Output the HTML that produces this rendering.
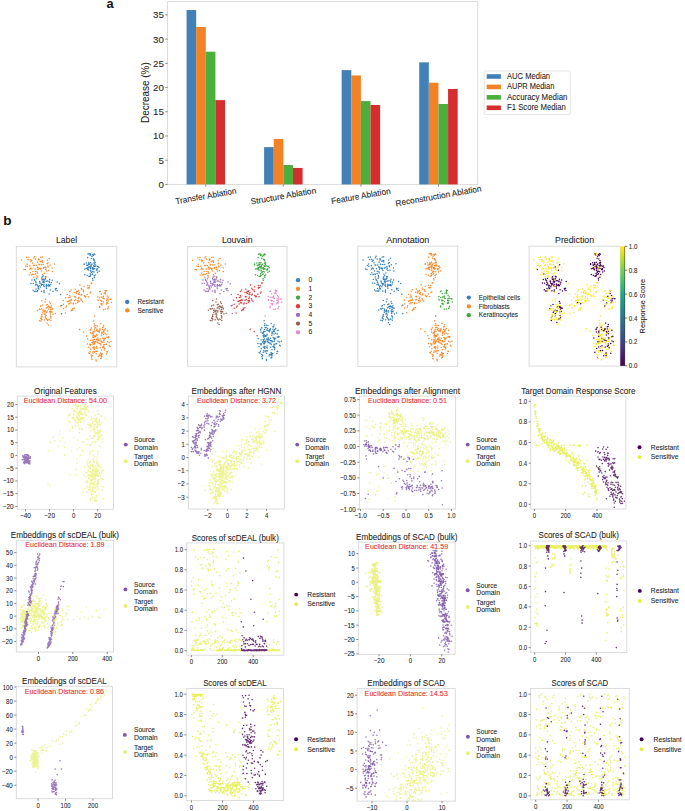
<!DOCTYPE html><html><head><meta charset="utf-8"><style>html,body{margin:0;padding:0;background:#fff;overflow:hidden;width:685px;height:811px;}svg{display:block;font-family:"Liberation Sans",sans-serif;}</style></head><body>
<svg width="685" height="811" viewBox="0 0 685 811">
<rect width="685" height="811" fill="#fff"/>
<text x="110" y="3.6" font-size="12.8" text-anchor="middle" dominant-baseline="central" fill="#111" font-weight="bold">a</text>
<rect x="167.6" y="1.5" width="310.1" height="182.9" fill="none" stroke="#d8d8d8" stroke-width="0.9"/>
<line x1="165.3" y1="184.4" x2="167.6" y2="184.4" stroke="#555" stroke-width="0.7"/>
<text x="163.9" y="184.4" font-size="9.86" text-anchor="end" dominant-baseline="central" fill="#222" textLength="5.41" lengthAdjust="spacingAndGlyphs" stroke="#222" stroke-width="0.07">0</text>
<line x1="165.3" y1="160.19" x2="167.6" y2="160.19" stroke="#555" stroke-width="0.7"/>
<text x="163.9" y="160.19" font-size="9.86" text-anchor="end" dominant-baseline="central" fill="#222" textLength="5.41" lengthAdjust="spacingAndGlyphs" stroke="#222" stroke-width="0.07">5</text>
<line x1="165.3" y1="135.97" x2="167.6" y2="135.97" stroke="#555" stroke-width="0.7"/>
<text x="163.9" y="135.97" font-size="9.86" text-anchor="end" dominant-baseline="central" fill="#222" textLength="10.82" lengthAdjust="spacingAndGlyphs" stroke="#222" stroke-width="0.07">10</text>
<line x1="165.3" y1="111.76" x2="167.6" y2="111.76" stroke="#555" stroke-width="0.7"/>
<text x="163.9" y="111.76" font-size="9.86" text-anchor="end" dominant-baseline="central" fill="#222" textLength="10.82" lengthAdjust="spacingAndGlyphs" stroke="#222" stroke-width="0.07">15</text>
<line x1="165.3" y1="87.54" x2="167.6" y2="87.54" stroke="#555" stroke-width="0.7"/>
<text x="163.9" y="87.54" font-size="9.86" text-anchor="end" dominant-baseline="central" fill="#222" textLength="10.82" lengthAdjust="spacingAndGlyphs" stroke="#222" stroke-width="0.07">20</text>
<line x1="165.3" y1="63.33" x2="167.6" y2="63.33" stroke="#555" stroke-width="0.7"/>
<text x="163.9" y="63.33" font-size="9.86" text-anchor="end" dominant-baseline="central" fill="#222" textLength="10.82" lengthAdjust="spacingAndGlyphs" stroke="#222" stroke-width="0.07">25</text>
<line x1="165.3" y1="39.11" x2="167.6" y2="39.11" stroke="#555" stroke-width="0.7"/>
<text x="163.9" y="39.11" font-size="9.86" text-anchor="end" dominant-baseline="central" fill="#222" textLength="10.82" lengthAdjust="spacingAndGlyphs" stroke="#222" stroke-width="0.07">30</text>
<line x1="165.3" y1="14.9" x2="167.6" y2="14.9" stroke="#555" stroke-width="0.7"/>
<text x="163.9" y="14.9" font-size="9.86" text-anchor="end" dominant-baseline="central" fill="#222" textLength="10.82" lengthAdjust="spacingAndGlyphs" stroke="#222" stroke-width="0.07">35</text>
<text x="145.6" y="92.6" font-size="10.44" text-anchor="middle" dominant-baseline="central" fill="#222" transform="rotate(-90 145.6 92.6)" textLength="60.63" lengthAdjust="spacingAndGlyphs" stroke="#222" stroke-width="0.07">Decrease (%)</text>
<rect x="186.56" y="10.05" width="9.62" height="174.35" fill="#4281b8"/>
<rect x="196.18" y="27" width="9.62" height="157.4" fill="#f18226"/>
<rect x="205.8" y="51.7" width="9.62" height="132.7" fill="#4bae3d"/>
<rect x="215.42" y="100.13" width="9.62" height="84.27" fill="#d62e2e"/>
<line x1="205.8" y1="184.4" x2="205.8" y2="186.6" stroke="#555" stroke-width="0.7"/>
<text x="205.8" y="195.9" font-size="8.47" text-anchor="middle" dominant-baseline="central" fill="#222" transform="rotate(-10 205.8 195.9)" textLength="61.78" lengthAdjust="spacingAndGlyphs" stroke="#222" stroke-width="0.07">Transfer Ablation</text>
<rect x="264.11" y="147.11" width="9.62" height="37.29" fill="#4281b8"/>
<rect x="273.73" y="138.88" width="9.62" height="45.52" fill="#f18226"/>
<rect x="283.35" y="165.03" width="9.62" height="19.37" fill="#4bae3d"/>
<rect x="292.97" y="167.93" width="9.62" height="16.47" fill="#d62e2e"/>
<line x1="283.35" y1="184.4" x2="283.35" y2="186.6" stroke="#555" stroke-width="0.7"/>
<text x="283.35" y="195.9" font-size="8.47" text-anchor="middle" dominant-baseline="central" fill="#222" transform="rotate(-10 283.35 195.9)" textLength="66.39" lengthAdjust="spacingAndGlyphs" stroke="#222" stroke-width="0.07">Structure Ablation</text>
<rect x="341.66" y="70.11" width="9.62" height="114.29" fill="#4281b8"/>
<rect x="351.28" y="75.43" width="9.62" height="108.97" fill="#f18226"/>
<rect x="360.9" y="101.1" width="9.62" height="83.3" fill="#4bae3d"/>
<rect x="370.52" y="104.97" width="9.62" height="79.43" fill="#d62e2e"/>
<line x1="360.9" y1="184.4" x2="360.9" y2="186.6" stroke="#555" stroke-width="0.7"/>
<text x="360.9" y="195.9" font-size="8.47" text-anchor="middle" dominant-baseline="central" fill="#222" transform="rotate(-10 360.9 195.9)" textLength="60.02" lengthAdjust="spacingAndGlyphs" stroke="#222" stroke-width="0.07">Feature Ablation</text>
<rect x="419.21" y="62.36" width="9.62" height="122.04" fill="#4281b8"/>
<rect x="428.83" y="82.7" width="9.62" height="101.7" fill="#f18226"/>
<rect x="438.45" y="104.01" width="9.62" height="80.39" fill="#4bae3d"/>
<rect x="448.07" y="88.99" width="9.62" height="95.41" fill="#d62e2e"/>
<line x1="438.45" y1="184.4" x2="438.45" y2="186.6" stroke="#555" stroke-width="0.7"/>
<text x="438.45" y="195.9" font-size="8.47" text-anchor="middle" dominant-baseline="central" fill="#222" transform="rotate(-10 438.45 195.9)" textLength="87.07" lengthAdjust="spacingAndGlyphs" stroke="#222" stroke-width="0.07">Reconstruction Ablation</text>
<rect x="484.2" y="71" width="86" height="43.5" fill="#fff" stroke="#dedede" stroke-width="0.8" rx="1.5"/>
<rect x="486.7" y="74.2" width="14.2" height="4.6" fill="#4281b8"/>
<text x="507" y="76.5" font-size="8.24" text-anchor="start" dominant-baseline="central" fill="#222" textLength="43.09" lengthAdjust="spacingAndGlyphs" stroke="#222" stroke-width="0.07">AUC Median</text>
<rect x="486.7" y="84.63" width="14.2" height="4.6" fill="#f18226"/>
<text x="507" y="86.93" font-size="8.24" text-anchor="start" dominant-baseline="central" fill="#222" textLength="47.35" lengthAdjust="spacingAndGlyphs" stroke="#222" stroke-width="0.07">AUPR Median</text>
<rect x="486.7" y="95.06" width="14.2" height="4.6" fill="#4bae3d"/>
<text x="507" y="97.36" font-size="8.24" text-anchor="start" dominant-baseline="central" fill="#222" textLength="60.50" lengthAdjust="spacingAndGlyphs" stroke="#222" stroke-width="0.07">Accuracy Median</text>
<rect x="486.7" y="105.49" width="14.2" height="4.6" fill="#d62e2e"/>
<text x="507" y="107.79" font-size="8.24" text-anchor="start" dominant-baseline="central" fill="#222" textLength="58.83" lengthAdjust="spacingAndGlyphs" stroke="#222" stroke-width="0.07">F1 Score Median</text>
<text x="7.3" y="220.9" font-size="13.5" text-anchor="middle" dominant-baseline="central" fill="#111" font-weight="bold">b</text>
<rect x="16.3" y="246.3" width="100.5" height="120.6" fill="none" stroke="#d8d8d8" stroke-width="0.9"/>
<text x="66.6" y="240" font-size="9.11" text-anchor="middle" dominant-baseline="central" fill="#222" textLength="21.18" lengthAdjust="spacingAndGlyphs" stroke="#222" stroke-width="0.07">Label</text>
<path d="M38.2 269.5h0M30.8 261.5h0M37.1 277.0h0M31.9 268.9h0M41.1 261.2h0M47.3 260.1h0M21.5 260.1h0M40.9 269.3h0M38.0 268.0h0M35.6 259.1h0M50.0 265.0h0M47.9 266.0h0M39.6 268.2h0M37.2 277.1h0M46.6 270.9h0M27.1 264.3h0M35.7 271.6h0M42.7 279.5h0M41.3 264.8h0M28.2 259.7h0M45.4 278.2h0M30.0 269.5h0M34.4 265.3h0M45.7 267.2h0M33.9 277.3h0M35.2 268.9h0M38.5 259.0h0M32.6 274.2h0M37.3 272.0h0M48.6 270.6h0M25.8 265.9h0M29.8 265.8h0M31.7 260.5h0M43.6 267.7h0M44.5 273.2h0M37.8 267.4h0M42.4 262.2h0M40.3 268.6h0M27.3 266.5h0M47.1 263.8h0M42.3 257.1h0M52.4 271.4h0M38.6 260.1h0M33.5 265.4h0M34.6 256.6h0M35.6 273.7h0M32.5 263.0h0M39.3 264.8h0M26.8 257.5h0M33.9 258.0h0M29.2 274.9h0M37.6 262.3h0M45.6 269.5h0M30.7 268.3h0M39.0 259.2h0M52.1 267.9h0M39.0 264.2h0M45.1 267.2h0M37.0 275.7h0M43.1 264.6h0M46.1 277.1h0M42.5 274.5h0M48.1 267.0h0M25.4 269.6h0M54.5 263.9h0M48.0 262.8h0M49.2 258.5h0M41.0 268.5h0M40.3 261.5h0M38.5 260.1h0M43.5 268.5h0M30.2 259.8h0M29.9 266.1h0M41.5 270.9h0M24.0 269.4h0M40.7 257.2h0M45.8 269.1h0M34.0 274.6h0M31.5 275.1h0M28.9 257.2h0M40.0 268.2h0M37.7 273.2h0M42.3 260.8h0M30.4 273.0h0M37.3 266.9h0M33.0 271.4h0M37.9 267.8h0M36.3 265.3h0" stroke="#f8892a" stroke-width="1.50" stroke-linecap="round"/>
<path d="M47.1 285.5h0M40.0 283.3h0M57.1 290.8h0M49.8 286.1h0M42.4 284.4h0M56.6 288.6h0M39.8 282.0h0M48.5 285.9h0M35.5 285.1h0M41.3 284.2h0M45.3 276.7h0M37.6 290.4h0M49.1 294.0h0M49.3 282.2h0M44.4 280.0h0M42.8 279.7h0M34.4 279.4h0M37.2 291.5h0M46.5 288.6h0M42.9 282.2h0M39.2 285.7h0M52.2 280.3h0M40.4 287.1h0M46.2 287.1h0M44.1 286.6h0M49.2 285.8h0M33.1 290.2h0M43.2 276.0h0M39.0 289.0h0M46.2 281.2h0M44.0 284.5h0M45.4 279.1h0M53.0 291.5h0M48.6 284.8h0M41.7 278.3h0M50.8 284.4h0M38.1 286.5h0M41.4 291.2h0M34.7 280.3h0M55.3 288.8h0M41.4 283.9h0M57.2 281.9h0M31.0 283.4h0M34.4 291.4h0M36.0 282.7h0M44.0 282.5h0M42.0 279.8h0M44.1 290.4h0M44.5 281.9h0M51.3 282.6h0M38.2 287.6h0M38.4 288.8h0M49.3 285.2h0M43.6 285.8h0M37.2 285.3h0M49.7 279.5h0M44.0 291.6h0M35.7 281.4h0M47.5 281.0h0M49.1 281.3h0M36.6 278.8h0M59.4 283.7h0M44.2 286.4h0M31.9 279.9h0M50.4 290.0h0M33.3 283.5h0M35.8 291.3h0M42.1 277.1h0M55.6 290.0h0M41.3 285.3h0M43.7 279.3h0M44.1 292.7h0M43.3 281.2h0M39.6 281.4h0M36.1 288.9h0M46.5 284.5h0M36.8 284.2h0M46.3 285.5h0M92.0 256.4h0M92.1 268.0h0M89.8 263.9h0M90.5 262.5h0M86.4 268.6h0M93.6 265.7h0M94.1 254.0h0M92.7 269.0h0M88.8 264.8h0M93.6 268.4h0M94.1 275.8h0M92.7 254.8h0M93.3 255.3h0M88.9 276.6h0M92.9 280.3h0M91.2 264.9h0M88.6 270.1h0M92.2 274.5h0M91.4 272.4h0M96.4 269.9h0M93.3 259.1h0M94.2 266.4h0M84.2 264.0h0M90.2 273.7h0M89.0 266.7h0M94.1 272.1h0M96.7 269.2h0M95.2 262.6h0M91.0 266.4h0M97.6 266.6h0M87.4 265.4h0M95.2 274.9h0M87.6 269.4h0M84.9 274.8h0M93.9 263.1h0M90.6 275.3h0M87.9 268.4h0M94.7 268.8h0M92.0 264.1h0M92.6 273.9h0M89.7 276.2h0M92.6 278.6h0M87.4 267.7h0M88.0 254.1h0M94.6 260.9h0M92.6 271.6h0M93.9 259.9h0M87.1 275.5h0M88.4 264.1h0M94.8 254.5h0M95.9 265.9h0M90.1 276.2h0M94.6 262.9h0M99.2 271.2h0M90.8 270.2h0M90.2 253.8h0M88.4 264.3h0M97.1 268.8h0M86.3 262.9h0M85.0 269.1h0M90.3 266.2h0M89.0 253.8h0M97.5 272.2h0M98.1 266.4h0M90.4 267.5h0M91.3 258.4h0M90.6 270.9h0M86.7 265.2h0M92.9 267.7h0M88.7 267.4h0M88.7 262.7h0M94.4 277.6h0M95.0 264.5h0M94.1 259.7h0M90.0 255.2h0M93.3 269.2h0M90.8 255.0h0M87.6 257.4h0M94.8 265.9h0M92.1 271.7h0M97.1 270.1h0M93.5 255.6h0M90.5 268.4h0M98.9 267.6h0M84.1 264.6h0" stroke="#3580bb" stroke-width="1.50" stroke-linecap="round"/>
<path d="M42.8 312.7h0M49.2 306.8h0M41.4 308.7h0M50.4 303.7h0M46.3 304.9h0M39.2 309.0h0M45.5 299.2h0M50.5 316.0h0M42.0 316.6h0M40.6 306.2h0M47.6 320.4h0M51.2 307.7h0M43.9 311.4h0M52.5 308.5h0M45.0 312.1h0M53.1 314.3h0M40.9 318.3h0M50.3 313.9h0M45.9 315.4h0M44.3 314.3h0M47.1 311.1h0M46.3 318.4h0M45.2 316.8h0M47.4 304.4h0M45.3 317.4h0M47.0 323.2h0M51.8 311.7h0M47.4 307.2h0M50.1 312.3h0M51.0 317.1h0M46.8 319.5h0M42.9 310.7h0M39.5 320.7h0M40.9 321.1h0M39.9 309.4h0M52.4 308.9h0M50.0 307.4h0M46.3 308.1h0M46.8 312.2h0M44.3 320.1h0M50.9 320.7h0M50.5 309.7h0M41.6 316.8h0M50.2 311.5h0M49.7 311.5h0M41.3 319.0h0M42.0 314.7h0M41.9 300.7h0M48.9 319.4h0M51.7 312.2h0M49.3 319.7h0M45.2 310.9h0M41.9 319.5h0M48.8 306.1h0M48.4 309.0h0M48.3 324.9h0M43.1 309.3h0M46.8 312.4h0M37.4 310.4h0M48.3 306.8h0M45.3 314.0h0M49.7 302.1h0M44.8 311.6h0M55.3 313.4h0M41.6 316.2h0M50.6 311.7h0M50.9 309.5h0M45.1 302.0h0M40.9 305.7h0M51.5 306.1h0M50.9 318.3h0M50.2 307.5h0M40.7 318.3h0M42.7 305.1h0M45.1 310.4h0M78.3 294.0h0M71.0 303.1h0M67.4 301.5h0M77.7 291.5h0M83.7 291.7h0M71.5 300.3h0M81.8 289.6h0M66.5 306.1h0M77.8 302.5h0M81.7 294.4h0M74.7 296.7h0M71.1 310.8h0M69.1 300.8h0M76.1 292.8h0M79.0 301.5h0M63.5 304.3h0M79.3 294.5h0M78.7 297.3h0M68.8 297.5h0M68.6 304.1h0M75.2 297.2h0M84.0 286.8h0M60.5 306.0h0M74.3 292.5h0M78.2 298.7h0M69.8 291.6h0M74.4 300.5h0M69.7 303.0h0M71.0 290.1h0M68.1 301.4h0M84.3 295.5h0M87.3 294.4h0M87.8 285.5h0M79.9 285.1h0M71.2 299.6h0M67.3 294.5h0M78.7 300.7h0M75.4 296.8h0M79.3 292.8h0M91.1 283.2h0M65.7 297.8h0M88.0 287.7h0M85.3 296.9h0M70.1 300.9h0M85.0 296.7h0M90.0 293.1h0M63.5 308.4h0M75.8 303.6h0M72.7 309.9h0M80.8 298.9h0M69.8 300.4h0M81.4 300.2h0M69.6 295.6h0M78.3 290.8h0M70.1 297.1h0M81.4 288.4h0M74.3 308.0h0M77.4 300.8h0M88.0 288.4h0M73.5 303.2h0M89.3 287.7h0M89.6 285.8h0M63.1 300.4h0M72.8 308.5h0M75.2 297.0h0M76.7 293.5h0M76.4 291.3h0M83.4 290.2h0M73.2 304.1h0M82.5 301.4h0M75.1 289.3h0M91.7 283.0h0M65.4 313.1h0M85.8 296.4h0M71.9 310.0h0M75.6 299.7h0M81.1 295.3h0M66.0 307.2h0M99.5 291.7h0M98.2 300.5h0M102.0 304.9h0M103.4 309.7h0M100.1 291.4h0M106.0 291.1h0M106.9 302.8h0M107.2 302.8h0M103.5 301.9h0M107.8 308.9h0M108.6 306.8h0M105.3 292.4h0M111.0 299.2h0M97.9 299.9h0M104.1 298.7h0M110.0 299.1h0M101.6 297.3h0M99.7 297.7h0M105.2 309.2h0M105.6 294.0h0M101.9 303.6h0M108.0 301.1h0M107.2 295.9h0M97.8 296.7h0M104.2 293.6h0M106.6 290.8h0M100.9 303.9h0M108.2 297.3h0M100.6 300.4h0M105.2 290.4h0M106.6 300.7h0M101.9 300.9h0M99.7 307.4h0M106.9 299.0h0M103.3 296.3h0M107.8 303.3h0M101.1 301.1h0M108.1 299.2h0M101.3 293.9h0M103.2 296.8h0M103.1 298.2h0M111.4 302.4h0M107.9 308.3h0M99.8 306.5h0M106.4 304.0h0M94.6 347.3h0M94.5 335.9h0M100.2 347.8h0M104.3 338.8h0M103.0 347.4h0M101.8 341.5h0M90.9 344.6h0M97.8 338.1h0M96.1 360.0h0M105.3 328.8h0M99.2 330.9h0M91.8 358.9h0M110.0 346.4h0M98.7 356.5h0M99.2 343.3h0M99.3 330.2h0M104.3 349.9h0M94.5 343.0h0M90.1 351.7h0M101.8 356.4h0M103.9 338.8h0M102.1 333.2h0M98.0 339.6h0M87.7 338.8h0M99.9 330.1h0M90.7 340.3h0M94.3 337.1h0M96.5 339.5h0M93.4 331.5h0M93.2 333.4h0M93.0 344.1h0M94.1 344.2h0M101.5 335.7h0M93.0 332.6h0M105.2 333.7h0M107.0 337.3h0M92.1 333.7h0M95.6 336.7h0M103.7 344.8h0M100.7 358.5h0M103.4 327.1h0M98.7 340.1h0M105.2 338.6h0M97.5 340.3h0M90.5 332.7h0M100.2 338.7h0M93.5 342.1h0M92.0 359.3h0M96.1 351.3h0M96.4 339.2h0M102.6 327.4h0M96.4 330.2h0M92.3 342.7h0M103.1 332.0h0M92.9 347.7h0M107.7 337.5h0M101.5 354.0h0M106.4 344.2h0M107.7 341.7h0M100.3 343.7h0M97.2 351.2h0M103.7 346.6h0M103.6 334.5h0M94.7 352.2h0M103.9 340.2h0M92.9 336.1h0M93.5 335.1h0M92.2 355.7h0M94.4 324.0h0M106.8 351.7h0M93.3 341.0h0M89.5 353.4h0M94.8 351.4h0M102.5 329.6h0M108.6 337.4h0M106.2 344.3h0M96.6 334.6h0M100.0 355.3h0M88.5 347.2h0M102.3 354.0h0M92.7 352.9h0M94.3 339.5h0M90.2 330.2h0M104.4 330.0h0M103.8 342.0h0M100.9 344.9h0M96.1 353.7h0M106.9 334.5h0M101.7 333.9h0M91.1 355.0h0M95.3 336.0h0M99.3 332.2h0M96.5 339.8h0M90.8 349.2h0M94.8 327.9h0M101.7 332.3h0M106.5 354.0h0M97.2 331.0h0M101.3 355.0h0M107.4 352.0h0M102.7 347.1h0M100.8 353.5h0M111.1 341.6h0M98.6 340.1h0M97.1 328.9h0M100.6 352.9h0M101.6 350.1h0M94.5 349.3h0M92.2 342.6h0M102.9 338.0h0M109.3 345.7h0M108.9 337.1h0M97.6 342.1h0M99.2 354.9h0M98.2 339.8h0M93.1 337.3h0M95.3 341.5h0M102.3 342.2h0M101.4 341.8h0M101.3 358.1h0M104.0 331.9h0M97.0 342.1h0M107.8 330.7h0M89.7 344.3h0M96.8 335.4h0M94.1 348.5h0M96.4 348.1h0M98.2 331.5h0M99.9 341.0h0M97.5 325.9h0M101.2 341.1h0M107.5 330.9h0M94.2 330.0h0M95.8 325.6h0M90.5 329.6h0M94.5 342.0h0M104.8 339.1h0M103.7 330.8h0M104.1 348.0h0M108.6 336.9h0M90.5 345.5h0M100.0 329.1h0M96.7 346.5h0M93.1 351.3h0M95.8 327.8h0M103.7 325.2h0M104.1 338.7h0M91.6 357.0h0M100.8 323.7h0M101.2 356.3h0M97.9 342.8h0M88.8 353.0h0M91.4 328.1h0M104.7 344.5h0M94.1 343.9h0M94.0 347.0h0M96.1 360.9h0M104.7 348.5h0M109.2 342.6h0M92.7 340.0h0M96.9 348.4h0M94.7 342.8h0M94.2 329.9h0M87.4 344.0h0M94.7 331.8h0M79.6 329.5h0M83.6 331.9h0M86.6 336.1h0M93.7 321.1h0M94.2 325.9h0M94.7 316.2h0" stroke="#f8892a" stroke-width="1.50" stroke-linecap="round"/>
<path d="M61.5 305.4h0M61.5 313.8h0M60.5 294.5h0" stroke="#3580bb" stroke-width="1.50" stroke-linecap="round"/>
<path d="M90.7 292.1h0M88.7 297.0h0" stroke="#f8892a" stroke-width="1.50" stroke-linecap="round"/>
<rect x="187.5" y="246.5" width="99.5" height="119.8" fill="none" stroke="#d8d8d8" stroke-width="0.9"/>
<text x="237.2" y="240" font-size="9.11" text-anchor="middle" dominant-baseline="central" fill="#222" textLength="30.63" lengthAdjust="spacingAndGlyphs" stroke="#222" stroke-width="0.07">Louvain</text>
<path d="M209.1 269.5h0M201.9 261.6h0M208.1 277.0h0M203.0 269.0h0M212.0 261.3h0M218.2 260.2h0M192.6 260.2h0M211.9 269.4h0M209.0 268.1h0M206.6 259.2h0M220.8 265.1h0M218.8 266.1h0M210.5 268.2h0M208.2 277.1h0M217.5 270.9h0M198.2 264.3h0M206.8 271.6h0M213.7 279.5h0M212.2 264.9h0M199.3 259.8h0M216.3 278.1h0M201.1 269.5h0M205.4 265.4h0M216.6 267.3h0M204.9 277.3h0M206.2 269.0h0M209.5 259.1h0M203.6 274.2h0M208.3 272.0h0M219.5 270.6h0M196.9 265.9h0M200.9 265.9h0M202.7 260.6h0M214.5 267.7h0M215.4 273.2h0M208.8 267.5h0M213.4 262.3h0M211.3 268.7h0M198.4 266.5h0M218.0 263.9h0M213.2 257.2h0M223.3 271.4h0M209.6 260.2h0M204.6 265.5h0M205.7 256.7h0M206.6 273.7h0M203.6 263.1h0M210.2 264.9h0M197.9 257.7h0M204.9 258.1h0M200.2 274.9h0M208.6 262.4h0M216.5 269.5h0M201.8 268.3h0M210.0 259.3h0M223.0 268.0h0M210.0 264.3h0M216.0 267.3h0M208.0 275.7h0M214.1 264.7h0M217.0 277.1h0M213.5 274.5h0M219.0 267.1h0M196.5 269.7h0M225.3 264.0h0M218.9 262.9h0M220.0 258.6h0M212.0 268.6h0M211.3 261.6h0M209.5 260.2h0M214.4 268.6h0M201.3 259.9h0M200.9 266.1h0M212.4 270.9h0M195.1 269.4h0M211.7 257.4h0M216.7 269.2h0M205.1 274.6h0M202.5 275.1h0M200.0 257.4h0M211.0 268.3h0M208.7 273.2h0M213.2 260.9h0M201.5 273.0h0M208.3 267.0h0M204.0 271.4h0M208.9 267.9h0M207.3 265.4h0" stroke="#f8892a" stroke-width="1.50" stroke-linecap="round"/>
<path d="M218.0 285.4h0M210.9 283.3h0M227.9 290.7h0M220.7 286.0h0M213.4 284.3h0M227.4 288.5h0M210.7 281.9h0M219.4 285.8h0M206.5 285.1h0M212.2 284.2h0M216.2 276.7h0M208.6 290.3h0M220.0 293.8h0M220.2 282.1h0M215.3 280.0h0M213.7 279.7h0M205.4 279.3h0M208.2 291.4h0M217.4 288.5h0M213.8 282.2h0M210.2 285.7h0M223.0 280.2h0M211.3 287.0h0M217.1 287.1h0M215.0 286.6h0M220.1 285.7h0M204.1 290.1h0M214.2 276.0h0M210.0 288.9h0M217.1 281.1h0M214.9 284.5h0M216.3 279.1h0M223.8 291.4h0M219.5 284.7h0M212.7 278.3h0M221.7 284.4h0M209.1 286.4h0M212.4 291.1h0M205.7 280.3h0M226.1 288.7h0M212.3 283.8h0M228.0 281.9h0M202.1 283.3h0M205.4 291.3h0M207.1 282.7h0M215.0 282.5h0M212.9 279.8h0M215.0 290.3h0M215.4 281.9h0M222.2 282.6h0M209.2 287.6h0M209.4 288.7h0M220.2 285.2h0M214.5 285.7h0M208.1 285.2h0M220.5 279.5h0M214.9 291.5h0M206.7 281.3h0M218.4 281.0h0M220.0 281.3h0M207.6 278.8h0M230.2 283.7h0M215.1 286.3h0M203.0 279.9h0M221.3 290.0h0M204.3 283.5h0M206.8 291.2h0M213.1 277.1h0M226.4 290.0h0M212.2 285.3h0M214.6 279.3h0M215.1 292.5h0M214.3 281.2h0M210.5 281.3h0M207.1 288.8h0M217.4 284.4h0M207.8 284.1h0M217.2 285.4h0" stroke="#9a70c0" stroke-width="1.50" stroke-linecap="round"/>
<path d="M262.4 256.6h0M262.5 268.0h0M260.3 264.0h0M260.9 262.6h0M256.9 268.7h0M264.0 265.8h0M264.5 254.1h0M263.2 269.0h0M259.3 264.9h0M264.0 268.5h0M264.5 275.8h0M263.1 254.9h0M263.8 255.4h0M259.3 276.6h0M263.3 280.3h0M261.7 265.0h0M259.1 270.1h0M262.6 274.5h0M261.9 272.5h0M266.8 269.9h0M263.7 259.2h0M264.7 266.4h0M254.7 264.1h0M260.7 273.7h0M259.5 266.8h0M264.5 272.1h0M267.1 269.3h0M265.6 262.7h0M261.4 266.5h0M268.0 266.6h0M257.9 265.4h0M265.6 274.9h0M258.1 269.4h0M255.5 274.8h0M264.3 263.2h0M261.1 275.3h0M258.4 268.4h0M265.1 268.9h0M262.4 264.2h0M263.1 273.9h0M260.2 276.2h0M263.1 278.6h0M257.9 267.8h0M258.5 254.2h0M265.0 261.1h0M263.1 271.6h0M264.3 260.0h0M257.6 275.5h0M258.9 264.2h0M265.2 254.6h0M266.3 266.0h0M260.5 276.2h0M265.1 263.0h0M269.6 271.2h0M261.3 270.2h0M260.6 253.9h0M258.9 264.3h0M267.5 268.8h0M256.8 263.0h0M255.5 269.1h0M260.8 266.3h0M259.4 254.0h0M267.9 272.3h0M268.4 266.4h0M260.9 267.6h0M261.8 258.6h0M261.1 270.9h0M257.2 265.3h0M263.3 267.8h0M259.2 267.5h0M259.2 262.8h0M264.8 277.6h0M265.4 264.6h0M264.5 259.8h0M260.5 255.4h0M263.8 269.3h0M261.3 255.1h0M258.1 257.5h0M265.2 266.0h0M262.6 271.7h0M267.5 270.1h0M263.9 255.7h0M261.0 268.5h0M269.3 267.7h0M254.6 264.7h0" stroke="#39a739" stroke-width="1.50" stroke-linecap="round"/>
<path d="M213.8 312.5h0M220.1 306.6h0M212.3 308.5h0M221.3 303.5h0M217.2 304.8h0M210.2 308.8h0M216.4 299.0h0M221.3 315.8h0M212.9 316.3h0M211.5 306.0h0M218.4 320.1h0M222.0 307.5h0M214.9 311.2h0M223.4 308.3h0M216.0 311.9h0M223.9 314.1h0M211.9 318.0h0M221.2 313.6h0M216.8 315.1h0M215.2 314.0h0M217.9 310.8h0M217.2 318.1h0M216.2 316.6h0M218.3 304.2h0M216.3 317.1h0M217.9 322.9h0M222.6 311.4h0M218.3 307.0h0M221.0 312.0h0M221.8 316.8h0M217.7 319.2h0M213.8 310.4h0M210.4 320.4h0M211.9 320.8h0M210.9 309.2h0M223.3 308.7h0M220.9 307.2h0M217.2 307.9h0M217.7 312.0h0M215.2 319.8h0M221.8 320.4h0M221.4 309.5h0M212.5 316.6h0M221.0 311.3h0M220.6 311.2h0M212.2 318.7h0M212.9 314.5h0M212.8 300.5h0M219.8 319.1h0M222.6 311.9h0M220.2 319.4h0M216.1 310.6h0M212.9 319.2h0M219.7 305.9h0M219.3 308.8h0M219.2 324.6h0M214.1 309.0h0M217.7 312.1h0M208.4 310.2h0M219.2 306.6h0M216.3 313.8h0M220.6 301.9h0M215.8 311.4h0M226.1 313.2h0M212.5 316.0h0M221.5 311.5h0M221.7 309.3h0M216.0 301.9h0M211.8 305.5h0M222.3 305.9h0M221.8 318.0h0M221.1 307.3h0M211.6 318.0h0M213.6 304.9h0M216.0 310.2h0" stroke="#93604f" stroke-width="1.50" stroke-linecap="round"/>
<path d="M248.9 293.9h0M241.7 302.9h0M238.0 301.3h0M248.3 291.4h0M254.2 291.6h0M242.2 300.2h0M252.3 289.5h0M237.2 305.9h0M248.4 302.3h0M252.3 294.3h0M245.4 296.6h0M241.7 310.5h0M239.8 300.7h0M246.7 292.7h0M249.6 301.3h0M234.2 304.2h0M249.8 294.4h0M249.3 297.1h0M239.4 297.4h0M239.2 303.9h0M245.8 297.1h0M254.6 286.8h0M231.3 305.8h0M245.0 292.4h0M248.8 298.6h0M240.5 291.5h0M245.0 300.3h0M240.4 302.8h0M241.7 290.0h0M238.8 301.3h0M254.8 295.4h0M257.8 294.3h0M258.3 285.5h0M250.5 285.0h0M241.9 299.5h0M238.0 294.4h0M249.3 300.5h0M246.1 296.7h0M249.9 292.7h0M261.5 283.1h0M236.4 297.7h0M258.5 287.6h0M255.8 296.8h0M240.8 300.7h0M255.5 296.5h0M260.5 293.0h0M234.3 308.2h0M246.4 303.4h0M243.3 309.7h0M251.4 298.8h0M240.5 300.2h0M251.9 300.0h0M240.3 295.4h0M248.9 290.7h0M240.8 296.9h0M251.9 288.3h0M244.9 307.8h0M248.0 300.7h0M258.5 288.3h0M244.1 303.0h0M259.8 287.6h0M260.1 285.7h0M233.8 300.2h0M243.4 308.3h0M245.8 296.8h0M247.3 293.4h0M247.0 291.2h0M254.0 290.1h0M243.8 304.0h0M253.0 301.3h0M245.7 289.2h0M262.2 282.9h0M236.1 312.9h0M256.4 296.3h0M242.5 309.7h0M246.2 299.6h0M251.6 295.1h0M236.7 307.0h0" stroke="#d83a3a" stroke-width="1.50" stroke-linecap="round"/>
<path d="M269.9 291.6h0M268.6 300.3h0M272.4 304.7h0M273.8 309.4h0M270.5 291.3h0M276.3 291.0h0M277.2 302.7h0M277.5 302.6h0M273.8 301.7h0M278.1 308.7h0M278.9 306.6h0M275.7 292.3h0M281.2 299.1h0M268.3 299.8h0M274.4 298.6h0M280.2 298.9h0M272.0 297.2h0M270.1 297.5h0M275.5 309.0h0M276.0 293.8h0M272.2 303.4h0M278.2 301.0h0M277.5 295.7h0M268.2 296.6h0M274.5 293.5h0M276.9 290.7h0M271.3 303.7h0M278.4 297.1h0M271.0 300.2h0M275.5 290.3h0M276.9 300.5h0M272.2 300.8h0M270.1 307.2h0M277.2 298.8h0M273.7 296.1h0M278.1 303.1h0M271.4 300.9h0M278.4 299.0h0M271.7 293.8h0M273.5 296.7h0M273.5 298.0h0M281.6 302.2h0M278.2 308.1h0M270.2 306.3h0M276.7 303.8h0" stroke="#e583c8" stroke-width="1.50" stroke-linecap="round"/>
<path d="M265.1 346.8h0M264.9 335.5h0M270.6 347.3h0M274.6 338.4h0M273.4 346.9h0M272.1 341.1h0M261.4 344.1h0M268.2 337.7h0M266.5 359.5h0M275.7 328.5h0M269.5 330.5h0M262.2 358.3h0M280.3 345.9h0M269.1 356.0h0M269.6 342.9h0M269.6 329.8h0M274.6 349.5h0M264.9 342.6h0M260.5 351.2h0M272.2 355.8h0M274.2 338.4h0M272.4 332.9h0M268.4 339.2h0M258.1 338.4h0M270.3 329.8h0M261.1 339.9h0M264.8 336.7h0M266.9 339.0h0M263.8 331.2h0M263.6 333.1h0M263.4 343.7h0M264.5 343.8h0M271.8 335.3h0M263.4 332.2h0M275.6 333.3h0M277.3 336.9h0M262.5 333.3h0M266.0 336.3h0M274.0 344.4h0M271.0 357.9h0M273.7 326.8h0M269.1 339.7h0M275.5 338.2h0M267.9 339.9h0M261.0 332.3h0M270.6 338.3h0M263.9 341.7h0M262.4 358.8h0M266.5 350.8h0M266.8 338.8h0M272.9 327.0h0M266.8 329.9h0M262.8 342.2h0M273.4 331.6h0M263.4 347.2h0M278.0 337.1h0M271.9 353.5h0M276.7 343.8h0M278.0 341.3h0M270.7 343.3h0M267.6 350.7h0M274.0 346.1h0M274.0 334.1h0M265.1 351.7h0M274.3 339.8h0M263.3 335.7h0M264.0 334.7h0M262.7 355.2h0M264.8 323.7h0M277.1 351.2h0M263.7 340.5h0M260.0 352.9h0M265.3 350.9h0M272.9 329.2h0M278.9 337.0h0M276.5 343.8h0M267.0 334.2h0M270.3 354.7h0M259.0 346.7h0M272.7 353.4h0M263.2 352.4h0M264.7 339.0h0M260.6 329.9h0M274.7 329.6h0M274.2 341.5h0M271.3 344.5h0M266.5 353.2h0M277.2 334.1h0M272.0 333.5h0M261.6 354.5h0M265.7 335.6h0M269.7 331.8h0M266.9 339.4h0M261.3 348.7h0M265.2 327.6h0M272.0 331.9h0M276.8 353.5h0M267.6 330.6h0M271.7 354.5h0M277.7 351.5h0M273.0 346.6h0M271.1 353.0h0M281.3 341.2h0M269.0 339.7h0M267.5 328.6h0M271.0 352.4h0M272.0 349.6h0M264.9 348.8h0M262.7 342.1h0M273.2 337.6h0M279.6 345.2h0M279.1 336.7h0M268.0 341.7h0M269.6 354.4h0M268.5 339.4h0M263.5 336.9h0M265.8 341.1h0M272.6 341.8h0M271.8 341.4h0M271.7 357.5h0M274.3 331.5h0M267.4 341.7h0M278.1 330.4h0M260.1 343.8h0M267.2 335.0h0M264.5 348.0h0M266.8 347.6h0M268.6 331.1h0M270.3 340.6h0M267.9 325.6h0M271.5 340.7h0M277.8 330.6h0M264.6 329.6h0M266.2 325.3h0M260.9 329.3h0M265.0 341.6h0M275.1 338.7h0M274.0 330.4h0M274.4 347.5h0M278.9 336.5h0M260.9 345.0h0M270.3 328.8h0M267.1 346.0h0M263.6 350.8h0M266.2 327.5h0M274.0 324.9h0M274.4 338.3h0M262.0 356.5h0M271.2 323.4h0M271.6 355.8h0M268.3 342.4h0M259.2 352.5h0M261.8 327.7h0M275.1 344.0h0M264.5 343.4h0M264.4 346.5h0M266.5 360.3h0M275.0 348.0h0M279.4 342.1h0M263.2 339.6h0M267.3 347.9h0M265.1 342.4h0M264.6 329.5h0M257.9 343.5h0M265.1 331.4h0" stroke="#3580bb" stroke-width="1.50" stroke-linecap="round"/>
<path d="M250.2 329.2h0M254.2 331.6h0M257.1 335.8h0" stroke="#d83a3a" stroke-width="1.50" stroke-linecap="round"/>
<path d="M264.1 320.8h0M264.6 325.6h0" stroke="#3580bb" stroke-width="1.50" stroke-linecap="round"/>
<path d="M265.1 316.0h0" stroke="#e583c8" stroke-width="1.50" stroke-linecap="round"/>
<path d="M232.3 305.2h0M232.3 313.6h0M231.3 294.4h0" stroke="#9a70c0" stroke-width="1.50" stroke-linecap="round"/>
<path d="M261.1 292.0h0M259.1 296.8h0" stroke="#d83a3a" stroke-width="1.50" stroke-linecap="round"/>
<rect x="357.9" y="246.1" width="99.8" height="120.3" fill="none" stroke="#d8d8d8" stroke-width="0.9"/>
<text x="407.8" y="240" font-size="9.11" text-anchor="middle" dominant-baseline="central" fill="#222" textLength="43.05" lengthAdjust="spacingAndGlyphs" stroke="#222" stroke-width="0.07">Annotation</text>
<path d="M379.6 269.2h0M372.3 261.3h0M378.5 276.7h0M373.4 268.7h0M382.5 261.0h0M388.7 259.9h0M363.0 259.9h0M382.4 269.1h0M379.4 267.8h0M377.1 258.9h0M391.3 264.8h0M389.3 265.8h0M381.0 267.9h0M378.7 276.9h0M388.0 270.6h0M368.6 264.0h0M377.2 271.3h0M384.1 279.2h0M382.7 264.5h0M369.7 259.5h0M386.8 277.9h0M371.5 269.2h0M375.8 265.1h0M387.1 267.0h0M375.3 277.0h0M376.6 268.7h0M379.9 258.8h0M374.1 273.9h0M378.8 271.7h0M390.0 270.3h0M367.3 265.6h0M371.3 265.6h0M373.2 260.3h0M385.0 267.4h0M385.9 272.9h0M379.3 267.2h0M383.8 262.0h0M381.7 268.4h0M368.8 266.2h0M388.5 263.6h0M383.7 256.8h0M393.8 271.1h0M380.1 259.9h0M375.0 265.1h0M376.1 256.3h0M377.1 273.4h0M374.0 262.8h0M380.7 264.6h0M368.3 257.3h0M375.3 257.8h0M370.7 274.6h0M379.1 262.1h0M387.0 269.2h0M372.2 268.0h0M380.4 259.0h0M393.5 267.7h0M380.4 264.0h0M386.5 267.0h0M378.4 275.4h0M384.5 264.4h0M387.5 276.8h0M384.0 274.3h0M389.5 266.8h0M366.9 269.4h0M395.9 263.7h0M389.3 262.6h0M390.5 258.3h0M382.4 268.3h0M381.8 261.3h0M380.0 259.9h0M384.9 268.3h0M371.7 259.5h0M371.4 265.8h0M382.9 270.6h0M365.5 269.1h0M382.2 257.0h0M387.2 268.8h0M375.5 274.3h0M373.0 274.8h0M370.4 257.0h0M381.5 268.0h0M379.2 272.9h0M383.7 260.5h0M371.9 272.7h0M378.8 266.7h0M374.5 271.1h0M379.3 267.5h0M377.8 265.1h0M388.5 285.2h0M381.4 283.0h0M398.4 290.5h0M391.2 285.8h0M383.8 284.1h0M397.9 288.3h0M381.2 281.7h0M389.9 285.6h0M377.0 284.8h0M382.7 283.9h0M386.7 276.4h0M379.0 290.1h0M390.5 293.6h0M390.7 281.9h0M385.8 279.7h0M384.2 279.4h0M375.9 279.1h0M378.6 291.2h0M387.9 288.3h0M384.3 281.9h0M380.6 285.4h0M393.5 280.0h0M381.8 286.8h0M387.6 286.8h0M385.5 286.3h0M390.6 285.5h0M374.6 289.9h0M384.6 275.7h0M380.4 288.7h0M387.6 280.9h0M385.4 284.2h0M386.8 278.8h0M394.3 291.2h0M390.0 284.5h0M383.1 278.0h0M392.2 284.1h0M379.6 286.2h0M382.8 290.9h0M376.2 280.0h0M396.6 288.5h0M382.8 283.6h0M398.5 281.6h0M372.5 283.1h0M375.9 291.1h0M377.5 282.4h0M385.4 282.2h0M383.4 279.5h0M385.5 290.1h0M385.9 281.6h0M392.7 282.3h0M379.6 287.3h0M379.8 288.4h0M390.7 284.9h0M385.0 285.5h0M378.6 285.0h0M391.0 279.2h0M385.4 291.3h0M377.2 281.1h0M388.9 280.7h0M390.5 281.0h0M378.1 278.5h0M400.7 283.4h0M385.6 286.1h0M373.4 279.6h0M391.8 289.7h0M374.7 283.2h0M377.3 291.0h0M383.6 276.9h0M396.9 289.7h0M382.7 285.0h0M385.1 279.0h0M385.5 292.3h0M384.8 281.0h0M381.0 281.1h0M377.5 288.6h0M387.8 284.2h0M378.3 283.9h0M387.7 285.2h0" stroke="#3580bb" stroke-width="1.50" stroke-linecap="round"/>
<path d="M433.0 256.2h0M433.2 267.7h0M430.9 263.7h0M431.6 262.3h0M427.5 268.4h0M434.6 265.5h0M435.2 253.7h0M433.8 268.7h0M429.9 264.6h0M434.6 268.1h0M435.1 275.6h0M433.8 254.6h0M434.4 255.1h0M430.0 276.3h0M433.9 280.0h0M432.3 264.7h0M429.7 269.8h0M433.2 274.2h0M432.5 272.2h0M437.5 269.6h0M434.3 258.8h0M435.3 266.1h0M425.3 263.7h0M431.3 273.5h0M430.1 266.4h0M435.1 271.8h0M437.7 269.0h0M436.2 262.4h0M432.1 266.2h0M438.6 266.3h0M428.5 265.1h0M436.2 274.6h0M428.7 269.1h0M426.1 274.5h0M434.9 262.9h0M431.7 275.0h0M429.0 268.1h0M435.7 268.6h0M433.1 263.8h0M433.7 273.6h0M430.8 275.9h0M433.7 278.4h0M428.5 267.5h0M429.1 253.9h0M435.7 260.7h0M433.7 271.3h0M434.9 259.7h0M428.3 275.3h0M429.5 263.8h0M435.8 254.3h0M436.9 265.7h0M431.1 275.9h0M435.7 262.6h0M440.3 270.9h0M431.9 269.9h0M431.3 253.5h0M429.5 264.0h0M438.1 268.5h0M427.5 262.7h0M426.1 268.8h0M431.4 266.0h0M430.1 253.6h0M438.6 272.0h0M439.1 266.1h0M431.5 267.3h0M432.4 258.2h0M431.7 270.6h0M427.9 265.0h0M433.9 267.5h0M429.8 267.2h0M429.8 262.5h0M435.4 277.3h0M436.0 264.3h0M435.1 259.5h0M431.1 255.0h0M434.4 269.0h0M431.9 254.7h0M428.7 257.2h0M435.8 265.7h0M433.2 271.4h0M438.2 269.8h0M434.5 255.3h0M431.6 268.1h0M439.9 267.4h0M425.2 264.4h0" stroke="#f8892a" stroke-width="1.50" stroke-linecap="round"/>
<path d="M384.3 312.3h0M390.6 306.4h0M382.8 308.3h0M391.8 303.4h0M387.7 304.6h0M380.6 308.7h0M386.9 298.9h0M391.8 315.7h0M383.4 316.2h0M382.0 305.9h0M388.9 320.0h0M392.5 307.3h0M385.3 311.1h0M393.9 308.1h0M386.4 311.8h0M394.4 313.9h0M382.3 317.9h0M391.7 313.5h0M387.3 315.0h0M385.7 313.9h0M388.4 310.7h0M387.7 318.0h0M386.6 316.5h0M388.8 304.0h0M386.7 317.0h0M388.3 322.8h0M393.1 311.3h0M388.8 306.8h0M391.5 311.9h0M392.3 316.7h0M388.2 319.1h0M384.3 310.3h0M380.9 320.3h0M382.3 320.8h0M381.4 309.1h0M393.8 308.6h0M391.4 307.0h0M387.7 307.8h0M388.2 311.9h0M385.7 319.7h0M392.3 320.3h0M391.9 309.4h0M383.0 316.5h0M391.5 311.2h0M391.1 311.1h0M382.7 318.6h0M383.4 314.4h0M383.3 300.4h0M390.3 319.0h0M393.1 311.8h0M390.7 319.3h0M386.6 310.5h0M383.3 319.1h0M390.1 305.7h0M389.8 308.6h0M389.7 324.5h0M384.5 308.9h0M388.1 312.0h0M378.8 310.0h0M389.7 306.4h0M386.7 313.6h0M391.1 301.8h0M386.2 311.2h0M396.6 313.1h0M383.0 315.9h0M392.0 311.3h0M392.2 309.1h0M386.5 301.7h0M382.3 305.4h0M392.9 305.7h0M392.3 317.9h0M391.6 307.1h0M382.1 317.9h0M384.1 304.8h0M386.5 310.0h0" stroke="#3580bb" stroke-width="1.50" stroke-linecap="round"/>
<path d="M419.5 293.7h0M412.2 302.7h0M408.6 301.2h0M418.9 291.2h0M424.8 291.4h0M412.8 300.0h0M422.9 289.2h0M407.7 305.8h0M419.0 302.2h0M422.9 294.1h0M415.9 296.4h0M412.3 310.4h0M410.3 300.5h0M417.3 292.5h0M420.2 301.2h0M404.8 304.0h0M420.4 294.2h0M419.8 297.0h0M410.0 297.2h0M409.8 303.7h0M416.4 296.9h0M425.2 286.5h0M401.8 305.7h0M415.5 292.2h0M419.3 298.4h0M411.0 291.3h0M415.6 300.1h0M410.9 302.7h0M412.3 289.8h0M409.3 301.1h0M425.4 295.2h0M428.4 294.1h0M428.9 285.2h0M421.1 284.8h0M412.4 299.3h0M408.5 294.2h0M419.9 300.3h0M416.6 296.5h0M420.5 292.5h0M432.2 282.9h0M406.9 297.5h0M429.1 287.4h0M426.4 296.6h0M411.3 300.5h0M426.1 296.4h0M431.1 292.8h0M404.8 308.0h0M417.0 303.2h0M413.9 309.6h0M422.0 298.6h0M411.0 300.1h0M422.5 299.8h0M410.9 295.2h0M419.5 290.5h0M411.4 296.7h0M422.5 288.1h0M415.5 307.6h0M418.6 300.5h0M429.1 288.1h0M414.7 302.8h0M430.4 287.4h0M430.7 285.5h0M404.3 300.1h0M414.0 308.1h0M416.4 296.6h0M417.9 293.1h0M417.6 291.0h0M424.6 289.9h0M414.4 303.8h0M423.6 301.1h0M416.3 289.0h0M432.8 282.7h0M406.7 312.7h0M427.0 296.1h0M413.1 309.6h0M416.8 299.4h0M422.2 294.9h0M407.3 306.9h0" stroke="#f8892a" stroke-width="1.50" stroke-linecap="round"/>
<path d="M440.5 291.4h0M439.2 300.1h0M443.0 304.5h0M444.4 309.3h0M441.1 291.1h0M446.9 290.8h0M447.9 302.5h0M448.2 302.5h0M444.5 301.5h0M448.7 308.5h0M449.5 306.5h0M446.3 292.0h0M451.9 298.9h0M438.9 299.6h0M445.1 298.4h0M450.9 298.8h0M442.6 297.0h0M440.8 297.4h0M446.2 308.9h0M446.6 293.6h0M442.9 303.3h0M448.9 300.8h0M448.1 295.5h0M438.9 296.4h0M445.1 293.3h0M447.5 290.5h0M442.0 303.5h0M449.1 296.9h0M441.6 300.0h0M446.1 290.1h0M447.6 300.4h0M442.9 300.6h0M440.7 307.0h0M447.8 298.7h0M444.3 295.9h0M448.7 303.0h0M442.1 300.7h0M449.1 298.8h0M442.3 293.6h0M444.1 296.5h0M444.1 297.8h0M452.3 302.1h0M448.9 308.0h0M440.8 306.1h0M447.4 303.6h0" stroke="#39a739" stroke-width="1.50" stroke-linecap="round"/>
<path d="M435.7 346.9h0M435.5 335.5h0M441.3 347.4h0M445.3 338.4h0M444.0 346.9h0M442.8 341.1h0M432.0 344.1h0M438.9 337.7h0M437.1 359.5h0M446.3 328.4h0M440.2 330.5h0M432.8 358.4h0M451.0 345.9h0M439.8 356.0h0M440.2 342.9h0M440.3 329.7h0M445.3 349.5h0M435.6 342.6h0M431.2 351.2h0M442.9 355.9h0M444.9 338.4h0M443.1 332.8h0M439.0 339.2h0M428.8 338.4h0M440.9 329.7h0M431.8 339.8h0M435.4 336.7h0M437.6 339.0h0M434.5 331.1h0M434.3 333.0h0M434.0 343.7h0M435.2 343.8h0M442.5 335.3h0M434.0 332.2h0M446.2 333.3h0M448.0 336.8h0M433.1 333.3h0M436.6 336.2h0M444.7 344.4h0M441.7 358.0h0M444.3 326.7h0M439.8 339.7h0M446.2 338.1h0M438.5 339.9h0M431.6 332.3h0M441.2 338.3h0M434.6 341.7h0M433.1 358.8h0M437.2 350.8h0M437.5 338.8h0M443.6 327.0h0M437.4 329.8h0M433.4 342.2h0M444.1 331.6h0M434.0 347.2h0M448.6 337.1h0M442.5 353.5h0M447.4 343.8h0M448.7 341.3h0M441.4 343.3h0M438.3 350.8h0M444.6 346.1h0M444.6 334.1h0M435.7 351.8h0M444.9 339.8h0M434.0 335.6h0M434.6 334.7h0M433.3 355.2h0M435.5 323.7h0M447.8 351.2h0M434.3 340.5h0M430.6 353.0h0M435.9 351.0h0M443.5 329.2h0M449.6 337.0h0M447.1 343.9h0M437.7 334.2h0M441.0 354.8h0M429.6 346.7h0M443.3 353.5h0M433.8 352.4h0M435.3 339.0h0M431.2 329.8h0M445.3 329.5h0M444.8 341.5h0M441.9 344.5h0M437.1 353.3h0M447.9 334.1h0M442.7 333.5h0M432.2 354.6h0M436.3 335.5h0M440.3 331.8h0M437.5 339.4h0M431.9 348.7h0M435.8 327.5h0M442.7 331.9h0M447.4 353.5h0M438.2 330.6h0M442.3 354.5h0M448.3 351.5h0M443.7 346.6h0M441.8 353.1h0M452.0 341.2h0M439.6 339.7h0M438.1 328.5h0M441.6 352.5h0M442.6 349.6h0M435.5 348.9h0M433.3 342.1h0M443.9 337.6h0M450.3 345.2h0M449.8 336.7h0M438.6 341.7h0M440.2 354.4h0M439.2 339.3h0M434.2 336.9h0M436.4 341.1h0M443.3 341.8h0M442.4 341.4h0M442.3 357.6h0M444.9 331.5h0M438.0 341.7h0M448.8 330.3h0M430.8 343.8h0M437.9 334.9h0M435.2 348.1h0M437.4 347.7h0M439.2 331.1h0M440.9 340.6h0M438.6 325.5h0M442.2 340.7h0M448.5 330.5h0M435.2 329.6h0M436.9 325.2h0M431.5 329.2h0M435.6 341.6h0M445.8 338.7h0M444.6 330.4h0M445.1 347.5h0M449.5 336.5h0M431.5 345.0h0M441.0 328.7h0M437.8 346.0h0M434.2 350.9h0M436.8 327.4h0M444.7 324.8h0M445.1 338.3h0M432.7 356.5h0M441.8 323.3h0M442.2 355.8h0M438.9 342.4h0M429.9 352.5h0M432.4 327.7h0M445.7 344.0h0M435.1 343.4h0M435.1 346.5h0M437.2 360.4h0M445.7 348.1h0M450.1 342.1h0M433.8 339.6h0M437.9 348.0h0M435.7 342.4h0M435.2 329.5h0M428.5 343.5h0M435.8 331.4h0M420.8 329.1h0M424.8 331.5h0M427.8 335.7h0M434.7 320.7h0M435.2 325.5h0" stroke="#f8892a" stroke-width="1.50" stroke-linecap="round"/>
<path d="M435.7 315.9h0" stroke="#39a739" stroke-width="1.50" stroke-linecap="round"/>
<path d="M402.8 305.0h0M402.8 313.5h0M401.8 294.2h0" stroke="#3580bb" stroke-width="1.50" stroke-linecap="round"/>
<path d="M431.8 291.8h0M429.8 296.6h0" stroke="#f8892a" stroke-width="1.50" stroke-linecap="round"/>
<rect x="529.1" y="246.2" width="91.1" height="119.8" fill="none" stroke="#d8d8d8" stroke-width="0.9"/>
<text x="574.6" y="240" font-size="9.11" text-anchor="middle" dominant-baseline="central" fill="#222" textLength="39.00" lengthAdjust="spacingAndGlyphs" stroke="#222" stroke-width="0.07">Prediction</text>
<path d="M548.9 269.2h0M542.3 261.3h0M547.9 276.7h0M543.3 268.7h0M551.5 261.0h0M557.2 259.9h0M533.8 259.9h0M551.4 269.1h0M548.7 267.8h0M546.6 258.9h0" stroke="#fde725" stroke-width="1.50" stroke-linecap="round"/>
<path d="M559.6 264.8h0" stroke="#440154" stroke-width="1.50" stroke-linecap="round"/>
<path d="M557.8 265.8h0M550.2 267.9h0M548.1 276.8h0M556.6 270.6h0M538.9 264.0h0M546.7 271.3h0M553.0 279.2h0M551.7 264.6h0M539.9 259.5h0M555.5 277.8h0M541.6 269.2h0M545.5 265.1h0M555.7 267.0h0M545.0 277.0h0M546.2 268.7h0M549.2 258.8h0" stroke="#fde725" stroke-width="1.50" stroke-linecap="round"/>
<path d="M543.8 273.9h0" stroke="#440154" stroke-width="1.50" stroke-linecap="round"/>
<path d="M548.2 271.7h0" stroke="#fde725" stroke-width="1.50" stroke-linecap="round"/>
<path d="M558.4 270.3h0" stroke="#440154" stroke-width="1.50" stroke-linecap="round"/>
<path d="M537.7 265.6h0M541.3 265.6h0M543.0 260.3h0M553.8 267.4h0M554.6 272.9h0M548.6 267.2h0M552.8 262.0h0M550.9 268.4h0M539.1 266.2h0M557.0 263.6h0M552.6 256.9h0M561.8 271.1h0M549.3 259.9h0M544.7 265.2h0M545.7 256.4h0M546.6 273.4h0M543.8 262.8h0M549.9 264.6h0M538.6 257.4h0M545.0 257.8h0M540.8 274.6h0M548.4 262.1h0M555.7 269.2h0M542.2 268.0h0M549.7 259.0h0M561.6 267.7h0M549.7 264.0h0" stroke="#fde725" stroke-width="1.50" stroke-linecap="round"/>
<path d="M555.2 267.0h0" stroke="#440154" stroke-width="1.50" stroke-linecap="round"/>
<path d="M547.9 275.4h0M553.4 264.4h0" stroke="#fde725" stroke-width="1.50" stroke-linecap="round"/>
<path d="M556.1 276.8h0" stroke="#440154" stroke-width="1.50" stroke-linecap="round"/>
<path d="M552.9 274.2h0M557.9 266.8h0" stroke="#fde725" stroke-width="1.50" stroke-linecap="round"/>
<path d="M537.4 269.4h0" stroke="#440154" stroke-width="1.50" stroke-linecap="round"/>
<path d="M563.7 263.7h0M557.8 262.6h0M558.9 258.3h0M551.5 268.3h0M550.9 261.3h0M549.3 259.9h0M553.8 268.3h0M541.7 259.6h0M541.4 265.8h0M551.9 270.6h0M536.1 269.1h0M551.3 257.1h0M555.8 268.9h0M545.2 274.3h0M542.9 274.8h0M540.5 257.1h0M550.6 268.0h0M548.5 272.9h0M552.7 260.6h0M541.9 272.7h0M548.1 266.7h0M544.2 271.1h0M548.7 267.6h0M547.3 265.1h0" stroke="#fde725" stroke-width="1.50" stroke-linecap="round"/>
<path d="M557.0 285.1h0M550.6 283.0h0M566.0 290.4h0M559.5 285.7h0M552.8 284.0h0M565.6 288.2h0M550.4 281.6h0M558.3 285.5h0M546.5 284.8h0M551.7 283.9h0M555.4 276.4h0" stroke="#440154" stroke-width="1.50" stroke-linecap="round"/>
<path d="M548.4 290.0h0" stroke="#fde725" stroke-width="1.50" stroke-linecap="round"/>
<path d="M558.8 293.5h0M559.0 281.8h0" stroke="#440154" stroke-width="1.50" stroke-linecap="round"/>
<path d="M554.6 279.7h0" stroke="#fde725" stroke-width="1.50" stroke-linecap="round"/>
<path d="M553.1 279.4h0M545.5 279.0h0" stroke="#440154" stroke-width="1.50" stroke-linecap="round"/>
<path d="M548.0 291.1h0" stroke="#fde725" stroke-width="1.50" stroke-linecap="round"/>
<path d="M556.5 288.2h0M553.2 281.9h0M549.8 285.4h0M561.6 279.9h0M550.9 286.7h0M556.2 286.8h0M554.3 286.3h0M558.9 285.4h0M544.3 289.8h0" stroke="#440154" stroke-width="1.50" stroke-linecap="round"/>
<path d="M553.5 275.7h0" stroke="#fde725" stroke-width="1.50" stroke-linecap="round"/>
<path d="M549.7 288.6h0M556.2 280.8h0M554.2 284.2h0M555.5 278.8h0M562.4 291.1h0M558.4 284.4h0M552.1 278.0h0M560.4 284.1h0M548.9 286.1h0M551.9 290.8h0M545.8 280.0h0M564.4 288.4h0M551.8 283.5h0M566.2 281.6h0M542.4 283.0h0M545.5 291.0h0M547.0 282.4h0M554.2 282.2h0M552.4 279.5h0M554.3 290.0h0M554.6 281.6h0M560.8 282.3h0M548.9 287.3h0M549.1 288.4h0M559.0 284.9h0M553.9 285.4h0M548.0 284.9h0M559.4 279.2h0M554.2 291.2h0M546.7 281.0h0M557.4 280.7h0M558.9 281.0h0M547.5 278.5h0" stroke="#440154" stroke-width="1.50" stroke-linecap="round"/>
<path d="M568.2 283.4h0M554.4 286.0h0" stroke="#fde725" stroke-width="1.50" stroke-linecap="round"/>
<path d="M543.3 279.6h0M560.1 289.7h0M544.5 283.2h0M546.8 290.9h0M552.5 276.8h0M564.7 289.7h0M551.7 285.0h0M553.9 279.0h0" stroke="#440154" stroke-width="1.50" stroke-linecap="round"/>
<path d="M554.3 292.2h0" stroke="#fde725" stroke-width="1.50" stroke-linecap="round"/>
<path d="M553.6 280.9h0M550.2 281.0h0M547.0 288.5h0M556.4 284.1h0M547.7 283.8h0M556.3 285.1h0M597.7 256.3h0M597.8 267.7h0" stroke="#440154" stroke-width="1.50" stroke-linecap="round"/>
<path d="M595.7 263.7h0" stroke="#fde725" stroke-width="1.50" stroke-linecap="round"/>
<path d="M596.3 262.3h0M592.6 268.4h0M599.1 265.5h0M599.6 253.8h0M598.4 268.7h0M594.8 264.6h0M599.2 268.2h0" stroke="#440154" stroke-width="1.50" stroke-linecap="round"/>
<path d="M599.6 275.5h0" stroke="#fde725" stroke-width="1.50" stroke-linecap="round"/>
<path d="M598.4 254.6h0M598.9 255.1h0M594.9 276.3h0M598.5 280.0h0M597.0 264.7h0M594.6 269.8h0M597.9 274.2h0M597.2 272.2h0M601.7 269.6h0M598.9 258.9h0M599.8 266.1h0M590.6 263.8h0M596.1 273.4h0M595.0 266.5h0M599.6 271.8h0M602.0 269.0h0M600.6 262.4h0M596.8 266.2h0M602.8 266.3h0M593.6 265.1h0M600.6 274.6h0M593.8 269.1h0M591.3 274.5h0M599.4 262.9h0M596.5 275.0h0M594.0 268.1h0M600.1 268.6h0M597.7 263.9h0M598.3 273.6h0M595.7 275.9h0M598.3 278.3h0M593.5 267.5h0" stroke="#440154" stroke-width="1.50" stroke-linecap="round"/>
<path d="M594.1 253.9h0" stroke="#fde725" stroke-width="1.50" stroke-linecap="round"/>
<path d="M600.1 260.8h0M598.3 271.3h0M599.4 259.7h0M593.3 275.2h0M594.5 263.9h0M600.2 254.3h0M601.3 265.7h0M596.0 275.9h0M600.1 262.7h0M604.3 270.9h0M596.6 269.9h0" stroke="#440154" stroke-width="1.50" stroke-linecap="round"/>
<path d="M596.1 253.6h0" stroke="#fde725" stroke-width="1.50" stroke-linecap="round"/>
<path d="M594.5 264.0h0M602.3 268.5h0M592.6 262.7h0M591.4 268.8h0M596.2 266.0h0M595.0 253.7h0M602.7 272.0h0M603.2 266.1h0M596.3 267.3h0M597.1 258.3h0M596.5 270.6h0M593.0 265.0h0" stroke="#440154" stroke-width="1.50" stroke-linecap="round"/>
<path d="M598.5 267.5h0M594.7 267.2h0" stroke="#fde725" stroke-width="1.50" stroke-linecap="round"/>
<path d="M594.7 262.5h0M599.9 277.3h0M600.4 264.3h0" stroke="#440154" stroke-width="1.50" stroke-linecap="round"/>
<path d="M599.6 259.5h0" stroke="#fde725" stroke-width="1.50" stroke-linecap="round"/>
<path d="M595.9 255.1h0" stroke="#440154" stroke-width="1.50" stroke-linecap="round"/>
<path d="M598.9 269.0h0M596.6 254.8h0M593.7 257.2h0" stroke="#fde725" stroke-width="1.50" stroke-linecap="round"/>
<path d="M600.2 265.7h0M597.8 271.4h0M602.4 269.8h0M599.1 255.4h0M596.4 268.2h0M604.0 267.4h0M590.6 264.4h0M553.2 312.2h0M558.9 306.3h0" stroke="#440154" stroke-width="1.50" stroke-linecap="round"/>
<path d="M551.8 308.2h0" stroke="#fde725" stroke-width="1.50" stroke-linecap="round"/>
<path d="M560.0 303.2h0" stroke="#440154" stroke-width="1.50" stroke-linecap="round"/>
<path d="M556.3 304.5h0" stroke="#fde725" stroke-width="1.50" stroke-linecap="round"/>
<path d="M549.8 308.5h0" stroke="#440154" stroke-width="1.50" stroke-linecap="round"/>
<path d="M555.6 298.7h0" stroke="#fde725" stroke-width="1.50" stroke-linecap="round"/>
<path d="M560.1 315.5h0M552.4 316.0h0M551.1 305.7h0" stroke="#440154" stroke-width="1.50" stroke-linecap="round"/>
<path d="M557.4 319.8h0" stroke="#fde725" stroke-width="1.50" stroke-linecap="round"/>
<path d="M560.7 307.2h0M554.1 310.9h0M561.9 308.0h0" stroke="#440154" stroke-width="1.50" stroke-linecap="round"/>
<path d="M555.2 311.6h0M562.4 313.8h0" stroke="#fde725" stroke-width="1.50" stroke-linecap="round"/>
<path d="M551.4 317.7h0" stroke="#440154" stroke-width="1.50" stroke-linecap="round"/>
<path d="M560.0 313.3h0M555.9 314.8h0M554.4 313.7h0" stroke="#fde725" stroke-width="1.50" stroke-linecap="round"/>
<path d="M557.0 310.5h0" stroke="#440154" stroke-width="1.50" stroke-linecap="round"/>
<path d="M556.3 317.8h0" stroke="#fde725" stroke-width="1.50" stroke-linecap="round"/>
<path d="M555.3 316.3h0" stroke="#440154" stroke-width="1.50" stroke-linecap="round"/>
<path d="M557.3 303.9h0M555.4 316.8h0" stroke="#fde725" stroke-width="1.50" stroke-linecap="round"/>
<path d="M556.9 322.6h0" stroke="#440154" stroke-width="1.50" stroke-linecap="round"/>
<path d="M561.2 311.1h0" stroke="#fde725" stroke-width="1.50" stroke-linecap="round"/>
<path d="M557.3 306.7h0M559.8 311.7h0" stroke="#440154" stroke-width="1.50" stroke-linecap="round"/>
<path d="M560.5 316.5h0M556.7 318.9h0M553.2 310.1h0M550.1 320.1h0" stroke="#fde725" stroke-width="1.50" stroke-linecap="round"/>
<path d="M551.4 320.5h0" stroke="#440154" stroke-width="1.50" stroke-linecap="round"/>
<path d="M550.5 308.9h0" stroke="#fde725" stroke-width="1.50" stroke-linecap="round"/>
<path d="M561.9 308.4h0M559.7 306.9h0" stroke="#440154" stroke-width="1.50" stroke-linecap="round"/>
<path d="M556.3 307.6h0" stroke="#fde725" stroke-width="1.50" stroke-linecap="round"/>
<path d="M556.7 311.7h0" stroke="#440154" stroke-width="1.50" stroke-linecap="round"/>
<path d="M554.5 319.5h0M560.5 320.1h0M560.1 309.2h0M552.0 316.3h0M559.8 311.0h0M559.4 310.9h0M551.7 318.4h0M552.4 314.2h0M552.3 300.2h0M558.7 318.8h0" stroke="#fde725" stroke-width="1.50" stroke-linecap="round"/>
<path d="M561.2 311.6h0M559.0 319.1h0M555.3 310.3h0" stroke="#440154" stroke-width="1.50" stroke-linecap="round"/>
<path d="M552.3 318.9h0M558.5 305.6h0M558.2 308.5h0M558.1 324.3h0M553.4 308.7h0M556.7 311.8h0M548.2 309.9h0M558.1 306.3h0" stroke="#fde725" stroke-width="1.50" stroke-linecap="round"/>
<path d="M555.4 313.5h0M559.4 301.6h0" stroke="#440154" stroke-width="1.50" stroke-linecap="round"/>
<path d="M555.0 311.1h0M564.4 312.9h0M552.0 315.7h0M560.2 311.2h0" stroke="#fde725" stroke-width="1.50" stroke-linecap="round"/>
<path d="M560.4 309.0h0" stroke="#440154" stroke-width="1.50" stroke-linecap="round"/>
<path d="M555.2 301.6h0M551.4 305.2h0M561.0 305.6h0" stroke="#fde725" stroke-width="1.50" stroke-linecap="round"/>
<path d="M560.5 317.7h0M559.8 307.0h0" stroke="#440154" stroke-width="1.50" stroke-linecap="round"/>
<path d="M551.2 317.7h0" stroke="#fde725" stroke-width="1.50" stroke-linecap="round"/>
<path d="M553.0 304.6h0" stroke="#440154" stroke-width="1.50" stroke-linecap="round"/>
<path d="M555.2 309.9h0M585.3 293.6h0M578.7 302.6h0M575.4 301.0h0M584.8 291.1h0M590.2 291.3h0M579.2 299.9h0M588.4 289.2h0M574.6 305.6h0M584.9 302.0h0M588.4 294.0h0M582.1 296.3h0M578.7 310.2h0M577.0 300.4h0M583.3 292.4h0M586.0 301.0h0M571.9 303.9h0M586.2 294.1h0M585.6 296.8h0M576.6 297.1h0M576.5 303.6h0M582.5 296.8h0M590.5 286.5h0M569.2 305.5h0M581.7 292.1h0M585.2 298.3h0M577.6 291.2h0M581.7 300.0h0" stroke="#fde725" stroke-width="1.50" stroke-linecap="round"/>
<path d="M577.5 302.5h0" stroke="#440154" stroke-width="1.50" stroke-linecap="round"/>
<path d="M578.7 289.7h0M576.0 301.0h0M590.7 295.1h0M593.5 294.0h0M593.9 285.2h0M586.8 284.7h0M578.9 299.2h0M575.3 294.1h0M585.7 300.2h0M582.7 296.4h0M586.2 292.4h0M596.9 282.8h0M573.8 297.4h0M594.1 287.3h0M591.7 296.5h0M577.9 300.4h0M591.4 296.2h0M595.9 292.7h0M571.9 307.9h0M583.0 303.1h0M580.2 309.4h0M587.6 298.5h0M577.6 299.9h0M588.1 299.7h0M577.5 295.1h0M585.3 290.4h0M577.9 296.6h0M588.1 288.0h0M581.7 307.5h0M584.5 300.4h0M594.1 288.0h0M580.9 302.7h0M595.3 287.3h0M595.6 285.4h0M571.5 299.9h0M580.3 308.0h0M582.5 296.5h0M583.8 293.1h0M583.6 290.9h0M590.0 289.8h0" stroke="#fde725" stroke-width="1.50" stroke-linecap="round"/>
<path d="M580.7 303.7h0" stroke="#440154" stroke-width="1.50" stroke-linecap="round"/>
<path d="M589.1 301.0h0M582.4 288.9h0M597.4 282.6h0M573.6 312.6h0M592.1 296.0h0M579.5 309.4h0M582.8 299.3h0M587.8 294.8h0M574.2 306.7h0M604.5 291.3h0" stroke="#fde725" stroke-width="1.50" stroke-linecap="round"/>
<path d="M603.3 300.0h0" stroke="#440154" stroke-width="1.50" stroke-linecap="round"/>
<path d="M606.8 304.4h0M608.1 309.1h0M605.1 291.0h0" stroke="#fde725" stroke-width="1.50" stroke-linecap="round"/>
<path d="M610.4 290.7h0M611.2 302.4h0M611.5 302.3h0" stroke="#440154" stroke-width="1.50" stroke-linecap="round"/>
<path d="M608.1 301.4h0M612.0 308.4h0M612.8 306.3h0M609.8 292.0h0" stroke="#fde725" stroke-width="1.50" stroke-linecap="round"/>
<path d="M614.9 298.8h0" stroke="#440154" stroke-width="1.50" stroke-linecap="round"/>
<path d="M603.1 299.5h0M608.7 298.3h0" stroke="#fde725" stroke-width="1.50" stroke-linecap="round"/>
<path d="M614.0 298.6h0" stroke="#440154" stroke-width="1.50" stroke-linecap="round"/>
<path d="M606.4 296.9h0M604.7 297.2h0M609.7 308.7h0" stroke="#fde725" stroke-width="1.50" stroke-linecap="round"/>
<path d="M610.1 293.5h0M606.7 303.1h0M612.2 300.7h0M611.5 295.4h0" stroke="#440154" stroke-width="1.50" stroke-linecap="round"/>
<path d="M603.0 296.3h0M608.7 293.2h0M610.9 290.4h0M605.8 303.4h0M612.4 296.8h0M605.5 299.9h0M609.6 290.0h0" stroke="#fde725" stroke-width="1.50" stroke-linecap="round"/>
<path d="M611.0 300.2h0" stroke="#440154" stroke-width="1.50" stroke-linecap="round"/>
<path d="M606.7 300.5h0M604.7 306.9h0M611.2 298.5h0M608.0 295.8h0M612.0 302.8h0M606.0 300.6h0" stroke="#fde725" stroke-width="1.50" stroke-linecap="round"/>
<path d="M612.3 298.7h0" stroke="#440154" stroke-width="1.50" stroke-linecap="round"/>
<path d="M606.1 293.5h0" stroke="#fde725" stroke-width="1.50" stroke-linecap="round"/>
<path d="M607.8 296.4h0" stroke="#440154" stroke-width="1.50" stroke-linecap="round"/>
<path d="M607.8 297.7h0M615.3 301.9h0M612.2 307.8h0" stroke="#fde725" stroke-width="1.50" stroke-linecap="round"/>
<path d="M604.8 306.0h0" stroke="#440154" stroke-width="1.50" stroke-linecap="round"/>
<path d="M610.8 303.5h0" stroke="#fde725" stroke-width="1.50" stroke-linecap="round"/>
<path d="M600.1 346.5h0" stroke="#440154" stroke-width="1.50" stroke-linecap="round"/>
<path d="M600.0 335.2h0" stroke="#fde725" stroke-width="1.50" stroke-linecap="round"/>
<path d="M605.2 347.0h0" stroke="#440154" stroke-width="1.50" stroke-linecap="round"/>
<path d="M608.9 338.1h0M607.7 346.6h0M606.6 340.8h0M596.7 343.8h0M603.0 337.4h0M601.4 359.2h0M609.8 328.2h0" stroke="#fde725" stroke-width="1.50" stroke-linecap="round"/>
<path d="M604.2 330.2h0M597.5 358.0h0" stroke="#440154" stroke-width="1.50" stroke-linecap="round"/>
<path d="M614.1 345.6h0" stroke="#fde725" stroke-width="1.50" stroke-linecap="round"/>
<path d="M603.8 355.7h0" stroke="#440154" stroke-width="1.50" stroke-linecap="round"/>
<path d="M604.3 342.6h0M604.3 329.5h0M608.9 349.2h0M600.0 342.3h0M596.0 350.9h0M606.6 355.5h0M608.5 338.1h0" stroke="#fde725" stroke-width="1.50" stroke-linecap="round"/>
<path d="M606.9 332.6h0" stroke="#440154" stroke-width="1.50" stroke-linecap="round"/>
<path d="M603.2 338.9h0" stroke="#fde725" stroke-width="1.50" stroke-linecap="round"/>
<path d="M593.8 338.1h0M604.9 329.5h0" stroke="#440154" stroke-width="1.50" stroke-linecap="round"/>
<path d="M596.5 339.6h0M599.8 336.4h0M601.8 338.7h0" stroke="#fde725" stroke-width="1.50" stroke-linecap="round"/>
<path d="M599.0 330.9h0M598.8 332.8h0" stroke="#440154" stroke-width="1.50" stroke-linecap="round"/>
<path d="M598.6 343.4h0M599.6 343.5h0" stroke="#fde725" stroke-width="1.50" stroke-linecap="round"/>
<path d="M606.3 335.0h0M598.6 331.9h0" stroke="#440154" stroke-width="1.50" stroke-linecap="round"/>
<path d="M609.7 333.0h0M611.3 336.6h0M597.8 333.0h0M601.0 336.0h0" stroke="#fde725" stroke-width="1.50" stroke-linecap="round"/>
<path d="M608.3 344.1h0" stroke="#440154" stroke-width="1.50" stroke-linecap="round"/>
<path d="M605.6 357.6h0" stroke="#fde725" stroke-width="1.50" stroke-linecap="round"/>
<path d="M608.0 326.5h0" stroke="#440154" stroke-width="1.50" stroke-linecap="round"/>
<path d="M603.8 339.4h0M609.7 337.9h0M602.7 339.6h0" stroke="#fde725" stroke-width="1.50" stroke-linecap="round"/>
<path d="M596.4 332.0h0" stroke="#440154" stroke-width="1.50" stroke-linecap="round"/>
<path d="M605.2 338.0h0" stroke="#fde725" stroke-width="1.50" stroke-linecap="round"/>
<path d="M599.1 341.4h0" stroke="#440154" stroke-width="1.50" stroke-linecap="round"/>
<path d="M597.7 358.5h0M601.5 350.5h0" stroke="#fde725" stroke-width="1.50" stroke-linecap="round"/>
<path d="M601.7 338.5h0M607.3 326.7h0M601.7 329.6h0" stroke="#440154" stroke-width="1.50" stroke-linecap="round"/>
<path d="M598.0 341.9h0M607.8 331.3h0" stroke="#fde725" stroke-width="1.50" stroke-linecap="round"/>
<path d="M598.6 346.9h0M611.9 336.8h0M606.4 353.2h0" stroke="#440154" stroke-width="1.50" stroke-linecap="round"/>
<path d="M610.8 343.5h0" stroke="#fde725" stroke-width="1.50" stroke-linecap="round"/>
<path d="M612.0 341.0h0" stroke="#440154" stroke-width="1.50" stroke-linecap="round"/>
<path d="M605.3 343.0h0" stroke="#fde725" stroke-width="1.50" stroke-linecap="round"/>
<path d="M602.5 350.4h0M608.3 345.8h0M608.3 333.8h0" stroke="#440154" stroke-width="1.50" stroke-linecap="round"/>
<path d="M600.2 351.4h0M608.5 339.5h0M598.5 335.4h0M599.1 334.4h0M597.9 354.9h0M599.9 323.4h0M611.1 350.9h0M598.9 340.2h0M595.5 352.6h0" stroke="#fde725" stroke-width="1.50" stroke-linecap="round"/>
<path d="M600.3 350.6h0M607.3 328.9h0" stroke="#440154" stroke-width="1.50" stroke-linecap="round"/>
<path d="M612.8 336.7h0" stroke="#fde725" stroke-width="1.50" stroke-linecap="round"/>
<path d="M610.6 343.5h0" stroke="#440154" stroke-width="1.50" stroke-linecap="round"/>
<path d="M601.9 333.9h0M604.9 354.4h0M594.6 346.4h0M607.1 353.1h0M598.4 352.1h0M599.8 338.7h0" stroke="#fde725" stroke-width="1.50" stroke-linecap="round"/>
<path d="M596.0 329.6h0" stroke="#440154" stroke-width="1.50" stroke-linecap="round"/>
<path d="M608.9 329.3h0M608.5 341.2h0M605.8 344.2h0M601.4 352.9h0M611.2 333.8h0M606.5 333.2h0M596.9 354.2h0M600.7 335.3h0M604.3 331.5h0M601.8 339.1h0" stroke="#fde725" stroke-width="1.50" stroke-linecap="round"/>
<path d="M596.7 348.4h0" stroke="#440154" stroke-width="1.50" stroke-linecap="round"/>
<path d="M600.2 327.3h0" stroke="#fde725" stroke-width="1.50" stroke-linecap="round"/>
<path d="M606.5 331.6h0M610.8 353.2h0" stroke="#440154" stroke-width="1.50" stroke-linecap="round"/>
<path d="M602.4 330.3h0M606.2 354.2h0M611.7 351.2h0" stroke="#fde725" stroke-width="1.50" stroke-linecap="round"/>
<path d="M607.4 346.3h0M605.7 352.7h0" stroke="#440154" stroke-width="1.50" stroke-linecap="round"/>
<path d="M615.0 340.9h0" stroke="#fde725" stroke-width="1.50" stroke-linecap="round"/>
<path d="M603.7 339.4h0" stroke="#440154" stroke-width="1.50" stroke-linecap="round"/>
<path d="M602.3 328.3h0M605.5 352.1h0M606.4 349.3h0M599.9 348.5h0" stroke="#fde725" stroke-width="1.50" stroke-linecap="round"/>
<path d="M597.9 341.8h0" stroke="#440154" stroke-width="1.50" stroke-linecap="round"/>
<path d="M607.6 337.3h0M613.4 344.9h0M613.0 336.4h0M602.8 341.4h0M604.2 354.1h0M603.3 339.1h0" stroke="#fde725" stroke-width="1.50" stroke-linecap="round"/>
<path d="M598.7 336.6h0" stroke="#440154" stroke-width="1.50" stroke-linecap="round"/>
<path d="M600.8 340.8h0M607.0 341.5h0M606.3 341.1h0M606.2 357.2h0" stroke="#fde725" stroke-width="1.50" stroke-linecap="round"/>
<path d="M608.6 331.2h0M602.2 341.4h0" stroke="#440154" stroke-width="1.50" stroke-linecap="round"/>
<path d="M612.0 330.1h0M595.6 343.5h0M602.1 334.7h0M599.6 347.7h0M601.7 347.3h0" stroke="#fde725" stroke-width="1.50" stroke-linecap="round"/>
<path d="M603.4 330.8h0M604.9 340.3h0" stroke="#440154" stroke-width="1.50" stroke-linecap="round"/>
<path d="M602.7 325.3h0" stroke="#fde725" stroke-width="1.50" stroke-linecap="round"/>
<path d="M606.0 340.4h0M611.8 330.3h0" stroke="#440154" stroke-width="1.50" stroke-linecap="round"/>
<path d="M599.7 329.3h0M601.2 325.0h0" stroke="#fde725" stroke-width="1.50" stroke-linecap="round"/>
<path d="M596.3 329.0h0" stroke="#440154" stroke-width="1.50" stroke-linecap="round"/>
<path d="M600.0 341.3h0M609.3 338.4h0M608.3 330.1h0M608.7 347.2h0" stroke="#fde725" stroke-width="1.50" stroke-linecap="round"/>
<path d="M612.8 336.2h0" stroke="#440154" stroke-width="1.50" stroke-linecap="round"/>
<path d="M596.3 344.7h0" stroke="#fde725" stroke-width="1.50" stroke-linecap="round"/>
<path d="M605.0 328.5h0M602.0 345.7h0" stroke="#440154" stroke-width="1.50" stroke-linecap="round"/>
<path d="M598.7 350.5h0" stroke="#fde725" stroke-width="1.50" stroke-linecap="round"/>
<path d="M601.2 327.2h0M608.3 324.6h0M608.7 338.0h0" stroke="#440154" stroke-width="1.50" stroke-linecap="round"/>
<path d="M597.3 356.2h0" stroke="#fde725" stroke-width="1.50" stroke-linecap="round"/>
<path d="M605.7 323.1h0M606.1 355.5h0" stroke="#440154" stroke-width="1.50" stroke-linecap="round"/>
<path d="M603.1 342.1h0" stroke="#fde725" stroke-width="1.50" stroke-linecap="round"/>
<path d="M594.8 352.2h0M597.1 327.4h0" stroke="#440154" stroke-width="1.50" stroke-linecap="round"/>
<path d="M609.3 343.7h0M599.6 343.1h0M599.5 346.2h0M601.5 360.0h0" stroke="#fde725" stroke-width="1.50" stroke-linecap="round"/>
<path d="M609.2 347.7h0M613.3 341.8h0" stroke="#440154" stroke-width="1.50" stroke-linecap="round"/>
<path d="M598.4 339.3h0M602.1 347.6h0M600.1 342.1h0M599.7 329.2h0M593.5 343.2h0M600.2 331.1h0M586.5 328.9h0M590.1 331.3h0M592.9 335.5h0M599.2 320.5h0M599.7 325.3h0M600.2 315.7h0M570.1 304.9h0M570.1 313.3h0M569.2 294.1h0M596.5 291.7h0M594.7 296.5h0" stroke="#fde725" stroke-width="1.50" stroke-linecap="round"/>
<circle cx="127.2" cy="302" r="2.15" fill="#3580bb"/>
<text x="137.4" y="301.7" font-size="6.61" text-anchor="start" dominant-baseline="central" fill="#222" textLength="26.31" lengthAdjust="spacingAndGlyphs" stroke="#222" stroke-width="0.07">Resistant</text>
<circle cx="127.2" cy="310.4" r="2.15" fill="#f8892a"/>
<text x="137.4" y="310.1" font-size="6.61" text-anchor="start" dominant-baseline="central" fill="#222" textLength="25.99" lengthAdjust="spacingAndGlyphs" stroke="#222" stroke-width="0.07">Sensitive</text>
<circle cx="298" cy="280.2" r="2.15" fill="#3580bb"/>
<text x="308.5" y="279.9" font-size="6.84" text-anchor="start" dominant-baseline="central" fill="#222" textLength="3.75" lengthAdjust="spacingAndGlyphs" stroke="#222" stroke-width="0.07">0</text>
<circle cx="298" cy="288.88" r="2.15" fill="#f8892a"/>
<text x="308.5" y="288.58" font-size="6.84" text-anchor="start" dominant-baseline="central" fill="#222" textLength="3.75" lengthAdjust="spacingAndGlyphs" stroke="#222" stroke-width="0.07">1</text>
<circle cx="298" cy="297.56" r="2.15" fill="#39a739"/>
<text x="308.5" y="297.26" font-size="6.84" text-anchor="start" dominant-baseline="central" fill="#222" textLength="3.75" lengthAdjust="spacingAndGlyphs" stroke="#222" stroke-width="0.07">2</text>
<circle cx="298" cy="306.24" r="2.15" fill="#d83a3a"/>
<text x="308.5" y="305.94" font-size="6.84" text-anchor="start" dominant-baseline="central" fill="#222" textLength="3.75" lengthAdjust="spacingAndGlyphs" stroke="#222" stroke-width="0.07">3</text>
<circle cx="298" cy="314.92" r="2.15" fill="#9a70c0"/>
<text x="308.5" y="314.62" font-size="6.84" text-anchor="start" dominant-baseline="central" fill="#222" textLength="3.75" lengthAdjust="spacingAndGlyphs" stroke="#222" stroke-width="0.07">4</text>
<circle cx="298" cy="323.6" r="2.15" fill="#93604f"/>
<text x="308.5" y="323.3" font-size="6.84" text-anchor="start" dominant-baseline="central" fill="#222" textLength="3.75" lengthAdjust="spacingAndGlyphs" stroke="#222" stroke-width="0.07">5</text>
<circle cx="298" cy="332.28" r="2.15" fill="#e583c8"/>
<text x="308.5" y="331.98" font-size="6.84" text-anchor="start" dominant-baseline="central" fill="#222" textLength="3.75" lengthAdjust="spacingAndGlyphs" stroke="#222" stroke-width="0.07">6</text>
<circle cx="468.8" cy="297.6" r="2.15" fill="#3580bb"/>
<text x="478.7" y="297.3" font-size="6.69" text-anchor="start" dominant-baseline="central" fill="#222" textLength="41.49" lengthAdjust="spacingAndGlyphs" stroke="#222" stroke-width="0.07">Epithelial cells</text>
<circle cx="468.8" cy="306.4" r="2.15" fill="#f8892a"/>
<text x="478.7" y="306.1" font-size="6.69" text-anchor="start" dominant-baseline="central" fill="#222" textLength="31.02" lengthAdjust="spacingAndGlyphs" stroke="#222" stroke-width="0.07">Fibroblasts</text>
<circle cx="468.8" cy="315.2" r="2.15" fill="#39a739"/>
<text x="478.7" y="314.9" font-size="6.69" text-anchor="start" dominant-baseline="central" fill="#222" textLength="39.41" lengthAdjust="spacingAndGlyphs" stroke="#222" stroke-width="0.07">Keratinocytes</text>
<defs><linearGradient id="vir" x1="0" y1="1" x2="0" y2="0"><stop offset="0.0" stop-color="#440154"/><stop offset="0.1" stop-color="#482374"/><stop offset="0.2" stop-color="#404387"/><stop offset="0.3" stop-color="#345e8d"/><stop offset="0.4" stop-color="#29788e"/><stop offset="0.5" stop-color="#20908c"/><stop offset="0.6" stop-color="#22a784"/><stop offset="0.7" stop-color="#44be70"/><stop offset="0.8" stop-color="#79d151"/><stop offset="0.9" stop-color="#bdde26"/><stop offset="1.0" stop-color="#fde724"/></linearGradient></defs>
<rect x="620.3" y="246.3" width="4.7" height="119.5" fill="url(#vir)"/>
<line x1="624.7" y1="246.3" x2="624.7" y2="365.8" stroke="#3a3a3a" stroke-width="0.6"/>
<line x1="620.3" y1="365.8" x2="625" y2="365.8" stroke="#3a3a3a" stroke-width="0.5"/>
<line x1="625" y1="365.8" x2="627.3" y2="365.8" stroke="#444" stroke-width="0.7"/>
<text x="628.8" y="365.8" font-size="6.6" text-anchor="start" dominant-baseline="central" fill="#222" textLength="8.59" lengthAdjust="spacingAndGlyphs" stroke="#222" stroke-width="0.07">0.0</text>
<line x1="625" y1="341.9" x2="627.3" y2="341.9" stroke="#444" stroke-width="0.7"/>
<text x="628.8" y="341.9" font-size="6.6" text-anchor="start" dominant-baseline="central" fill="#222" textLength="8.59" lengthAdjust="spacingAndGlyphs" stroke="#222" stroke-width="0.07">0.2</text>
<line x1="625" y1="318" x2="627.3" y2="318" stroke="#444" stroke-width="0.7"/>
<text x="628.8" y="318" font-size="6.6" text-anchor="start" dominant-baseline="central" fill="#222" textLength="8.59" lengthAdjust="spacingAndGlyphs" stroke="#222" stroke-width="0.07">0.4</text>
<line x1="625" y1="294.1" x2="627.3" y2="294.1" stroke="#444" stroke-width="0.7"/>
<text x="628.8" y="294.1" font-size="6.6" text-anchor="start" dominant-baseline="central" fill="#222" textLength="8.59" lengthAdjust="spacingAndGlyphs" stroke="#222" stroke-width="0.07">0.6</text>
<line x1="625" y1="270.2" x2="627.3" y2="270.2" stroke="#444" stroke-width="0.7"/>
<text x="628.8" y="270.2" font-size="6.6" text-anchor="start" dominant-baseline="central" fill="#222" textLength="8.59" lengthAdjust="spacingAndGlyphs" stroke="#222" stroke-width="0.07">0.8</text>
<line x1="625" y1="246.3" x2="627.3" y2="246.3" stroke="#444" stroke-width="0.7"/>
<text x="628.8" y="246.3" font-size="6.6" text-anchor="start" dominant-baseline="central" fill="#222" textLength="8.59" lengthAdjust="spacingAndGlyphs" stroke="#222" stroke-width="0.07">1.0</text>
<text x="642.8" y="306.2" font-size="7.97" text-anchor="middle" dominant-baseline="central" fill="#222" transform="rotate(-90 642.8 306.2)" textLength="54.42" lengthAdjust="spacingAndGlyphs" stroke="#222" stroke-width="0.07">Response Score</text>
<clipPath id="cp295"><rect x="17.3" y="396.1" width="96.2" height="113.2"/></clipPath>
<g clip-path="url(#cp295)">
<path d="M29.7 462.5h0M29.1 457.8h0M25.7 462.1h0M28.2 455.1h0M24.6 460.0h0M28.2 458.5h0M29.9 460.7h0M27.3 462.3h0M30.1 461.0h0M22.3 459.6h0M26.1 454.6h0M25.7 459.3h0M27.4 455.4h0M26.2 456.8h0M27.3 460.0h0M26.5 459.2h0M24.7 456.3h0M23.8 456.4h0M28.0 459.5h0M24.9 459.8h0M27.2 457.5h0M26.8 456.9h0M25.3 458.7h0M23.5 457.4h0M26.6 460.3h0M28.4 457.6h0M23.7 456.7h0M26.5 459.9h0M27.0 457.7h0M28.6 461.7h0M29.2 461.5h0M26.8 456.5h0M27.6 461.5h0M25.1 460.4h0M26.2 456.5h0M24.0 458.1h0M27.4 457.9h0M27.2 455.6h0M27.2 457.2h0M27.3 454.9h0M22.9 456.2h0M25.9 460.0h0M24.6 463.8h0M25.6 460.9h0M27.2 462.8h0M28.9 458.6h0M25.9 461.0h0M24.9 462.0h0M25.3 459.3h0M26.0 462.7h0M25.8 461.4h0M26.6 454.8h0M27.4 460.0h0M23.4 462.7h0M23.3 457.5h0M24.9 459.1h0M25.2 459.1h0M28.9 460.9h0M25.7 461.2h0M27.9 461.8h0M24.3 462.6h0M23.8 458.1h0M28.0 458.7h0M24.3 459.9h0M25.9 460.9h0M29.8 463.9h0M27.0 458.5h0M25.3 458.9h0M27.9 458.9h0M27.1 457.6h0M22.7 455.7h0M30.4 456.9h0M28.2 462.7h0M26.1 461.2h0M25.3 456.9h0M24.9 459.6h0M22.9 459.7h0M26.5 461.0h0M25.0 454.7h0M24.1 461.8h0M24.9 456.4h0M30.1 458.5h0M25.0 460.3h0M28.2 461.5h0M28.9 455.8h0M26.4 457.7h0M27.7 455.5h0M24.4 456.4h0M25.6 461.1h0M26.5 459.8h0M24.5 463.1h0M24.6 455.8h0M29.9 457.7h0M28.5 460.5h0M26.2 458.6h0M24.4 461.7h0M26.5 460.0h0M24.4 458.3h0M25.8 456.8h0M26.3 460.0h0M26.6 459.7h0M25.1 460.2h0M27.7 457.7h0M28.6 463.4h0M25.6 460.3h0M26.6 460.4h0M25.4 457.4h0M26.6 462.1h0M28.7 456.9h0M25.3 457.3h0" stroke="#7f57a8" stroke-width="1.60" stroke-linecap="round" stroke-opacity="0.8"/>
<path d="M81.2 422.1h0M72.5 426.8h0M69.0 421.4h0M92.5 464.3h0M79.6 429.6h0M77.3 399.8h0M88.3 478.6h0M95.6 488.1h0M98.9 432.4h0M69.4 415.4h0M99.4 421.9h0M84.1 475.6h0M93.8 471.4h0M93.2 465.3h0M99.9 430.0h0M94.2 469.1h0M73.7 417.6h0M92.6 474.5h0M87.8 487.8h0M89.6 486.0h0M95.4 474.4h0M100.6 466.5h0M96.2 497.3h0M79.1 427.8h0M92.0 438.3h0M92.4 490.2h0M83.0 404.2h0M80.8 418.3h0M82.1 428.7h0M92.9 422.0h0M89.3 467.6h0M92.6 466.0h0M75.7 402.4h0M93.6 418.5h0M89.1 425.8h0M98.4 438.4h0M90.1 451.2h0M53.4 437.4h0M97.4 462.3h0M91.0 426.5h0M95.0 478.2h0M90.1 483.4h0M90.2 466.0h0M94.1 491.7h0M95.4 465.7h0M92.3 472.9h0M75.7 411.5h0M77.6 409.0h0M93.8 435.8h0M98.0 465.7h0M82.3 419.2h0M87.3 464.0h0M93.4 435.6h0M79.5 411.2h0M84.2 404.4h0M97.7 475.2h0M93.4 459.6h0M88.1 476.5h0M94.4 469.2h0M97.0 471.3h0M99.6 414.5h0M98.1 464.6h0M98.3 439.8h0M59.4 434.0h0M99.4 472.0h0M78.3 422.3h0M86.8 486.2h0M81.4 418.1h0M78.1 405.3h0M96.6 500.9h0M98.0 470.8h0M94.5 482.0h0M101.3 416.1h0M75.1 398.8h0M92.1 476.8h0M64.8 455.2h0M92.8 483.0h0M98.3 469.5h0M77.9 419.4h0M101.8 422.4h0M101.2 446.8h0M94.3 462.1h0M77.1 413.5h0M95.7 420.3h0M98.2 434.1h0M97.1 422.0h0M97.5 481.9h0M96.2 474.4h0M101.5 470.6h0M78.2 418.3h0M94.3 424.4h0M91.3 405.3h0M97.2 459.9h0M93.2 467.1h0M102.3 442.0h0M95.5 479.1h0M95.0 436.3h0M90.2 471.6h0M72.8 417.8h0M96.6 474.9h0M97.5 480.2h0M95.0 491.3h0M95.7 424.5h0M104.6 418.3h0M94.9 441.5h0M92.6 470.1h0M101.8 473.3h0M48.3 450.9h0M75.9 406.8h0M90.5 490.5h0M90.3 468.8h0M80.2 405.7h0M90.7 424.7h0M88.5 476.0h0M72.4 400.9h0M91.8 474.2h0M75.0 405.0h0M78.5 414.6h0M81.6 419.5h0M90.7 500.8h0M96.7 474.8h0M74.3 411.2h0M85.5 404.8h0M97.8 436.5h0M86.0 439.2h0M93.0 478.4h0M72.6 402.8h0M95.3 481.0h0M86.8 480.8h0M92.3 470.2h0M89.0 411.9h0M99.2 466.7h0M96.4 463.8h0M91.7 425.7h0M79.8 411.7h0M90.0 468.4h0M94.9 475.6h0M90.2 465.8h0M93.6 476.0h0M90.5 485.0h0M83.5 399.9h0M95.2 501.6h0M92.2 419.3h0M88.3 465.7h0M78.7 411.7h0M98.1 480.7h0M91.3 476.8h0M84.1 420.8h0M87.0 407.1h0M97.0 490.0h0M96.2 470.4h0M75.5 425.6h0M99.9 423.6h0M78.5 422.5h0M80.3 407.9h0M94.7 421.2h0M102.2 478.4h0M91.5 475.3h0M97.8 484.4h0M94.3 429.7h0M77.7 422.2h0M90.7 476.9h0M93.0 484.5h0M92.8 469.6h0M88.0 407.1h0M98.1 476.7h0M94.6 474.1h0M75.9 469.4h0M102.5 478.8h0M90.6 465.0h0M94.6 426.3h0M84.5 467.0h0M89.1 474.8h0M96.3 421.0h0M77.6 417.4h0M97.7 454.2h0M92.6 491.4h0M80.6 414.5h0M68.3 415.4h0M88.0 439.0h0M80.8 421.5h0M92.1 487.1h0M73.6 414.5h0M86.2 409.8h0M94.7 469.6h0M79.7 399.4h0M99.0 421.3h0M98.0 413.6h0M103.3 479.6h0M91.9 470.2h0M101.5 472.2h0M50.3 486.0h0M80.1 401.1h0M91.9 486.5h0M72.6 427.9h0M98.7 436.4h0M86.6 408.7h0M72.3 418.6h0M86.7 472.7h0M92.7 450.9h0M74.1 437.5h0M92.1 484.3h0M93.5 460.8h0M95.8 476.0h0M90.4 427.8h0M98.9 475.2h0M96.7 469.5h0M93.2 482.4h0M71.7 451.2h0M89.9 487.4h0M97.7 483.1h0M86.4 415.1h0M89.8 489.5h0M72.1 408.6h0M91.2 480.5h0M94.7 429.8h0M80.5 413.5h0M79.8 420.5h0M88.2 466.2h0M77.0 463.1h0M93.8 466.7h0M85.6 416.1h0M78.9 420.4h0M82.6 414.2h0M92.8 477.3h0M98.3 470.6h0M92.5 442.5h0M99.0 433.9h0M97.3 441.7h0M102.7 439.0h0M93.1 475.7h0M91.8 494.6h0M84.5 411.0h0M94.7 476.3h0M81.3 412.9h0M90.3 488.3h0M90.5 472.5h0M77.2 406.8h0M58.3 446.2h0M84.7 408.2h0M93.9 426.9h0M82.3 451.1h0M85.3 413.7h0M96.8 461.6h0M95.4 492.3h0M85.4 404.9h0M96.1 419.6h0M98.0 487.2h0M82.0 409.2h0M98.0 483.9h0M91.3 483.2h0M92.5 471.9h0M70.0 414.0h0M83.7 418.2h0M92.5 478.3h0M90.7 444.9h0M84.4 418.0h0M79.3 412.8h0M94.8 457.0h0M94.9 484.3h0M76.5 459.3h0M85.8 476.7h0M96.7 427.2h0M102.7 486.6h0M76.7 408.3h0M79.0 419.5h0M80.1 402.4h0M94.6 475.9h0M97.8 425.7h0M88.9 471.0h0M95.0 476.8h0M90.4 475.1h0M91.4 492.6h0M82.0 441.8h0M94.1 479.3h0M98.6 431.3h0M99.3 425.2h0M94.5 492.2h0M100.1 424.6h0M94.1 487.5h0M100.4 431.8h0M90.3 490.6h0M85.7 482.1h0M90.1 468.2h0M97.8 424.5h0M96.3 472.3h0M99.0 495.2h0M101.7 416.0h0M93.3 429.0h0M93.8 471.0h0M97.5 452.4h0M79.7 447.5h0M76.0 420.8h0M84.3 489.0h0M97.8 471.1h0M95.3 499.5h0M64.5 447.5h0M87.9 481.6h0M91.5 475.5h0M83.2 413.7h0M93.9 428.4h0M101.3 473.2h0M94.9 415.1h0M93.9 436.4h0M94.8 442.9h0M97.8 410.7h0M94.4 468.1h0M87.1 462.1h0M81.2 409.3h0M72.3 408.6h0M85.7 473.0h0M81.7 412.8h0M103.0 470.4h0M87.0 486.0h0M62.8 437.9h0M93.5 424.3h0M88.2 469.9h0M95.3 470.9h0M77.7 440.4h0M97.6 427.3h0M100.0 436.6h0M90.3 453.8h0M89.1 462.9h0M97.8 476.1h0M83.4 417.9h0M91.0 481.0h0M96.7 468.1h0M101.1 435.4h0M88.9 411.0h0M97.8 422.8h0M97.2 486.0h0M81.1 419.2h0M79.5 432.9h0M83.7 408.9h0M92.9 478.5h0M97.5 425.3h0M90.6 424.0h0M94.2 428.6h0M97.5 430.5h0M98.5 489.1h0M97.4 465.8h0M76.0 404.7h0M76.8 415.7h0M74.1 414.6h0M78.4 406.5h0M96.2 471.1h0M90.4 465.9h0M98.8 451.0h0M90.3 461.9h0M76.2 474.9h0M98.0 463.9h0M84.9 408.9h0M79.7 410.2h0M48.0 483.7h0M94.9 478.2h0M93.1 484.5h0M76.6 404.7h0M80.6 422.3h0M96.3 433.2h0M64.6 454.7h0M85.6 407.6h0M70.1 422.3h0M59.8 441.2h0M92.7 474.0h0M95.2 435.9h0M97.3 473.5h0M83.1 408.9h0M75.2 425.7h0M93.3 460.9h0M92.7 423.2h0M101.1 468.3h0M98.9 479.8h0M90.7 426.5h0M93.5 438.5h0M95.6 472.5h0M84.9 412.4h0M97.9 432.0h0M74.8 420.1h0M82.4 419.2h0M50.4 442.4h0M93.0 430.1h0M92.4 472.2h0M92.8 466.8h0M86.5 444.9h0M65.3 442.8h0M96.8 457.2h0M92.3 490.0h0M98.0 482.0h0M88.1 459.8h0M76.0 412.2h0M99.3 420.1h0M97.6 411.2h0M75.6 402.5h0M99.9 424.4h0M99.3 473.3h0M92.8 489.9h0M98.3 436.8h0M94.2 497.9h0M102.2 489.9h0M87.8 481.4h0M83.8 442.1h0M88.0 474.9h0M93.5 458.9h0M98.6 434.3h0M89.3 424.5h0M90.6 479.7h0M96.9 418.1h0M93.6 479.3h0M90.5 498.9h0M76.6 417.4h0M87.5 483.2h0M102.8 470.5h0M78.4 415.3h0M102.7 498.6h0M96.6 469.8h0M90.4 482.6h0M92.9 488.3h0M97.2 439.3h0M82.9 450.3h0M101.7 435.1h0M99.4 446.0h0M95.2 433.7h0M96.6 484.3h0M88.6 489.8h0M79.0 413.8h0M92.6 494.3h0M83.0 492.2h0M90.7 500.6h0M80.5 455.4h0M92.5 475.3h0M92.9 421.7h0M82.4 417.4h0M90.6 431.2h0M79.8 419.7h0M96.7 474.3h0M96.7 422.8h0M70.3 474.9h0M59.6 430.8h0M87.0 472.3h0M76.8 416.4h0M80.0 417.3h0M81.5 408.8h0M74.2 419.7h0M75.4 422.1h0M90.1 425.6h0M81.9 414.7h0M81.7 408.3h0M79.3 415.8h0M94.4 488.0h0M81.7 429.5h0M98.5 483.5h0M95.9 486.7h0M95.1 419.0h0M91.2 417.4h0M93.3 489.7h0M90.5 483.5h0M96.3 500.4h0M78.4 425.5h0M81.2 411.4h0M100.2 431.0h0M94.5 432.1h0M93.3 466.3h0M96.4 474.1h0M87.0 491.9h0M89.7 445.0h0M92.1 498.8h0M87.6 424.2h0M70.0 430.4h0M89.0 477.8h0M93.5 454.7h0M89.1 478.5h0M91.6 479.6h0M89.8 435.9h0M84.6 406.2h0M95.1 476.0h0M91.4 419.8h0M55.0 440.7h0M76.7 423.5h0M83.5 409.4h0M92.2 480.5h0M77.5 449.3h0M91.9 438.1h0M92.3 497.1h0M94.2 485.6h0M90.8 475.4h0M93.2 473.9h0M93.2 483.7h0M96.5 432.7h0M100.7 475.3h0M73.9 411.5h0M96.4 495.5h0M94.0 473.2h0M74.3 410.4h0M94.7 500.4h0M95.4 433.6h0" stroke="#e8f078" stroke-width="1.60" stroke-linecap="round" stroke-opacity="0.8"/>
</g>
<rect x="25.4" y="397" width="80" height="7.2" fill="#fff" fill-opacity="0.8"/>
<text x="65.4" y="400.6" font-size="7.38" text-anchor="middle" dominant-baseline="central" fill="#e62a2a" textLength="83.16" lengthAdjust="spacingAndGlyphs" stroke="#e62a2a" stroke-width="0.07">Euclidean Distance: 54.00</text>
<rect x="17.3" y="396.1" width="96.2" height="113.2" fill="none" stroke="#d8d8d8" stroke-width="0.9"/>
<text x="65.4" y="390.5" font-size="8.53" text-anchor="middle" dominant-baseline="central" fill="#222" textLength="62.70" lengthAdjust="spacingAndGlyphs" stroke="#222" stroke-width="0.07">Original Features</text>
<line x1="25.48" y1="509.3" x2="25.48" y2="511.3" stroke="#555" stroke-width="0.7"/>
<text x="25.48" y="515.7" font-size="7.0" text-anchor="middle" dominant-baseline="central" fill="#222" textLength="10.97" lengthAdjust="spacingAndGlyphs" stroke="#222" stroke-width="0.07">−40</text>
<line x1="49.54" y1="509.3" x2="49.54" y2="511.3" stroke="#555" stroke-width="0.7"/>
<text x="49.54" y="515.7" font-size="7.0" text-anchor="middle" dominant-baseline="central" fill="#222" textLength="10.97" lengthAdjust="spacingAndGlyphs" stroke="#222" stroke-width="0.07">−20</text>
<line x1="73.6" y1="509.3" x2="73.6" y2="511.3" stroke="#555" stroke-width="0.7"/>
<text x="73.6" y="515.7" font-size="7.0" text-anchor="middle" dominant-baseline="central" fill="#222" textLength="3.31" lengthAdjust="spacingAndGlyphs" stroke="#222" stroke-width="0.07">0</text>
<line x1="97.66" y1="509.3" x2="97.66" y2="511.3" stroke="#555" stroke-width="0.7"/>
<text x="97.66" y="515.7" font-size="7.0" text-anchor="middle" dominant-baseline="central" fill="#222" textLength="6.62" lengthAdjust="spacingAndGlyphs" stroke="#222" stroke-width="0.07">20</text>
<line x1="15.3" y1="404.49" x2="17.3" y2="404.49" stroke="#555" stroke-width="0.7"/>
<text x="13.7" y="404.49" font-size="7.0" text-anchor="end" dominant-baseline="central" fill="#222" textLength="6.62" lengthAdjust="spacingAndGlyphs" stroke="#222" stroke-width="0.07">20</text>
<line x1="15.3" y1="417.23" x2="17.3" y2="417.23" stroke="#555" stroke-width="0.7"/>
<text x="13.7" y="417.23" font-size="7.0" text-anchor="end" dominant-baseline="central" fill="#222" textLength="6.62" lengthAdjust="spacingAndGlyphs" stroke="#222" stroke-width="0.07">15</text>
<line x1="15.3" y1="429.97" x2="17.3" y2="429.97" stroke="#555" stroke-width="0.7"/>
<text x="13.7" y="429.97" font-size="7.0" text-anchor="end" dominant-baseline="central" fill="#222" textLength="6.62" lengthAdjust="spacingAndGlyphs" stroke="#222" stroke-width="0.07">10</text>
<line x1="15.3" y1="442.71" x2="17.3" y2="442.71" stroke="#555" stroke-width="0.7"/>
<text x="13.7" y="442.71" font-size="7.0" text-anchor="end" dominant-baseline="central" fill="#222" textLength="3.31" lengthAdjust="spacingAndGlyphs" stroke="#222" stroke-width="0.07">5</text>
<line x1="15.3" y1="455.45" x2="17.3" y2="455.45" stroke="#555" stroke-width="0.7"/>
<text x="13.7" y="455.45" font-size="7.0" text-anchor="end" dominant-baseline="central" fill="#222" textLength="3.31" lengthAdjust="spacingAndGlyphs" stroke="#222" stroke-width="0.07">0</text>
<line x1="15.3" y1="468.19" x2="17.3" y2="468.19" stroke="#555" stroke-width="0.7"/>
<text x="13.7" y="468.19" font-size="7.0" text-anchor="end" dominant-baseline="central" fill="#222" textLength="7.67" lengthAdjust="spacingAndGlyphs" stroke="#222" stroke-width="0.07">−5</text>
<line x1="15.3" y1="480.93" x2="17.3" y2="480.93" stroke="#555" stroke-width="0.7"/>
<text x="13.7" y="480.93" font-size="7.0" text-anchor="end" dominant-baseline="central" fill="#222" textLength="10.97" lengthAdjust="spacingAndGlyphs" stroke="#222" stroke-width="0.07">−10</text>
<line x1="15.3" y1="493.67" x2="17.3" y2="493.67" stroke="#555" stroke-width="0.7"/>
<text x="13.7" y="493.67" font-size="7.0" text-anchor="end" dominant-baseline="central" fill="#222" textLength="10.97" lengthAdjust="spacingAndGlyphs" stroke="#222" stroke-width="0.07">−15</text>
<line x1="15.3" y1="506.41" x2="17.3" y2="506.41" stroke="#555" stroke-width="0.7"/>
<text x="13.7" y="506.41" font-size="7.0" text-anchor="end" dominant-baseline="central" fill="#222" textLength="10.97" lengthAdjust="spacingAndGlyphs" stroke="#222" stroke-width="0.07">−20</text>
<circle cx="125.8" cy="444.6" r="1.95" fill="#7f57a8"/>
<circle cx="125.8" cy="461.3" r="1.95" fill="#e8f078"/>
<text x="134.1" y="440.1" font-size="7.08" text-anchor="start" dominant-baseline="central" fill="#222" textLength="20.95" lengthAdjust="spacingAndGlyphs" stroke="#222" stroke-width="0.07">Source</text>
<text x="134.1" y="447.5" font-size="7.08" text-anchor="start" dominant-baseline="central" fill="#222" textLength="23.67" lengthAdjust="spacingAndGlyphs" stroke="#222" stroke-width="0.07">Domain</text>
<text x="134.1" y="456.8" font-size="7.08" text-anchor="start" dominant-baseline="central" fill="#222" textLength="18.87" lengthAdjust="spacingAndGlyphs" stroke="#222" stroke-width="0.07">Target</text>
<text x="134.1" y="464.2" font-size="7.08" text-anchor="start" dominant-baseline="central" fill="#222" textLength="23.67" lengthAdjust="spacingAndGlyphs" stroke="#222" stroke-width="0.07">Domain</text>
<clipPath id="cp336"><rect x="188.4" y="396.1" width="96.1" height="112.9"/></clipPath>
<g clip-path="url(#cp336)">
<path d="M191.7 451.7h0M198.0 430.3h0M204.6 422.8h0M196.6 452.9h0M201.3 448.2h0M194.4 447.3h0M196.1 434.2h0M195.2 437.6h0M210.4 417.0h0M192.4 449.5h0M197.2 440.5h0M196.0 433.5h0M208.1 416.4h0M206.1 421.1h0M206.7 416.1h0M196.9 451.9h0M195.9 447.9h0M201.4 425.1h0M198.7 424.7h0M199.4 455.2h0M196.0 450.9h0M193.6 437.4h0M191.4 451.8h0M195.1 439.7h0M196.5 436.5h0M204.8 424.2h0M196.1 443.2h0M196.3 445.1h0M196.1 442.9h0M198.9 437.6h0M207.2 419.0h0M197.9 451.8h0M195.2 447.6h0M196.4 435.5h0M195.4 451.2h0M197.0 439.2h0M196.6 436.3h0M192.6 436.6h0M193.3 442.4h0M197.6 447.5h0M193.6 442.4h0M205.8 418.5h0M195.2 442.4h0M208.7 423.9h0M202.2 427.7h0M194.9 440.3h0M197.3 427.6h0M193.6 440.9h0M210.7 416.3h0M198.8 452.7h0M209.3 415.3h0M199.9 427.5h0M196.6 430.9h0M204.4 430.1h0M200.8 427.3h0M198.7 452.9h0M195.3 446.5h0M195.6 450.8h0M197.1 438.7h0M198.3 435.9h0M204.1 427.2h0M200.1 431.5h0M195.9 436.6h0M198.2 428.5h0M198.3 433.1h0M204.5 416.2h0M199.0 425.5h0M197.4 445.8h0M194.0 443.6h0M194.3 447.6h0M200.4 425.8h0M193.3 451.6h0M205.4 421.5h0M195.3 435.7h0M207.1 423.4h0M196.8 433.6h0M199.2 435.4h0M200.5 432.8h0M207.0 416.2h0M199.2 452.0h0M209.1 415.1h0M200.9 453.2h0M198.7 430.8h0M199.2 432.3h0M201.3 449.9h0M192.6 448.5h0M192.8 441.4h0M195.3 439.8h0M196.1 438.6h0M195.7 442.9h0M195.6 444.3h0M211.9 416.8h0M207.9 420.8h0M197.6 453.1h0M206.5 415.7h0M197.4 452.5h0M201.6 424.3h0M196.6 434.3h0M195.0 445.0h0M199.5 427.5h0M198.3 453.3h0M192.5 441.3h0M197.7 428.8h0M194.7 446.5h0M208.3 417.9h0M207.4 413.8h0M201.8 428.8h0M191.4 447.4h0M206.9 415.2h0M198.2 452.5h0M195.0 450.1h0M197.8 430.3h0M204.0 425.7h0M196.3 442.3h0M207.8 415.5h0M207.9 448.4h0M208.3 445.5h0M205.4 439.8h0M211.8 433.1h0M219.5 413.2h0M211.9 429.6h0M207.0 449.8h0M209.3 448.4h0M211.0 442.3h0M208.2 446.2h0M214.2 430.7h0M220.3 414.2h0M210.6 442.1h0M209.7 432.6h0M208.2 450.4h0M216.5 423.6h0M220.7 419.1h0M211.0 446.6h0M212.6 440.8h0M208.6 447.0h0M210.1 445.1h0M221.6 420.5h0M214.1 420.4h0M209.3 443.1h0M214.0 432.6h0M206.1 450.5h0M207.1 450.7h0M212.6 431.0h0M216.3 416.3h0M210.9 436.5h0M210.2 434.1h0M214.8 431.4h0M215.7 430.7h0M215.9 429.9h0M207.5 450.3h0M218.2 419.5h0M209.9 445.5h0M211.3 433.3h0M207.0 446.6h0M210.1 451.0h0M208.3 443.3h0M214.5 424.8h0M214.9 426.5h0M212.1 431.2h0M219.5 414.3h0M220.4 411.3h0M207.5 442.8h0M213.1 434.4h0M209.9 435.3h0M214.1 423.6h0M217.0 416.4h0M209.0 443.2h0M209.0 442.9h0M204.8 454.4h0M215.0 422.3h0M211.6 438.2h0M208.3 457.9h0M218.1 417.2h0M214.1 426.9h0M210.1 437.3h0M208.8 445.7h0M207.2 455.3h0M205.9 456.0h0M218.7 426.3h0M211.4 432.7h0M206.6 449.2h0M206.7 451.2h0M218.5 424.5h0M219.6 413.3h0M212.1 432.3h0M212.0 433.9h0M206.1 455.2h0M217.2 421.3h0M214.2 433.1h0M209.3 437.7h0M211.3 425.6h0M219.5 416.5h0M219.5 410.8h0M208.6 444.5h0M206.6 454.0h0M206.0 451.1h0M215.0 425.1h0M208.3 438.6h0M209.7 445.3h0M204.6 456.0h0M212.4 429.9h0M216.4 417.7h0M207.6 439.0h0M210.5 444.4h0M210.8 444.4h0M214.2 431.1h0M216.1 418.0h0M216.1 424.1h0M220.2 421.3h0M213.6 431.1h0M210.9 449.2h0M204.2 450.6h0M207.9 446.6h0M210.9 446.0h0M209.5 436.9h0M212.2 422.6h0M212.4 430.8h0M213.3 436.2h0M209.9 443.1h0M209.5 435.5h0M221.3 419.7h0M222.9 416.3h0M223.2 415.5h0M223.9 418.6h0M223.6 413.9h0M221.4 419.6h0M224.5 415.2h0M223.5 419.1h0M225.1 412.3h0M222.9 417.8h0M223.5 417.1h0M222.2 415.7h0M221.5 419.9h0M222.1 419.9h0M222.8 418.0h0M225.5 410.2h0" stroke="#7f57a8" stroke-width="1.60" stroke-linecap="round" stroke-opacity="0.8"/>
<path d="M218.3 503.8h0M222.5 487.0h0M251.4 449.2h0M255.7 450.4h0M226.8 476.1h0M262.1 434.5h0M267.1 424.9h0M252.9 436.6h0M227.8 463.4h0M228.1 476.2h0M222.2 474.2h0M226.5 468.4h0M224.4 463.3h0M218.0 495.5h0M216.3 482.3h0M221.1 457.4h0M249.8 451.0h0M219.4 460.5h0M253.9 441.1h0M260.2 437.1h0M215.0 497.3h0M223.4 473.6h0M235.9 454.1h0M231.1 461.6h0M221.9 475.5h0M220.5 496.1h0M249.0 441.8h0M220.2 476.6h0M222.3 482.0h0M229.2 480.6h0M224.8 465.2h0M220.1 467.9h0M211.2 489.2h0M216.8 470.7h0M227.8 460.3h0M236.3 459.7h0M204.6 486.3h0M258.2 431.7h0M224.3 485.6h0M259.2 446.4h0M216.6 489.5h0M246.9 458.7h0M249.1 452.3h0M227.9 476.2h0M219.8 494.4h0M276.9 407.5h0M232.3 468.8h0M213.5 471.9h0M242.3 439.8h0M215.1 480.4h0M234.8 468.7h0M241.6 452.4h0M227.6 465.6h0M227.1 478.3h0M218.2 489.1h0M228.3 464.9h0M217.2 480.1h0M215.8 498.1h0M223.5 485.3h0M238.2 456.9h0M253.7 451.1h0M218.4 492.9h0M230.4 466.4h0M264.7 432.7h0M224.9 457.6h0M267.0 429.6h0M255.3 437.5h0M218.6 490.2h0M220.9 473.5h0M266.0 430.6h0M210.5 483.0h0M233.8 455.7h0M244.6 448.1h0M223.3 480.0h0M259.3 441.6h0M221.7 474.7h0M226.5 456.4h0M225.4 481.7h0M243.0 451.8h0M210.4 479.8h0M222.3 472.0h0M269.0 424.6h0M220.3 481.6h0M217.8 495.9h0M246.8 436.9h0M216.9 491.3h0M257.2 437.7h0M227.7 467.6h0M220.9 469.9h0M221.0 479.3h0M231.5 465.0h0M220.9 476.9h0M255.2 440.7h0M250.9 446.3h0M221.3 474.6h0M234.7 466.4h0M238.3 445.6h0M223.4 476.9h0M218.9 464.2h0M254.5 436.0h0M215.2 463.1h0M209.8 489.8h0M257.6 441.4h0M234.4 461.5h0M260.2 443.6h0M229.6 473.9h0M213.1 485.4h0M212.1 454.1h0M223.4 472.6h0M280.3 403.3h0M251.3 449.1h0M220.7 468.3h0M256.3 443.8h0M223.1 477.4h0M244.6 444.6h0M259.4 436.6h0M261.2 447.2h0M220.3 471.9h0M278.0 405.5h0M223.3 457.8h0M240.3 454.6h0M249.5 449.5h0M246.9 454.5h0M251.8 440.0h0M220.8 470.0h0M277.3 409.4h0M213.3 475.6h0M254.4 448.8h0M221.6 474.5h0M219.9 488.9h0M216.2 462.8h0M272.7 407.6h0M226.5 474.3h0M259.7 439.9h0M225.9 461.9h0M257.2 445.3h0M240.6 459.8h0M231.3 454.8h0M250.0 445.3h0M215.9 489.7h0M223.3 486.8h0M216.4 482.0h0M265.2 427.4h0M220.2 491.7h0M233.8 451.9h0M211.8 475.7h0M221.9 483.8h0M225.7 486.9h0M265.6 433.1h0M266.7 417.0h0M221.0 494.0h0M216.8 465.9h0M217.0 498.7h0M231.3 460.6h0M239.3 449.0h0M217.9 476.5h0M219.5 492.1h0M218.3 470.2h0M274.7 431.6h0M234.4 458.5h0M268.3 416.6h0M277.3 413.8h0M221.4 471.0h0M220.0 468.3h0M218.7 471.3h0M208.9 485.6h0M214.0 502.5h0M227.5 472.8h0M230.4 473.8h0M228.9 464.0h0M234.0 463.6h0M227.3 467.3h0M214.1 497.8h0M215.6 451.9h0M238.5 458.5h0M231.9 469.6h0M257.4 448.6h0M216.2 477.2h0M249.7 432.8h0M255.1 428.8h0M229.2 459.6h0M226.5 482.4h0M228.5 469.9h0M219.9 492.4h0M256.0 448.9h0M226.3 477.4h0M230.9 472.1h0M237.0 462.7h0M221.1 466.6h0M222.3 478.5h0M265.2 425.5h0M216.5 469.4h0M227.5 491.4h0M249.9 455.2h0M217.6 470.6h0M215.3 484.6h0M226.3 476.7h0M246.2 443.9h0M220.0 472.3h0M215.3 478.4h0M223.2 476.0h0M278.7 399.6h0M218.2 456.2h0M221.0 474.6h0M231.0 455.3h0M214.1 497.0h0M239.0 453.7h0M222.0 470.7h0M226.9 459.1h0M257.2 442.4h0M272.5 412.9h0M216.7 474.6h0M246.0 440.5h0M214.5 475.8h0M220.9 479.1h0M222.4 477.2h0M223.7 473.1h0M214.3 487.1h0M233.5 455.8h0M229.0 478.1h0M256.4 449.8h0M211.8 492.6h0M233.9 469.1h0M217.4 500.4h0M215.1 474.3h0M239.5 459.6h0M214.5 479.4h0M225.3 474.3h0M213.7 478.7h0M220.3 478.2h0M216.4 474.3h0M222.0 469.2h0M218.7 489.3h0M241.4 445.2h0M258.9 434.8h0M222.9 496.3h0M227.8 493.2h0M250.3 436.5h0M261.5 464.1h0M218.7 484.8h0M256.7 441.1h0M239.4 466.8h0M218.9 473.9h0M249.7 455.9h0M219.0 490.3h0M227.8 482.3h0M219.9 470.9h0M230.5 473.0h0M215.2 463.5h0M219.6 482.2h0M210.7 493.5h0M227.3 472.0h0M246.0 450.5h0M215.5 497.3h0M220.3 460.9h0M242.2 440.3h0M236.4 458.9h0M260.5 442.2h0M225.4 486.8h0M217.9 490.6h0M222.1 478.7h0M218.7 469.7h0M233.4 465.0h0M223.9 488.8h0M223.9 482.6h0M229.4 456.8h0M262.1 437.4h0M241.6 451.1h0M215.9 489.9h0M219.3 462.4h0M232.6 477.7h0M223.8 482.0h0M215.4 494.5h0M259.6 437.0h0M205.2 490.5h0M230.8 467.0h0M230.7 478.3h0M219.0 475.9h0M227.6 489.3h0M216.6 498.5h0M215.7 495.1h0M242.3 463.5h0M225.3 472.1h0M220.4 493.5h0M222.9 468.0h0M225.2 477.3h0M217.4 469.3h0M231.7 489.2h0M244.8 450.5h0M263.6 443.6h0M233.0 457.3h0M231.4 455.3h0M217.1 467.1h0M236.8 456.6h0M215.2 486.8h0M209.3 483.0h0M249.6 452.8h0M258.6 457.2h0M214.7 464.8h0M230.0 468.0h0M224.7 490.9h0M257.2 441.5h0M228.2 475.5h0M215.2 500.7h0M219.3 463.2h0M212.1 466.4h0M249.5 458.7h0M226.5 478.3h0M278.6 408.0h0M225.2 470.7h0M226.9 470.8h0M240.0 453.3h0M239.2 464.5h0M221.3 480.6h0M274.7 413.8h0M251.1 463.2h0M248.8 444.8h0M232.9 452.4h0M219.5 470.0h0M221.5 469.5h0M216.1 476.3h0M255.2 446.2h0M218.7 480.0h0M247.4 455.3h0M226.5 466.6h0M258.2 443.3h0M231.7 472.6h0M215.4 492.3h0M229.6 466.1h0M221.4 471.6h0M219.2 494.5h0M265.7 425.5h0M216.5 487.7h0M225.3 477.5h0M223.4 466.1h0M218.5 492.1h0M248.6 468.4h0M230.1 457.1h0M209.6 485.3h0M216.5 491.7h0M273.9 412.4h0M228.0 468.0h0M213.3 478.1h0M241.2 462.8h0M263.3 431.6h0M216.8 481.4h0M230.6 465.7h0M222.9 451.8h0M280.6 402.3h0M258.7 442.1h0M215.7 491.7h0M255.7 450.8h0M259.1 449.2h0M222.9 465.6h0M230.6 460.3h0M236.2 457.9h0M220.4 486.7h0M231.9 464.2h0M221.0 493.4h0M222.3 489.3h0M212.7 461.3h0M225.4 485.7h0M221.4 473.3h0M226.0 457.3h0M240.1 463.0h0M220.9 468.9h0M218.6 480.2h0M256.7 432.4h0M230.3 481.2h0M216.9 480.1h0M218.2 494.5h0M218.3 484.9h0M220.4 464.5h0M221.3 480.7h0M219.8 465.1h0M219.9 462.1h0M217.0 462.2h0M219.2 479.5h0M233.2 461.1h0M221.0 467.2h0M259.2 447.3h0M222.0 480.8h0M261.9 443.5h0M219.1 490.9h0M229.8 455.0h0M226.8 450.8h0M219.1 477.2h0M212.0 490.1h0M265.5 426.8h0M270.2 422.2h0M255.4 441.7h0M210.3 480.3h0M226.2 455.7h0M251.7 456.2h0M216.8 503.5h0M219.3 498.2h0M216.0 496.8h0M237.4 469.2h0M224.0 487.5h0M219.8 474.3h0M230.1 469.4h0M223.8 466.4h0M232.8 465.0h0M241.7 453.9h0M222.6 472.9h0M260.4 435.4h0M226.2 487.1h0M268.0 426.0h0M214.1 496.9h0M261.1 445.1h0M236.5 458.9h0M222.7 458.6h0M219.2 484.4h0M217.3 461.2h0M233.3 464.0h0M215.3 481.3h0M252.8 457.3h0M223.7 480.2h0M220.0 474.9h0M266.8 450.2h0M236.6 468.3h0M222.2 488.9h0M216.0 502.4h0M226.6 451.4h0M219.0 475.1h0M256.5 439.5h0M224.3 487.4h0M260.0 438.5h0M258.0 451.6h0M258.1 437.1h0M224.8 474.6h0M217.7 493.8h0M220.4 469.0h0M255.0 441.7h0M247.8 456.4h0M218.5 495.3h0M216.8 500.7h0M256.9 441.1h0M221.3 476.3h0M227.2 479.8h0M281.3 403.2h0M225.5 467.3h0M221.4 464.8h0M223.5 475.9h0M265.0 421.4h0M236.6 465.3h0M226.6 482.7h0M217.9 495.2h0M218.1 473.9h0M255.6 438.8h0M220.7 493.8h0M221.7 486.4h0M256.0 437.8h0M268.6 420.5h0M284.5 406.7h0M224.8 479.0h0M250.4 452.9h0M225.7 476.3h0M220.8 474.6h0M225.1 463.0h0M223.6 469.8h0M212.9 498.3h0M219.9 485.3h0M244.5 466.5h0M220.7 492.3h0M261.8 447.6h0M213.4 491.1h0M253.6 453.0h0M221.7 474.6h0M243.1 450.1h0M222.8 489.2h0M239.1 461.6h0M230.7 456.9h0M228.3 468.0h0M221.2 482.3h0M259.6 439.0h0M264.3 429.3h0M222.2 490.1h0M261.1 436.7h0M210.2 488.9h0M254.0 448.3h0M221.2 470.7h0M253.1 448.5h0M253.4 438.9h0M232.5 457.9h0M253.9 451.9h0M219.0 469.7h0M224.8 487.1h0M253.1 441.2h0M220.8 484.9h0M227.3 472.1h0M256.4 447.7h0M215.6 483.3h0M253.7 443.0h0M224.9 481.5h0M215.4 494.1h0M243.9 458.0h0M212.4 482.9h0M227.1 472.6h0M245.1 453.6h0M214.5 496.5h0M211.7 476.9h0M271.3 420.2h0M248.8 454.2h0M215.2 486.2h0M229.1 464.9h0M249.5 442.4h0M266.1 416.0h0M259.0 433.5h0M219.8 462.4h0M221.8 473.8h0M214.6 498.7h0M215.0 467.0h0M226.2 488.5h0M227.1 461.8h0M241.5 461.6h0M239.5 452.8h0M259.0 446.9h0M216.8 488.9h0M250.6 459.2h0M216.8 496.7h0M221.1 467.3h0M231.9 458.1h0M241.2 455.8h0M250.4 451.9h0M224.3 473.8h0M263.7 443.1h0M213.1 483.2h0M230.0 482.1h0M226.3 459.1h0M225.7 482.1h0M215.3 480.7h0M275.8 401.3h0M210.9 474.1h0M234.3 469.7h0M223.3 465.1h0M221.0 483.5h0M214.1 488.2h0M220.2 466.0h0M263.0 440.7h0M245.2 454.1h0M214.5 477.7h0M219.3 476.3h0M237.8 461.4h0M219.5 496.0h0M236.4 452.4h0M217.6 484.4h0M252.0 439.0h0M217.5 503.1h0M223.3 471.0h0M214.6 475.3h0M234.0 468.6h0M282.1 403.4h0M222.4 487.1h0M243.6 459.9h0M276.2 406.3h0M226.7 469.7h0M247.3 453.6h0M270.9 407.5h0M223.2 482.9h0M222.3 467.5h0M264.5 426.1h0M244.4 456.9h0M257.4 446.1h0M223.3 467.5h0M227.9 460.5h0M256.8 435.9h0M231.5 462.7h0M264.0 442.3h0M225.7 467.1h0M216.4 481.4h0M213.2 492.7h0M218.7 461.6h0M232.4 475.9h0M222.0 467.8h0M268.6 417.2h0M220.8 481.1h0M239.5 453.9h0M248.2 449.1h0M235.3 454.1h0M246.4 442.2h0M246.9 439.5h0M274.7 401.2h0M217.6 494.7h0M223.6 482.7h0M257.1 436.7h0M221.9 483.9h0M223.8 474.7h0M217.3 468.8h0M228.9 465.3h0M224.8 464.0h0M220.6 461.6h0M215.2 475.2h0M224.6 482.4h0M236.7 457.7h0M217.6 491.4h0M248.3 455.3h0M231.7 477.0h0M223.5 467.1h0M212.5 460.0h0M231.1 462.9h0M223.8 468.5h0M244.7 447.4h0M226.9 490.7h0M209.9 486.8h0M226.6 482.2h0M231.2 462.5h0M217.7 487.7h0M226.0 467.6h0M259.8 444.7h0M253.4 442.9h0M215.2 486.6h0M260.2 443.7h0M234.8 464.5h0M219.1 487.4h0M222.6 478.2h0M219.2 477.2h0M212.7 473.5h0M234.5 451.5h0M234.8 465.0h0M235.0 475.5h0M232.3 481.8h0M216.1 499.2h0M243.0 449.7h0M215.7 490.8h0M228.8 460.5h0M219.3 496.4h0M245.7 454.2h0M216.9 474.4h0M241.5 447.8h0M225.7 483.3h0M212.9 448.9h0M219.2 492.4h0M247.5 447.0h0M215.6 475.0h0" stroke="#e8f078" stroke-width="1.60" stroke-linecap="round" stroke-opacity="0.8"/>
</g>
<rect x="196.45" y="397" width="80" height="7.2" fill="#fff" fill-opacity="0.8"/>
<text x="236.45" y="400.6" font-size="7.38" text-anchor="middle" dominant-baseline="central" fill="#e62a2a" textLength="79.11" lengthAdjust="spacingAndGlyphs" stroke="#e62a2a" stroke-width="0.07">Euclidean Distance: 3.72</text>
<rect x="188.4" y="396.1" width="96.1" height="112.9" fill="none" stroke="#d8d8d8" stroke-width="0.9"/>
<text x="236.45" y="390.5" font-size="8.53" text-anchor="middle" dominant-baseline="central" fill="#222" textLength="89.80" lengthAdjust="spacingAndGlyphs" stroke="#222" stroke-width="0.07">Embeddings after HGNN</text>
<line x1="207.8" y1="509" x2="207.8" y2="511" stroke="#555" stroke-width="0.7"/>
<text x="207.8" y="515.4" font-size="7.0" text-anchor="middle" dominant-baseline="central" fill="#222" textLength="7.67" lengthAdjust="spacingAndGlyphs" stroke="#222" stroke-width="0.07">−2</text>
<line x1="227.4" y1="509" x2="227.4" y2="511" stroke="#555" stroke-width="0.7"/>
<text x="227.4" y="515.4" font-size="7.0" text-anchor="middle" dominant-baseline="central" fill="#222" textLength="3.31" lengthAdjust="spacingAndGlyphs" stroke="#222" stroke-width="0.07">0</text>
<line x1="247" y1="509" x2="247" y2="511" stroke="#555" stroke-width="0.7"/>
<text x="247" y="515.4" font-size="7.0" text-anchor="middle" dominant-baseline="central" fill="#222" textLength="3.31" lengthAdjust="spacingAndGlyphs" stroke="#222" stroke-width="0.07">2</text>
<line x1="266.6" y1="509" x2="266.6" y2="511" stroke="#555" stroke-width="0.7"/>
<text x="266.6" y="515.4" font-size="7.0" text-anchor="middle" dominant-baseline="central" fill="#222" textLength="3.31" lengthAdjust="spacingAndGlyphs" stroke="#222" stroke-width="0.07">4</text>
<line x1="186.4" y1="404.66" x2="188.4" y2="404.66" stroke="#555" stroke-width="0.7"/>
<text x="184.8" y="404.66" font-size="7.0" text-anchor="end" dominant-baseline="central" fill="#222" textLength="3.31" lengthAdjust="spacingAndGlyphs" stroke="#222" stroke-width="0.07">4</text>
<line x1="186.4" y1="417.87" x2="188.4" y2="417.87" stroke="#555" stroke-width="0.7"/>
<text x="184.8" y="417.87" font-size="7.0" text-anchor="end" dominant-baseline="central" fill="#222" textLength="3.31" lengthAdjust="spacingAndGlyphs" stroke="#222" stroke-width="0.07">3</text>
<line x1="186.4" y1="431.08" x2="188.4" y2="431.08" stroke="#555" stroke-width="0.7"/>
<text x="184.8" y="431.08" font-size="7.0" text-anchor="end" dominant-baseline="central" fill="#222" textLength="3.31" lengthAdjust="spacingAndGlyphs" stroke="#222" stroke-width="0.07">2</text>
<line x1="186.4" y1="444.29" x2="188.4" y2="444.29" stroke="#555" stroke-width="0.7"/>
<text x="184.8" y="444.29" font-size="7.0" text-anchor="end" dominant-baseline="central" fill="#222" textLength="3.31" lengthAdjust="spacingAndGlyphs" stroke="#222" stroke-width="0.07">1</text>
<line x1="186.4" y1="457.5" x2="188.4" y2="457.5" stroke="#555" stroke-width="0.7"/>
<text x="184.8" y="457.5" font-size="7.0" text-anchor="end" dominant-baseline="central" fill="#222" textLength="3.31" lengthAdjust="spacingAndGlyphs" stroke="#222" stroke-width="0.07">0</text>
<line x1="186.4" y1="470.71" x2="188.4" y2="470.71" stroke="#555" stroke-width="0.7"/>
<text x="184.8" y="470.71" font-size="7.0" text-anchor="end" dominant-baseline="central" fill="#222" textLength="7.67" lengthAdjust="spacingAndGlyphs" stroke="#222" stroke-width="0.07">−1</text>
<line x1="186.4" y1="483.92" x2="188.4" y2="483.92" stroke="#555" stroke-width="0.7"/>
<text x="184.8" y="483.92" font-size="7.0" text-anchor="end" dominant-baseline="central" fill="#222" textLength="7.67" lengthAdjust="spacingAndGlyphs" stroke="#222" stroke-width="0.07">−2</text>
<line x1="186.4" y1="497.13" x2="188.4" y2="497.13" stroke="#555" stroke-width="0.7"/>
<text x="184.8" y="497.13" font-size="7.0" text-anchor="end" dominant-baseline="central" fill="#222" textLength="7.67" lengthAdjust="spacingAndGlyphs" stroke="#222" stroke-width="0.07">−3</text>
<circle cx="297.2" cy="444.6" r="1.95" fill="#7f57a8"/>
<circle cx="297.2" cy="461.3" r="1.95" fill="#e8f078"/>
<text x="305.3" y="440.1" font-size="7.08" text-anchor="start" dominant-baseline="central" fill="#222" textLength="20.95" lengthAdjust="spacingAndGlyphs" stroke="#222" stroke-width="0.07">Source</text>
<text x="305.3" y="447.5" font-size="7.08" text-anchor="start" dominant-baseline="central" fill="#222" textLength="23.67" lengthAdjust="spacingAndGlyphs" stroke="#222" stroke-width="0.07">Domain</text>
<text x="305.3" y="456.8" font-size="7.08" text-anchor="start" dominant-baseline="central" fill="#222" textLength="18.87" lengthAdjust="spacingAndGlyphs" stroke="#222" stroke-width="0.07">Target</text>
<text x="305.3" y="464.2" font-size="7.08" text-anchor="start" dominant-baseline="central" fill="#222" textLength="23.67" lengthAdjust="spacingAndGlyphs" stroke="#222" stroke-width="0.07">Domain</text>
<clipPath id="cp375"><rect x="359.4" y="396.1" width="96.2" height="112.9"/></clipPath>
<g clip-path="url(#cp375)">
<path d="M418.8 440.4h0M414.5 454.0h0M439.8 431.7h0M395.0 421.1h0M379.7 439.9h0" stroke="#e8f078" stroke-width="1.60" stroke-linecap="round" stroke-opacity="0.8"/>
<path d="M436.8 487.1h0" stroke="#7f57a8" stroke-width="1.60" stroke-linecap="round" stroke-opacity="0.8"/>
<path d="M395.2 442.9h0M439.0 448.9h0M429.8 433.3h0" stroke="#e8f078" stroke-width="1.60" stroke-linecap="round" stroke-opacity="0.8"/>
<path d="M409.2 459.0h0M435.0 491.2h0" stroke="#7f57a8" stroke-width="1.60" stroke-linecap="round" stroke-opacity="0.8"/>
<path d="M394.2 423.3h0M425.5 439.5h0M377.1 491.6h0M414.9 432.8h0M403.9 435.0h0M424.4 434.6h0" stroke="#e8f078" stroke-width="1.60" stroke-linecap="round" stroke-opacity="0.8"/>
<path d="M394.1 468.4h0M404.9 471.4h0" stroke="#7f57a8" stroke-width="1.60" stroke-linecap="round" stroke-opacity="0.8"/>
<path d="M405.1 419.8h0M414.3 432.2h0" stroke="#e8f078" stroke-width="1.60" stroke-linecap="round" stroke-opacity="0.8"/>
<path d="M423.5 483.2h0" stroke="#7f57a8" stroke-width="1.60" stroke-linecap="round" stroke-opacity="0.8"/>
<path d="M407.8 445.8h0M386.6 431.0h0M441.8 428.5h0M423.4 420.3h0M396.5 414.9h0" stroke="#e8f078" stroke-width="1.60" stroke-linecap="round" stroke-opacity="0.8"/>
<path d="M372.8 451.3h0" stroke="#7f57a8" stroke-width="1.60" stroke-linecap="round" stroke-opacity="0.8"/>
<path d="M397.5 433.8h0" stroke="#e8f078" stroke-width="1.60" stroke-linecap="round" stroke-opacity="0.8"/>
<path d="M437.2 485.7h0M372.6 451.3h0M411.7 490.1h0" stroke="#7f57a8" stroke-width="1.60" stroke-linecap="round" stroke-opacity="0.8"/>
<path d="M414.6 436.0h0" stroke="#e8f078" stroke-width="1.60" stroke-linecap="round" stroke-opacity="0.8"/>
<path d="M408.2 486.7h0" stroke="#7f57a8" stroke-width="1.60" stroke-linecap="round" stroke-opacity="0.8"/>
<path d="M369.9 429.0h0" stroke="#e8f078" stroke-width="1.60" stroke-linecap="round" stroke-opacity="0.8"/>
<path d="M386.9 453.2h0" stroke="#7f57a8" stroke-width="1.60" stroke-linecap="round" stroke-opacity="0.8"/>
<path d="M401.1 439.0h0M428.0 438.2h0M397.9 420.4h0M421.6 454.9h0M407.9 455.4h0M365.6 427.0h0M429.0 455.9h0" stroke="#e8f078" stroke-width="1.60" stroke-linecap="round" stroke-opacity="0.8"/>
<path d="M406.8 480.6h0" stroke="#7f57a8" stroke-width="1.60" stroke-linecap="round" stroke-opacity="0.8"/>
<path d="M430.6 422.8h0M389.5 417.1h0M442.5 434.7h0" stroke="#e8f078" stroke-width="1.60" stroke-linecap="round" stroke-opacity="0.8"/>
<path d="M426.4 487.6h0" stroke="#7f57a8" stroke-width="1.60" stroke-linecap="round" stroke-opacity="0.8"/>
<path d="M381.1 423.8h0" stroke="#e8f078" stroke-width="1.60" stroke-linecap="round" stroke-opacity="0.8"/>
<path d="M423.7 490.3h0" stroke="#7f57a8" stroke-width="1.60" stroke-linecap="round" stroke-opacity="0.8"/>
<path d="M431.7 458.5h0" stroke="#e8f078" stroke-width="1.60" stroke-linecap="round" stroke-opacity="0.8"/>
<path d="M425.9 486.1h0M380.5 449.0h0" stroke="#7f57a8" stroke-width="1.60" stroke-linecap="round" stroke-opacity="0.8"/>
<path d="M436.4 435.0h0M367.9 502.3h0" stroke="#e8f078" stroke-width="1.60" stroke-linecap="round" stroke-opacity="0.8"/>
<path d="M413.6 478.5h0" stroke="#7f57a8" stroke-width="1.60" stroke-linecap="round" stroke-opacity="0.8"/>
<path d="M393.3 420.4h0M394.5 421.4h0M443.1 433.5h0M443.5 437.1h0" stroke="#e8f078" stroke-width="1.60" stroke-linecap="round" stroke-opacity="0.8"/>
<path d="M432.9 488.1h0M371.5 445.7h0" stroke="#7f57a8" stroke-width="1.60" stroke-linecap="round" stroke-opacity="0.8"/>
<path d="M402.1 431.8h0M405.2 424.6h0M419.1 433.0h0" stroke="#e8f078" stroke-width="1.60" stroke-linecap="round" stroke-opacity="0.8"/>
<path d="M399.0 455.6h0M375.4 449.6h0" stroke="#7f57a8" stroke-width="1.60" stroke-linecap="round" stroke-opacity="0.8"/>
<path d="M388.9 431.0h0M420.1 428.7h0M367.0 436.2h0" stroke="#e8f078" stroke-width="1.60" stroke-linecap="round" stroke-opacity="0.8"/>
<path d="M364.7 446.3h0" stroke="#7f57a8" stroke-width="1.60" stroke-linecap="round" stroke-opacity="0.8"/>
<path d="M426.1 452.9h0" stroke="#e8f078" stroke-width="1.60" stroke-linecap="round" stroke-opacity="0.8"/>
<path d="M399.0 459.1h0" stroke="#7f57a8" stroke-width="1.60" stroke-linecap="round" stroke-opacity="0.8"/>
<path d="M443.1 441.4h0M434.9 456.7h0M369.7 417.2h0M420.2 455.4h0M397.4 428.0h0M425.4 439.4h0M402.1 418.0h0M425.6 463.4h0M429.9 423.9h0" stroke="#e8f078" stroke-width="1.60" stroke-linecap="round" stroke-opacity="0.8"/>
<path d="M430.9 487.3h0" stroke="#7f57a8" stroke-width="1.60" stroke-linecap="round" stroke-opacity="0.8"/>
<path d="M401.9 426.4h0" stroke="#e8f078" stroke-width="1.60" stroke-linecap="round" stroke-opacity="0.8"/>
<path d="M413.8 477.1h0" stroke="#7f57a8" stroke-width="1.60" stroke-linecap="round" stroke-opacity="0.8"/>
<path d="M397.5 412.1h0" stroke="#e8f078" stroke-width="1.60" stroke-linecap="round" stroke-opacity="0.8"/>
<path d="M380.0 448.6h0" stroke="#7f57a8" stroke-width="1.60" stroke-linecap="round" stroke-opacity="0.8"/>
<path d="M394.2 426.9h0" stroke="#e8f078" stroke-width="1.60" stroke-linecap="round" stroke-opacity="0.8"/>
<path d="M401.4 487.2h0" stroke="#7f57a8" stroke-width="1.60" stroke-linecap="round" stroke-opacity="0.8"/>
<path d="M432.6 422.9h0M436.1 428.6h0M426.5 447.8h0" stroke="#e8f078" stroke-width="1.60" stroke-linecap="round" stroke-opacity="0.8"/>
<path d="M379.5 449.7h0" stroke="#7f57a8" stroke-width="1.60" stroke-linecap="round" stroke-opacity="0.8"/>
<path d="M424.5 438.4h0M438.1 437.4h0M447.1 441.0h0" stroke="#e8f078" stroke-width="1.60" stroke-linecap="round" stroke-opacity="0.8"/>
<path d="M370.2 446.0h0M406.5 489.8h0" stroke="#7f57a8" stroke-width="1.60" stroke-linecap="round" stroke-opacity="0.8"/>
<path d="M417.6 432.0h0M378.9 486.8h0M395.4 431.5h0M417.2 449.2h0M417.6 453.4h0M404.0 432.0h0M411.9 432.6h0M417.8 437.6h0M420.3 429.9h0" stroke="#e8f078" stroke-width="1.60" stroke-linecap="round" stroke-opacity="0.8"/>
<path d="M419.0 489.9h0" stroke="#7f57a8" stroke-width="1.60" stroke-linecap="round" stroke-opacity="0.8"/>
<path d="M434.3 434.5h0M405.8 433.8h0M414.3 439.5h0M432.3 448.6h0M403.9 423.9h0" stroke="#e8f078" stroke-width="1.60" stroke-linecap="round" stroke-opacity="0.8"/>
<path d="M406.3 488.0h0" stroke="#7f57a8" stroke-width="1.60" stroke-linecap="round" stroke-opacity="0.8"/>
<path d="M423.7 452.9h0M423.7 427.5h0M442.2 430.0h0M419.3 453.9h0M419.1 439.6h0M431.8 431.5h0" stroke="#e8f078" stroke-width="1.60" stroke-linecap="round" stroke-opacity="0.8"/>
<path d="M393.0 446.8h0" stroke="#7f57a8" stroke-width="1.60" stroke-linecap="round" stroke-opacity="0.8"/>
<path d="M425.1 462.3h0M394.4 423.8h0M436.7 429.4h0M406.3 431.2h0M446.0 444.0h0M401.6 424.8h0M397.0 419.3h0M391.3 411.0h0" stroke="#e8f078" stroke-width="1.60" stroke-linecap="round" stroke-opacity="0.8"/>
<path d="M432.2 491.1h0M414.6 490.3h0M383.2 477.9h0" stroke="#7f57a8" stroke-width="1.60" stroke-linecap="round" stroke-opacity="0.8"/>
<path d="M429.9 422.7h0" stroke="#e8f078" stroke-width="1.60" stroke-linecap="round" stroke-opacity="0.8"/>
<path d="M411.5 478.6h0" stroke="#7f57a8" stroke-width="1.60" stroke-linecap="round" stroke-opacity="0.8"/>
<path d="M424.0 448.8h0M416.8 437.0h0" stroke="#e8f078" stroke-width="1.60" stroke-linecap="round" stroke-opacity="0.8"/>
<path d="M424.7 472.3h0M375.5 451.2h0" stroke="#7f57a8" stroke-width="1.60" stroke-linecap="round" stroke-opacity="0.8"/>
<path d="M431.7 427.7h0M417.9 439.9h0" stroke="#e8f078" stroke-width="1.60" stroke-linecap="round" stroke-opacity="0.8"/>
<path d="M370.4 450.7h0M432.3 486.3h0M428.7 486.5h0" stroke="#7f57a8" stroke-width="1.60" stroke-linecap="round" stroke-opacity="0.8"/>
<path d="M410.9 461.4h0M396.9 429.4h0" stroke="#e8f078" stroke-width="1.60" stroke-linecap="round" stroke-opacity="0.8"/>
<path d="M369.8 449.8h0" stroke="#7f57a8" stroke-width="1.60" stroke-linecap="round" stroke-opacity="0.8"/>
<path d="M431.4 426.9h0M439.9 430.9h0M430.3 437.5h0" stroke="#e8f078" stroke-width="1.60" stroke-linecap="round" stroke-opacity="0.8"/>
<path d="M416.5 490.5h0" stroke="#7f57a8" stroke-width="1.60" stroke-linecap="round" stroke-opacity="0.8"/>
<path d="M424.2 465.8h0M431.9 457.9h0M421.3 465.1h0M425.8 446.2h0M423.8 458.2h0" stroke="#e8f078" stroke-width="1.60" stroke-linecap="round" stroke-opacity="0.8"/>
<path d="M368.7 444.4h0" stroke="#7f57a8" stroke-width="1.60" stroke-linecap="round" stroke-opacity="0.8"/>
<path d="M379.5 433.9h0M394.9 422.6h0" stroke="#e8f078" stroke-width="1.60" stroke-linecap="round" stroke-opacity="0.8"/>
<path d="M423.2 485.1h0M366.7 442.5h0" stroke="#7f57a8" stroke-width="1.60" stroke-linecap="round" stroke-opacity="0.8"/>
<path d="M418.1 471.4h0M392.2 411.7h0" stroke="#e8f078" stroke-width="1.60" stroke-linecap="round" stroke-opacity="0.8"/>
<path d="M402.9 480.3h0" stroke="#7f57a8" stroke-width="1.60" stroke-linecap="round" stroke-opacity="0.8"/>
<path d="M424.4 438.4h0" stroke="#e8f078" stroke-width="1.60" stroke-linecap="round" stroke-opacity="0.8"/>
<path d="M429.0 493.8h0" stroke="#7f57a8" stroke-width="1.60" stroke-linecap="round" stroke-opacity="0.8"/>
<path d="M411.1 442.7h0M402.6 423.1h0M429.7 428.6h0M418.4 458.5h0M427.0 435.8h0" stroke="#e8f078" stroke-width="1.60" stroke-linecap="round" stroke-opacity="0.8"/>
<path d="M396.0 481.5h0" stroke="#7f57a8" stroke-width="1.60" stroke-linecap="round" stroke-opacity="0.8"/>
<path d="M404.1 433.1h0" stroke="#e8f078" stroke-width="1.60" stroke-linecap="round" stroke-opacity="0.8"/>
<path d="M417.3 485.5h0M402.6 486.9h0" stroke="#7f57a8" stroke-width="1.60" stroke-linecap="round" stroke-opacity="0.8"/>
<path d="M406.1 439.2h0M432.9 434.2h0" stroke="#e8f078" stroke-width="1.60" stroke-linecap="round" stroke-opacity="0.8"/>
<path d="M429.0 488.0h0" stroke="#7f57a8" stroke-width="1.60" stroke-linecap="round" stroke-opacity="0.8"/>
<path d="M405.2 458.4h0M425.9 460.3h0M411.2 461.8h0M421.6 456.2h0" stroke="#e8f078" stroke-width="1.60" stroke-linecap="round" stroke-opacity="0.8"/>
<path d="M370.7 451.4h0M412.4 491.5h0M396.4 494.1h0M387.4 447.7h0" stroke="#7f57a8" stroke-width="1.60" stroke-linecap="round" stroke-opacity="0.8"/>
<path d="M392.1 440.8h0" stroke="#e8f078" stroke-width="1.60" stroke-linecap="round" stroke-opacity="0.8"/>
<path d="M381.1 449.9h0" stroke="#7f57a8" stroke-width="1.60" stroke-linecap="round" stroke-opacity="0.8"/>
<path d="M445.0 442.1h0" stroke="#e8f078" stroke-width="1.60" stroke-linecap="round" stroke-opacity="0.8"/>
<path d="M397.8 472.1h0" stroke="#7f57a8" stroke-width="1.60" stroke-linecap="round" stroke-opacity="0.8"/>
<path d="M411.1 423.9h0M424.2 445.5h0M422.2 453.7h0M411.5 462.8h0" stroke="#e8f078" stroke-width="1.60" stroke-linecap="round" stroke-opacity="0.8"/>
<path d="M408.0 457.3h0" stroke="#7f57a8" stroke-width="1.60" stroke-linecap="round" stroke-opacity="0.8"/>
<path d="M366.4 440.9h0M371.6 435.2h0M416.9 451.2h0M420.9 433.1h0M398.1 419.7h0" stroke="#e8f078" stroke-width="1.60" stroke-linecap="round" stroke-opacity="0.8"/>
<path d="M417.6 478.8h0M375.4 452.0h0M427.0 493.3h0" stroke="#7f57a8" stroke-width="1.60" stroke-linecap="round" stroke-opacity="0.8"/>
<path d="M400.7 430.3h0" stroke="#e8f078" stroke-width="1.60" stroke-linecap="round" stroke-opacity="0.8"/>
<path d="M419.6 481.7h0" stroke="#7f57a8" stroke-width="1.60" stroke-linecap="round" stroke-opacity="0.8"/>
<path d="M427.2 426.8h0M422.1 454.1h0M397.9 414.5h0" stroke="#e8f078" stroke-width="1.60" stroke-linecap="round" stroke-opacity="0.8"/>
<path d="M380.8 450.4h0M369.0 447.1h0M399.3 444.9h0" stroke="#7f57a8" stroke-width="1.60" stroke-linecap="round" stroke-opacity="0.8"/>
<path d="M438.7 432.5h0M383.9 473.4h0M443.6 435.5h0" stroke="#e8f078" stroke-width="1.60" stroke-linecap="round" stroke-opacity="0.8"/>
<path d="M369.0 446.0h0" stroke="#7f57a8" stroke-width="1.60" stroke-linecap="round" stroke-opacity="0.8"/>
<path d="M422.4 444.3h0M394.9 432.2h0" stroke="#e8f078" stroke-width="1.60" stroke-linecap="round" stroke-opacity="0.8"/>
<path d="M375.0 448.0h0" stroke="#7f57a8" stroke-width="1.60" stroke-linecap="round" stroke-opacity="0.8"/>
<path d="M437.3 435.3h0M419.5 463.8h0M395.1 501.1h0" stroke="#e8f078" stroke-width="1.60" stroke-linecap="round" stroke-opacity="0.8"/>
<path d="M425.2 472.0h0" stroke="#7f57a8" stroke-width="1.60" stroke-linecap="round" stroke-opacity="0.8"/>
<path d="M423.8 447.7h0M433.3 457.6h0M414.3 453.6h0" stroke="#e8f078" stroke-width="1.60" stroke-linecap="round" stroke-opacity="0.8"/>
<path d="M365.3 445.0h0" stroke="#7f57a8" stroke-width="1.60" stroke-linecap="round" stroke-opacity="0.8"/>
<path d="M418.9 435.2h0" stroke="#e8f078" stroke-width="1.60" stroke-linecap="round" stroke-opacity="0.8"/>
<path d="M420.5 489.4h0" stroke="#7f57a8" stroke-width="1.60" stroke-linecap="round" stroke-opacity="0.8"/>
<path d="M380.2 422.8h0M377.7 438.0h0M391.9 414.5h0M440.4 433.6h0M425.7 426.1h0M422.7 468.8h0M404.1 443.0h0M421.7 443.5h0" stroke="#e8f078" stroke-width="1.60" stroke-linecap="round" stroke-opacity="0.8"/>
<path d="M432.3 495.8h0" stroke="#7f57a8" stroke-width="1.60" stroke-linecap="round" stroke-opacity="0.8"/>
<path d="M386.5 424.4h0M397.8 409.0h0M410.8 430.9h0M417.5 425.8h0M444.7 428.1h0M375.6 495.3h0M407.2 468.6h0M389.5 413.4h0M390.0 430.2h0" stroke="#e8f078" stroke-width="1.60" stroke-linecap="round" stroke-opacity="0.8"/>
<path d="M408.6 488.2h0" stroke="#7f57a8" stroke-width="1.60" stroke-linecap="round" stroke-opacity="0.8"/>
<path d="M413.3 428.9h0M391.7 412.0h0M422.6 451.5h0M422.0 417.7h0" stroke="#e8f078" stroke-width="1.60" stroke-linecap="round" stroke-opacity="0.8"/>
<path d="M386.5 452.9h0" stroke="#7f57a8" stroke-width="1.60" stroke-linecap="round" stroke-opacity="0.8"/>
<path d="M395.4 425.8h0M436.0 432.0h0M392.8 417.3h0M417.7 446.2h0" stroke="#e8f078" stroke-width="1.60" stroke-linecap="round" stroke-opacity="0.8"/>
<path d="M384.3 449.9h0M436.0 485.6h0" stroke="#7f57a8" stroke-width="1.60" stroke-linecap="round" stroke-opacity="0.8"/>
<path d="M430.9 432.5h0M435.6 426.2h0" stroke="#e8f078" stroke-width="1.60" stroke-linecap="round" stroke-opacity="0.8"/>
<path d="M417.2 487.1h0" stroke="#7f57a8" stroke-width="1.60" stroke-linecap="round" stroke-opacity="0.8"/>
<path d="M431.7 433.4h0M398.5 439.4h0" stroke="#e8f078" stroke-width="1.60" stroke-linecap="round" stroke-opacity="0.8"/>
<path d="M395.2 449.1h0" stroke="#7f57a8" stroke-width="1.60" stroke-linecap="round" stroke-opacity="0.8"/>
<path d="M396.7 410.9h0M369.3 473.1h0M401.1 414.1h0M372.0 425.7h0M414.7 465.6h0M387.4 474.8h0M439.6 434.7h0M401.2 419.8h0M402.6 437.8h0M430.8 430.7h0M422.5 451.7h0M423.1 464.3h0" stroke="#e8f078" stroke-width="1.60" stroke-linecap="round" stroke-opacity="0.8"/>
<path d="M430.1 491.6h0M421.0 487.7h0M437.2 487.4h0M376.1 447.5h0" stroke="#7f57a8" stroke-width="1.60" stroke-linecap="round" stroke-opacity="0.8"/>
<path d="M395.3 423.0h0" stroke="#e8f078" stroke-width="1.60" stroke-linecap="round" stroke-opacity="0.8"/>
<path d="M431.4 486.9h0" stroke="#7f57a8" stroke-width="1.60" stroke-linecap="round" stroke-opacity="0.8"/>
<path d="M429.1 445.3h0" stroke="#e8f078" stroke-width="1.60" stroke-linecap="round" stroke-opacity="0.8"/>
<path d="M364.0 444.7h0" stroke="#7f57a8" stroke-width="1.60" stroke-linecap="round" stroke-opacity="0.8"/>
<path d="M411.9 453.1h0M432.5 438.8h0" stroke="#e8f078" stroke-width="1.60" stroke-linecap="round" stroke-opacity="0.8"/>
<path d="M419.3 487.6h0" stroke="#7f57a8" stroke-width="1.60" stroke-linecap="round" stroke-opacity="0.8"/>
<path d="M395.4 428.2h0M393.8 427.5h0" stroke="#e8f078" stroke-width="1.60" stroke-linecap="round" stroke-opacity="0.8"/>
<path d="M386.2 452.2h0" stroke="#7f57a8" stroke-width="1.60" stroke-linecap="round" stroke-opacity="0.8"/>
<path d="M439.6 436.3h0M413.7 443.4h0M380.2 427.7h0" stroke="#e8f078" stroke-width="1.60" stroke-linecap="round" stroke-opacity="0.8"/>
<path d="M399.2 446.8h0" stroke="#7f57a8" stroke-width="1.60" stroke-linecap="round" stroke-opacity="0.8"/>
<path d="M411.8 437.1h0" stroke="#e8f078" stroke-width="1.60" stroke-linecap="round" stroke-opacity="0.8"/>
<path d="M407.0 461.6h0" stroke="#7f57a8" stroke-width="1.60" stroke-linecap="round" stroke-opacity="0.8"/>
<path d="M391.6 432.6h0M415.1 438.8h0" stroke="#e8f078" stroke-width="1.60" stroke-linecap="round" stroke-opacity="0.8"/>
<path d="M371.0 447.8h0M366.1 444.2h0" stroke="#7f57a8" stroke-width="1.60" stroke-linecap="round" stroke-opacity="0.8"/>
<path d="M423.5 437.8h0M435.1 435.2h0M397.4 433.0h0M428.2 457.8h0" stroke="#e8f078" stroke-width="1.60" stroke-linecap="round" stroke-opacity="0.8"/>
<path d="M410.3 486.4h0" stroke="#7f57a8" stroke-width="1.60" stroke-linecap="round" stroke-opacity="0.8"/>
<path d="M435.9 428.2h0M435.0 441.7h0M426.4 467.0h0M385.0 466.2h0" stroke="#e8f078" stroke-width="1.60" stroke-linecap="round" stroke-opacity="0.8"/>
<path d="M385.3 447.6h0M432.4 488.4h0" stroke="#7f57a8" stroke-width="1.60" stroke-linecap="round" stroke-opacity="0.8"/>
<path d="M405.5 426.6h0M414.7 439.5h0M368.3 499.3h0" stroke="#e8f078" stroke-width="1.60" stroke-linecap="round" stroke-opacity="0.8"/>
<path d="M420.5 485.4h0" stroke="#7f57a8" stroke-width="1.60" stroke-linecap="round" stroke-opacity="0.8"/>
<path d="M412.2 452.0h0M445.3 438.1h0M393.4 419.6h0M417.9 446.0h0M393.3 423.3h0M397.4 416.7h0M391.5 483.5h0" stroke="#e8f078" stroke-width="1.60" stroke-linecap="round" stroke-opacity="0.8"/>
<path d="M377.8 450.9h0" stroke="#7f57a8" stroke-width="1.60" stroke-linecap="round" stroke-opacity="0.8"/>
<path d="M416.6 452.4h0" stroke="#e8f078" stroke-width="1.60" stroke-linecap="round" stroke-opacity="0.8"/>
<path d="M369.3 446.7h0" stroke="#7f57a8" stroke-width="1.60" stroke-linecap="round" stroke-opacity="0.8"/>
<path d="M372.2 427.3h0" stroke="#e8f078" stroke-width="1.60" stroke-linecap="round" stroke-opacity="0.8"/>
<path d="M424.0 484.9h0" stroke="#7f57a8" stroke-width="1.60" stroke-linecap="round" stroke-opacity="0.8"/>
<path d="M435.9 461.6h0M416.0 432.7h0M405.6 432.2h0M397.8 470.2h0M379.8 479.3h0M425.6 465.0h0" stroke="#e8f078" stroke-width="1.60" stroke-linecap="round" stroke-opacity="0.8"/>
<path d="M377.4 451.2h0" stroke="#7f57a8" stroke-width="1.60" stroke-linecap="round" stroke-opacity="0.8"/>
<path d="M433.5 434.9h0M394.8 418.8h0M419.3 451.9h0M403.6 428.7h0" stroke="#e8f078" stroke-width="1.60" stroke-linecap="round" stroke-opacity="0.8"/>
<path d="M373.5 453.9h0" stroke="#7f57a8" stroke-width="1.60" stroke-linecap="round" stroke-opacity="0.8"/>
<path d="M408.7 437.3h0" stroke="#e8f078" stroke-width="1.60" stroke-linecap="round" stroke-opacity="0.8"/>
<path d="M425.7 488.3h0" stroke="#7f57a8" stroke-width="1.60" stroke-linecap="round" stroke-opacity="0.8"/>
<path d="M425.8 464.5h0M410.6 434.4h0M429.5 432.0h0M394.5 415.7h0M414.2 453.5h0M426.9 461.2h0M450.2 442.4h0M418.4 448.3h0M409.3 440.0h0M432.7 427.1h0" stroke="#e8f078" stroke-width="1.60" stroke-linecap="round" stroke-opacity="0.8"/>
<path d="M380.7 448.3h0" stroke="#7f57a8" stroke-width="1.60" stroke-linecap="round" stroke-opacity="0.8"/>
<path d="M393.9 435.9h0M409.4 437.5h0M400.3 436.9h0M405.0 431.8h0" stroke="#e8f078" stroke-width="1.60" stroke-linecap="round" stroke-opacity="0.8"/>
<path d="M383.0 451.8h0" stroke="#7f57a8" stroke-width="1.60" stroke-linecap="round" stroke-opacity="0.8"/>
<path d="M406.1 431.7h0M420.0 450.8h0" stroke="#e8f078" stroke-width="1.60" stroke-linecap="round" stroke-opacity="0.8"/>
<path d="M432.6 482.2h0M432.7 494.5h0" stroke="#7f57a8" stroke-width="1.60" stroke-linecap="round" stroke-opacity="0.8"/>
<path d="M402.2 430.5h0M437.8 430.6h0M447.9 434.7h0M423.3 453.5h0M426.8 453.7h0M436.6 433.4h0M437.6 430.4h0M415.8 440.6h0M401.6 420.5h0" stroke="#e8f078" stroke-width="1.60" stroke-linecap="round" stroke-opacity="0.8"/>
<path d="M366.2 444.5h0" stroke="#7f57a8" stroke-width="1.60" stroke-linecap="round" stroke-opacity="0.8"/>
<path d="M420.5 438.0h0" stroke="#e8f078" stroke-width="1.60" stroke-linecap="round" stroke-opacity="0.8"/>
<path d="M373.1 450.1h0" stroke="#7f57a8" stroke-width="1.60" stroke-linecap="round" stroke-opacity="0.8"/>
<path d="M420.0 427.9h0M426.2 432.7h0M413.5 471.4h0M432.1 431.2h0M397.7 421.0h0" stroke="#e8f078" stroke-width="1.60" stroke-linecap="round" stroke-opacity="0.8"/>
<path d="M416.4 487.6h0" stroke="#7f57a8" stroke-width="1.60" stroke-linecap="round" stroke-opacity="0.8"/>
<path d="M423.8 441.1h0" stroke="#e8f078" stroke-width="1.60" stroke-linecap="round" stroke-opacity="0.8"/>
<path d="M420.8 491.2h0M411.9 480.9h0" stroke="#7f57a8" stroke-width="1.60" stroke-linecap="round" stroke-opacity="0.8"/>
<path d="M442.6 436.5h0M438.6 435.5h0M443.5 436.6h0M401.9 438.1h0" stroke="#e8f078" stroke-width="1.60" stroke-linecap="round" stroke-opacity="0.8"/>
<path d="M435.1 493.5h0" stroke="#7f57a8" stroke-width="1.60" stroke-linecap="round" stroke-opacity="0.8"/>
<path d="M391.3 483.0h0M436.6 435.5h0" stroke="#e8f078" stroke-width="1.60" stroke-linecap="round" stroke-opacity="0.8"/>
<path d="M428.4 488.0h0" stroke="#7f57a8" stroke-width="1.60" stroke-linecap="round" stroke-opacity="0.8"/>
<path d="M408.5 431.5h0M426.4 449.8h0M410.6 434.9h0M435.3 453.1h0M416.7 441.3h0M449.7 433.5h0" stroke="#e8f078" stroke-width="1.60" stroke-linecap="round" stroke-opacity="0.8"/>
<path d="M369.2 447.3h0" stroke="#7f57a8" stroke-width="1.60" stroke-linecap="round" stroke-opacity="0.8"/>
<path d="M403.4 432.7h0M375.6 424.5h0M403.4 426.2h0M372.3 421.5h0M384.9 424.1h0M422.4 459.4h0M391.3 413.5h0M378.2 473.6h0M418.3 448.7h0M435.4 428.8h0" stroke="#e8f078" stroke-width="1.60" stroke-linecap="round" stroke-opacity="0.8"/>
<path d="M432.9 481.3h0" stroke="#7f57a8" stroke-width="1.60" stroke-linecap="round" stroke-opacity="0.8"/>
<path d="M366.2 436.1h0M399.9 418.8h0M431.2 447.9h0M430.0 433.3h0M405.1 427.0h0" stroke="#e8f078" stroke-width="1.60" stroke-linecap="round" stroke-opacity="0.8"/>
<path d="M408.8 468.6h0" stroke="#7f57a8" stroke-width="1.60" stroke-linecap="round" stroke-opacity="0.8"/>
<path d="M410.2 431.8h0M427.8 438.7h0M390.8 420.4h0" stroke="#e8f078" stroke-width="1.60" stroke-linecap="round" stroke-opacity="0.8"/>
<path d="M409.4 484.6h0" stroke="#7f57a8" stroke-width="1.60" stroke-linecap="round" stroke-opacity="0.8"/>
<path d="M415.5 444.9h0M431.9 464.4h0" stroke="#e8f078" stroke-width="1.60" stroke-linecap="round" stroke-opacity="0.8"/>
<path d="M405.8 484.3h0" stroke="#7f57a8" stroke-width="1.60" stroke-linecap="round" stroke-opacity="0.8"/>
<path d="M391.7 435.4h0M368.2 491.4h0M421.6 431.7h0M418.6 431.9h0M399.5 417.8h0M423.9 418.6h0" stroke="#e8f078" stroke-width="1.60" stroke-linecap="round" stroke-opacity="0.8"/>
<path d="M376.8 453.2h0" stroke="#7f57a8" stroke-width="1.60" stroke-linecap="round" stroke-opacity="0.8"/>
<path d="M445.2 440.5h0" stroke="#e8f078" stroke-width="1.60" stroke-linecap="round" stroke-opacity="0.8"/>
<path d="M393.6 451.9h0" stroke="#7f57a8" stroke-width="1.60" stroke-linecap="round" stroke-opacity="0.8"/>
<path d="M398.2 421.2h0M396.2 414.9h0M427.8 438.8h0M389.0 477.6h0M423.1 461.3h0M433.7 433.2h0" stroke="#e8f078" stroke-width="1.60" stroke-linecap="round" stroke-opacity="0.8"/>
<path d="M368.2 494.2h0" stroke="#7f57a8" stroke-width="1.60" stroke-linecap="round" stroke-opacity="0.8"/>
<path d="M410.9 428.8h0" stroke="#e8f078" stroke-width="1.60" stroke-linecap="round" stroke-opacity="0.8"/>
<path d="M434.7 490.0h0" stroke="#7f57a8" stroke-width="1.60" stroke-linecap="round" stroke-opacity="0.8"/>
<path d="M378.8 490.3h0" stroke="#e8f078" stroke-width="1.60" stroke-linecap="round" stroke-opacity="0.8"/>
<path d="M364.6 441.0h0" stroke="#7f57a8" stroke-width="1.60" stroke-linecap="round" stroke-opacity="0.8"/>
<path d="M401.0 416.8h0M425.0 433.0h0M426.7 428.2h0M395.5 437.4h0M393.3 430.0h0M429.0 460.3h0" stroke="#e8f078" stroke-width="1.60" stroke-linecap="round" stroke-opacity="0.8"/>
<path d="M380.9 449.1h0M409.3 458.1h0" stroke="#7f57a8" stroke-width="1.60" stroke-linecap="round" stroke-opacity="0.8"/>
<path d="M424.1 427.0h0M399.5 427.6h0M390.4 416.5h0M394.0 435.7h0M407.3 431.8h0M436.8 435.9h0M397.6 414.7h0M417.8 431.3h0M384.6 437.5h0M425.5 456.0h0M394.7 433.4h0" stroke="#e8f078" stroke-width="1.60" stroke-linecap="round" stroke-opacity="0.8"/>
<path d="M429.8 492.6h0" stroke="#7f57a8" stroke-width="1.60" stroke-linecap="round" stroke-opacity="0.8"/>
<path d="M439.6 436.0h0M404.1 431.1h0" stroke="#e8f078" stroke-width="1.60" stroke-linecap="round" stroke-opacity="0.8"/>
<path d="M406.8 469.6h0" stroke="#7f57a8" stroke-width="1.60" stroke-linecap="round" stroke-opacity="0.8"/>
<path d="M396.5 420.3h0M444.4 464.2h0M402.4 417.6h0M400.3 416.4h0" stroke="#e8f078" stroke-width="1.60" stroke-linecap="round" stroke-opacity="0.8"/>
<path d="M381.1 450.0h0" stroke="#7f57a8" stroke-width="1.60" stroke-linecap="round" stroke-opacity="0.8"/>
<path d="M398.4 418.9h0M416.9 429.8h0" stroke="#e8f078" stroke-width="1.60" stroke-linecap="round" stroke-opacity="0.8"/>
<path d="M409.2 488.1h0" stroke="#7f57a8" stroke-width="1.60" stroke-linecap="round" stroke-opacity="0.8"/>
<path d="M417.7 457.3h0M432.0 442.9h0M420.1 457.7h0" stroke="#e8f078" stroke-width="1.60" stroke-linecap="round" stroke-opacity="0.8"/>
<path d="M404.5 483.4h0" stroke="#7f57a8" stroke-width="1.60" stroke-linecap="round" stroke-opacity="0.8"/>
<path d="M396.1 419.1h0M367.6 420.2h0M413.3 453.4h0M410.5 452.0h0M400.6 415.4h0M412.4 425.9h0M388.3 417.0h0M425.7 426.4h0M417.1 449.1h0M375.7 494.4h0M397.6 423.0h0M434.2 439.3h0M437.1 424.5h0M437.4 429.3h0" stroke="#e8f078" stroke-width="1.60" stroke-linecap="round" stroke-opacity="0.8"/>
<path d="M441.5 480.7h0" stroke="#7f57a8" stroke-width="1.60" stroke-linecap="round" stroke-opacity="0.8"/>
<path d="M421.0 426.1h0M428.3 432.8h0" stroke="#e8f078" stroke-width="1.60" stroke-linecap="round" stroke-opacity="0.8"/>
<path d="M411.7 486.1h0" stroke="#7f57a8" stroke-width="1.60" stroke-linecap="round" stroke-opacity="0.8"/>
<path d="M412.2 435.5h0M438.8 436.1h0M431.8 426.7h0M376.8 474.8h0M436.4 433.1h0M437.4 454.7h0M436.5 442.3h0M411.9 429.1h0" stroke="#e8f078" stroke-width="1.60" stroke-linecap="round" stroke-opacity="0.8"/>
<path d="M366.2 440.8h0M438.7 489.5h0" stroke="#7f57a8" stroke-width="1.60" stroke-linecap="round" stroke-opacity="0.8"/>
<path d="M430.2 436.1h0M436.8 439.5h0M416.9 428.7h0M396.3 421.7h0M445.7 433.0h0M418.6 431.5h0M433.9 426.7h0M415.9 435.2h0" stroke="#e8f078" stroke-width="1.60" stroke-linecap="round" stroke-opacity="0.8"/>
<path d="M386.3 447.2h0M422.9 494.6h0" stroke="#7f57a8" stroke-width="1.60" stroke-linecap="round" stroke-opacity="0.8"/>
<path d="M391.4 417.8h0M398.2 434.7h0" stroke="#e8f078" stroke-width="1.60" stroke-linecap="round" stroke-opacity="0.8"/>
<path d="M377.2 448.7h0M435.0 492.8h0" stroke="#7f57a8" stroke-width="1.60" stroke-linecap="round" stroke-opacity="0.8"/>
<path d="M419.5 437.1h0M405.0 435.8h0M400.2 430.6h0M413.7 437.2h0M420.6 430.6h0M428.1 432.6h0M394.5 438.5h0" stroke="#e8f078" stroke-width="1.60" stroke-linecap="round" stroke-opacity="0.8"/>
<path d="M402.1 470.5h0" stroke="#7f57a8" stroke-width="1.60" stroke-linecap="round" stroke-opacity="0.8"/>
<path d="M397.4 419.4h0M437.3 434.9h0M425.9 429.7h0" stroke="#e8f078" stroke-width="1.60" stroke-linecap="round" stroke-opacity="0.8"/>
<path d="M429.5 486.0h0" stroke="#7f57a8" stroke-width="1.60" stroke-linecap="round" stroke-opacity="0.8"/>
<path d="M402.2 419.3h0M396.3 420.4h0M383.5 466.3h0" stroke="#e8f078" stroke-width="1.60" stroke-linecap="round" stroke-opacity="0.8"/>
<path d="M366.5 446.1h0M410.1 476.7h0M410.8 468.5h0" stroke="#7f57a8" stroke-width="1.60" stroke-linecap="round" stroke-opacity="0.8"/>
<path d="M441.5 429.6h0M413.2 451.4h0" stroke="#e8f078" stroke-width="1.60" stroke-linecap="round" stroke-opacity="0.8"/>
<path d="M384.7 450.4h0" stroke="#7f57a8" stroke-width="1.60" stroke-linecap="round" stroke-opacity="0.8"/>
<path d="M428.8 450.7h0M396.8 434.0h0" stroke="#e8f078" stroke-width="1.60" stroke-linecap="round" stroke-opacity="0.8"/>
<path d="M412.4 488.1h0M390.9 449.2h0" stroke="#7f57a8" stroke-width="1.60" stroke-linecap="round" stroke-opacity="0.8"/>
<path d="M389.1 421.9h0M393.5 422.2h0M394.4 437.7h0" stroke="#e8f078" stroke-width="1.60" stroke-linecap="round" stroke-opacity="0.8"/>
<path d="M428.7 486.0h0" stroke="#7f57a8" stroke-width="1.60" stroke-linecap="round" stroke-opacity="0.8"/>
<path d="M425.4 457.1h0" stroke="#e8f078" stroke-width="1.60" stroke-linecap="round" stroke-opacity="0.8"/>
<path d="M409.4 458.6h0" stroke="#7f57a8" stroke-width="1.60" stroke-linecap="round" stroke-opacity="0.8"/>
<path d="M417.1 435.6h0" stroke="#e8f078" stroke-width="1.60" stroke-linecap="round" stroke-opacity="0.8"/>
<path d="M368.3 441.9h0" stroke="#7f57a8" stroke-width="1.60" stroke-linecap="round" stroke-opacity="0.8"/>
<path d="M415.5 450.1h0M439.0 432.5h0M421.6 437.8h0M427.4 432.4h0M398.1 415.5h0" stroke="#e8f078" stroke-width="1.60" stroke-linecap="round" stroke-opacity="0.8"/>
<path d="M442.2 488.0h0" stroke="#7f57a8" stroke-width="1.60" stroke-linecap="round" stroke-opacity="0.8"/>
<path d="M415.5 447.7h0" stroke="#e8f078" stroke-width="1.60" stroke-linecap="round" stroke-opacity="0.8"/>
<path d="M399.4 478.7h0" stroke="#7f57a8" stroke-width="1.60" stroke-linecap="round" stroke-opacity="0.8"/>
<path d="M397.1 413.8h0" stroke="#e8f078" stroke-width="1.60" stroke-linecap="round" stroke-opacity="0.8"/>
<path d="M375.6 448.7h0" stroke="#7f57a8" stroke-width="1.60" stroke-linecap="round" stroke-opacity="0.8"/>
<path d="M371.1 472.5h0M401.8 433.3h0M430.6 446.3h0" stroke="#e8f078" stroke-width="1.60" stroke-linecap="round" stroke-opacity="0.8"/>
<path d="M409.5 486.5h0M366.0 455.9h0" stroke="#7f57a8" stroke-width="1.60" stroke-linecap="round" stroke-opacity="0.8"/>
<path d="M394.9 497.1h0M440.6 432.8h0" stroke="#e8f078" stroke-width="1.60" stroke-linecap="round" stroke-opacity="0.8"/>
<path d="M412.2 485.4h0M392.5 451.2h0" stroke="#7f57a8" stroke-width="1.60" stroke-linecap="round" stroke-opacity="0.8"/>
<path d="M438.3 455.4h0M444.0 460.6h0" stroke="#e8f078" stroke-width="1.60" stroke-linecap="round" stroke-opacity="0.8"/>
<path d="M430.4 488.6h0M408.2 487.9h0" stroke="#7f57a8" stroke-width="1.60" stroke-linecap="round" stroke-opacity="0.8"/>
<path d="M365.2 420.4h0" stroke="#e8f078" stroke-width="1.60" stroke-linecap="round" stroke-opacity="0.8"/>
<path d="M422.7 488.0h0" stroke="#7f57a8" stroke-width="1.60" stroke-linecap="round" stroke-opacity="0.8"/>
<path d="M401.6 416.4h0M427.6 436.9h0M393.1 413.8h0M443.9 434.3h0M400.3 424.6h0M442.2 437.3h0M427.6 472.2h0M413.7 446.1h0" stroke="#e8f078" stroke-width="1.60" stroke-linecap="round" stroke-opacity="0.8"/>
<path d="M372.2 447.2h0" stroke="#7f57a8" stroke-width="1.60" stroke-linecap="round" stroke-opacity="0.8"/>
<path d="M370.0 483.0h0" stroke="#e8f078" stroke-width="1.60" stroke-linecap="round" stroke-opacity="0.8"/>
<path d="M365.9 444.1h0" stroke="#7f57a8" stroke-width="1.60" stroke-linecap="round" stroke-opacity="0.8"/>
<path d="M410.9 438.9h0" stroke="#e8f078" stroke-width="1.60" stroke-linecap="round" stroke-opacity="0.8"/>
<path d="M402.2 489.0h0" stroke="#7f57a8" stroke-width="1.60" stroke-linecap="round" stroke-opacity="0.8"/>
<path d="M387.8 478.3h0M433.5 432.4h0M431.6 475.9h0M440.4 437.8h0M409.7 434.4h0M449.3 430.8h0M408.9 442.5h0" stroke="#e8f078" stroke-width="1.60" stroke-linecap="round" stroke-opacity="0.8"/>
<path d="M378.7 466.6h0M396.8 492.9h0M377.1 447.7h0M369.4 446.5h0" stroke="#7f57a8" stroke-width="1.60" stroke-linecap="round" stroke-opacity="0.8"/>
<path d="M447.1 436.4h0M428.5 452.2h0" stroke="#e8f078" stroke-width="1.60" stroke-linecap="round" stroke-opacity="0.8"/>
<path d="M398.1 446.5h0" stroke="#7f57a8" stroke-width="1.60" stroke-linecap="round" stroke-opacity="0.8"/>
<path d="M431.6 424.3h0" stroke="#e8f078" stroke-width="1.60" stroke-linecap="round" stroke-opacity="0.8"/>
<path d="M406.2 487.7h0" stroke="#7f57a8" stroke-width="1.60" stroke-linecap="round" stroke-opacity="0.8"/>
<path d="M396.7 409.9h0" stroke="#e8f078" stroke-width="1.60" stroke-linecap="round" stroke-opacity="0.8"/>
<path d="M410.2 474.7h0" stroke="#7f57a8" stroke-width="1.60" stroke-linecap="round" stroke-opacity="0.8"/>
<path d="M385.1 442.2h0M398.3 428.6h0M417.0 453.1h0M433.8 433.3h0M395.0 419.6h0" stroke="#e8f078" stroke-width="1.60" stroke-linecap="round" stroke-opacity="0.8"/>
<path d="M424.0 486.4h0" stroke="#7f57a8" stroke-width="1.60" stroke-linecap="round" stroke-opacity="0.8"/>
<path d="M421.9 463.6h0" stroke="#e8f078" stroke-width="1.60" stroke-linecap="round" stroke-opacity="0.8"/>
<path d="M407.7 474.8h0" stroke="#7f57a8" stroke-width="1.60" stroke-linecap="round" stroke-opacity="0.8"/>
<path d="M420.7 451.2h0M400.1 432.4h0M404.0 437.3h0M380.3 426.6h0M402.8 421.2h0" stroke="#e8f078" stroke-width="1.60" stroke-linecap="round" stroke-opacity="0.8"/>
<path d="M384.4 450.2h0" stroke="#7f57a8" stroke-width="1.60" stroke-linecap="round" stroke-opacity="0.8"/>
<path d="M384.2 434.4h0M406.7 446.8h0" stroke="#e8f078" stroke-width="1.60" stroke-linecap="round" stroke-opacity="0.8"/>
<path d="M395.8 444.9h0" stroke="#7f57a8" stroke-width="1.60" stroke-linecap="round" stroke-opacity="0.8"/>
<path d="M424.2 464.0h0M440.5 438.3h0M423.7 457.0h0M403.8 433.8h0M423.1 451.2h0" stroke="#e8f078" stroke-width="1.60" stroke-linecap="round" stroke-opacity="0.8"/>
<path d="M368.0 448.8h0" stroke="#7f57a8" stroke-width="1.60" stroke-linecap="round" stroke-opacity="0.8"/>
<path d="M421.7 438.0h0" stroke="#e8f078" stroke-width="1.60" stroke-linecap="round" stroke-opacity="0.8"/>
<path d="M442.1 470.7h0" stroke="#7f57a8" stroke-width="1.60" stroke-linecap="round" stroke-opacity="0.8"/>
<path d="M437.4 439.2h0" stroke="#e8f078" stroke-width="1.60" stroke-linecap="round" stroke-opacity="0.8"/>
<path d="M413.4 459.3h0M401.3 456.9h0" stroke="#7f57a8" stroke-width="1.60" stroke-linecap="round" stroke-opacity="0.8"/>
<path d="M422.6 451.9h0M399.0 433.7h0" stroke="#e8f078" stroke-width="1.60" stroke-linecap="round" stroke-opacity="0.8"/>
<path d="M366.4 459.0h0" stroke="#7f57a8" stroke-width="1.60" stroke-linecap="round" stroke-opacity="0.8"/>
<path d="M416.7 435.6h0M415.8 442.8h0M402.1 431.5h0M427.5 451.3h0M428.1 428.8h0" stroke="#e8f078" stroke-width="1.60" stroke-linecap="round" stroke-opacity="0.8"/>
<path d="M407.6 485.3h0" stroke="#7f57a8" stroke-width="1.60" stroke-linecap="round" stroke-opacity="0.8"/>
<path d="M394.6 420.4h0M415.0 437.6h0M417.1 458.5h0" stroke="#e8f078" stroke-width="1.60" stroke-linecap="round" stroke-opacity="0.8"/>
<path d="M430.8 484.2h0" stroke="#7f57a8" stroke-width="1.60" stroke-linecap="round" stroke-opacity="0.8"/>
<path d="M431.4 436.0h0" stroke="#e8f078" stroke-width="1.60" stroke-linecap="round" stroke-opacity="0.8"/>
<path d="M403.8 459.3h0" stroke="#7f57a8" stroke-width="1.60" stroke-linecap="round" stroke-opacity="0.8"/>
<path d="M399.2 415.6h0" stroke="#e8f078" stroke-width="1.60" stroke-linecap="round" stroke-opacity="0.8"/>
<path d="M407.0 486.2h0" stroke="#7f57a8" stroke-width="1.60" stroke-linecap="round" stroke-opacity="0.8"/>
<path d="M431.0 470.7h0M412.2 456.8h0M438.6 430.2h0M433.3 432.9h0M409.6 439.1h0M416.6 459.8h0M398.1 421.3h0" stroke="#e8f078" stroke-width="1.60" stroke-linecap="round" stroke-opacity="0.8"/>
<path d="M425.4 485.7h0M383.7 447.3h0" stroke="#7f57a8" stroke-width="1.60" stroke-linecap="round" stroke-opacity="0.8"/>
<path d="M404.3 428.8h0" stroke="#e8f078" stroke-width="1.60" stroke-linecap="round" stroke-opacity="0.8"/>
<path d="M432.8 482.8h0M375.5 453.0h0" stroke="#7f57a8" stroke-width="1.60" stroke-linecap="round" stroke-opacity="0.8"/>
<path d="M418.9 429.4h0M400.0 419.9h0M409.3 439.3h0" stroke="#e8f078" stroke-width="1.60" stroke-linecap="round" stroke-opacity="0.8"/>
<path d="M409.4 489.7h0" stroke="#7f57a8" stroke-width="1.60" stroke-linecap="round" stroke-opacity="0.8"/>
<path d="M399.1 415.1h0M397.0 420.1h0M417.6 433.6h0M432.5 429.1h0" stroke="#e8f078" stroke-width="1.60" stroke-linecap="round" stroke-opacity="0.8"/>
<path d="M407.2 483.0h0" stroke="#7f57a8" stroke-width="1.60" stroke-linecap="round" stroke-opacity="0.8"/>
<path d="M393.7 417.6h0" stroke="#e8f078" stroke-width="1.60" stroke-linecap="round" stroke-opacity="0.8"/>
<path d="M388.2 450.8h0" stroke="#7f57a8" stroke-width="1.60" stroke-linecap="round" stroke-opacity="0.8"/>
<path d="M401.6 431.7h0M431.3 449.7h0M393.4 429.0h0M406.7 430.5h0" stroke="#e8f078" stroke-width="1.60" stroke-linecap="round" stroke-opacity="0.8"/>
<path d="M412.7 491.7h0" stroke="#7f57a8" stroke-width="1.60" stroke-linecap="round" stroke-opacity="0.8"/>
<path d="M394.3 420.0h0M408.7 436.4h0M389.4 439.7h0M435.5 464.4h0" stroke="#e8f078" stroke-width="1.60" stroke-linecap="round" stroke-opacity="0.8"/>
<path d="M368.3 446.6h0" stroke="#7f57a8" stroke-width="1.60" stroke-linecap="round" stroke-opacity="0.8"/>
<path d="M418.9 434.5h0M415.8 449.8h0M429.5 432.6h0M432.8 432.5h0" stroke="#e8f078" stroke-width="1.60" stroke-linecap="round" stroke-opacity="0.8"/>
<path d="M427.6 490.4h0M432.5 473.9h0" stroke="#7f57a8" stroke-width="1.60" stroke-linecap="round" stroke-opacity="0.8"/>
<path d="M405.9 430.3h0M421.6 436.5h0" stroke="#e8f078" stroke-width="1.60" stroke-linecap="round" stroke-opacity="0.8"/>
<path d="M383.6 448.0h0" stroke="#7f57a8" stroke-width="1.60" stroke-linecap="round" stroke-opacity="0.8"/>
<path d="M424.5 428.6h0M416.1 433.1h0M387.2 438.3h0" stroke="#e8f078" stroke-width="1.60" stroke-linecap="round" stroke-opacity="0.8"/>
<path d="M403.7 481.5h0M368.9 450.3h0" stroke="#7f57a8" stroke-width="1.60" stroke-linecap="round" stroke-opacity="0.8"/>
<path d="M386.7 424.0h0M378.2 441.1h0M438.4 433.8h0M415.7 430.9h0M420.6 447.3h0M421.5 435.2h0" stroke="#e8f078" stroke-width="1.60" stroke-linecap="round" stroke-opacity="0.8"/>
<path d="M431.4 490.2h0M399.7 456.9h0" stroke="#7f57a8" stroke-width="1.60" stroke-linecap="round" stroke-opacity="0.8"/>
<path d="M389.6 426.7h0M389.4 415.1h0" stroke="#e8f078" stroke-width="1.60" stroke-linecap="round" stroke-opacity="0.8"/>
<path d="M368.2 445.4h0" stroke="#7f57a8" stroke-width="1.60" stroke-linecap="round" stroke-opacity="0.8"/>
<path d="M445.3 433.1h0" stroke="#e8f078" stroke-width="1.60" stroke-linecap="round" stroke-opacity="0.8"/>
<path d="M424.6 489.6h0" stroke="#7f57a8" stroke-width="1.60" stroke-linecap="round" stroke-opacity="0.8"/>
<path d="M396.8 413.9h0M433.4 435.3h0M408.6 433.6h0M426.4 458.0h0M413.9 467.3h0M380.4 430.1h0M449.0 438.3h0" stroke="#e8f078" stroke-width="1.60" stroke-linecap="round" stroke-opacity="0.8"/>
<path d="M365.5 498.5h0" stroke="#7f57a8" stroke-width="1.60" stroke-linecap="round" stroke-opacity="0.8"/>
<path d="M394.8 440.7h0M393.3 414.7h0M410.2 470.8h0M410.6 435.6h0M405.4 429.6h0" stroke="#e8f078" stroke-width="1.60" stroke-linecap="round" stroke-opacity="0.8"/>
<path d="M442.3 504.8h0" stroke="#7f57a8" stroke-width="1.60" stroke-linecap="round" stroke-opacity="0.8"/>
<path d="M374.2 427.4h0M442.9 435.8h0M441.0 432.9h0M431.3 426.4h0M391.0 418.8h0M432.1 455.5h0M403.0 434.8h0M444.0 429.3h0M438.9 431.9h0" stroke="#e8f078" stroke-width="1.60" stroke-linecap="round" stroke-opacity="0.8"/>
<path d="M376.0 447.2h0" stroke="#7f57a8" stroke-width="1.60" stroke-linecap="round" stroke-opacity="0.8"/>
<path d="M394.4 445.1h0M406.7 437.2h0M442.8 430.0h0M408.1 430.5h0M387.5 498.5h0M431.7 456.4h0" stroke="#e8f078" stroke-width="1.60" stroke-linecap="round" stroke-opacity="0.8"/>
<path d="M419.3 476.4h0" stroke="#7f57a8" stroke-width="1.60" stroke-linecap="round" stroke-opacity="0.8"/>
<path d="M388.9 412.7h0M397.0 421.6h0" stroke="#e8f078" stroke-width="1.60" stroke-linecap="round" stroke-opacity="0.8"/>
</g>
<rect x="367.5" y="397" width="80" height="7.2" fill="#fff" fill-opacity="0.8"/>
<text x="407.5" y="400.6" font-size="7.38" text-anchor="middle" dominant-baseline="central" fill="#e62a2a" textLength="79.11" lengthAdjust="spacingAndGlyphs" stroke="#e62a2a" stroke-width="0.07">Euclidean Distance: 0.51</text>
<rect x="359.4" y="396.1" width="96.2" height="112.9" fill="none" stroke="#d8d8d8" stroke-width="0.9"/>
<text x="407.5" y="390.5" font-size="8.53" text-anchor="middle" dominant-baseline="central" fill="#222" textLength="105.24" lengthAdjust="spacingAndGlyphs" stroke="#222" stroke-width="0.07">Embeddings after Alignment</text>
<line x1="360.5" y1="509" x2="360.5" y2="511" stroke="#555" stroke-width="0.7"/>
<text x="360.5" y="515.4" font-size="7.0" text-anchor="middle" dominant-baseline="central" fill="#222" textLength="12.63" lengthAdjust="spacingAndGlyphs" stroke="#222" stroke-width="0.07">−1.0</text>
<line x1="383.22" y1="509" x2="383.22" y2="511" stroke="#555" stroke-width="0.7"/>
<text x="383.22" y="515.4" font-size="7.0" text-anchor="middle" dominant-baseline="central" fill="#222" textLength="12.63" lengthAdjust="spacingAndGlyphs" stroke="#222" stroke-width="0.07">−0.5</text>
<line x1="405.95" y1="509" x2="405.95" y2="511" stroke="#555" stroke-width="0.7"/>
<text x="405.95" y="515.4" font-size="7.0" text-anchor="middle" dominant-baseline="central" fill="#222" textLength="8.27" lengthAdjust="spacingAndGlyphs" stroke="#222" stroke-width="0.07">0.0</text>
<line x1="428.68" y1="509" x2="428.68" y2="511" stroke="#555" stroke-width="0.7"/>
<text x="428.68" y="515.4" font-size="7.0" text-anchor="middle" dominant-baseline="central" fill="#222" textLength="8.27" lengthAdjust="spacingAndGlyphs" stroke="#222" stroke-width="0.07">0.5</text>
<line x1="451.4" y1="509" x2="451.4" y2="511" stroke="#555" stroke-width="0.7"/>
<text x="451.4" y="515.4" font-size="7.0" text-anchor="middle" dominant-baseline="central" fill="#222" textLength="8.27" lengthAdjust="spacingAndGlyphs" stroke="#222" stroke-width="0.07">1.0</text>
<line x1="357.4" y1="399.48" x2="359.4" y2="399.48" stroke="#555" stroke-width="0.7"/>
<text x="355.8" y="399.48" font-size="7.0" text-anchor="end" dominant-baseline="central" fill="#222" textLength="11.58" lengthAdjust="spacingAndGlyphs" stroke="#222" stroke-width="0.07">0.75</text>
<line x1="357.4" y1="415.15" x2="359.4" y2="415.15" stroke="#555" stroke-width="0.7"/>
<text x="355.8" y="415.15" font-size="7.0" text-anchor="end" dominant-baseline="central" fill="#222" textLength="11.58" lengthAdjust="spacingAndGlyphs" stroke="#222" stroke-width="0.07">0.50</text>
<line x1="357.4" y1="430.82" x2="359.4" y2="430.82" stroke="#555" stroke-width="0.7"/>
<text x="355.8" y="430.82" font-size="7.0" text-anchor="end" dominant-baseline="central" fill="#222" textLength="11.58" lengthAdjust="spacingAndGlyphs" stroke="#222" stroke-width="0.07">0.25</text>
<line x1="357.4" y1="446.5" x2="359.4" y2="446.5" stroke="#555" stroke-width="0.7"/>
<text x="355.8" y="446.5" font-size="7.0" text-anchor="end" dominant-baseline="central" fill="#222" textLength="11.58" lengthAdjust="spacingAndGlyphs" stroke="#222" stroke-width="0.07">0.00</text>
<line x1="357.4" y1="462.18" x2="359.4" y2="462.18" stroke="#555" stroke-width="0.7"/>
<text x="355.8" y="462.18" font-size="7.0" text-anchor="end" dominant-baseline="central" fill="#222" textLength="15.94" lengthAdjust="spacingAndGlyphs" stroke="#222" stroke-width="0.07">−0.25</text>
<line x1="357.4" y1="477.85" x2="359.4" y2="477.85" stroke="#555" stroke-width="0.7"/>
<text x="355.8" y="477.85" font-size="7.0" text-anchor="end" dominant-baseline="central" fill="#222" textLength="15.94" lengthAdjust="spacingAndGlyphs" stroke="#222" stroke-width="0.07">−0.50</text>
<line x1="357.4" y1="493.52" x2="359.4" y2="493.52" stroke="#555" stroke-width="0.7"/>
<text x="355.8" y="493.52" font-size="7.0" text-anchor="end" dominant-baseline="central" fill="#222" textLength="15.94" lengthAdjust="spacingAndGlyphs" stroke="#222" stroke-width="0.07">−0.75</text>
<line x1="357.4" y1="509.2" x2="359.4" y2="509.2" stroke="#555" stroke-width="0.7"/>
<text x="355.8" y="509.2" font-size="7.0" text-anchor="end" dominant-baseline="central" fill="#222" textLength="15.94" lengthAdjust="spacingAndGlyphs" stroke="#222" stroke-width="0.07">−1.00</text>
<circle cx="467.7" cy="444.6" r="1.95" fill="#7f57a8"/>
<circle cx="467.7" cy="461.3" r="1.95" fill="#e8f078"/>
<text x="476.3" y="440.1" font-size="7.08" text-anchor="start" dominant-baseline="central" fill="#222" textLength="20.95" lengthAdjust="spacingAndGlyphs" stroke="#222" stroke-width="0.07">Source</text>
<text x="476.3" y="447.5" font-size="7.08" text-anchor="start" dominant-baseline="central" fill="#222" textLength="23.67" lengthAdjust="spacingAndGlyphs" stroke="#222" stroke-width="0.07">Domain</text>
<text x="476.3" y="456.8" font-size="7.08" text-anchor="start" dominant-baseline="central" fill="#222" textLength="18.87" lengthAdjust="spacingAndGlyphs" stroke="#222" stroke-width="0.07">Target</text>
<text x="476.3" y="464.2" font-size="7.08" text-anchor="start" dominant-baseline="central" fill="#222" textLength="23.67" lengthAdjust="spacingAndGlyphs" stroke="#222" stroke-width="0.07">Domain</text>
<clipPath id="cp725"><rect x="530.7" y="396.1" width="95.2" height="112.9"/></clipPath>
<g clip-path="url(#cp725)">
<path d="M534.4 405.5h0M534.7 404.2h0M534.9 407.0h0M535.0 404.4h0M535.2 412.5h0M535.3 411.5h0M535.3 410.7h0M535.3 404.7h0M535.3 414.7h0M535.5 411.5h0M535.5 414.3h0M535.6 412.0h0M535.8 413.4h0M536.0 416.7h0M536.1 416.6h0M536.4 418.3h0M536.4 421.0h0M536.7 421.3h0M536.9 426.7h0M537.0 423.3h0M537.2 425.8h0M537.4 425.4h0M537.6 423.8h0M537.7 425.7h0M537.8 426.1h0M537.9 424.6h0M538.2 435.8h0M538.2 428.6h0M538.8 431.3h0M538.9 431.6h0M539.0 435.1h0M539.0 430.1h0M539.3 428.9h0M539.4 429.5h0M539.4 432.6h0M539.5 430.8h0M539.9 431.0h0M540.1 428.9h0M540.2 430.8h0M540.4 434.0h0M540.4 434.3h0M540.5 434.3h0M540.6 434.2h0M541.2 437.5h0M541.2 434.2h0M541.3 438.4h0M541.4 438.8h0M541.4 435.6h0M541.5 438.3h0M541.8 438.1h0M542.0 443.7h0M542.0 435.8h0M542.3 438.4h0M542.3 438.8h0M542.3 437.2h0M542.5 438.0h0M542.6 440.5h0M542.6 433.1h0M542.7 439.9h0M543.1 436.2h0M543.3 434.0h0M543.4 440.8h0M543.4 438.9h0M543.6 441.5h0M543.7 436.4h0M544.3 440.7h0M544.4 442.9h0M544.5 436.3h0M544.7 437.5h0M544.8 442.5h0M544.9 436.8h0M545.0 439.7h0M545.4 433.0h0M545.4 435.8h0M546.4 442.6h0M546.4 441.9h0M546.6 443.6h0M546.6 440.9h0M546.6 441.1h0M547.0 439.5h0M547.2 441.4h0M547.3 445.8h0M547.3 444.0h0M547.3 437.8h0M547.7 438.8h0M547.9 442.6h0M548.1 442.6h0M548.6 443.0h0M548.6 442.5h0M548.7 447.3h0M549.5 440.7h0M549.7 445.1h0M549.7 442.9h0M550.0 450.5h0M550.1 442.9h0M550.3 440.0h0M550.3 449.9h0M550.4 439.5h0M550.6 442.5h0M550.9 446.0h0M550.9 448.4h0M551.4 441.1h0M551.7 443.8h0M551.9 443.0h0M552.2 445.6h0M552.3 447.1h0M552.3 442.5h0M552.5 447.6h0M552.7 442.6h0M552.8 449.8h0M552.8 447.7h0M552.8 449.2h0M553.0 441.7h0M553.7 450.5h0M553.8 448.9h0M553.8 443.9h0M553.9 445.2h0M553.9 439.8h0M553.9 440.8h0M554.0 444.2h0M554.2 444.1h0M554.5 451.2h0M554.7 448.7h0M555.2 447.5h0M555.4 447.2h0M555.5 450.6h0M555.9 449.6h0M555.9 449.4h0M556.5 444.4h0M556.6 446.2h0M556.6 448.3h0M556.9 448.3h0M557.0 446.8h0M557.3 449.8h0M557.4 448.6h0M557.6 452.7h0M557.8 446.2h0M557.9 445.6h0M558.1 447.3h0M558.3 447.1h0M558.3 447.4h0M558.5 442.9h0M558.5 448.0h0M558.6 452.2h0M558.6 451.5h0M558.7 446.7h0M558.8 445.8h0M558.9 446.6h0M558.9 446.4h0M558.9 448.3h0M559.1 453.0h0M559.2 450.9h0M559.5 454.1h0M559.5 450.2h0M559.8 453.1h0M559.9 449.1h0M560.0 449.9h0M560.0 454.8h0M560.1 447.5h0M560.3 447.5h0M560.6 453.6h0M560.7 449.4h0M560.7 447.9h0M560.8 450.7h0M560.9 447.6h0M561.0 449.5h0M561.1 447.1h0M561.7 449.9h0M561.8 451.0h0M562.3 449.4h0M562.3 448.7h0M562.5 450.3h0M562.7 452.3h0M562.9 453.3h0M563.4 452.5h0M563.6 453.1h0M563.6 451.0h0M564.0 451.3h0M564.0 452.1h0M564.3 452.0h0M564.3 451.6h0M564.6 447.8h0M564.6 448.9h0M564.8 453.9h0M565.0 451.2h0M565.2 453.4h0M565.7 453.1h0M565.9 453.7h0M565.9 454.8h0M566.0 456.9h0M566.1 460.0h0M566.3 452.8h0M566.3 450.1h0M566.5 456.1h0M567.0 452.7h0M567.1 455.2h0M567.4 453.6h0M567.6 456.8h0M568.2 455.8h0M568.2 455.5h0M568.2 461.8h0M568.7 455.0h0M568.8 456.1h0M569.5 463.2h0M569.9 454.9h0M570.3 457.2h0M570.4 456.6h0M570.8 456.6h0M570.9 458.8h0M570.9 460.7h0M571.6 459.5h0M571.8 459.6h0M572.1 452.6h0M572.3 453.8h0M572.3 460.3h0M572.4 460.2h0M572.5 458.2h0M572.9 458.0h0M573.1 461.6h0M573.4 462.8h0M573.5 454.7h0M573.6 457.2h0M573.7 464.5h0M573.7 465.2h0M573.7 462.6h0M573.8 459.7h0M573.8 458.8h0M574.3 461.8h0M574.4 465.4h0M574.5 460.4h0M574.7 459.5h0M574.8 461.3h0M574.8 462.7h0M575.0 459.9h0M575.3 461.8h0M575.5 465.1h0M575.6 461.7h0M575.7 465.8h0M575.8 459.5h0M576.1 461.1h0M576.1 465.3h0M576.2 462.0h0M576.2 459.1h0M576.4 468.7h0M576.5 463.3h0M576.6 458.3h0M576.7 467.4h0M576.8 463.6h0M576.9 467.2h0M577.5 464.0h0M577.6 470.6h0M577.7 468.5h0M577.8 465.5h0M577.9 463.7h0M577.9 463.0h0M577.9 462.9h0M578.1 461.1h0M578.1 462.4h0M578.4 462.5h0M578.5 467.5h0M578.7 465.3h0M578.7 455.9h0M579.4 459.2h0M579.5 463.3h0M579.8 463.8h0M579.9 463.1h0M580.0 467.2h0M580.3 460.9h0M580.4 467.5h0M580.5 466.7h0M580.8 460.7h0M581.1 473.0h0M581.5 466.5h0M581.8 472.7h0M581.9 469.9h0M582.0 468.3h0M582.5 469.7h0M582.7 468.4h0M582.9 471.3h0M583.0 469.5h0M583.0 472.6h0M583.2 470.6h0M583.3 473.6h0M583.5 468.0h0M583.5 473.6h0M583.6 468.0h0M583.7 471.3h0M584.0 471.3h0M584.0 467.1h0M584.0 470.2h0M584.2 476.1h0M584.3 469.3h0M584.9 479.8h0M585.1 471.0h0M585.2 473.0h0M585.4 476.1h0M585.5 472.0h0M585.6 473.2h0M585.6 466.7h0M585.7 473.7h0M585.8 467.0h0M586.6 469.6h0M586.6 475.3h0M586.6 475.9h0M586.6 469.8h0M587.0 474.3h0M587.1 473.6h0M587.2 475.0h0M587.3 477.8h0M587.5 475.6h0M587.5 477.4h0M587.5 479.0h0M588.2 476.2h0M588.5 470.6h0M588.5 471.2h0M588.6 476.0h0M588.8 475.8h0M588.9 474.8h0M589.0 472.4h0M589.3 476.0h0M589.4 478.3h0M589.5 478.2h0M589.7 474.3h0M589.7 470.2h0M589.8 479.6h0M590.0 484.0h0M590.4 476.7h0M590.5 479.4h0M590.7 479.2h0M591.0 476.6h0M591.1 480.2h0M591.1 484.2h0M591.2 486.3h0M591.2 480.8h0M591.3 484.0h0M591.4 480.1h0M591.8 485.4h0M592.0 483.2h0M592.1 486.5h0M592.2 483.5h0M592.2 483.8h0M592.3 481.0h0M592.4 479.0h0M592.6 483.9h0M592.7 485.9h0M592.9 478.4h0M592.9 482.9h0M593.1 482.6h0M593.2 482.8h0M593.4 480.7h0M593.5 482.3h0M593.8 483.7h0M593.8 483.5h0M593.8 488.2h0M593.9 487.6h0M594.0 486.3h0M594.1 486.1h0M594.2 486.4h0M594.5 486.2h0M594.6 487.3h0M594.7 488.7h0M594.7 492.2h0M594.8 485.2h0M594.9 486.1h0M595.2 490.9h0M595.2 487.0h0M595.3 487.5h0M595.4 488.7h0M595.6 494.6h0M595.7 493.0h0M595.7 491.2h0M596.0 485.4h0M596.0 492.6h0M596.1 491.2h0M596.1 493.5h0M596.4 492.3h0M596.5 489.9h0M596.9 497.7h0M596.9 499.9h0M596.9 489.9h0M575.8 446.4h0M538.6 445.6h0M579.6 446.4h0M579.3 445.8h0M580.6 445.1h0M574.2 445.0h0M548.7 444.9h0M561.5 445.6h0M558.5 445.5h0M536.3 445.5h0M564.0 445.3h0M548.9 445.8h0M586.6 445.0h0M570.9 445.4h0M578.8 445.0h0M536.2 445.4h0M573.4 445.3h0M578.4 446.0h0M587.9 482.1h0M596.2 466.1h0M589.5 496.2h0M595.4 489.1h0M588.3 497.0h0M596.9 467.2h0M588.8 494.2h0M585.4 478.2h0M584.1 463.4h0M582.5 486.1h0M583.1 494.4h0M592.0 488.2h0M587.0 460.4h0M595.0 495.2h0M584.4 463.6h0M596.0 494.2h0M584.3 492.4h0M585.6 467.3h0M586.7 472.8h0M585.5 485.9h0" stroke="#e2ee3c" stroke-width="1.60" stroke-linecap="round" stroke-opacity="0.8"/>
<path d="M610.1 487.8h0M606.4 481.5h0M607.0 487.2h0M601.4 460.2h0M610.6 475.7h0M611.1 492.2h0M596.6 466.1h0M600.1 470.2h0M611.5 489.3h0M611.1 494.6h0M605.3 478.4h0M612.9 495.9h0M602.6 479.6h0M614.5 485.3h0M615.0 494.9h0M603.7 477.8h0M613.9 489.9h0M605.9 484.4h0M602.6 476.7h0M610.9 489.5h0M611.2 482.4h0M613.1 484.7h0M614.2 503.0h0M617.3 495.5h0M612.9 494.3h0M605.6 482.8h0M598.0 457.0h0M611.0 484.3h0M615.4 501.4h0M612.8 496.9h0M608.2 488.5h0M598.3 476.1h0M617.0 498.1h0M611.9 494.1h0M605.4 477.2h0M606.4 498.7h0M613.9 489.9h0M599.7 469.1h0M617.0 497.9h0M615.8 497.4h0M613.7 499.0h0M607.7 485.1h0M599.7 466.8h0M615.5 487.2h0M612.6 490.4h0M598.1 451.7h0M605.3 471.6h0M598.7 469.2h0M608.5 490.4h0M606.9 480.3h0M604.0 478.1h0M613.5 493.4h0M603.5 482.0h0M601.7 473.0h0M604.9 478.7h0M600.7 470.9h0M603.9 475.6h0M599.3 472.1h0M613.6 500.2h0M614.3 507.2h0M608.1 482.8h0M614.7 489.6h0M616.0 492.0h0M608.3 489.0h0M600.3 452.6h0M598.1 467.9h0M599.0 459.4h0M611.8 488.5h0M606.9 477.1h0M609.9 496.2h0M612.8 482.6h0M595.7 451.1h0M614.9 490.3h0M606.5 480.7h0M606.7 484.2h0M604.8 454.5h0M618.2 484.4h0M614.8 475.8h0M611.9 466.2h0M618.1 482.4h0M621.7 501.2h0M618.4 493.5h0M609.0 458.8h0M614.9 474.1h0M619.1 492.5h0M624.4 501.2h0M609.1 464.7h0M609.5 470.1h0M615.9 476.8h0M611.4 468.6h0M605.2 459.1h0M620.0 500.4h0M609.1 460.3h0M616.6 477.1h0M608.0 463.5h0M604.2 452.6h0M615.5 475.7h0M608.0 458.6h0M604.7 460.9h0M614.6 462.9h0M612.9 467.9h0M613.7 475.5h0M606.2 457.3h0M613.7 475.0h0M607.6 453.4h0M620.4 491.6h0M614.8 470.8h0M607.0 458.1h0M613.3 463.4h0M622.4 503.4h0M621.6 491.8h0M608.8 463.3h0M615.4 474.6h0M610.9 463.9h0M612.8 462.8h0M614.4 471.8h0M606.2 461.0h0M622.4 498.6h0M605.2 459.0h0M619.6 499.1h0M617.7 487.3h0M619.5 488.6h0M608.4 465.9h0M604.6 457.2h0M606.8 459.0h0M618.0 476.9h0M608.8 458.2h0M620.4 492.3h0M617.5 478.1h0M620.2 489.7h0M613.1 472.1h0M609.2 459.6h0M620.8 503.5h0M612.2 469.4h0M612.1 466.4h0M607.6 455.5h0M619.6 489.1h0M605.9 459.6h0M614.5 472.3h0M622.7 493.8h0M599.8 459.4h0M598.0 447.6h0M603.5 447.0h0M599.5 453.3h0M608.3 453.3h0M611.9 466.6h0M610.9 467.7h0M602.7 449.0h0M607.7 447.2h0M613.2 458.7h0M602.3 463.6h0M597.8 452.0h0M612.1 467.2h0M606.2 449.4h0M609.0 458.8h0M614.8 458.7h0M602.9 457.0h0M603.5 459.4h0M619.7 501.9h0M620.5 486.3h0M621.3 496.8h0M616.1 482.4h0M618.7 485.8h0M617.9 493.5h0M617.8 489.1h0M620.8 497.0h0M618.3 490.0h0M621.2 492.9h0" stroke="#440154" stroke-width="1.60" stroke-linecap="round" stroke-opacity="0.8"/>
</g>
<rect x="530.7" y="396.1" width="95.2" height="112.9" fill="none" stroke="#d8d8d8" stroke-width="0.9"/>
<text x="578.3" y="390.5" font-size="8.53" text-anchor="middle" dominant-baseline="central" fill="#222" textLength="114.16" lengthAdjust="spacingAndGlyphs" stroke="#222" stroke-width="0.07">Target Domain Response Score</text>
<line x1="534.4" y1="509" x2="534.4" y2="511" stroke="#555" stroke-width="0.7"/>
<text x="534.4" y="515.4" font-size="7.0" text-anchor="middle" dominant-baseline="central" fill="#222" textLength="3.31" lengthAdjust="spacingAndGlyphs" stroke="#222" stroke-width="0.07">0</text>
<line x1="565.7" y1="509" x2="565.7" y2="511" stroke="#555" stroke-width="0.7"/>
<text x="565.7" y="515.4" font-size="7.0" text-anchor="middle" dominant-baseline="central" fill="#222" textLength="9.93" lengthAdjust="spacingAndGlyphs" stroke="#222" stroke-width="0.07">200</text>
<line x1="597" y1="509" x2="597" y2="511" stroke="#555" stroke-width="0.7"/>
<text x="597" y="515.4" font-size="7.0" text-anchor="middle" dominant-baseline="central" fill="#222" textLength="9.93" lengthAdjust="spacingAndGlyphs" stroke="#222" stroke-width="0.07">400</text>
<line x1="528.7" y1="401.3" x2="530.7" y2="401.3" stroke="#555" stroke-width="0.7"/>
<text x="527.1" y="401.3" font-size="7.0" text-anchor="end" dominant-baseline="central" fill="#222" textLength="8.27" lengthAdjust="spacingAndGlyphs" stroke="#222" stroke-width="0.07">1.0</text>
<line x1="528.7" y1="421.9" x2="530.7" y2="421.9" stroke="#555" stroke-width="0.7"/>
<text x="527.1" y="421.9" font-size="7.0" text-anchor="end" dominant-baseline="central" fill="#222" textLength="8.27" lengthAdjust="spacingAndGlyphs" stroke="#222" stroke-width="0.07">0.8</text>
<line x1="528.7" y1="442.5" x2="530.7" y2="442.5" stroke="#555" stroke-width="0.7"/>
<text x="527.1" y="442.5" font-size="7.0" text-anchor="end" dominant-baseline="central" fill="#222" textLength="8.27" lengthAdjust="spacingAndGlyphs" stroke="#222" stroke-width="0.07">0.6</text>
<line x1="528.7" y1="463.1" x2="530.7" y2="463.1" stroke="#555" stroke-width="0.7"/>
<text x="527.1" y="463.1" font-size="7.0" text-anchor="end" dominant-baseline="central" fill="#222" textLength="8.27" lengthAdjust="spacingAndGlyphs" stroke="#222" stroke-width="0.07">0.4</text>
<line x1="528.7" y1="483.7" x2="530.7" y2="483.7" stroke="#555" stroke-width="0.7"/>
<text x="527.1" y="483.7" font-size="7.0" text-anchor="end" dominant-baseline="central" fill="#222" textLength="8.27" lengthAdjust="spacingAndGlyphs" stroke="#222" stroke-width="0.07">0.2</text>
<line x1="528.7" y1="504.3" x2="530.7" y2="504.3" stroke="#555" stroke-width="0.7"/>
<text x="527.1" y="504.3" font-size="7.0" text-anchor="end" dominant-baseline="central" fill="#222" textLength="8.27" lengthAdjust="spacingAndGlyphs" stroke="#222" stroke-width="0.07">0.0</text>
<circle cx="639.5" cy="447.2" r="1.95" fill="#440154"/>
<circle cx="639.5" cy="457.1" r="1.95" fill="#e2ee3c"/>
<text x="650.8" y="447.5" font-size="7.08" text-anchor="start" dominant-baseline="central" fill="#222" textLength="28.16" lengthAdjust="spacingAndGlyphs" stroke="#222" stroke-width="0.07">Resistant</text>
<text x="650.8" y="457.4" font-size="7.08" text-anchor="start" dominant-baseline="central" fill="#222" textLength="27.81" lengthAdjust="spacingAndGlyphs" stroke="#222" stroke-width="0.07">Sensitive</text>
<clipPath id="cp754"><rect x="16.3" y="540.4" width="97.2" height="111.6"/></clipPath>
<g clip-path="url(#cp754)">
<path d="M60.4 615.8h0M30.6 618.8h0M22.1 616.1h0M38.6 614.6h0M42.5 612.8h0M61.9 624.3h0M35.7 604.2h0M28.4 608.7h0M29.3 612.2h0M61.8 621.2h0M25.7 613.0h0M23.6 611.8h0M29.8 599.1h0M24.0 629.3h0M35.9 617.4h0M20.1 624.2h0M37.6 616.0h0M44.5 627.1h0M67.6 618.9h0M41.8 619.5h0M44.9 607.3h0M47.0 624.3h0M41.3 617.0h0M30.7 607.3h0M37.9 616.1h0M24.3 618.9h0M38.7 619.2h0M21.6 616.1h0M26.5 629.7h0M29.6 618.3h0M44.8 627.7h0M22.9 621.1h0M29.1 612.0h0M63.7 619.2h0M35.7 609.7h0M33.8 618.2h0M41.6 622.9h0M44.9 612.9h0M35.7 596.3h0M27.5 609.9h0M25.4 608.2h0M25.3 619.7h0M37.4 617.2h0M22.6 619.5h0M40.0 615.8h0M43.8 622.6h0M30.6 618.5h0M34.7 605.9h0M47.6 623.2h0M44.8 619.0h0M34.3 607.7h0M39.6 598.9h0M23.4 619.8h0M37.0 597.7h0M34.3 613.4h0M41.5 627.2h0M35.7 614.9h0M30.2 602.9h0M39.8 615.9h0M30.7 604.1h0M37.1 622.6h0M35.3 623.8h0M37.2 603.7h0M20.8 619.8h0M24.1 618.8h0M38.0 605.1h0M24.9 612.5h0M26.9 614.5h0M29.4 597.5h0M33.8 613.3h0M35.8 629.5h0M29.1 621.1h0M34.0 618.9h0M38.3 619.1h0M30.4 613.1h0M42.1 612.3h0M40.6 617.2h0M37.4 603.9h0M36.8 627.1h0M32.7 600.9h0M46.1 608.7h0M43.6 617.6h0M35.1 621.0h0M35.0 626.5h0M26.8 611.3h0M38.0 625.4h0M38.4 609.2h0M34.9 629.5h0M23.0 617.9h0M36.6 608.6h0M34.5 619.5h0M25.7 615.0h0M35.3 619.6h0M34.7 616.2h0M34.4 617.6h0M31.7 632.3h0M33.5 611.6h0M31.7 626.1h0M35.3 621.8h0M39.3 600.7h0M40.1 603.6h0M44.9 625.1h0M38.0 615.9h0M39.2 614.0h0M35.1 608.3h0M34.7 616.6h0M29.6 611.5h0M22.7 618.1h0M41.5 617.4h0M62.8 619.5h0M34.1 621.2h0M24.0 613.8h0M60.8 625.8h0M43.3 625.5h0M24.6 610.3h0M30.8 611.0h0M31.6 603.9h0M24.9 615.1h0M26.7 619.5h0M80.2 611.7h0M43.6 614.9h0M36.2 606.7h0M61.4 625.0h0M22.8 618.0h0M24.8 623.0h0M32.0 628.8h0M39.7 626.7h0M36.6 624.0h0M34.9 614.4h0M23.0 626.0h0M32.2 627.8h0M37.0 610.9h0M38.2 619.7h0M43.8 595.3h0M38.5 627.8h0M20.2 617.9h0M21.1 628.3h0M39.0 615.5h0M22.5 610.5h0M47.0 606.8h0M66.4 606.6h0M31.9 618.7h0M38.5 601.8h0M24.7 620.5h0M37.6 614.7h0M43.9 621.9h0M30.4 610.6h0M36.5 595.5h0M41.9 622.1h0M43.2 623.1h0M36.6 617.4h0M32.5 608.8h0M32.5 611.6h0M25.8 600.0h0M43.2 611.6h0M79.8 618.4h0M45.0 618.7h0M43.0 606.7h0M23.7 613.8h0M34.6 627.1h0M33.7 606.6h0M38.0 607.1h0M42.8 613.3h0M38.3 613.7h0M22.3 617.1h0M57.8 622.9h0M38.9 614.3h0M31.6 608.2h0M43.1 612.6h0M30.4 623.5h0M41.1 615.8h0M58.9 612.6h0M66.7 614.6h0M37.9 615.1h0M33.4 621.1h0M42.2 618.5h0M24.7 615.5h0M43.6 610.6h0M26.1 632.5h0M46.1 603.6h0M34.1 621.9h0M24.2 614.0h0M38.2 606.3h0M43.9 619.2h0M28.3 613.6h0M35.5 613.5h0M23.8 619.2h0M38.4 606.5h0M39.4 608.9h0M37.4 609.4h0M31.4 613.5h0M88.2 618.6h0M22.1 615.1h0M30.6 615.4h0M44.8 613.8h0M42.1 612.7h0M33.4 599.5h0M32.5 617.3h0M21.1 614.2h0M41.4 598.3h0M36.0 617.2h0M25.2 620.2h0M34.0 619.8h0M38.3 613.0h0M23.4 618.2h0M45.9 617.1h0M30.0 612.8h0M42.5 611.2h0M35.4 610.3h0M34.2 621.9h0M37.4 610.3h0M39.7 606.5h0M34.8 628.8h0M38.8 615.0h0M62.4 610.3h0M42.3 608.0h0M38.1 621.7h0M41.0 610.4h0M98.0 617.2h0M62.8 617.1h0M45.8 600.2h0M35.0 626.3h0M37.9 606.0h0M21.2 622.5h0M26.2 623.8h0M33.9 615.6h0M34.4 620.4h0M21.6 626.7h0M38.2 608.7h0M22.4 611.1h0M20.9 614.4h0M38.6 618.8h0M21.2 617.4h0M30.4 602.3h0M35.4 615.5h0M37.7 607.6h0M22.6 606.1h0M59.0 609.9h0M21.8 616.6h0M48.3 613.4h0M30.6 628.1h0M44.8 609.7h0M31.9 626.1h0M25.5 614.3h0M24.6 615.9h0M33.3 622.0h0M29.3 606.1h0M31.8 613.8h0M22.3 620.8h0M35.3 615.4h0M48.4 618.0h0M31.2 607.5h0M34.7 601.1h0M22.7 614.1h0M99.7 618.0h0M39.9 615.8h0M40.3 608.7h0M42.0 619.5h0M33.2 624.9h0M40.0 625.0h0M47.2 614.9h0M22.5 621.2h0M39.0 617.2h0M92.8 616.6h0M29.4 605.1h0M44.5 614.2h0M43.9 606.3h0M65.2 616.1h0M30.6 621.0h0M35.4 616.2h0M29.8 619.0h0M24.7 623.9h0M45.3 609.9h0M34.2 601.2h0M25.7 612.3h0M26.3 615.8h0M42.4 610.9h0M21.2 606.2h0M39.6 604.9h0M41.7 615.5h0M28.8 608.5h0M30.0 611.8h0M35.4 605.6h0M22.5 613.7h0M23.8 620.2h0M36.1 610.5h0M62.0 609.0h0M57.7 624.1h0M21.8 607.8h0M48.0 618.4h0M104.2 609.5h0M43.7 619.2h0M32.3 606.2h0M37.2 623.4h0M45.7 619.6h0M23.1 621.6h0M62.7 625.2h0M37.3 603.5h0M32.1 604.6h0M36.4 619.9h0M30.8 615.0h0M26.7 613.7h0M38.4 630.1h0M25.1 617.3h0M40.6 612.6h0M33.1 603.5h0M40.5 612.2h0M37.1 610.9h0M38.6 598.1h0M23.7 622.3h0M21.4 607.7h0M40.8 614.9h0M32.8 611.8h0M73.3 619.4h0M22.9 619.1h0M84.8 617.3h0M28.5 616.0h0M40.1 617.4h0M96.2 610.2h0M27.6 623.2h0M27.3 610.3h0M30.2 615.1h0M36.8 612.7h0M62.4 609.7h0M38.8 606.4h0M61.4 621.9h0M32.3 615.8h0M37.4 611.6h0M41.3 605.6h0M34.6 612.6h0M37.3 616.6h0M33.7 615.3h0M36.9 611.3h0M62.9 610.7h0M26.6 625.9h0M39.4 615.7h0M24.5 619.3h0M46.2 604.5h0M38.4 609.1h0M37.5 603.2h0M23.7 621.3h0M33.2 607.3h0M36.3 607.3h0M43.1 611.6h0M23.1 612.9h0M38.6 616.7h0M22.8 618.3h0M57.7 612.5h0M24.7 611.9h0M24.1 610.0h0M43.1 610.2h0M23.5 620.3h0M34.0 610.0h0M86.4 607.0h0M32.7 596.1h0M36.9 630.7h0M32.8 621.3h0M24.4 621.8h0M30.7 621.5h0M36.6 617.5h0M33.3 600.9h0M61.7 621.2h0M29.1 630.5h0M41.1 616.6h0M35.0 603.9h0M63.0 613.1h0M68.8 606.2h0M39.0 611.2h0M39.2 627.6h0M31.8 611.7h0M23.9 623.3h0M24.3 626.5h0M23.6 612.5h0M39.1 615.3h0M45.1 608.4h0M24.6 623.1h0M33.3 623.7h0M99.2 617.2h0M23.1 625.5h0M33.5 606.3h0M41.7 602.8h0M57.8 622.6h0M45.4 608.3h0M31.7 601.5h0M34.8 605.2h0M40.1 616.6h0M96.2 611.0h0M42.4 611.3h0M32.2 612.0h0M46.1 607.5h0M39.7 601.6h0M25.2 617.5h0M43.8 610.6h0M36.5 612.0h0M35.2 631.4h0M23.2 616.6h0M46.5 616.6h0M36.0 609.0h0M35.4 612.0h0M28.1 604.9h0M31.3 619.9h0M31.7 610.2h0M33.9 621.6h0M36.0 615.7h0M67.5 609.6h0M66.3 613.5h0M33.9 615.3h0M24.2 610.9h0M24.3 620.6h0M21.0 621.3h0M24.1 604.5h0M24.3 620.8h0M41.5 609.8h0M77.1 616.5h0M40.2 600.5h0M24.3 621.4h0M28.2 605.4h0M34.0 611.3h0M46.9 605.2h0M23.2 616.3h0M36.2 612.1h0M42.4 616.6h0M37.5 614.7h0M39.4 609.2h0M31.5 609.6h0M32.5 609.4h0M22.6 613.5h0M33.6 620.2h0M25.3 620.4h0M36.3 604.2h0M37.1 608.5h0M22.4 627.0h0M37.4 609.9h0M44.2 612.4h0M44.6 617.2h0M26.6 623.2h0M29.2 609.1h0M41.2 614.3h0M33.3 624.5h0M42.5 618.0h0M45.4 617.2h0M66.1 613.1h0M38.7 603.4h0M33.0 616.1h0M32.2 615.7h0M20.5 609.7h0M23.2 611.4h0M30.3 630.7h0M22.7 621.8h0M23.3 626.5h0M39.0 625.8h0M40.6 615.4h0M46.1 621.1h0M39.2 605.7h0M30.3 596.9h0M24.0 615.8h0M44.0 625.6h0M35.3 601.9h0M44.4 620.3h0M21.2 612.4h0M23.3 619.0h0M40.4 612.0h0M34.3 621.3h0M34.5 616.7h0" stroke="#e8f078" stroke-width="1.60" stroke-linecap="round" stroke-opacity="0.8"/>
<path d="M22.3 642.0h0M26.6 611.9h0M25.0 622.9h0M21.1 644.5h0M28.9 615.3h0M27.1 616.1h0M23.0 632.5h0M24.4 632.9h0M23.3 638.3h0M22.9 637.3h0M22.1 641.5h0M22.0 642.3h0M27.6 615.5h0M25.9 625.3h0M26.5 624.6h0M27.7 624.5h0M27.3 616.9h0M24.0 634.2h0M23.7 632.1h0M26.2 624.7h0M21.8 634.7h0M26.3 616.9h0M21.9 644.8h0M24.5 631.0h0M25.2 627.0h0M27.2 611.9h0M24.0 638.6h0M21.9 641.8h0M23.3 636.0h0M23.8 634.1h0M22.9 640.1h0M26.4 620.3h0M27.2 617.1h0M26.3 618.3h0M27.4 616.5h0M24.5 631.5h0M22.6 637.0h0M27.2 614.2h0M21.8 644.6h0M25.6 628.2h0M23.2 637.2h0M22.6 641.0h0M24.6 631.9h0M26.4 614.7h0M24.6 632.0h0M25.4 620.9h0M27.3 617.0h0M23.9 637.4h0M25.7 626.3h0M27.0 617.8h0M24.9 631.0h0M26.9 617.6h0M23.6 641.6h0M25.9 618.8h0M27.7 615.5h0M27.4 618.4h0M24.9 622.0h0M27.6 616.1h0M25.5 624.3h0M24.1 635.0h0M22.5 639.2h0M24.3 638.9h0M22.2 640.6h0M25.8 624.1h0M27.6 613.6h0M25.3 631.4h0M23.2 638.5h0M24.7 633.6h0M25.5 622.6h0M23.6 637.9h0M27.0 611.8h0M26.8 623.0h0M23.7 633.6h0M27.0 618.8h0M26.9 622.6h0M21.2 640.8h0M25.7 619.2h0M21.8 643.8h0M27.0 618.3h0M23.5 636.9h0M23.6 639.1h0M22.8 637.3h0M23.4 636.6h0M21.5 637.3h0M26.6 621.6h0M26.2 624.6h0M23.2 637.6h0M24.8 634.0h0M24.4 630.3h0M22.3 640.0h0M27.5 616.0h0M21.6 640.6h0M25.4 627.0h0M23.1 641.8h0M20.7 644.7h0M25.6 621.8h0M24.7 628.8h0M25.7 629.9h0M25.0 630.6h0M25.0 628.7h0M25.0 626.4h0M27.4 615.1h0M23.5 631.0h0M24.6 631.5h0M22.0 638.9h0M24.5 638.4h0M27.2 615.2h0M26.0 626.0h0M26.8 625.7h0M25.7 622.5h0M27.7 618.9h0M22.9 635.6h0M24.7 628.6h0M26.9 617.2h0M27.5 616.6h0M26.3 622.8h0M22.1 642.8h0M24.0 632.0h0M21.0 644.0h0M28.3 614.5h0M22.2 639.8h0M24.6 627.3h0M23.7 630.7h0M26.4 624.2h0M22.1 637.0h0M26.1 626.1h0M22.8 641.9h0M27.8 613.8h0M22.5 635.1h0M24.3 625.7h0M33.7 583.9h0M31.6 589.9h0M38.0 556.7h0M35.2 567.8h0M32.4 590.5h0M33.4 581.1h0M31.4 588.3h0M39.2 555.5h0M34.1 581.6h0M29.5 598.2h0M32.1 584.7h0M29.5 604.3h0M31.3 593.2h0M30.4 599.0h0M30.3 600.5h0M34.3 581.8h0M32.7 583.9h0M35.9 575.1h0M33.2 576.6h0M32.5 587.5h0M31.2 587.1h0M38.3 557.1h0M33.7 583.0h0M28.1 602.9h0M33.3 580.7h0M29.6 596.6h0M27.9 605.2h0M39.3 560.8h0M31.2 594.8h0M32.3 585.4h0M39.5 558.7h0M35.2 579.3h0M29.4 601.2h0M31.8 592.4h0M30.1 605.6h0M38.5 558.0h0M33.2 578.7h0M30.1 600.7h0M34.9 574.1h0M28.9 597.4h0M35.2 578.7h0M30.9 602.9h0M36.8 566.0h0M35.2 573.4h0M38.0 559.5h0M37.5 567.2h0M32.5 584.1h0M36.5 574.1h0M36.1 562.4h0M31.6 593.3h0M32.5 590.3h0M31.2 590.0h0M39.8 554.1h0M30.1 599.1h0M38.6 562.5h0M34.1 580.9h0M32.4 582.6h0M30.7 587.3h0M37.8 563.2h0M30.5 598.0h0M36.2 566.3h0M31.2 601.7h0M28.8 599.8h0M35.8 576.2h0M36.8 561.0h0M34.5 575.5h0M37.3 570.3h0M31.5 601.3h0M37.7 557.5h0M31.6 592.1h0M35.9 564.0h0M30.5 586.9h0M34.8 571.0h0M31.8 593.4h0M34.7 580.2h0M35.5 571.1h0M32.7 584.1h0M30.6 598.2h0M33.0 586.5h0M29.6 602.1h0M37.7 564.5h0M29.9 598.1h0M34.3 567.5h0M36.0 578.1h0M30.4 596.1h0M31.3 590.6h0M37.3 564.4h0M35.6 584.0h0M36.5 561.6h0M34.3 576.4h0M31.1 589.8h0M36.0 564.0h0M36.0 567.2h0M32.0 586.8h0M35.5 569.1h0M30.3 595.9h0M29.5 601.6h0M29.7 605.1h0M28.7 604.0h0M37.4 554.1h0M34.8 579.4h0M28.8 591.0h0M31.4 585.3h0M31.7 581.2h0M30.3 597.9h0M30.0 594.3h0M39.2 558.2h0M37.7 568.9h0M36.8 567.2h0M29.1 592.1h0M57.5 611.0h0M49.5 645.6h0M51.4 635.9h0M53.1 616.8h0M53.5 620.0h0M56.8 611.1h0M54.1 622.1h0M48.0 643.3h0M55.5 614.5h0M50.1 640.1h0M51.3 628.8h0M52.5 632.2h0M52.4 628.6h0M56.2 611.3h0M48.6 643.6h0M51.1 642.1h0M47.7 646.6h0M49.6 640.0h0M54.2 619.2h0M49.4 644.5h0M51.2 631.5h0M49.5 638.9h0M53.1 627.5h0M48.9 645.5h0M55.3 612.7h0M50.6 637.8h0M51.9 630.4h0M54.1 620.3h0M54.6 618.2h0M57.7 607.9h0M57.6 605.5h0M51.0 633.1h0M55.6 612.0h0M52.9 628.6h0M49.8 644.8h0M50.7 643.4h0M56.1 610.9h0M53.2 617.3h0M57.9 606.4h0M56.3 613.8h0M51.1 631.6h0M54.7 613.6h0M54.7 614.2h0M52.0 635.0h0M53.8 618.0h0M51.8 634.5h0M49.0 644.0h0M49.1 641.8h0M55.8 613.1h0M58.1 606.5h0M55.2 617.3h0M58.1 608.8h0M57.7 608.8h0M50.0 640.6h0M56.7 611.6h0M58.0 608.6h0M49.5 644.5h0M55.2 616.1h0M50.0 644.7h0M51.5 639.4h0M49.1 639.0h0M58.0 607.7h0M53.0 621.3h0M49.2 637.6h0M50.2 640.9h0M53.7 621.7h0M57.6 606.7h0M51.2 634.9h0M52.8 620.5h0M50.8 631.5h0M55.7 616.9h0M55.4 611.2h0M58.0 613.5h0M48.9 642.4h0M49.1 645.9h0M54.4 618.8h0M47.9 644.3h0M52.3 625.8h0M51.0 642.2h0M50.3 639.2h0M53.1 628.9h0M52.5 628.4h0M49.2 642.5h0M57.6 605.2h0M52.9 629.8h0M58.8 604.8h0M56.6 606.5h0M52.6 620.2h0M56.2 612.2h0M54.5 625.3h0M55.2 611.4h0M48.5 645.7h0M57.9 606.1h0M57.3 608.8h0M53.8 617.4h0M52.8 628.9h0M48.3 643.1h0M53.9 623.4h0M55.9 611.8h0M52.8 627.5h0M50.1 643.8h0M49.4 644.2h0M57.5 605.5h0M53.1 617.7h0M51.7 635.5h0M53.1 619.5h0M52.6 630.2h0M51.4 632.8h0M53.4 621.7h0M47.3 647.9h0M48.0 647.4h0M51.9 632.9h0M56.6 612.6h0M54.4 618.8h0M52.1 629.4h0M53.9 617.2h0M51.7 629.9h0M54.5 618.9h0M48.2 645.2h0M53.4 621.7h0M50.3 639.4h0M50.3 640.0h0M51.5 635.0h0M54.0 624.5h0M56.2 607.7h0M57.6 610.9h0M56.7 607.8h0M51.1 627.3h0M53.5 627.6h0M57.9 606.0h0M47.7 647.4h0M56.6 608.6h0M58.5 608.9h0M55.3 612.4h0M56.1 609.8h0M55.0 614.0h0M49.4 641.8h0M52.7 625.1h0M57.8 609.4h0M52.1 633.5h0M49.1 641.8h0M54.2 615.8h0M51.5 631.5h0M50.7 639.6h0M51.7 630.1h0M51.1 638.9h0M56.9 606.1h0M52.4 632.5h0M56.8 607.4h0M54.3 619.6h0M64.0 581.5h0M60.5 589.3h0M61.2 586.0h0M58.5 602.0h0M58.4 597.3h0M63.3 586.6h0M60.4 599.8h0M58.0 599.3h0M63.0 581.7h0M58.5 602.9h0M59.3 598.2h0M60.9 586.4h0" stroke="#7f57a8" stroke-width="1.60" stroke-linecap="round" stroke-opacity="0.8"/>
<path d="M55.1 615.1h0M54.5 624.5h0M56.1 619.7h0M55.5 634.5h0M54.9 610.0h0M56.1 618.8h0M54.1 628.5h0M55.4 607.9h0M54.9 609.1h0M54.4 610.1h0M53.5 620.4h0M53.4 615.6h0M55.6 631.9h0M53.8 626.8h0M52.8 631.7h0M53.6 614.4h0M56.7 626.8h0M54.4 620.1h0M54.1 625.1h0M56.0 620.0h0M54.7 628.1h0M56.9 628.5h0M55.0 632.8h0M54.0 621.3h0M54.3 616.9h0" stroke="#e8f078" stroke-width="1.60" stroke-linecap="round" stroke-opacity="0.8"/>
</g>
<rect x="24.9" y="541.1" width="80" height="7.2" fill="#fff" fill-opacity="0.8"/>
<text x="64.9" y="544.7" font-size="7.38" text-anchor="middle" dominant-baseline="central" fill="#e62a2a" textLength="79.11" lengthAdjust="spacingAndGlyphs" stroke="#e62a2a" stroke-width="0.07">Euclidean Distance: 1.89</text>
<rect x="16.3" y="540.4" width="97.2" height="111.6" fill="none" stroke="#d8d8d8" stroke-width="0.9"/>
<text x="64.9" y="535.2" font-size="8.53" text-anchor="middle" dominant-baseline="central" fill="#222" textLength="108.27" lengthAdjust="spacingAndGlyphs" stroke="#222" stroke-width="0.07">Embeddings of scDEAL (bulk)</text>
<line x1="38.5" y1="652" x2="38.5" y2="654" stroke="#555" stroke-width="0.7"/>
<text x="38.5" y="658.4" font-size="7.0" text-anchor="middle" dominant-baseline="central" fill="#222" textLength="3.31" lengthAdjust="spacingAndGlyphs" stroke="#222" stroke-width="0.07">0</text>
<line x1="72.84" y1="652" x2="72.84" y2="654" stroke="#555" stroke-width="0.7"/>
<text x="72.84" y="658.4" font-size="7.0" text-anchor="middle" dominant-baseline="central" fill="#222" textLength="9.93" lengthAdjust="spacingAndGlyphs" stroke="#222" stroke-width="0.07">200</text>
<line x1="107.18" y1="652" x2="107.18" y2="654" stroke="#555" stroke-width="0.7"/>
<text x="107.18" y="658.4" font-size="7.0" text-anchor="middle" dominant-baseline="central" fill="#222" textLength="9.93" lengthAdjust="spacingAndGlyphs" stroke="#222" stroke-width="0.07">400</text>
<line x1="14.3" y1="552.6" x2="16.3" y2="552.6" stroke="#555" stroke-width="0.7"/>
<text x="12.7" y="552.6" font-size="7.0" text-anchor="end" dominant-baseline="central" fill="#222" textLength="6.62" lengthAdjust="spacingAndGlyphs" stroke="#222" stroke-width="0.07">50</text>
<line x1="14.3" y1="565.3" x2="16.3" y2="565.3" stroke="#555" stroke-width="0.7"/>
<text x="12.7" y="565.3" font-size="7.0" text-anchor="end" dominant-baseline="central" fill="#222" textLength="6.62" lengthAdjust="spacingAndGlyphs" stroke="#222" stroke-width="0.07">40</text>
<line x1="14.3" y1="578" x2="16.3" y2="578" stroke="#555" stroke-width="0.7"/>
<text x="12.7" y="578" font-size="7.0" text-anchor="end" dominant-baseline="central" fill="#222" textLength="6.62" lengthAdjust="spacingAndGlyphs" stroke="#222" stroke-width="0.07">30</text>
<line x1="14.3" y1="590.7" x2="16.3" y2="590.7" stroke="#555" stroke-width="0.7"/>
<text x="12.7" y="590.7" font-size="7.0" text-anchor="end" dominant-baseline="central" fill="#222" textLength="6.62" lengthAdjust="spacingAndGlyphs" stroke="#222" stroke-width="0.07">20</text>
<line x1="14.3" y1="603.4" x2="16.3" y2="603.4" stroke="#555" stroke-width="0.7"/>
<text x="12.7" y="603.4" font-size="7.0" text-anchor="end" dominant-baseline="central" fill="#222" textLength="6.62" lengthAdjust="spacingAndGlyphs" stroke="#222" stroke-width="0.07">10</text>
<line x1="14.3" y1="616.1" x2="16.3" y2="616.1" stroke="#555" stroke-width="0.7"/>
<text x="12.7" y="616.1" font-size="7.0" text-anchor="end" dominant-baseline="central" fill="#222" textLength="3.31" lengthAdjust="spacingAndGlyphs" stroke="#222" stroke-width="0.07">0</text>
<line x1="14.3" y1="628.8" x2="16.3" y2="628.8" stroke="#555" stroke-width="0.7"/>
<text x="12.7" y="628.8" font-size="7.0" text-anchor="end" dominant-baseline="central" fill="#222" textLength="10.97" lengthAdjust="spacingAndGlyphs" stroke="#222" stroke-width="0.07">−10</text>
<line x1="14.3" y1="641.5" x2="16.3" y2="641.5" stroke="#555" stroke-width="0.7"/>
<text x="12.7" y="641.5" font-size="7.0" text-anchor="end" dominant-baseline="central" fill="#222" textLength="10.97" lengthAdjust="spacingAndGlyphs" stroke="#222" stroke-width="0.07">−20</text>
<circle cx="125.4" cy="589.4" r="1.95" fill="#7f57a8"/>
<circle cx="125.4" cy="606" r="1.95" fill="#e8f078"/>
<text x="134" y="584.9" font-size="7.08" text-anchor="start" dominant-baseline="central" fill="#222" textLength="20.95" lengthAdjust="spacingAndGlyphs" stroke="#222" stroke-width="0.07">Source</text>
<text x="134" y="592.3" font-size="7.08" text-anchor="start" dominant-baseline="central" fill="#222" textLength="23.67" lengthAdjust="spacingAndGlyphs" stroke="#222" stroke-width="0.07">Domain</text>
<text x="134" y="601.5" font-size="7.08" text-anchor="start" dominant-baseline="central" fill="#222" textLength="18.87" lengthAdjust="spacingAndGlyphs" stroke="#222" stroke-width="0.07">Target</text>
<text x="134" y="608.9" font-size="7.08" text-anchor="start" dominant-baseline="central" fill="#222" textLength="23.67" lengthAdjust="spacingAndGlyphs" stroke="#222" stroke-width="0.07">Domain</text>
<clipPath id="cp792"><rect x="186.6" y="542.9" width="97.3" height="112.3"/></clipPath>
<g clip-path="url(#cp792)">
<path d="M191.4 585.6h0M191.6 650.4h0M191.7 581.4h0M191.9 649.7h0M192.0 621.9h0M192.2 645.5h0M192.3 649.2h0M192.5 612.4h0M192.6 647.8h0M192.8 649.7h0M192.9 649.9h0M193.1 589.0h0M193.3 650.2h0M193.4 577.8h0M193.6 640.7h0M193.7 646.0h0M193.9 594.5h0M194.0 648.8h0M194.2 650.5h0M194.3 550.2h0M194.5 589.4h0M194.6 627.8h0M194.8 650.2h0M195.0 650.4h0M195.1 641.3h0M195.3 635.6h0M195.4 640.4h0M195.6 556.8h0M195.7 640.3h0M195.9 643.4h0M196.0 645.2h0M196.2 642.0h0M196.3 650.3h0M196.5 620.5h0M196.7 650.3h0M196.8 640.3h0M197.0 650.0h0M197.1 649.7h0M197.3 650.2h0M197.4 650.5h0M197.6 650.5h0M197.7 640.2h0M197.9 639.1h0M198.0 647.9h0M198.2 559.0h0M198.4 585.2h0M198.5 650.5h0M198.7 579.9h0M198.8 644.4h0M199.0 617.9h0M199.1 650.3h0M199.3 619.9h0M199.4 636.0h0M199.6 591.6h0M199.7 650.6h0M199.9 643.1h0M200.1 564.7h0M200.2 633.2h0M200.4 591.9h0M200.5 557.7h0M200.7 650.3h0M200.8 643.3h0M201.0 635.4h0M201.1 644.6h0M201.3 650.2h0M201.4 628.3h0M201.6 649.7h0M201.8 564.6h0M201.9 603.3h0M202.1 596.3h0M202.2 650.1h0M202.4 650.0h0M202.5 641.7h0M202.7 568.4h0M202.8 568.7h0M203.0 650.5h0M203.1 650.3h0M203.3 650.2h0M203.5 650.2h0M203.6 649.8h0M203.8 557.6h0M203.9 640.8h0M204.1 598.9h0M204.2 597.9h0M204.4 550.2h0M204.5 641.6h0M204.7 643.5h0M204.8 617.1h0M205.0 590.3h0M205.2 649.2h0M205.3 635.4h0M205.5 641.7h0M205.6 598.6h0M205.8 566.0h0M205.9 627.2h0M206.1 643.3h0M206.2 644.0h0M206.4 618.8h0M206.5 588.7h0M206.7 620.0h0M206.8 612.3h0M207.0 639.5h0M207.2 593.7h0M207.3 625.2h0M207.5 630.8h0M207.6 559.6h0M207.8 641.1h0M207.9 568.3h0M208.1 569.7h0M208.2 551.9h0M208.4 571.0h0M208.5 643.3h0M208.7 563.8h0M208.9 609.7h0M209.0 633.6h0M209.2 553.7h0M209.3 617.4h0M209.5 639.1h0M209.6 615.0h0M209.8 648.9h0M209.9 566.1h0M210.1 564.8h0M210.2 569.6h0M210.4 646.1h0M210.6 593.2h0M210.7 632.0h0M210.9 645.1h0M211.0 617.0h0M211.2 635.7h0M211.3 598.1h0M211.5 650.3h0M211.6 581.5h0M211.8 584.1h0M211.9 611.7h0M212.1 554.0h0M212.3 612.4h0M212.4 643.7h0M212.6 586.1h0M212.7 584.7h0M212.9 596.5h0M213.0 552.1h0M213.2 552.6h0M213.3 561.6h0M213.5 563.0h0M213.6 560.2h0M213.8 556.6h0M214.0 650.2h0M214.1 610.9h0M214.3 623.8h0M214.4 643.2h0M214.6 569.0h0M214.7 642.9h0M214.9 624.4h0M215.0 641.9h0M215.2 640.4h0M215.3 641.2h0M215.5 625.1h0M215.7 631.4h0M215.8 641.9h0M216.0 593.0h0M216.1 650.3h0M216.3 557.0h0M216.4 650.5h0M216.6 572.3h0M216.7 647.0h0M216.9 650.5h0M217.0 650.6h0M217.2 609.1h0M217.4 640.6h0M217.5 650.0h0M217.7 650.4h0M217.8 637.8h0M218.0 650.6h0M218.1 650.5h0M218.3 650.4h0M218.4 650.3h0M218.6 650.4h0M218.7 642.0h0M218.9 650.2h0M219.1 650.3h0M219.2 650.4h0M219.4 588.3h0M219.5 650.6h0M219.7 575.7h0M219.8 649.9h0M220.0 649.1h0M220.1 650.3h0M220.3 636.2h0M220.4 645.8h0M220.6 600.6h0M220.8 650.1h0M220.9 650.6h0M221.1 649.6h0M221.2 650.6h0M221.4 650.3h0M221.5 596.9h0M221.7 649.2h0M221.8 644.2h0M222.0 607.2h0M222.1 650.4h0M222.3 637.5h0M222.5 649.9h0M222.6 641.9h0M222.8 648.2h0M222.9 617.0h0M223.1 648.1h0M223.2 603.5h0M223.4 622.3h0M223.5 647.0h0M223.7 650.3h0M223.8 650.3h0M224.0 640.3h0M224.2 650.5h0M224.3 607.6h0M224.5 650.4h0M224.6 650.3h0M224.8 640.0h0M224.9 642.4h0M225.1 649.9h0M225.2 650.4h0M225.4 595.7h0M225.5 650.4h0M225.7 618.3h0M225.9 559.6h0M226.0 650.4h0M226.2 570.5h0M226.3 650.3h0M226.5 583.1h0M226.6 551.7h0M226.8 650.1h0M226.9 586.3h0M227.1 650.3h0M227.2 605.6h0M227.4 650.3h0M227.6 650.3h0M227.7 642.2h0M227.9 629.6h0M228.0 650.2h0M228.2 648.9h0M228.3 568.5h0M228.5 648.3h0M228.6 650.0h0M228.8 555.6h0M228.9 609.8h0M229.1 592.4h0M229.3 642.4h0M229.4 650.5h0M229.6 647.8h0M229.7 606.0h0M229.9 650.6h0M230.0 589.7h0M230.2 650.5h0M230.3 643.1h0M230.5 641.3h0M230.6 589.9h0M230.8 650.5h0M231.0 630.4h0M231.1 650.2h0M231.3 583.6h0M231.4 649.7h0M231.6 600.8h0M231.7 650.5h0M231.9 640.4h0M232.0 613.2h0M232.2 631.6h0M232.3 650.4h0M232.5 650.2h0M232.7 650.2h0M232.8 615.4h0M233.0 645.9h0M233.1 612.4h0M233.3 650.5h0M233.4 575.9h0M233.6 650.2h0M233.7 552.0h0M233.9 650.1h0M234.0 647.2h0M234.2 650.6h0M234.4 599.1h0M234.5 650.2h0M234.7 640.4h0M234.8 650.6h0M235.0 650.6h0M235.1 649.5h0M235.3 644.7h0M235.4 650.1h0M235.6 568.2h0M235.7 613.4h0M235.9 587.7h0M236.1 641.5h0M236.2 650.4h0M236.4 646.8h0M236.5 638.8h0M236.7 630.0h0M236.8 650.2h0M237.0 590.6h0M237.1 650.6h0M237.3 650.2h0M237.4 650.5h0M237.6 585.5h0M237.8 581.2h0M237.9 649.9h0M238.1 632.3h0M238.2 583.4h0M238.4 561.8h0M238.5 650.0h0M238.7 616.6h0M238.8 551.4h0M239.0 583.0h0M239.1 639.6h0M239.3 649.5h0M239.4 609.0h0M239.6 649.9h0M239.8 572.5h0M239.9 650.1h0M240.1 646.5h0M240.2 650.4h0M240.4 650.6h0M240.5 650.6h0M240.7 650.5h0M240.8 640.4h0M241.0 612.9h0M241.1 650.6h0M267.0 621.7h0M267.1 643.7h0M267.3 649.8h0M267.4 566.1h0M267.6 561.3h0M267.7 647.5h0M267.9 612.9h0M268.0 650.6h0M268.2 650.5h0M268.3 560.8h0M268.5 569.6h0M268.6 650.5h0M268.8 567.6h0M269.0 650.3h0M269.1 650.4h0M269.3 644.9h0M269.4 566.7h0M269.6 588.6h0M269.7 650.1h0M269.9 650.4h0M270.0 650.3h0M270.2 601.8h0M270.3 650.6h0M270.5 594.3h0M270.7 650.5h0M270.8 606.6h0M271.0 650.6h0M271.1 650.0h0M271.3 650.4h0M271.4 556.5h0M271.6 650.5h0M271.7 650.6h0M271.9 605.7h0M272.0 648.2h0M272.2 650.5h0M272.4 650.2h0M272.5 650.6h0M272.7 649.8h0M272.8 649.9h0M273.0 650.5h0M273.1 650.3h0M273.3 650.4h0M273.4 607.7h0M273.6 650.5h0M273.7 639.7h0M273.9 650.4h0M274.1 649.6h0M274.2 642.4h0M274.4 649.9h0M274.5 616.4h0M274.7 650.4h0M274.8 557.2h0M275.0 606.8h0M275.1 650.2h0M275.3 649.7h0M275.4 605.9h0M275.6 612.0h0M275.8 603.8h0M275.9 571.5h0M276.1 577.1h0M276.2 650.5h0M276.4 615.9h0M276.5 644.3h0M276.7 650.5h0M276.8 650.3h0M277.0 650.3h0M277.1 557.7h0M277.3 650.3h0M277.5 649.8h0M277.6 650.6h0M277.8 641.6h0M277.9 571.1h0M278.1 550.0h0M278.2 650.5h0M278.4 650.0h0M278.5 562.4h0M278.7 650.5h0M278.8 650.2h0M279.0 599.3h0M279.2 577.4h0M279.3 611.5h0M279.5 649.9h0M279.6 650.4h0M214.2 549.6h0M207.5 549.6h0M206.4 549.6h0M213.5 549.6h0M208.4 549.6h0M209.3 549.6h0M213.1 549.6h0" stroke="#e2ee3c" stroke-width="1.60" stroke-linecap="round" stroke-opacity="0.8"/>
<path d="M241.3 621.7h0M241.5 648.9h0M241.6 648.9h0M241.8 650.3h0M241.9 645.8h0M242.1 635.7h0M242.2 650.3h0M242.4 650.5h0M242.5 650.5h0M242.7 639.8h0M242.8 650.3h0M243.0 650.3h0M243.2 650.4h0M243.3 626.9h0M243.5 649.8h0M243.6 558.1h0M243.8 641.8h0M243.9 644.0h0M244.1 637.9h0M244.2 650.5h0M244.4 650.6h0M244.5 650.1h0M244.7 650.6h0M244.9 650.6h0M245.0 650.2h0M245.2 643.6h0M245.3 646.9h0M245.5 643.7h0M245.6 640.4h0M245.8 650.3h0M245.9 571.0h0M246.1 650.6h0M246.2 639.2h0M246.4 650.0h0M246.6 650.3h0M246.7 650.2h0M246.9 650.2h0M247.0 650.3h0M247.2 650.6h0M247.3 640.3h0M247.5 643.7h0M247.6 650.6h0M247.8 650.4h0M247.9 650.0h0M248.1 650.4h0M248.3 650.5h0M248.4 650.1h0M248.6 650.1h0M248.7 650.0h0M248.9 639.7h0M249.0 645.4h0M249.2 650.3h0M249.3 650.0h0M249.5 639.8h0M249.6 650.2h0M249.8 637.8h0M250.0 650.3h0M250.1 649.7h0M250.3 638.5h0M250.4 650.5h0M250.6 650.0h0M250.7 644.6h0M250.9 599.3h0M251.0 650.2h0M251.2 650.6h0M251.3 650.2h0M251.5 650.3h0M251.7 639.5h0M251.8 650.3h0M252.0 650.6h0M252.1 639.0h0M252.3 644.3h0M252.4 650.5h0M252.6 580.6h0M252.7 650.5h0M252.9 639.4h0M253.0 640.3h0M253.2 650.5h0M253.4 644.2h0M253.5 650.5h0M253.7 625.7h0M253.8 641.2h0M254.0 649.8h0M254.1 650.0h0M254.3 650.5h0M254.4 612.3h0M254.6 650.3h0M254.7 650.6h0M254.9 650.2h0M255.1 650.4h0M255.2 646.0h0M255.4 650.3h0M255.5 642.4h0M255.7 640.7h0M255.8 650.4h0M256.0 649.9h0M256.1 650.2h0M256.3 644.2h0M256.4 650.6h0M256.6 650.0h0M256.8 650.6h0M256.9 650.1h0M257.1 644.3h0M257.2 650.3h0M257.4 650.4h0M257.5 650.4h0M257.7 650.5h0M257.8 650.4h0M258.0 650.4h0M258.1 650.3h0M258.3 636.5h0M258.5 650.3h0M258.6 646.8h0M258.8 650.2h0M258.9 650.6h0M259.1 650.5h0M259.2 646.2h0M259.4 650.6h0M259.5 650.2h0M259.7 644.4h0M259.8 649.6h0M260.0 638.4h0M260.2 649.7h0M260.3 650.3h0M260.5 650.3h0M260.6 636.4h0M260.8 650.5h0M260.9 646.8h0M261.1 650.6h0M261.2 650.3h0M261.4 649.9h0M261.5 650.0h0M261.7 650.5h0M261.9 636.7h0M262.0 650.5h0M262.2 637.9h0M262.3 649.8h0M262.5 646.0h0M262.6 641.0h0M262.8 639.3h0M262.9 649.9h0M263.1 650.0h0M263.2 619.3h0M263.4 646.7h0M263.6 650.5h0M263.7 649.9h0M263.9 650.0h0M264.0 641.1h0M264.2 650.6h0M264.3 643.6h0M264.5 650.1h0M264.6 643.7h0M264.8 650.2h0M264.9 649.6h0M265.1 650.1h0M265.3 650.5h0M265.4 640.3h0M265.6 641.4h0M265.7 650.2h0M265.9 650.3h0M266.0 650.3h0M266.2 650.3h0M266.3 650.2h0M266.5 649.8h0M266.6 646.2h0M266.8 650.3h0" stroke="#440154" stroke-width="1.60" stroke-linecap="round" stroke-opacity="0.8"/>
</g>
<rect x="186.6" y="542.9" width="97.3" height="112.3" fill="none" stroke="#d8d8d8" stroke-width="0.9"/>
<text x="235.25" y="538.1" font-size="8.53" text-anchor="middle" dominant-baseline="central" fill="#222" textLength="87.16" lengthAdjust="spacingAndGlyphs" stroke="#222" stroke-width="0.07">Scores of scDEAL (bulk)</text>
<line x1="191.4" y1="655.2" x2="191.4" y2="657.2" stroke="#555" stroke-width="0.7"/>
<text x="191.4" y="661.6" font-size="7.0" text-anchor="middle" dominant-baseline="central" fill="#222" textLength="3.31" lengthAdjust="spacingAndGlyphs" stroke="#222" stroke-width="0.07">0</text>
<line x1="222.3" y1="655.2" x2="222.3" y2="657.2" stroke="#555" stroke-width="0.7"/>
<text x="222.3" y="661.6" font-size="7.0" text-anchor="middle" dominant-baseline="central" fill="#222" textLength="9.93" lengthAdjust="spacingAndGlyphs" stroke="#222" stroke-width="0.07">200</text>
<line x1="253.2" y1="655.2" x2="253.2" y2="657.2" stroke="#555" stroke-width="0.7"/>
<text x="253.2" y="661.6" font-size="7.0" text-anchor="middle" dominant-baseline="central" fill="#222" textLength="9.93" lengthAdjust="spacingAndGlyphs" stroke="#222" stroke-width="0.07">400</text>
<line x1="184.6" y1="549.6" x2="186.6" y2="549.6" stroke="#555" stroke-width="0.7"/>
<text x="183" y="549.6" font-size="7.0" text-anchor="end" dominant-baseline="central" fill="#222" textLength="8.27" lengthAdjust="spacingAndGlyphs" stroke="#222" stroke-width="0.07">1.0</text>
<line x1="184.6" y1="569.8" x2="186.6" y2="569.8" stroke="#555" stroke-width="0.7"/>
<text x="183" y="569.8" font-size="7.0" text-anchor="end" dominant-baseline="central" fill="#222" textLength="8.27" lengthAdjust="spacingAndGlyphs" stroke="#222" stroke-width="0.07">0.8</text>
<line x1="184.6" y1="590" x2="186.6" y2="590" stroke="#555" stroke-width="0.7"/>
<text x="183" y="590" font-size="7.0" text-anchor="end" dominant-baseline="central" fill="#222" textLength="8.27" lengthAdjust="spacingAndGlyphs" stroke="#222" stroke-width="0.07">0.6</text>
<line x1="184.6" y1="610.2" x2="186.6" y2="610.2" stroke="#555" stroke-width="0.7"/>
<text x="183" y="610.2" font-size="7.0" text-anchor="end" dominant-baseline="central" fill="#222" textLength="8.27" lengthAdjust="spacingAndGlyphs" stroke="#222" stroke-width="0.07">0.4</text>
<line x1="184.6" y1="630.4" x2="186.6" y2="630.4" stroke="#555" stroke-width="0.7"/>
<text x="183" y="630.4" font-size="7.0" text-anchor="end" dominant-baseline="central" fill="#222" textLength="8.27" lengthAdjust="spacingAndGlyphs" stroke="#222" stroke-width="0.07">0.2</text>
<line x1="184.6" y1="650.6" x2="186.6" y2="650.6" stroke="#555" stroke-width="0.7"/>
<text x="183" y="650.6" font-size="7.0" text-anchor="end" dominant-baseline="central" fill="#222" textLength="8.27" lengthAdjust="spacingAndGlyphs" stroke="#222" stroke-width="0.07">0.0</text>
<circle cx="296.2" cy="594.6" r="1.95" fill="#440154"/>
<circle cx="296.2" cy="604.1" r="1.95" fill="#e2ee3c"/>
<text x="307.3" y="594.9" font-size="7.08" text-anchor="start" dominant-baseline="central" fill="#222" textLength="28.16" lengthAdjust="spacingAndGlyphs" stroke="#222" stroke-width="0.07">Resistant</text>
<text x="307.3" y="604.4" font-size="7.08" text-anchor="start" dominant-baseline="central" fill="#222" textLength="27.81" lengthAdjust="spacingAndGlyphs" stroke="#222" stroke-width="0.07">Sensitive</text>
<clipPath id="cp821"><rect x="358.3" y="542.2" width="96.8" height="112.2"/></clipPath>
<g clip-path="url(#cp821)">
<path d="M376.3 586.4h0M378.3 593.9h0M377.3 574.8h0" stroke="#e8f078" stroke-width="1.60" stroke-linecap="round" stroke-opacity="0.8"/>
<path d="M439.2 604.9h0M442.7 597.9h0M445.0 619.3h0M439.7 574.2h0" stroke="#7f57a8" stroke-width="1.60" stroke-linecap="round" stroke-opacity="0.8"/>
<path d="M377.2 577.8h0M377.6 572.1h0M373.5 583.4h0M372.8 578.3h0M377.3 602.5h0M375.5 586.9h0" stroke="#e8f078" stroke-width="1.60" stroke-linecap="round" stroke-opacity="0.8"/>
<path d="M436.4 573.5h0M438.8 586.1h0M448.9 649.6h0M442.1 609.1h0M447.3 630.4h0M447.8 624.5h0M441.8 575.1h0M441.1 576.4h0M442.8 621.8h0M443.1 582.0h0M437.4 565.8h0M440.5 578.7h0" stroke="#7f57a8" stroke-width="1.60" stroke-linecap="round" stroke-opacity="0.8"/>
<path d="M373.6 583.1h0" stroke="#e8f078" stroke-width="1.60" stroke-linecap="round" stroke-opacity="0.8"/>
<path d="M440.7 583.3h0M436.4 562.3h0" stroke="#7f57a8" stroke-width="1.60" stroke-linecap="round" stroke-opacity="0.8"/>
<path d="M376.4 593.4h0" stroke="#e8f078" stroke-width="1.60" stroke-linecap="round" stroke-opacity="0.8"/>
<path d="M447.2 621.7h0M435.8 548.5h0" stroke="#7f57a8" stroke-width="1.60" stroke-linecap="round" stroke-opacity="0.8"/>
<path d="M377.5 601.8h0M377.3 590.0h0M375.6 595.7h0M372.5 579.4h0M370.1 584.8h0" stroke="#e8f078" stroke-width="1.60" stroke-linecap="round" stroke-opacity="0.8"/>
<path d="M441.7 574.2h0" stroke="#7f57a8" stroke-width="1.60" stroke-linecap="round" stroke-opacity="0.8"/>
<path d="M373.8 576.4h0M372.1 564.6h0M379.2 587.9h0" stroke="#e8f078" stroke-width="1.60" stroke-linecap="round" stroke-opacity="0.8"/>
<path d="M442.2 600.2h0M448.8 643.8h0M437.6 592.6h0" stroke="#7f57a8" stroke-width="1.60" stroke-linecap="round" stroke-opacity="0.8"/>
<path d="M379.8 581.3h0M378.0 590.2h0M375.2 576.9h0" stroke="#e8f078" stroke-width="1.60" stroke-linecap="round" stroke-opacity="0.8"/>
<path d="M446.3 633.4h0M438.0 565.5h0M442.9 565.9h0" stroke="#7f57a8" stroke-width="1.60" stroke-linecap="round" stroke-opacity="0.8"/>
<path d="M377.0 568.5h0M377.5 577.6h0M376.9 607.4h0" stroke="#e8f078" stroke-width="1.60" stroke-linecap="round" stroke-opacity="0.8"/>
<path d="M437.5 574.8h0" stroke="#7f57a8" stroke-width="1.60" stroke-linecap="round" stroke-opacity="0.8"/>
<path d="M374.0 574.7h0M377.1 595.2h0M379.6 609.0h0M377.5 581.4h0M376.9 612.3h0" stroke="#e8f078" stroke-width="1.60" stroke-linecap="round" stroke-opacity="0.8"/>
<path d="M441.5 574.7h0M443.8 581.5h0M446.6 628.0h0M436.7 574.3h0" stroke="#7f57a8" stroke-width="1.60" stroke-linecap="round" stroke-opacity="0.8"/>
<path d="M374.2 566.2h0M374.4 596.2h0" stroke="#e8f078" stroke-width="1.60" stroke-linecap="round" stroke-opacity="0.8"/>
<path d="M444.9 616.8h0M432.8 555.7h0M444.2 615.6h0M446.3 636.8h0" stroke="#7f57a8" stroke-width="1.60" stroke-linecap="round" stroke-opacity="0.8"/>
<path d="M375.2 586.6h0M376.1 586.3h0" stroke="#e8f078" stroke-width="1.60" stroke-linecap="round" stroke-opacity="0.8"/>
<path d="M446.2 619.4h0" stroke="#7f57a8" stroke-width="1.60" stroke-linecap="round" stroke-opacity="0.8"/>
<path d="M375.0 572.9h0M380.1 581.0h0M375.1 603.0h0" stroke="#e8f078" stroke-width="1.60" stroke-linecap="round" stroke-opacity="0.8"/>
<path d="M442.0 589.9h0M441.9 620.5h0" stroke="#7f57a8" stroke-width="1.60" stroke-linecap="round" stroke-opacity="0.8"/>
<path d="M372.5 577.4h0M377.7 565.5h0" stroke="#e8f078" stroke-width="1.60" stroke-linecap="round" stroke-opacity="0.8"/>
<path d="M445.5 644.2h0" stroke="#7f57a8" stroke-width="1.60" stroke-linecap="round" stroke-opacity="0.8"/>
<path d="M375.2 590.1h0M377.4 570.0h0M377.4 615.8h0M375.0 596.7h0M373.1 573.9h0M377.0 571.3h0" stroke="#e8f078" stroke-width="1.60" stroke-linecap="round" stroke-opacity="0.8"/>
<path d="M427.8 560.6h0M446.2 600.4h0" stroke="#7f57a8" stroke-width="1.60" stroke-linecap="round" stroke-opacity="0.8"/>
<path d="M373.9 565.2h0" stroke="#e8f078" stroke-width="1.60" stroke-linecap="round" stroke-opacity="0.8"/>
<path d="M442.5 591.9h0" stroke="#7f57a8" stroke-width="1.60" stroke-linecap="round" stroke-opacity="0.8"/>
<path d="M375.1 582.2h0" stroke="#e8f078" stroke-width="1.60" stroke-linecap="round" stroke-opacity="0.8"/>
<path d="M439.9 581.6h0M445.9 614.8h0M441.1 642.1h0M445.4 593.3h0M442.9 565.8h0M442.9 605.5h0" stroke="#7f57a8" stroke-width="1.60" stroke-linecap="round" stroke-opacity="0.8"/>
<path d="M376.1 582.6h0M380.6 586.6h0M378.7 606.2h0M371.0 583.2h0M374.1 564.7h0" stroke="#e8f078" stroke-width="1.60" stroke-linecap="round" stroke-opacity="0.8"/>
<path d="M443.9 566.2h0M437.9 598.7h0M441.0 559.4h0M436.9 576.6h0M442.7 614.9h0M445.5 625.5h0M438.8 555.9h0M449.2 622.6h0" stroke="#7f57a8" stroke-width="1.60" stroke-linecap="round" stroke-opacity="0.8"/>
<path d="M376.5 615.2h0" stroke="#e8f078" stroke-width="1.60" stroke-linecap="round" stroke-opacity="0.8"/>
<path d="M438.6 589.0h0M435.2 553.5h0" stroke="#7f57a8" stroke-width="1.60" stroke-linecap="round" stroke-opacity="0.8"/>
<path d="M374.1 588.2h0" stroke="#e8f078" stroke-width="1.60" stroke-linecap="round" stroke-opacity="0.8"/>
<path d="M441.6 553.7h0M443.8 602.1h0M434.5 552.6h0M439.1 579.1h0M439.8 645.1h0M444.1 591.4h0" stroke="#7f57a8" stroke-width="1.60" stroke-linecap="round" stroke-opacity="0.8"/>
<path d="M373.4 572.6h0" stroke="#e8f078" stroke-width="1.60" stroke-linecap="round" stroke-opacity="0.8"/>
<path d="M438.9 578.7h0M441.6 593.5h0" stroke="#7f57a8" stroke-width="1.60" stroke-linecap="round" stroke-opacity="0.8"/>
<path d="M377.1 610.0h0" stroke="#e8f078" stroke-width="1.60" stroke-linecap="round" stroke-opacity="0.8"/>
<path d="M435.8 555.2h0" stroke="#7f57a8" stroke-width="1.60" stroke-linecap="round" stroke-opacity="0.8"/>
<path d="M373.4 585.1h0M379.1 599.1h0" stroke="#e8f078" stroke-width="1.60" stroke-linecap="round" stroke-opacity="0.8"/>
<path d="M442.8 582.0h0M440.6 572.0h0M445.8 581.2h0" stroke="#7f57a8" stroke-width="1.60" stroke-linecap="round" stroke-opacity="0.8"/>
<path d="M375.6 583.7h0" stroke="#e8f078" stroke-width="1.60" stroke-linecap="round" stroke-opacity="0.8"/>
<path d="M438.5 604.9h0M447.5 621.5h0M441.1 584.3h0M440.4 568.9h0M438.9 571.3h0M433.3 558.7h0M440.3 595.7h0" stroke="#7f57a8" stroke-width="1.60" stroke-linecap="round" stroke-opacity="0.8"/>
<path d="M373.1 579.4h0M375.9 601.5h0" stroke="#e8f078" stroke-width="1.60" stroke-linecap="round" stroke-opacity="0.8"/>
<path d="M434.6 575.1h0M434.1 583.2h0" stroke="#7f57a8" stroke-width="1.60" stroke-linecap="round" stroke-opacity="0.8"/>
<path d="M376.4 577.8h0" stroke="#e8f078" stroke-width="1.60" stroke-linecap="round" stroke-opacity="0.8"/>
<path d="M448.4 611.8h0M447.2 597.6h0M446.9 615.7h0" stroke="#7f57a8" stroke-width="1.60" stroke-linecap="round" stroke-opacity="0.8"/>
<path d="M372.8 565.8h0M375.2 610.7h0" stroke="#e8f078" stroke-width="1.60" stroke-linecap="round" stroke-opacity="0.8"/>
<path d="M439.8 585.2h0" stroke="#7f57a8" stroke-width="1.60" stroke-linecap="round" stroke-opacity="0.8"/>
<path d="M377.5 589.3h0M376.1 589.6h0" stroke="#e8f078" stroke-width="1.60" stroke-linecap="round" stroke-opacity="0.8"/>
<path d="M439.8 555.7h0" stroke="#7f57a8" stroke-width="1.60" stroke-linecap="round" stroke-opacity="0.8"/>
<path d="M374.4 564.6h0M375.2 570.3h0" stroke="#e8f078" stroke-width="1.60" stroke-linecap="round" stroke-opacity="0.8"/>
<path d="M452.0 636.3h0M445.8 628.7h0M443.0 597.7h0M440.8 582.9h0" stroke="#7f57a8" stroke-width="1.60" stroke-linecap="round" stroke-opacity="0.8"/>
<path d="M374.2 610.5h0M367.0 586.9h0" stroke="#e8f078" stroke-width="1.60" stroke-linecap="round" stroke-opacity="0.8"/>
<path d="M451.4 641.3h0M441.3 587.6h0" stroke="#7f57a8" stroke-width="1.60" stroke-linecap="round" stroke-opacity="0.8"/>
<path d="M377.4 578.7h0" stroke="#e8f078" stroke-width="1.60" stroke-linecap="round" stroke-opacity="0.8"/>
<path d="M438.9 595.8h0" stroke="#7f57a8" stroke-width="1.60" stroke-linecap="round" stroke-opacity="0.8"/>
<path d="M376.2 607.0h0M376.0 600.7h0" stroke="#e8f078" stroke-width="1.60" stroke-linecap="round" stroke-opacity="0.8"/>
<path d="M436.3 580.1h0M442.5 606.3h0M441.0 616.1h0M445.7 642.1h0M439.5 585.8h0M435.2 559.1h0" stroke="#7f57a8" stroke-width="1.60" stroke-linecap="round" stroke-opacity="0.8"/>
<path d="M377.9 603.3h0" stroke="#e8f078" stroke-width="1.60" stroke-linecap="round" stroke-opacity="0.8"/>
<path d="M434.4 552.9h0" stroke="#7f57a8" stroke-width="1.60" stroke-linecap="round" stroke-opacity="0.8"/>
<path d="M371.8 589.8h0" stroke="#e8f078" stroke-width="1.60" stroke-linecap="round" stroke-opacity="0.8"/>
<path d="M443.0 620.5h0M444.0 610.7h0" stroke="#7f57a8" stroke-width="1.60" stroke-linecap="round" stroke-opacity="0.8"/>
<path d="M375.6 574.5h0M374.2 579.0h0" stroke="#e8f078" stroke-width="1.60" stroke-linecap="round" stroke-opacity="0.8"/>
<path d="M440.7 574.9h0M434.5 553.5h0M445.7 632.3h0M444.8 621.9h0" stroke="#7f57a8" stroke-width="1.60" stroke-linecap="round" stroke-opacity="0.8"/>
<path d="M380.4 580.6h0" stroke="#e8f078" stroke-width="1.60" stroke-linecap="round" stroke-opacity="0.8"/>
<path d="M440.6 581.9h0" stroke="#7f57a8" stroke-width="1.60" stroke-linecap="round" stroke-opacity="0.8"/>
<path d="M378.3 582.3h0" stroke="#e8f078" stroke-width="1.60" stroke-linecap="round" stroke-opacity="0.8"/>
<path d="M439.0 600.5h0" stroke="#7f57a8" stroke-width="1.60" stroke-linecap="round" stroke-opacity="0.8"/>
<path d="M375.7 597.5h0" stroke="#e8f078" stroke-width="1.60" stroke-linecap="round" stroke-opacity="0.8"/>
<path d="M445.6 583.4h0M438.3 584.8h0M438.9 581.4h0M443.3 621.5h0M436.5 571.1h0" stroke="#7f57a8" stroke-width="1.60" stroke-linecap="round" stroke-opacity="0.8"/>
<path d="M378.8 598.2h0M378.3 598.9h0" stroke="#e8f078" stroke-width="1.60" stroke-linecap="round" stroke-opacity="0.8"/>
<path d="M435.2 556.0h0M446.2 616.1h0M444.5 605.9h0M442.6 597.3h0" stroke="#7f57a8" stroke-width="1.60" stroke-linecap="round" stroke-opacity="0.8"/>
<path d="M376.3 604.5h0M374.8 599.8h0" stroke="#e8f078" stroke-width="1.60" stroke-linecap="round" stroke-opacity="0.8"/>
<path d="M439.3 563.2h0M430.9 556.7h0M436.9 569.0h0M438.8 576.2h0M444.8 598.6h0M438.1 581.3h0" stroke="#7f57a8" stroke-width="1.60" stroke-linecap="round" stroke-opacity="0.8"/>
<path d="M378.3 580.6h0" stroke="#e8f078" stroke-width="1.60" stroke-linecap="round" stroke-opacity="0.8"/>
<path d="M444.1 600.1h0M435.3 574.0h0M444.8 633.1h0" stroke="#7f57a8" stroke-width="1.60" stroke-linecap="round" stroke-opacity="0.8"/>
<path d="M379.6 592.2h0M371.3 577.7h0M376.9 591.3h0M375.4 587.9h0M376.7 592.6h0M375.0 585.4h0" stroke="#e8f078" stroke-width="1.60" stroke-linecap="round" stroke-opacity="0.8"/>
<path d="M439.6 591.3h0M445.0 603.4h0M443.2 588.9h0M443.7 627.0h0" stroke="#7f57a8" stroke-width="1.60" stroke-linecap="round" stroke-opacity="0.8"/>
<path d="M380.3 611.3h0" stroke="#e8f078" stroke-width="1.60" stroke-linecap="round" stroke-opacity="0.8"/>
<path d="M436.5 572.9h0M446.9 621.3h0M439.2 610.7h0M443.4 609.0h0" stroke="#7f57a8" stroke-width="1.60" stroke-linecap="round" stroke-opacity="0.8"/>
<path d="M377.2 574.9h0M375.7 574.4h0M376.5 612.7h0" stroke="#e8f078" stroke-width="1.60" stroke-linecap="round" stroke-opacity="0.8"/>
<path d="M436.7 561.5h0M449.5 631.6h0M446.2 639.4h0M444.9 607.6h0" stroke="#7f57a8" stroke-width="1.60" stroke-linecap="round" stroke-opacity="0.8"/>
<path d="M374.7 569.6h0" stroke="#e8f078" stroke-width="1.60" stroke-linecap="round" stroke-opacity="0.8"/>
<path d="M439.1 596.3h0M440.7 573.8h0" stroke="#7f57a8" stroke-width="1.60" stroke-linecap="round" stroke-opacity="0.8"/>
<path d="M376.3 583.9h0" stroke="#e8f078" stroke-width="1.60" stroke-linecap="round" stroke-opacity="0.8"/>
<path d="M435.7 551.0h0M436.6 576.6h0" stroke="#7f57a8" stroke-width="1.60" stroke-linecap="round" stroke-opacity="0.8"/>
<path d="M379.2 601.1h0" stroke="#e8f078" stroke-width="1.60" stroke-linecap="round" stroke-opacity="0.8"/>
<path d="M440.5 604.8h0" stroke="#7f57a8" stroke-width="1.60" stroke-linecap="round" stroke-opacity="0.8"/>
<path d="M381.5 595.6h0" stroke="#e8f078" stroke-width="1.60" stroke-linecap="round" stroke-opacity="0.8"/>
<path d="M436.1 577.5h0M438.7 637.9h0" stroke="#7f57a8" stroke-width="1.60" stroke-linecap="round" stroke-opacity="0.8"/>
<path d="M371.5 571.3h0M368.4 572.6h0M375.8 563.2h0" stroke="#e8f078" stroke-width="1.60" stroke-linecap="round" stroke-opacity="0.8"/>
<path d="M443.5 595.9h0" stroke="#7f57a8" stroke-width="1.60" stroke-linecap="round" stroke-opacity="0.8"/>
<path d="M374.5 574.1h0" stroke="#e8f078" stroke-width="1.60" stroke-linecap="round" stroke-opacity="0.8"/>
<path d="M430.9 557.6h0M447.3 625.8h0" stroke="#7f57a8" stroke-width="1.60" stroke-linecap="round" stroke-opacity="0.8"/>
<path d="M378.5 577.0h0M380.1 611.7h0M376.8 602.6h0M379.5 572.6h0M379.5 601.0h0M374.1 593.1h0" stroke="#e8f078" stroke-width="1.60" stroke-linecap="round" stroke-opacity="0.8"/>
<path d="M444.5 616.1h0" stroke="#7f57a8" stroke-width="1.60" stroke-linecap="round" stroke-opacity="0.8"/>
<path d="M375.2 593.3h0" stroke="#e8f078" stroke-width="1.60" stroke-linecap="round" stroke-opacity="0.8"/>
<path d="M447.3 637.0h0M436.3 558.1h0M447.1 631.9h0M434.6 547.4h0" stroke="#7f57a8" stroke-width="1.60" stroke-linecap="round" stroke-opacity="0.8"/>
<path d="M370.5 581.2h0" stroke="#e8f078" stroke-width="1.60" stroke-linecap="round" stroke-opacity="0.8"/>
<path d="M437.3 563.4h0M441.3 596.1h0M448.2 631.2h0M434.2 556.3h0M442.2 560.3h0" stroke="#7f57a8" stroke-width="1.60" stroke-linecap="round" stroke-opacity="0.8"/>
<path d="M373.5 565.2h0" stroke="#e8f078" stroke-width="1.60" stroke-linecap="round" stroke-opacity="0.8"/>
<path d="M438.1 566.7h0M449.5 633.6h0M435.2 553.0h0" stroke="#7f57a8" stroke-width="1.60" stroke-linecap="round" stroke-opacity="0.8"/>
<path d="M373.0 569.1h0M375.9 589.3h0" stroke="#e8f078" stroke-width="1.60" stroke-linecap="round" stroke-opacity="0.8"/>
<path d="M442.6 578.7h0M437.8 561.9h0M436.6 555.8h0M440.5 585.0h0M442.7 603.6h0" stroke="#7f57a8" stroke-width="1.60" stroke-linecap="round" stroke-opacity="0.8"/>
<path d="M381.9 612.1h0" stroke="#e8f078" stroke-width="1.60" stroke-linecap="round" stroke-opacity="0.8"/>
<path d="M438.3 566.8h0" stroke="#7f57a8" stroke-width="1.60" stroke-linecap="round" stroke-opacity="0.8"/>
<path d="M367.1 586.3h0M369.7 570.6h0M378.8 605.5h0" stroke="#e8f078" stroke-width="1.60" stroke-linecap="round" stroke-opacity="0.8"/>
<path d="M442.0 561.3h0" stroke="#7f57a8" stroke-width="1.60" stroke-linecap="round" stroke-opacity="0.8"/>
<path d="M378.8 606.0h0" stroke="#e8f078" stroke-width="1.60" stroke-linecap="round" stroke-opacity="0.8"/>
<path d="M430.8 566.1h0M437.7 572.1h0M443.0 629.7h0M439.2 609.1h0M442.8 604.4h0M442.0 570.7h0" stroke="#7f57a8" stroke-width="1.60" stroke-linecap="round" stroke-opacity="0.8"/>
<path d="M370.5 573.1h0" stroke="#e8f078" stroke-width="1.60" stroke-linecap="round" stroke-opacity="0.8"/>
<path d="M448.1 628.4h0" stroke="#7f57a8" stroke-width="1.60" stroke-linecap="round" stroke-opacity="0.8"/>
<path d="M375.9 584.3h0" stroke="#e8f078" stroke-width="1.60" stroke-linecap="round" stroke-opacity="0.8"/>
<path d="M439.7 612.2h0" stroke="#7f57a8" stroke-width="1.60" stroke-linecap="round" stroke-opacity="0.8"/>
<path d="M373.6 591.5h0" stroke="#e8f078" stroke-width="1.60" stroke-linecap="round" stroke-opacity="0.8"/>
<path d="M445.9 628.2h0M442.3 598.1h0" stroke="#7f57a8" stroke-width="1.60" stroke-linecap="round" stroke-opacity="0.8"/>
<path d="M374.4 588.6h0M375.6 592.3h0M373.0 582.3h0M375.4 606.6h0M376.8 593.7h0" stroke="#e8f078" stroke-width="1.60" stroke-linecap="round" stroke-opacity="0.8"/>
<path d="M443.2 573.7h0" stroke="#7f57a8" stroke-width="1.60" stroke-linecap="round" stroke-opacity="0.8"/>
<path d="M376.8 575.1h0" stroke="#e8f078" stroke-width="1.60" stroke-linecap="round" stroke-opacity="0.8"/>
<path d="M443.0 603.7h0" stroke="#7f57a8" stroke-width="1.60" stroke-linecap="round" stroke-opacity="0.8"/>
<path d="M375.0 585.4h0M377.7 607.6h0" stroke="#e8f078" stroke-width="1.60" stroke-linecap="round" stroke-opacity="0.8"/>
<path d="M435.4 549.9h0" stroke="#7f57a8" stroke-width="1.60" stroke-linecap="round" stroke-opacity="0.8"/>
<path d="M375.9 584.0h0" stroke="#e8f078" stroke-width="1.60" stroke-linecap="round" stroke-opacity="0.8"/>
<path d="M442.3 606.1h0M445.3 598.5h0" stroke="#7f57a8" stroke-width="1.60" stroke-linecap="round" stroke-opacity="0.8"/>
<path d="M377.6 612.9h0M378.2 597.6h0M375.7 564.6h0" stroke="#e8f078" stroke-width="1.60" stroke-linecap="round" stroke-opacity="0.8"/>
<path d="M435.8 558.8h0" stroke="#7f57a8" stroke-width="1.60" stroke-linecap="round" stroke-opacity="0.8"/>
<path d="M372.9 597.4h0" stroke="#e8f078" stroke-width="1.60" stroke-linecap="round" stroke-opacity="0.8"/>
<path d="M438.5 575.5h0M442.9 607.9h0" stroke="#7f57a8" stroke-width="1.60" stroke-linecap="round" stroke-opacity="0.8"/>
<path d="M377.0 607.3h0" stroke="#e8f078" stroke-width="1.60" stroke-linecap="round" stroke-opacity="0.8"/>
<path d="M447.3 639.2h0M446.3 620.6h0M438.4 568.3h0M435.0 573.8h0M432.6 572.6h0" stroke="#7f57a8" stroke-width="1.60" stroke-linecap="round" stroke-opacity="0.8"/>
<path d="M375.8 602.6h0" stroke="#e8f078" stroke-width="1.60" stroke-linecap="round" stroke-opacity="0.8"/>
<path d="M443.5 635.7h0M442.6 566.7h0" stroke="#7f57a8" stroke-width="1.60" stroke-linecap="round" stroke-opacity="0.8"/>
<path d="M372.5 581.7h0M378.0 610.8h0M377.2 602.1h0" stroke="#e8f078" stroke-width="1.60" stroke-linecap="round" stroke-opacity="0.8"/>
<path d="M433.3 567.3h0M440.1 591.5h0M435.0 556.6h0" stroke="#7f57a8" stroke-width="1.60" stroke-linecap="round" stroke-opacity="0.8"/>
<path d="M375.2 575.5h0M369.9 583.2h0" stroke="#e8f078" stroke-width="1.60" stroke-linecap="round" stroke-opacity="0.8"/>
<path d="M441.9 613.1h0M436.5 549.9h0" stroke="#7f57a8" stroke-width="1.60" stroke-linecap="round" stroke-opacity="0.8"/>
<path d="M374.1 598.4h0" stroke="#e8f078" stroke-width="1.60" stroke-linecap="round" stroke-opacity="0.8"/>
<path d="M439.9 567.3h0" stroke="#7f57a8" stroke-width="1.60" stroke-linecap="round" stroke-opacity="0.8"/>
<path d="M379.3 590.3h0M378.6 601.6h0M380.3 604.3h0" stroke="#e8f078" stroke-width="1.60" stroke-linecap="round" stroke-opacity="0.8"/>
<path d="M433.2 550.5h0M444.9 602.4h0" stroke="#7f57a8" stroke-width="1.60" stroke-linecap="round" stroke-opacity="0.8"/>
<path d="M378.7 591.2h0" stroke="#e8f078" stroke-width="1.60" stroke-linecap="round" stroke-opacity="0.8"/>
<path d="M435.8 566.1h0M446.7 592.8h0M443.7 601.8h0M442.2 583.1h0M437.7 568.5h0" stroke="#7f57a8" stroke-width="1.60" stroke-linecap="round" stroke-opacity="0.8"/>
<path d="M376.5 604.5h0" stroke="#e8f078" stroke-width="1.60" stroke-linecap="round" stroke-opacity="0.8"/>
<path d="M443.5 573.9h0M442.9 568.7h0M428.6 561.0h0" stroke="#7f57a8" stroke-width="1.60" stroke-linecap="round" stroke-opacity="0.8"/>
<path d="M378.4 585.8h0M378.4 580.9h0M375.6 570.9h0M377.6 600.7h0M368.9 578.2h0" stroke="#e8f078" stroke-width="1.60" stroke-linecap="round" stroke-opacity="0.8"/>
<path d="M436.3 556.3h0M448.1 625.1h0M431.4 553.0h0" stroke="#7f57a8" stroke-width="1.60" stroke-linecap="round" stroke-opacity="0.8"/>
<path d="M373.2 575.0h0M375.2 568.8h0" stroke="#e8f078" stroke-width="1.60" stroke-linecap="round" stroke-opacity="0.8"/>
<path d="M437.2 571.6h0" stroke="#7f57a8" stroke-width="1.60" stroke-linecap="round" stroke-opacity="0.8"/>
<path d="M376.1 582.6h0M379.9 592.0h0" stroke="#e8f078" stroke-width="1.60" stroke-linecap="round" stroke-opacity="0.8"/>
<path d="M440.1 583.8h0M443.2 580.6h0M444.7 585.2h0M443.9 639.2h0" stroke="#7f57a8" stroke-width="1.60" stroke-linecap="round" stroke-opacity="0.8"/>
<path d="M377.6 604.5h0M374.3 602.5h0" stroke="#e8f078" stroke-width="1.60" stroke-linecap="round" stroke-opacity="0.8"/>
<path d="M436.6 579.8h0" stroke="#7f57a8" stroke-width="1.60" stroke-linecap="round" stroke-opacity="0.8"/>
<path d="M376.8 591.3h0" stroke="#e8f078" stroke-width="1.60" stroke-linecap="round" stroke-opacity="0.8"/>
<path d="M447.3 641.1h0" stroke="#7f57a8" stroke-width="1.60" stroke-linecap="round" stroke-opacity="0.8"/>
<path d="M376.7 580.0h0M376.5 606.0h0" stroke="#e8f078" stroke-width="1.60" stroke-linecap="round" stroke-opacity="0.8"/>
<path d="M443.1 620.1h0" stroke="#7f57a8" stroke-width="1.60" stroke-linecap="round" stroke-opacity="0.8"/>
<path d="M382.7 607.4h0" stroke="#e8f078" stroke-width="1.60" stroke-linecap="round" stroke-opacity="0.8"/>
<path d="M443.0 603.2h0" stroke="#7f57a8" stroke-width="1.60" stroke-linecap="round" stroke-opacity="0.8"/>
<path d="M378.4 599.1h0" stroke="#e8f078" stroke-width="1.60" stroke-linecap="round" stroke-opacity="0.8"/>
<path d="M437.6 560.0h0M447.3 640.6h0M447.3 637.7h0" stroke="#7f57a8" stroke-width="1.60" stroke-linecap="round" stroke-opacity="0.8"/>
<path d="M376.8 609.7h0" stroke="#e8f078" stroke-width="1.60" stroke-linecap="round" stroke-opacity="0.8"/>
<path d="M443.4 646.6h0M432.9 559.8h0" stroke="#7f57a8" stroke-width="1.60" stroke-linecap="round" stroke-opacity="0.8"/>
<path d="M374.8 566.1h0" stroke="#e8f078" stroke-width="1.60" stroke-linecap="round" stroke-opacity="0.8"/>
<path d="M438.1 567.8h0M444.8 614.2h0M441.3 612.0h0" stroke="#7f57a8" stroke-width="1.60" stroke-linecap="round" stroke-opacity="0.8"/>
<path d="M373.3 578.7h0" stroke="#e8f078" stroke-width="1.60" stroke-linecap="round" stroke-opacity="0.8"/>
<path d="M439.5 577.2h0M442.0 597.9h0M444.4 608.7h0" stroke="#7f57a8" stroke-width="1.60" stroke-linecap="round" stroke-opacity="0.8"/>
<path d="M374.9 598.3h0M376.2 562.5h0" stroke="#e8f078" stroke-width="1.60" stroke-linecap="round" stroke-opacity="0.8"/>
<path d="M447.5 595.2h0" stroke="#7f57a8" stroke-width="1.60" stroke-linecap="round" stroke-opacity="0.8"/>
<path d="M375.8 593.9h0M377.8 606.6h0" stroke="#e8f078" stroke-width="1.60" stroke-linecap="round" stroke-opacity="0.8"/>
<path d="M438.4 565.7h0M443.6 629.8h0" stroke="#7f57a8" stroke-width="1.60" stroke-linecap="round" stroke-opacity="0.8"/>
<path d="M375.4 566.2h0M376.6 603.6h0" stroke="#e8f078" stroke-width="1.60" stroke-linecap="round" stroke-opacity="0.8"/>
<path d="M451.3 625.2h0" stroke="#7f57a8" stroke-width="1.60" stroke-linecap="round" stroke-opacity="0.8"/>
<path d="M379.5 605.2h0" stroke="#e8f078" stroke-width="1.60" stroke-linecap="round" stroke-opacity="0.8"/>
<path d="M435.0 563.8h0" stroke="#7f57a8" stroke-width="1.60" stroke-linecap="round" stroke-opacity="0.8"/>
<path d="M374.6 588.1h0" stroke="#e8f078" stroke-width="1.60" stroke-linecap="round" stroke-opacity="0.8"/>
<path d="M439.6 602.6h0M443.0 598.3h0M441.3 605.5h0M447.0 615.2h0" stroke="#7f57a8" stroke-width="1.60" stroke-linecap="round" stroke-opacity="0.8"/>
<path d="M376.1 586.5h0" stroke="#e8f078" stroke-width="1.60" stroke-linecap="round" stroke-opacity="0.8"/>
<path d="M447.0 629.0h0M442.5 604.9h0M445.0 645.9h0M445.0 637.1h0M443.1 625.0h0M438.9 580.9h0M440.0 573.2h0M436.9 563.4h0M441.8 616.4h0" stroke="#7f57a8" stroke-width="1.60" stroke-linecap="round" stroke-opacity="0.8"/>
<path d="M369.9 590.0h0M376.1 570.5h0M379.7 614.6h0M372.6 570.1h0M379.0 608.4h0M375.4 579.6h0" stroke="#e8f078" stroke-width="1.60" stroke-linecap="round" stroke-opacity="0.8"/>
<path d="M443.7 586.4h0M437.8 591.0h0M443.1 578.5h0M444.0 595.3h0M447.2 613.7h0" stroke="#7f57a8" stroke-width="1.60" stroke-linecap="round" stroke-opacity="0.8"/>
<path d="M376.1 599.7h0" stroke="#e8f078" stroke-width="1.60" stroke-linecap="round" stroke-opacity="0.8"/>
<path d="M445.7 577.2h0M437.0 567.9h0" stroke="#7f57a8" stroke-width="1.60" stroke-linecap="round" stroke-opacity="0.8"/>
<path d="M372.7 580.7h0" stroke="#e8f078" stroke-width="1.60" stroke-linecap="round" stroke-opacity="0.8"/>
<path d="M432.2 562.8h0M446.3 569.2h0" stroke="#7f57a8" stroke-width="1.60" stroke-linecap="round" stroke-opacity="0.8"/>
<path d="M365.6 573.3h0M378.0 562.6h0" stroke="#e8f078" stroke-width="1.60" stroke-linecap="round" stroke-opacity="0.8"/>
<path d="M442.5 565.3h0" stroke="#7f57a8" stroke-width="1.60" stroke-linecap="round" stroke-opacity="0.8"/>
<path d="M377.1 579.8h0" stroke="#e8f078" stroke-width="1.60" stroke-linecap="round" stroke-opacity="0.8"/>
<path d="M444.5 601.0h0M445.6 613.4h0M443.7 605.4h0M443.6 600.3h0M444.9 638.7h0" stroke="#7f57a8" stroke-width="1.60" stroke-linecap="round" stroke-opacity="0.8"/>
<path d="M375.7 580.8h0M376.9 564.0h0" stroke="#e8f078" stroke-width="1.60" stroke-linecap="round" stroke-opacity="0.8"/>
<path d="M434.8 574.2h0M443.7 564.2h0M435.3 560.4h0" stroke="#7f57a8" stroke-width="1.60" stroke-linecap="round" stroke-opacity="0.8"/>
<path d="M373.1 578.9h0" stroke="#e8f078" stroke-width="1.60" stroke-linecap="round" stroke-opacity="0.8"/>
<path d="M446.5 624.8h0M441.3 593.5h0M448.9 617.4h0" stroke="#7f57a8" stroke-width="1.60" stroke-linecap="round" stroke-opacity="0.8"/>
<path d="M376.7 570.4h0" stroke="#e8f078" stroke-width="1.60" stroke-linecap="round" stroke-opacity="0.8"/>
<path d="M438.4 577.5h0" stroke="#7f57a8" stroke-width="1.60" stroke-linecap="round" stroke-opacity="0.8"/>
<path d="M370.0 576.5h0M377.1 600.3h0M376.2 591.9h0M377.2 579.6h0M374.1 568.2h0M371.4 581.2h0M373.2 564.1h0" stroke="#e8f078" stroke-width="1.60" stroke-linecap="round" stroke-opacity="0.8"/>
<path d="M434.6 556.1h0M432.0 585.9h0" stroke="#7f57a8" stroke-width="1.60" stroke-linecap="round" stroke-opacity="0.8"/>
<path d="M376.2 581.5h0" stroke="#e8f078" stroke-width="1.60" stroke-linecap="round" stroke-opacity="0.8"/>
<path d="M440.7 611.5h0M439.5 594.3h0" stroke="#7f57a8" stroke-width="1.60" stroke-linecap="round" stroke-opacity="0.8"/>
<path d="M374.4 564.3h0M377.1 568.2h0" stroke="#e8f078" stroke-width="1.60" stroke-linecap="round" stroke-opacity="0.8"/>
<path d="M436.4 567.9h0" stroke="#7f57a8" stroke-width="1.60" stroke-linecap="round" stroke-opacity="0.8"/>
<path d="M373.5 572.5h0" stroke="#e8f078" stroke-width="1.60" stroke-linecap="round" stroke-opacity="0.8"/>
<path d="M444.3 599.4h0" stroke="#7f57a8" stroke-width="1.60" stroke-linecap="round" stroke-opacity="0.8"/>
<path d="M373.1 570.7h0" stroke="#e8f078" stroke-width="1.60" stroke-linecap="round" stroke-opacity="0.8"/>
<path d="M437.1 560.2h0" stroke="#7f57a8" stroke-width="1.60" stroke-linecap="round" stroke-opacity="0.8"/>
<path d="M378.3 607.7h0" stroke="#e8f078" stroke-width="1.60" stroke-linecap="round" stroke-opacity="0.8"/>
<path d="M445.0 643.5h0M445.0 600.1h0" stroke="#7f57a8" stroke-width="1.60" stroke-linecap="round" stroke-opacity="0.8"/>
<path d="M370.6 591.3h0M372.6 583.4h0" stroke="#e8f078" stroke-width="1.60" stroke-linecap="round" stroke-opacity="0.8"/>
<path d="M448.2 652.0h0" stroke="#7f57a8" stroke-width="1.60" stroke-linecap="round" stroke-opacity="0.8"/>
<path d="M374.3 581.6h0M376.8 575.7h0" stroke="#e8f078" stroke-width="1.60" stroke-linecap="round" stroke-opacity="0.8"/>
<path d="M442.4 577.2h0" stroke="#7f57a8" stroke-width="1.60" stroke-linecap="round" stroke-opacity="0.8"/>
<path d="M381.0 610.6h0M373.4 583.1h0M375.7 577.7h0" stroke="#e8f078" stroke-width="1.60" stroke-linecap="round" stroke-opacity="0.8"/>
<path d="M449.1 641.1h0M444.0 640.2h0" stroke="#7f57a8" stroke-width="1.60" stroke-linecap="round" stroke-opacity="0.8"/>
<path d="M377.8 603.5h0M375.2 574.1h0M375.3 580.9h0M375.4 573.8h0" stroke="#e8f078" stroke-width="1.60" stroke-linecap="round" stroke-opacity="0.8"/>
<path d="M441.7 592.2h0" stroke="#7f57a8" stroke-width="1.60" stroke-linecap="round" stroke-opacity="0.8"/>
<path d="M375.0 584.3h0" stroke="#e8f078" stroke-width="1.60" stroke-linecap="round" stroke-opacity="0.8"/>
<path d="M444.6 650.3h0" stroke="#7f57a8" stroke-width="1.60" stroke-linecap="round" stroke-opacity="0.8"/>
<path d="M377.2 592.3h0" stroke="#e8f078" stroke-width="1.60" stroke-linecap="round" stroke-opacity="0.8"/>
<path d="M443.3 595.6h0M442.6 627.9h0M444.6 598.3h0M443.9 604.1h0" stroke="#7f57a8" stroke-width="1.60" stroke-linecap="round" stroke-opacity="0.8"/>
<path d="M378.9 595.9h0M372.2 581.1h0M371.9 582.4h0" stroke="#e8f078" stroke-width="1.60" stroke-linecap="round" stroke-opacity="0.8"/>
<path d="M439.3 603.1h0" stroke="#7f57a8" stroke-width="1.60" stroke-linecap="round" stroke-opacity="0.8"/>
<path d="M377.5 599.1h0M377.0 598.5h0" stroke="#e8f078" stroke-width="1.60" stroke-linecap="round" stroke-opacity="0.8"/>
<path d="M443.2 590.3h0M448.7 639.9h0M436.4 570.1h0M445.9 617.9h0M446.1 617.5h0" stroke="#7f57a8" stroke-width="1.60" stroke-linecap="round" stroke-opacity="0.8"/>
<path d="M371.8 577.4h0M376.6 602.6h0" stroke="#e8f078" stroke-width="1.60" stroke-linecap="round" stroke-opacity="0.8"/>
<path d="M435.3 561.9h0" stroke="#7f57a8" stroke-width="1.60" stroke-linecap="round" stroke-opacity="0.8"/>
<path d="M371.6 588.9h0M378.5 614.9h0" stroke="#e8f078" stroke-width="1.60" stroke-linecap="round" stroke-opacity="0.8"/>
<path d="M432.3 553.1h0M436.3 584.3h0M444.1 579.5h0" stroke="#7f57a8" stroke-width="1.60" stroke-linecap="round" stroke-opacity="0.8"/>
<path d="M372.4 581.5h0" stroke="#e8f078" stroke-width="1.60" stroke-linecap="round" stroke-opacity="0.8"/>
<path d="M436.1 554.0h0M436.7 563.5h0" stroke="#7f57a8" stroke-width="1.60" stroke-linecap="round" stroke-opacity="0.8"/>
<path d="M378.4 580.5h0" stroke="#e8f078" stroke-width="1.60" stroke-linecap="round" stroke-opacity="0.8"/>
<path d="M446.3 609.2h0" stroke="#7f57a8" stroke-width="1.60" stroke-linecap="round" stroke-opacity="0.8"/>
<path d="M380.4 609.3h0" stroke="#e8f078" stroke-width="1.60" stroke-linecap="round" stroke-opacity="0.8"/>
<path d="M441.0 573.8h0M438.1 565.0h0M443.1 614.7h0" stroke="#7f57a8" stroke-width="1.60" stroke-linecap="round" stroke-opacity="0.8"/>
<path d="M374.4 571.1h0" stroke="#e8f078" stroke-width="1.60" stroke-linecap="round" stroke-opacity="0.8"/>
<path d="M434.8 565.3h0M441.8 597.1h0M443.6 587.9h0M443.7 614.5h0" stroke="#7f57a8" stroke-width="1.60" stroke-linecap="round" stroke-opacity="0.8"/>
<path d="M373.8 563.8h0M378.6 572.3h0M377.0 584.6h0M374.0 571.6h0" stroke="#e8f078" stroke-width="1.60" stroke-linecap="round" stroke-opacity="0.8"/>
<path d="M438.8 568.4h0" stroke="#7f57a8" stroke-width="1.60" stroke-linecap="round" stroke-opacity="0.8"/>
<path d="M374.1 564.6h0" stroke="#e8f078" stroke-width="1.60" stroke-linecap="round" stroke-opacity="0.8"/>
<path d="M441.8 575.7h0M441.1 581.4h0M435.1 560.9h0M440.8 567.3h0" stroke="#7f57a8" stroke-width="1.60" stroke-linecap="round" stroke-opacity="0.8"/>
<path d="M374.7 571.9h0M370.1 590.5h0" stroke="#e8f078" stroke-width="1.60" stroke-linecap="round" stroke-opacity="0.8"/>
<path d="M443.1 595.5h0" stroke="#7f57a8" stroke-width="1.60" stroke-linecap="round" stroke-opacity="0.8"/>
<path d="M375.6 564.9h0M378.9 608.5h0M371.8 571.5h0M373.7 580.3h0M376.0 577.9h0" stroke="#e8f078" stroke-width="1.60" stroke-linecap="round" stroke-opacity="0.8"/>
<path d="M439.3 572.3h0M432.4 555.8h0M442.7 604.3h0M438.4 569.6h0" stroke="#7f57a8" stroke-width="1.60" stroke-linecap="round" stroke-opacity="0.8"/>
<path d="M380.8 582.3h0" stroke="#e8f078" stroke-width="1.60" stroke-linecap="round" stroke-opacity="0.8"/>
<path d="M445.5 609.3h0" stroke="#7f57a8" stroke-width="1.60" stroke-linecap="round" stroke-opacity="0.8"/>
<path d="M376.4 613.3h0M376.7 608.0h0" stroke="#e8f078" stroke-width="1.60" stroke-linecap="round" stroke-opacity="0.8"/>
<path d="M442.3 600.9h0" stroke="#7f57a8" stroke-width="1.60" stroke-linecap="round" stroke-opacity="0.8"/>
<path d="M381.0 601.8h0" stroke="#e8f078" stroke-width="1.60" stroke-linecap="round" stroke-opacity="0.8"/>
<path d="M444.9 621.4h0M450.0 634.9h0M445.0 596.9h0M449.2 616.3h0M443.2 574.1h0" stroke="#7f57a8" stroke-width="1.60" stroke-linecap="round" stroke-opacity="0.8"/>
<path d="M370.9 588.5h0M376.9 610.8h0" stroke="#e8f078" stroke-width="1.60" stroke-linecap="round" stroke-opacity="0.8"/>
<path d="M447.7 638.1h0M437.1 586.3h0" stroke="#7f57a8" stroke-width="1.60" stroke-linecap="round" stroke-opacity="0.8"/>
<path d="M377.2 610.8h0M380.3 589.6h0" stroke="#e8f078" stroke-width="1.60" stroke-linecap="round" stroke-opacity="0.8"/>
<path d="M448.8 629.1h0" stroke="#7f57a8" stroke-width="1.60" stroke-linecap="round" stroke-opacity="0.8"/>
<path d="M376.7 583.4h0M374.0 599.9h0" stroke="#e8f078" stroke-width="1.60" stroke-linecap="round" stroke-opacity="0.8"/>
<path d="M438.5 596.0h0" stroke="#7f57a8" stroke-width="1.60" stroke-linecap="round" stroke-opacity="0.8"/>
<path d="M375.0 577.9h0" stroke="#e8f078" stroke-width="1.60" stroke-linecap="round" stroke-opacity="0.8"/>
<path d="M439.1 562.9h0" stroke="#7f57a8" stroke-width="1.60" stroke-linecap="round" stroke-opacity="0.8"/>
<path d="M376.6 585.7h0M379.0 598.1h0M375.8 606.2h0" stroke="#e8f078" stroke-width="1.60" stroke-linecap="round" stroke-opacity="0.8"/>
<path d="M440.3 581.2h0" stroke="#7f57a8" stroke-width="1.60" stroke-linecap="round" stroke-opacity="0.8"/>
<path d="M375.3 564.1h0M377.5 591.0h0" stroke="#e8f078" stroke-width="1.60" stroke-linecap="round" stroke-opacity="0.8"/>
<path d="M444.6 605.5h0" stroke="#7f57a8" stroke-width="1.60" stroke-linecap="round" stroke-opacity="0.8"/>
<path d="M379.4 594.9h0M374.8 572.5h0M373.1 577.1h0M372.5 571.8h0M380.2 582.7h0" stroke="#e8f078" stroke-width="1.60" stroke-linecap="round" stroke-opacity="0.8"/>
<path d="M438.4 569.2h0M442.9 616.0h0M444.1 627.4h0M445.5 618.0h0M441.3 581.8h0M440.4 566.9h0M444.8 618.3h0" stroke="#7f57a8" stroke-width="1.60" stroke-linecap="round" stroke-opacity="0.8"/>
<path d="M376.4 591.0h0" stroke="#e8f078" stroke-width="1.60" stroke-linecap="round" stroke-opacity="0.8"/>
<path d="M435.3 549.9h0" stroke="#7f57a8" stroke-width="1.60" stroke-linecap="round" stroke-opacity="0.8"/>
<path d="M375.6 591.1h0" stroke="#e8f078" stroke-width="1.60" stroke-linecap="round" stroke-opacity="0.8"/>
<path d="M435.2 544.3h0" stroke="#7f57a8" stroke-width="1.60" stroke-linecap="round" stroke-opacity="0.8"/>
<path d="M376.6 607.8h0M377.2 599.1h0M375.1 571.3h0M376.8 593.8h0" stroke="#e8f078" stroke-width="1.60" stroke-linecap="round" stroke-opacity="0.8"/>
<path d="M432.6 553.0h0M440.3 593.9h0" stroke="#7f57a8" stroke-width="1.60" stroke-linecap="round" stroke-opacity="0.8"/>
<path d="M378.4 588.0h0" stroke="#e8f078" stroke-width="1.60" stroke-linecap="round" stroke-opacity="0.8"/>
<path d="M436.0 563.2h0M441.2 604.0h0M437.2 590.0h0M441.9 581.0h0M437.4 599.0h0" stroke="#7f57a8" stroke-width="1.60" stroke-linecap="round" stroke-opacity="0.8"/>
<path d="M379.0 578.5h0" stroke="#e8f078" stroke-width="1.60" stroke-linecap="round" stroke-opacity="0.8"/>
<path d="M441.9 551.2h0M436.8 551.1h0M444.5 615.0h0" stroke="#7f57a8" stroke-width="1.60" stroke-linecap="round" stroke-opacity="0.8"/>
<path d="M374.5 577.2h0" stroke="#e8f078" stroke-width="1.60" stroke-linecap="round" stroke-opacity="0.8"/>
<path d="M440.8 579.5h0" stroke="#7f57a8" stroke-width="1.60" stroke-linecap="round" stroke-opacity="0.8"/>
<path d="M374.0 576.3h0" stroke="#e8f078" stroke-width="1.60" stroke-linecap="round" stroke-opacity="0.8"/>
<path d="M445.1 595.5h0M441.4 585.3h0M447.0 620.4h0M442.9 582.6h0M440.9 575.3h0" stroke="#7f57a8" stroke-width="1.60" stroke-linecap="round" stroke-opacity="0.8"/>
<path d="M375.0 564.9h0" stroke="#e8f078" stroke-width="1.60" stroke-linecap="round" stroke-opacity="0.8"/>
<path d="M443.3 620.0h0" stroke="#7f57a8" stroke-width="1.60" stroke-linecap="round" stroke-opacity="0.8"/>
<path d="M373.4 581.8h0" stroke="#e8f078" stroke-width="1.60" stroke-linecap="round" stroke-opacity="0.8"/>
<path d="M446.4 644.7h0" stroke="#7f57a8" stroke-width="1.60" stroke-linecap="round" stroke-opacity="0.8"/>
<path d="M377.4 576.6h0" stroke="#e8f078" stroke-width="1.60" stroke-linecap="round" stroke-opacity="0.8"/>
<path d="M434.6 568.3h0M443.7 622.3h0" stroke="#7f57a8" stroke-width="1.60" stroke-linecap="round" stroke-opacity="0.8"/>
<path d="M377.0 594.8h0M378.0 614.3h0M372.5 565.3h0M374.4 567.2h0" stroke="#e8f078" stroke-width="1.60" stroke-linecap="round" stroke-opacity="0.8"/>
<path d="M447.9 628.5h0" stroke="#7f57a8" stroke-width="1.60" stroke-linecap="round" stroke-opacity="0.8"/>
<path d="M370.8 572.6h0" stroke="#e8f078" stroke-width="1.60" stroke-linecap="round" stroke-opacity="0.8"/>
<path d="M434.1 568.6h0M441.6 591.3h0" stroke="#7f57a8" stroke-width="1.60" stroke-linecap="round" stroke-opacity="0.8"/>
<path d="M378.3 611.2h0M375.1 602.7h0M376.6 581.7h0" stroke="#e8f078" stroke-width="1.60" stroke-linecap="round" stroke-opacity="0.8"/>
<path d="M436.5 563.3h0M434.1 548.3h0M439.0 586.1h0" stroke="#7f57a8" stroke-width="1.60" stroke-linecap="round" stroke-opacity="0.8"/>
<path d="M372.4 597.2h0M376.7 592.3h0M376.5 611.4h0" stroke="#e8f078" stroke-width="1.60" stroke-linecap="round" stroke-opacity="0.8"/>
<path d="M448.3 621.5h0" stroke="#7f57a8" stroke-width="1.60" stroke-linecap="round" stroke-opacity="0.8"/>
<path d="M377.2 587.5h0" stroke="#e8f078" stroke-width="1.60" stroke-linecap="round" stroke-opacity="0.8"/>
<path d="M445.6 614.5h0" stroke="#7f57a8" stroke-width="1.60" stroke-linecap="round" stroke-opacity="0.8"/>
<path d="M379.2 610.0h0M378.9 610.2h0" stroke="#e8f078" stroke-width="1.60" stroke-linecap="round" stroke-opacity="0.8"/>
<path d="M448.0 648.8h0" stroke="#7f57a8" stroke-width="1.60" stroke-linecap="round" stroke-opacity="0.8"/>
<path d="M374.5 582.3h0" stroke="#e8f078" stroke-width="1.60" stroke-linecap="round" stroke-opacity="0.8"/>
<path d="M439.6 580.5h0M434.5 559.8h0M439.2 587.2h0" stroke="#7f57a8" stroke-width="1.60" stroke-linecap="round" stroke-opacity="0.8"/>
<path d="M377.3 588.4h0M374.3 603.0h0" stroke="#e8f078" stroke-width="1.60" stroke-linecap="round" stroke-opacity="0.8"/>
<path d="M439.7 572.8h0" stroke="#7f57a8" stroke-width="1.60" stroke-linecap="round" stroke-opacity="0.8"/>
<path d="M374.6 586.6h0M377.8 587.3h0M375.1 590.4h0" stroke="#e8f078" stroke-width="1.60" stroke-linecap="round" stroke-opacity="0.8"/>
<path d="M449.7 641.3h0" stroke="#7f57a8" stroke-width="1.60" stroke-linecap="round" stroke-opacity="0.8"/>
<path d="M371.6 568.6h0" stroke="#e8f078" stroke-width="1.60" stroke-linecap="round" stroke-opacity="0.8"/>
<path d="M449.9 621.3h0" stroke="#7f57a8" stroke-width="1.60" stroke-linecap="round" stroke-opacity="0.8"/>
<path d="M378.8 589.3h0M375.9 589.0h0" stroke="#e8f078" stroke-width="1.60" stroke-linecap="round" stroke-opacity="0.8"/>
<path d="M438.8 561.3h0" stroke="#7f57a8" stroke-width="1.60" stroke-linecap="round" stroke-opacity="0.8"/>
<path d="M378.6 601.3h0M378.5 587.4h0" stroke="#e8f078" stroke-width="1.60" stroke-linecap="round" stroke-opacity="0.8"/>
<path d="M444.6 597.8h0" stroke="#7f57a8" stroke-width="1.60" stroke-linecap="round" stroke-opacity="0.8"/>
<path d="M378.9 611.3h0M377.3 581.9h0M372.2 569.7h0M378.1 605.9h0" stroke="#e8f078" stroke-width="1.60" stroke-linecap="round" stroke-opacity="0.8"/>
<path d="M438.2 595.3h0M440.0 595.7h0M442.4 561.7h0M449.0 641.6h0" stroke="#7f57a8" stroke-width="1.60" stroke-linecap="round" stroke-opacity="0.8"/>
<path d="M378.1 596.1h0" stroke="#e8f078" stroke-width="1.60" stroke-linecap="round" stroke-opacity="0.8"/>
<path d="M439.4 563.1h0M437.9 594.9h0" stroke="#7f57a8" stroke-width="1.60" stroke-linecap="round" stroke-opacity="0.8"/>
<path d="M377.8 611.0h0M375.4 568.3h0M376.3 593.7h0M376.8 614.9h0M375.2 600.6h0M376.3 584.7h0" stroke="#e8f078" stroke-width="1.60" stroke-linecap="round" stroke-opacity="0.8"/>
<path d="M436.7 562.9h0M442.5 573.9h0M430.5 554.5h0M438.9 615.7h0" stroke="#7f57a8" stroke-width="1.60" stroke-linecap="round" stroke-opacity="0.8"/>
<path d="M376.0 599.5h0" stroke="#e8f078" stroke-width="1.60" stroke-linecap="round" stroke-opacity="0.8"/>
<path d="M444.8 607.8h0" stroke="#7f57a8" stroke-width="1.60" stroke-linecap="round" stroke-opacity="0.8"/>
<path d="M375.5 592.7h0M377.6 601.0h0" stroke="#e8f078" stroke-width="1.60" stroke-linecap="round" stroke-opacity="0.8"/>
<path d="M447.3 646.3h0M444.7 597.6h0M446.2 600.2h0M443.7 581.8h0" stroke="#7f57a8" stroke-width="1.60" stroke-linecap="round" stroke-opacity="0.8"/>
<path d="M374.4 570.3h0" stroke="#e8f078" stroke-width="1.60" stroke-linecap="round" stroke-opacity="0.8"/>
<path d="M434.5 551.0h0" stroke="#7f57a8" stroke-width="1.60" stroke-linecap="round" stroke-opacity="0.8"/>
<path d="M377.0 584.0h0M375.2 570.7h0" stroke="#e8f078" stroke-width="1.60" stroke-linecap="round" stroke-opacity="0.8"/>
<path d="M436.6 600.8h0M446.1 619.2h0M440.6 598.5h0M439.9 555.0h0M434.2 556.6h0" stroke="#7f57a8" stroke-width="1.60" stroke-linecap="round" stroke-opacity="0.8"/>
<path d="M374.6 580.9h0M376.5 601.0h0" stroke="#e8f078" stroke-width="1.60" stroke-linecap="round" stroke-opacity="0.8"/>
<path d="M447.1 577.7h0M448.9 590.1h0M443.3 598.2h0M442.0 640.4h0" stroke="#7f57a8" stroke-width="1.60" stroke-linecap="round" stroke-opacity="0.8"/>
<path d="M379.1 594.0h0" stroke="#e8f078" stroke-width="1.60" stroke-linecap="round" stroke-opacity="0.8"/>
<path d="M447.3 588.7h0" stroke="#7f57a8" stroke-width="1.60" stroke-linecap="round" stroke-opacity="0.8"/>
<path d="M377.9 596.7h0" stroke="#e8f078" stroke-width="1.60" stroke-linecap="round" stroke-opacity="0.8"/>
<path d="M441.5 590.7h0" stroke="#7f57a8" stroke-width="1.60" stroke-linecap="round" stroke-opacity="0.8"/>
<path d="M379.2 581.6h0M377.2 608.0h0M375.5 580.0h0" stroke="#e8f078" stroke-width="1.60" stroke-linecap="round" stroke-opacity="0.8"/>
<path d="M440.2 616.4h0M434.0 579.1h0M448.6 638.2h0" stroke="#7f57a8" stroke-width="1.60" stroke-linecap="round" stroke-opacity="0.8"/>
</g>
<rect x="366.7" y="542.9" width="80" height="7.2" fill="#fff" fill-opacity="0.8"/>
<text x="406.7" y="546.5" font-size="7.38" text-anchor="middle" dominant-baseline="central" fill="#e62a2a" textLength="83.16" lengthAdjust="spacingAndGlyphs" stroke="#e62a2a" stroke-width="0.07">Euclidean Distance: 41.59</text>
<rect x="358.3" y="542.2" width="96.8" height="112.2" fill="none" stroke="#d8d8d8" stroke-width="0.9"/>
<text x="406.7" y="536.9" font-size="8.53" text-anchor="middle" dominant-baseline="central" fill="#222" textLength="101.46" lengthAdjust="spacingAndGlyphs" stroke="#222" stroke-width="0.07">Embeddings of SCAD (bulk)</text>
<line x1="379.04" y1="654.4" x2="379.04" y2="656.4" stroke="#555" stroke-width="0.7"/>
<text x="379.04" y="660.8" font-size="7.0" text-anchor="middle" dominant-baseline="central" fill="#222" textLength="10.97" lengthAdjust="spacingAndGlyphs" stroke="#222" stroke-width="0.07">−20</text>
<line x1="410.4" y1="654.4" x2="410.4" y2="656.4" stroke="#555" stroke-width="0.7"/>
<text x="410.4" y="660.8" font-size="7.0" text-anchor="middle" dominant-baseline="central" fill="#222" textLength="3.31" lengthAdjust="spacingAndGlyphs" stroke="#222" stroke-width="0.07">0</text>
<line x1="441.76" y1="654.4" x2="441.76" y2="656.4" stroke="#555" stroke-width="0.7"/>
<text x="441.76" y="660.8" font-size="7.0" text-anchor="middle" dominant-baseline="central" fill="#222" textLength="6.62" lengthAdjust="spacingAndGlyphs" stroke="#222" stroke-width="0.07">20</text>
<line x1="356.3" y1="553.7" x2="358.3" y2="553.7" stroke="#555" stroke-width="0.7"/>
<text x="354.7" y="553.7" font-size="7.0" text-anchor="end" dominant-baseline="central" fill="#222" textLength="6.62" lengthAdjust="spacingAndGlyphs" stroke="#222" stroke-width="0.07">10</text>
<line x1="356.3" y1="568" x2="358.3" y2="568" stroke="#555" stroke-width="0.7"/>
<text x="354.7" y="568" font-size="7.0" text-anchor="end" dominant-baseline="central" fill="#222" textLength="3.31" lengthAdjust="spacingAndGlyphs" stroke="#222" stroke-width="0.07">5</text>
<line x1="356.3" y1="582.3" x2="358.3" y2="582.3" stroke="#555" stroke-width="0.7"/>
<text x="354.7" y="582.3" font-size="7.0" text-anchor="end" dominant-baseline="central" fill="#222" textLength="3.31" lengthAdjust="spacingAndGlyphs" stroke="#222" stroke-width="0.07">0</text>
<line x1="356.3" y1="596.6" x2="358.3" y2="596.6" stroke="#555" stroke-width="0.7"/>
<text x="354.7" y="596.6" font-size="7.0" text-anchor="end" dominant-baseline="central" fill="#222" textLength="7.67" lengthAdjust="spacingAndGlyphs" stroke="#222" stroke-width="0.07">−5</text>
<line x1="356.3" y1="610.9" x2="358.3" y2="610.9" stroke="#555" stroke-width="0.7"/>
<text x="354.7" y="610.9" font-size="7.0" text-anchor="end" dominant-baseline="central" fill="#222" textLength="10.97" lengthAdjust="spacingAndGlyphs" stroke="#222" stroke-width="0.07">−10</text>
<line x1="356.3" y1="625.2" x2="358.3" y2="625.2" stroke="#555" stroke-width="0.7"/>
<text x="354.7" y="625.2" font-size="7.0" text-anchor="end" dominant-baseline="central" fill="#222" textLength="10.97" lengthAdjust="spacingAndGlyphs" stroke="#222" stroke-width="0.07">−15</text>
<line x1="356.3" y1="639.5" x2="358.3" y2="639.5" stroke="#555" stroke-width="0.7"/>
<text x="354.7" y="639.5" font-size="7.0" text-anchor="end" dominant-baseline="central" fill="#222" textLength="10.97" lengthAdjust="spacingAndGlyphs" stroke="#222" stroke-width="0.07">−20</text>
<line x1="356.3" y1="653.8" x2="358.3" y2="653.8" stroke="#555" stroke-width="0.7"/>
<text x="354.7" y="653.8" font-size="7.0" text-anchor="end" dominant-baseline="central" fill="#222" textLength="10.97" lengthAdjust="spacingAndGlyphs" stroke="#222" stroke-width="0.07">−25</text>
<circle cx="467.7" cy="590.2" r="1.95" fill="#7f57a8"/>
<circle cx="467.7" cy="607" r="1.95" fill="#e8f078"/>
<text x="476.3" y="585.7" font-size="7.08" text-anchor="start" dominant-baseline="central" fill="#222" textLength="20.95" lengthAdjust="spacingAndGlyphs" stroke="#222" stroke-width="0.07">Source</text>
<text x="476.3" y="593.1" font-size="7.08" text-anchor="start" dominant-baseline="central" fill="#222" textLength="23.67" lengthAdjust="spacingAndGlyphs" stroke="#222" stroke-width="0.07">Domain</text>
<text x="476.3" y="602.5" font-size="7.08" text-anchor="start" dominant-baseline="central" fill="#222" textLength="18.87" lengthAdjust="spacingAndGlyphs" stroke="#222" stroke-width="0.07">Target</text>
<text x="476.3" y="609.9" font-size="7.08" text-anchor="start" dominant-baseline="central" fill="#222" textLength="23.67" lengthAdjust="spacingAndGlyphs" stroke="#222" stroke-width="0.07">Domain</text>
<clipPath id="cp1188"><rect x="530.7" y="541" width="96.1" height="111.6"/></clipPath>
<g clip-path="url(#cp1188)">
<path d="M542.9 547.8h0M562.6 546.8h0M599.1 547.5h0M578.3 545.9h0M593.1 545.9h0M600.6 546.7h0M587.4 547.4h0M556.1 546.7h0M535.2 547.8h0M554.0 546.0h0M545.2 548.0h0M536.0 547.2h0M564.9 548.8h0M566.0 545.9h0M575.9 545.9h0M561.9 546.4h0M606.2 548.4h0M557.3 547.7h0M574.3 546.7h0M546.4 546.0h0M543.6 546.4h0M604.7 546.0h0M567.6 547.7h0M572.6 547.4h0M535.6 548.4h0M546.7 546.1h0M575.8 546.3h0M546.5 546.4h0M569.5 545.7h0M560.6 547.0h0M573.4 546.2h0M590.4 546.7h0M579.5 545.8h0M585.6 546.1h0M601.8 547.3h0M540.2 545.9h0M562.2 546.4h0M549.9 546.0h0M596.5 546.6h0M570.7 547.4h0M593.4 548.1h0M567.4 546.9h0M548.5 546.0h0M563.1 546.8h0M546.8 547.4h0M539.1 546.3h0M582.2 546.2h0M550.4 547.0h0M551.4 546.6h0M552.7 546.0h0M603.5 546.6h0M549.7 546.3h0M595.8 545.9h0M567.9 546.0h0M536.4 546.3h0M586.3 546.6h0M560.5 548.4h0M540.1 545.8h0M577.7 546.2h0M545.6 546.6h0M566.3 547.4h0M586.5 546.8h0M546.5 546.6h0M537.5 546.2h0M577.0 546.5h0M566.3 547.7h0M537.3 548.8h0M538.0 546.2h0M581.0 545.8h0M575.8 546.5h0M537.9 546.9h0M557.9 546.2h0M597.6 546.2h0M596.0 545.8h0M552.8 547.0h0M600.5 545.7h0M598.7 546.0h0M535.0 546.1h0M596.6 549.1h0M599.1 546.0h0M542.2 546.3h0M556.3 548.0h0M554.0 546.8h0M557.1 546.5h0M581.1 547.6h0M537.7 547.2h0M558.2 545.7h0M586.8 547.4h0M546.0 546.2h0M597.3 547.8h0M585.1 545.9h0M577.9 548.1h0M583.1 546.3h0M598.6 546.8h0M579.8 547.2h0M592.2 546.4h0M581.0 546.1h0M535.7 547.1h0M592.8 545.8h0M541.1 545.9h0M547.3 545.7h0M556.8 548.2h0M597.8 545.9h0M594.1 548.0h0M593.2 546.5h0M572.1 545.8h0M554.8 546.3h0M583.8 546.5h0M581.0 547.9h0M578.5 546.3h0M584.0 547.4h0M582.4 548.4h0M602.4 546.2h0M552.5 545.9h0M606.8 549.7h0M589.2 546.8h0M556.7 545.8h0M560.8 547.1h0M536.1 546.3h0M566.7 546.8h0M538.9 545.8h0M590.0 546.3h0M592.8 547.1h0M582.0 546.5h0M564.7 547.3h0M535.9 546.5h0M557.8 547.1h0M602.9 546.1h0M571.4 546.5h0M598.9 546.9h0M577.3 547.3h0M578.4 546.6h0M567.8 545.8h0M592.0 547.4h0M538.5 546.7h0M569.9 546.1h0M573.9 546.9h0M564.2 545.9h0M574.5 547.0h0M565.3 546.4h0M571.4 548.0h0M546.3 547.5h0M578.8 545.9h0M559.9 547.2h0M553.0 545.8h0M540.2 545.9h0M562.9 546.0h0M564.7 546.5h0M553.2 547.8h0M583.3 546.9h0M605.6 546.0h0M593.1 547.2h0M551.1 545.9h0M570.9 545.8h0M539.4 546.1h0M581.7 546.9h0M579.6 545.9h0M597.6 547.1h0M572.7 547.4h0M554.7 546.5h0M590.7 547.2h0M537.7 545.9h0M554.9 546.7h0M539.5 546.2h0M601.4 545.8h0M557.6 547.4h0M563.5 546.1h0M564.8 546.4h0M546.2 545.8h0M558.9 545.8h0M584.5 546.5h0M550.3 547.6h0M589.6 546.8h0M604.7 545.8h0M546.8 546.6h0M573.6 548.0h0M546.5 547.6h0M598.0 547.4h0M588.8 548.5h0M554.6 545.9h0M576.8 545.7h0M542.3 547.7h0M541.2 546.8h0M573.8 548.1h0M544.0 546.2h0M560.0 547.0h0M605.8 547.2h0M536.6 546.6h0M569.7 546.1h0M589.7 545.8h0M573.7 545.9h0M592.5 546.9h0M578.7 546.3h0M551.5 545.7h0M588.6 547.8h0M584.1 546.0h0M578.1 546.1h0M600.9 547.2h0M538.6 548.2h0M559.3 546.4h0M584.7 546.3h0M599.6 547.0h0M606.1 546.4h0M576.0 546.3h0M587.3 546.5h0M540.1 546.1h0M550.6 547.5h0M554.4 548.1h0M557.2 545.9h0M592.7 546.7h0M552.4 546.6h0M564.0 545.9h0M540.4 546.1h0M563.1 546.2h0M564.9 547.0h0M537.0 546.1h0M606.5 547.3h0M596.4 545.7h0M569.6 546.1h0M559.9 547.9h0M568.5 545.9h0M589.8 546.7h0M573.4 545.8h0M567.7 546.9h0M587.6 546.5h0M583.7 546.6h0M568.5 547.7h0M558.8 547.2h0M602.4 546.0h0M594.3 545.9h0M551.0 547.1h0M565.2 545.9h0M575.4 545.7h0M573.7 546.9h0M549.1 547.2h0M571.8 546.2h0M578.8 548.0h0M600.3 549.1h0M573.0 547.2h0M545.1 547.6h0M572.8 546.9h0M544.6 547.7h0M569.9 548.9h0M563.3 547.4h0M592.0 546.2h0M591.3 546.3h0M543.2 545.8h0M543.9 546.7h0M575.7 546.5h0M563.9 546.8h0M573.2 546.2h0M601.9 546.3h0M554.2 546.7h0M604.0 545.8h0M573.2 546.1h0M553.1 547.8h0M535.4 547.9h0M556.1 547.3h0M573.2 547.7h0M549.2 547.5h0M566.3 546.8h0M542.1 546.0h0M577.2 546.2h0M582.7 546.1h0M569.8 546.8h0M541.5 545.8h0M537.5 547.1h0M579.9 547.7h0M599.8 547.2h0M593.7 546.5h0M548.6 547.1h0M576.3 546.6h0M600.9 546.9h0M560.9 548.8h0M548.1 546.5h0M547.5 547.1h0M541.3 547.8h0M561.0 546.3h0M546.8 547.5h0M597.9 547.1h0M549.7 546.0h0M577.9 548.9h0M564.0 547.3h0M584.0 547.3h0M564.2 547.2h0M541.8 546.3h0M550.2 545.9h0M565.5 545.7h0M600.4 550.1h0M606.5 546.0h0M582.8 547.1h0M534.8 546.3h0M560.6 546.3h0M588.2 548.6h0M588.0 546.7h0M559.6 547.2h0M556.7 547.3h0M587.0 546.3h0M563.0 547.6h0M553.4 546.3h0M592.7 547.0h0M604.3 547.1h0M604.4 546.3h0M561.4 547.8h0M604.7 546.4h0M560.2 545.9h0M600.3 546.7h0M543.6 548.4h0M555.7 548.2h0M566.4 547.4h0M557.3 546.7h0M588.6 547.1h0M537.4 546.9h0M594.6 546.9h0M567.3 546.2h0M549.6 548.9h0M603.6 547.2h0M555.4 545.9h0M538.9 546.7h0M573.1 547.6h0M553.6 548.0h0M545.2 547.9h0M539.2 546.9h0M558.5 546.5h0M565.3 547.1h0M600.6 546.2h0M538.0 547.2h0M587.3 546.6h0M561.9 546.5h0M599.8 546.8h0M538.6 547.8h0M564.5 548.3h0M594.8 546.1h0M602.2 547.2h0M588.4 546.1h0M588.4 546.9h0M594.6 545.8h0M555.4 546.0h0M590.0 545.9h0M591.8 546.4h0M548.6 549.8h0M575.0 546.6h0M602.2 545.9h0M551.7 547.7h0M572.9 546.4h0M571.7 546.4h0M562.6 547.7h0M578.6 547.7h0M562.6 547.0h0M600.2 545.8h0M605.3 546.9h0M550.0 547.0h0M546.0 546.5h0M580.9 546.4h0M551.4 547.0h0M556.1 546.8h0M586.0 545.9h0M595.5 546.6h0M544.8 546.4h0M559.6 547.6h0M572.1 547.2h0M572.7 546.3h0M559.8 547.5h0M601.2 546.8h0M583.5 546.5h0M556.4 547.2h0M586.9 546.1h0M564.0 547.6h0M599.2 546.5h0M554.0 546.8h0M539.1 546.4h0M584.1 547.5h0M556.4 546.1h0M554.3 546.4h0M606.5 546.9h0M564.3 546.5h0M590.2 548.9h0M586.2 546.1h0M539.1 547.8h0M599.8 546.6h0M584.7 547.0h0M599.0 546.2h0M595.8 547.0h0M581.7 545.9h0M606.9 547.0h0M538.1 549.1h0M577.1 548.8h0M583.7 546.5h0M559.4 546.3h0M606.1 547.1h0M541.7 546.0h0M598.2 548.2h0M592.2 547.5h0M585.4 546.0h0M554.1 546.0h0M583.2 545.9h0M606.6 546.6h0M566.0 547.0h0M539.8 547.4h0M537.5 547.4h0M547.5 548.7h0M558.6 546.4h0M546.3 546.5h0M578.2 546.0h0M563.7 547.9h0M564.3 547.4h0M570.7 546.6h0M546.8 547.1h0M593.3 546.2h0M558.9 545.7h0M548.9 546.7h0M595.8 546.6h0M538.3 546.0h0M588.8 545.7h0M555.3 548.1h0M544.7 546.2h0M554.2 546.4h0M585.5 547.0h0M590.7 546.4h0M597.4 547.4h0M537.4 546.7h0M598.6 546.2h0M535.3 546.0h0M606.1 546.2h0M597.4 546.8h0M578.8 546.6h0M605.1 547.6h0M544.1 545.9h0M560.0 546.3h0M572.4 546.6h0M576.8 547.1h0M597.2 546.3h0M575.2 546.0h0M604.6 545.9h0M593.9 548.7h0M577.7 548.2h0M549.9 546.7h0M588.3 546.7h0M603.8 546.5h0M547.8 546.7h0M599.2 546.1h0M557.4 545.7h0M587.6 546.8h0M585.5 546.6h0M598.2 546.5h0M590.3 546.7h0M573.4 546.9h0M560.4 546.9h0M570.2 548.1h0M557.6 545.7h0M590.7 545.7h0M587.7 547.2h0M537.5 546.4h0M576.7 547.4h0M571.7 547.3h0M597.0 548.1h0M550.9 546.9h0M534.8 545.9h0M547.5 547.5h0M602.7 546.6h0M574.4 548.7h0M601.7 546.3h0M542.0 546.6h0M540.8 546.5h0M564.1 546.6h0M553.0 547.1h0M548.7 548.1h0M546.9 546.7h0M598.1 547.6h0M573.8 546.6h0" stroke="#e2ee3c" stroke-width="1.60" stroke-linecap="round" stroke-opacity="0.8"/>
<path d="M546.6 545.8h0M547.3 548.8h0M546.6 546.3h0M548.2 547.7h0M546.6 548.4h0M548.5 549.4h0M548.8 550.9h0M548.0 547.7h0M548.9 547.1h0M547.1 550.1h0M548.6 546.1h0M547.4 547.0h0M548.0 545.8h0M548.9 552.3h0M548.6 547.4h0M547.7 546.7h0M547.7 548.0h0M548.0 550.1h0M547.7 546.0h0M548.1 545.8h0M547.7 548.8h0M546.8 552.3h0M547.3 548.9h0M548.5 549.0h0M548.9 550.1h0M548.2 545.9h0M548.1 545.7h0M547.3 550.6h0M549.5 545.7h0M547.6 547.2h0M546.2 547.8h0M547.3 545.8h0M563.8 551.5h0M565.3 551.0h0M562.8 546.1h0M565.5 549.3h0M563.4 545.8h0M564.5 547.6h0M566.3 550.3h0M565.3 545.9h0M564.4 548.4h0M564.5 550.3h0M565.9 547.5h0M565.4 550.5h0M565.4 548.5h0M564.5 546.7h0M564.9 545.9h0M564.4 548.4h0M566.0 547.3h0M563.4 546.9h0M564.8 547.1h0M564.1 546.7h0M581.6 549.2h0M584.0 548.4h0M580.1 547.0h0M582.0 546.5h0M582.5 547.4h0M585.0 547.2h0M582.2 547.2h0M580.8 548.3h0M581.9 549.9h0M581.7 547.5h0M583.3 549.7h0M582.9 547.7h0M583.0 545.7h0M584.7 551.8h0M584.0 548.3h0M582.9 545.7h0M582.0 548.4h0M581.1 552.2h0M583.4 548.0h0M582.9 551.3h0M582.3 546.4h0M583.6 548.5h0M582.8 546.1h0M582.6 547.8h0M599.5 546.3h0M597.4 549.7h0M601.2 548.1h0M600.2 548.4h0M598.7 551.4h0M599.4 550.7h0M599.4 549.1h0M599.0 550.4h0M600.8 548.1h0M598.7 546.5h0M598.3 547.9h0M599.7 547.5h0M600.0 547.1h0M600.9 548.6h0M600.7 547.5h0M598.3 550.9h0M599.8 548.7h0M600.4 546.5h0M599.9 549.2h0M598.6 546.7h0M599.9 549.2h0M599.5 547.8h0M599.9 546.0h0M598.9 547.5h0M620.3 546.0h0M620.4 548.3h0M619.5 548.7h0M619.4 548.1h0M619.3 548.0h0M618.3 550.6h0M619.1 547.7h0M619.4 548.0h0M620.0 546.2h0M619.9 548.0h0M619.6 549.7h0M618.6 546.2h0M619.8 547.7h0M619.5 545.7h0M617.8 546.1h0M618.0 546.3h0M617.1 550.5h0M621.0 547.4h0M618.4 546.2h0M620.0 548.1h0M618.6 549.7h0M619.9 547.7h0M618.9 546.1h0M618.6 546.6h0M618.6 549.6h0M619.2 546.7h0" stroke="#440154" stroke-width="1.60" stroke-linecap="round" stroke-opacity="0.8"/>
<path d="M611.6 553.0h0M611.6 551.8h0M614.2 553.6h0M613.8 555.5h0M612.5 548.4h0M614.2 554.0h0M614.1 554.4h0M613.6 548.8h0M611.7 550.6h0M611.9 549.7h0M611.6 553.8h0M612.1 555.7h0M611.8 550.0h0M612.2 555.8h0M611.9 555.1h0M611.5 552.3h0M614.3 551.6h0M612.8 548.3h0M611.9 549.5h0M612.6 556.3h0M612.0 549.2h0M612.9 548.2h0M614.3 551.3h0M612.6 556.3h0M612.0 549.3h0M536.3 562.8h0M536.7 609.2h0M535.6 581.5h0M537.3 613.9h0M536.0 612.1h0M535.1 576.4h0M535.9 597.1h0M537.3 626.2h0M535.4 623.3h0M534.8 588.3h0M535.7 577.4h0M535.3 617.7h0M537.0 623.5h0M536.4 623.4h0M537.6 561.8h0M534.9 558.0h0M536.4 573.0h0M537.3 594.0h0M536.1 602.7h0M536.6 624.9h0M554.3 557.7h0M554.4 559.3h0M552.1 558.4h0M552.5 558.9h0M551.6 564.3h0M554.1 565.7h0M555.2 556.4h0M553.5 564.4h0M552.2 566.0h0M554.7 554.5h0M550.8 567.1h0M552.8 554.3h0M570.1 570.9h0M570.9 568.8h0M570.4 564.9h0M569.8 572.8h0M571.2 558.8h0M570.1 570.5h0M570.2 572.9h0M569.7 569.0h0M606.6 594.6h0M606.2 568.3h0M607.7 577.0h0M606.0 575.9h0M607.1 615.5h0M608.9 606.6h0M606.7 609.9h0M607.8 622.8h0M607.5 615.8h0M606.0 640.2h0M608.7 569.3h0M606.6 580.2h0M607.1 613.9h0M606.6 615.6h0M606.9 632.9h0M608.7 607.9h0M606.3 608.9h0M607.4 581.4h0M606.2 601.8h0M608.5 576.1h0M606.1 612.8h0M608.2 614.9h0M622.7 617.4h0M621.4 631.7h0M622.6 615.0h0M620.5 617.4h0M620.9 608.8h0M623.8 567.2h0M623.4 576.2h0M623.7 624.5h0M622.1 577.4h0M623.8 590.7h0M620.7 610.8h0M620.9 578.9h0M623.3 607.1h0M620.2 566.9h0M623.6 566.4h0M623.0 561.8h0M621.2 627.8h0M623.4 575.2h0M613.3 557.9h0M612.3 562.5h0M617.7 555.2h0M612.8 557.4h0M616.1 558.6h0M614.8 557.1h0M611.9 554.2h0M615.5 559.2h0M613.4 561.3h0M615.5 562.1h0" stroke="#e2ee3c" stroke-width="1.60" stroke-linecap="round" stroke-opacity="0.8"/>
<path d="M545.5 568.1h0M545.5 591.6h0M545.2 605.8h0M545.2 643.5h0M547.0 630.3h0M546.2 641.5h0M564.0 592.6h0M580.9 561.0h0M581.7 568.1h0M580.9 573.2h0M580.9 577.3h0M581.7 616.0h0M582.1 620.1h0M582.1 623.1h0M597.8 593.6h0M617.1 562.0h0M617.9 570.2h0M617.1 574.2h0M617.1 584.4h0M616.8 588.5h0M617.1 590.5h0M616.8 596.6h0M617.1 618.0h0M617.9 620.1h0M617.6 621.1h0M616.3 647.6h0M564.0 553.9h0M547.8 555.9h0M548.3 558.9h0M580.9 550.8h0M564.7 555.9h0" stroke="#440154" stroke-width="1.60" stroke-linecap="round" stroke-opacity="0.8"/>
</g>
<rect x="530.7" y="541" width="96.1" height="111.6" fill="none" stroke="#d8d8d8" stroke-width="0.9"/>
<text x="578.75" y="535.2" font-size="8.53" text-anchor="middle" dominant-baseline="central" fill="#222" textLength="80.35" lengthAdjust="spacingAndGlyphs" stroke="#222" stroke-width="0.07">Scores of SCAD (bulk)</text>
<line x1="534.7" y1="652.6" x2="534.7" y2="654.6" stroke="#555" stroke-width="0.7"/>
<text x="534.7" y="659" font-size="7.0" text-anchor="middle" dominant-baseline="central" fill="#222" textLength="3.31" lengthAdjust="spacingAndGlyphs" stroke="#222" stroke-width="0.07">0</text>
<line x1="565.5" y1="652.6" x2="565.5" y2="654.6" stroke="#555" stroke-width="0.7"/>
<text x="565.5" y="659" font-size="7.0" text-anchor="middle" dominant-baseline="central" fill="#222" textLength="9.93" lengthAdjust="spacingAndGlyphs" stroke="#222" stroke-width="0.07">200</text>
<line x1="596.3" y1="652.6" x2="596.3" y2="654.6" stroke="#555" stroke-width="0.7"/>
<text x="596.3" y="659" font-size="7.0" text-anchor="middle" dominant-baseline="central" fill="#222" textLength="9.93" lengthAdjust="spacingAndGlyphs" stroke="#222" stroke-width="0.07">400</text>
<line x1="528.7" y1="545.7" x2="530.7" y2="545.7" stroke="#555" stroke-width="0.7"/>
<text x="527.1" y="545.7" font-size="7.0" text-anchor="end" dominant-baseline="central" fill="#222" textLength="8.27" lengthAdjust="spacingAndGlyphs" stroke="#222" stroke-width="0.07">1.0</text>
<line x1="528.7" y1="566.08" x2="530.7" y2="566.08" stroke="#555" stroke-width="0.7"/>
<text x="527.1" y="566.08" font-size="7.0" text-anchor="end" dominant-baseline="central" fill="#222" textLength="8.27" lengthAdjust="spacingAndGlyphs" stroke="#222" stroke-width="0.07">0.8</text>
<line x1="528.7" y1="586.46" x2="530.7" y2="586.46" stroke="#555" stroke-width="0.7"/>
<text x="527.1" y="586.46" font-size="7.0" text-anchor="end" dominant-baseline="central" fill="#222" textLength="8.27" lengthAdjust="spacingAndGlyphs" stroke="#222" stroke-width="0.07">0.6</text>
<line x1="528.7" y1="606.84" x2="530.7" y2="606.84" stroke="#555" stroke-width="0.7"/>
<text x="527.1" y="606.84" font-size="7.0" text-anchor="end" dominant-baseline="central" fill="#222" textLength="8.27" lengthAdjust="spacingAndGlyphs" stroke="#222" stroke-width="0.07">0.4</text>
<line x1="528.7" y1="627.22" x2="530.7" y2="627.22" stroke="#555" stroke-width="0.7"/>
<text x="527.1" y="627.22" font-size="7.0" text-anchor="end" dominant-baseline="central" fill="#222" textLength="8.27" lengthAdjust="spacingAndGlyphs" stroke="#222" stroke-width="0.07">0.2</text>
<line x1="528.7" y1="647.6" x2="530.7" y2="647.6" stroke="#555" stroke-width="0.7"/>
<text x="527.1" y="647.6" font-size="7.0" text-anchor="end" dominant-baseline="central" fill="#222" textLength="8.27" lengthAdjust="spacingAndGlyphs" stroke="#222" stroke-width="0.07">0.0</text>
<circle cx="639.8" cy="590.9" r="1.95" fill="#440154"/>
<circle cx="639.8" cy="600.9" r="1.95" fill="#e2ee3c"/>
<text x="650.8" y="591.2" font-size="7.08" text-anchor="start" dominant-baseline="central" fill="#222" textLength="28.16" lengthAdjust="spacingAndGlyphs" stroke="#222" stroke-width="0.07">Resistant</text>
<text x="650.8" y="601.2" font-size="7.08" text-anchor="start" dominant-baseline="central" fill="#222" textLength="27.81" lengthAdjust="spacingAndGlyphs" stroke="#222" stroke-width="0.07">Sensitive</text>
<clipPath id="cp1219"><rect x="16.3" y="686.3" width="96.2" height="112.4"/></clipPath>
<g clip-path="url(#cp1219)">
<path d="M22.4 726.5h0M22.8 731.0h0M22.7 732.4h0M22.8 730.8h0M21.6 731.8h0M22.7 728.9h0M22.1 730.3h0M23.3 734.4h0M22.2 731.5h0M22.5 731.8h0M22.9 728.1h0M23.0 728.1h0M23.4 732.0h0M22.9 731.4h0M23.2 731.4h0M22.6 726.4h0M22.6 734.3h0M22.8 729.8h0M22.4 730.4h0M23.4 731.8h0M22.6 732.2h0M23.0 730.8h0M52.8 787.2h0M56.5 792.5h0M52.2 785.5h0M52.2 779.9h0M52.0 791.1h0M53.3 782.9h0M55.1 784.7h0M54.4 782.2h0M51.6 785.7h0M56.0 790.3h0M54.5 782.4h0M55.7 787.1h0M56.5 784.9h0M55.5 790.3h0M53.0 789.2h0M56.4 794.6h0M51.6 783.9h0M53.5 787.7h0M55.7 793.1h0M53.3 783.0h0M55.1 789.7h0M53.7 791.6h0M55.9 788.1h0M55.7 783.9h0M52.9 787.1h0M54.9 785.1h0M56.1 782.8h0M54.5 784.2h0M53.1 788.6h0M54.9 785.4h0M52.6 786.9h0M53.0 788.5h0M55.8 789.8h0M53.2 784.6h0M54.2 786.0h0M52.1 786.7h0M53.6 789.3h0M53.3 787.6h0M55.2 780.2h0M54.2 781.5h0M54.2 791.6h0M54.1 782.2h0M55.9 789.5h0M57.0 789.0h0M53.1 788.3h0M56.0 785.2h0M55.3 794.1h0M54.0 786.9h0M55.0 788.1h0M55.7 788.9h0M52.2 792.1h0M55.8 783.9h0M53.0 782.8h0M53.9 786.9h0M52.1 788.4h0M60.1 760.7h0M61.4 769.1h0M55.1 769.1h0M57.3 774.7h0" stroke="#7f57a8" stroke-width="1.60" stroke-linecap="round" stroke-opacity="0.8"/>
<path d="M35.3 759.0h0M34.9 754.2h0M36.7 766.5h0M34.2 765.6h0M34.8 763.8h0M34.8 758.2h0M35.5 755.1h0M33.2 758.4h0M35.5 760.4h0M35.2 760.8h0M34.1 754.6h0M35.9 756.5h0M36.9 764.6h0M33.2 758.5h0M32.0 763.9h0M38.2 763.0h0M36.2 760.2h0M35.7 755.8h0M34.9 759.6h0M33.2 767.2h0M33.0 759.5h0M38.4 762.5h0M36.9 759.6h0M36.1 753.2h0M33.3 763.3h0M37.1 757.3h0M35.5 758.4h0M38.0 757.2h0M37.5 755.5h0M37.4 753.2h0M33.4 751.9h0M35.6 759.8h0M33.7 751.8h0M33.7 762.0h0M33.7 758.1h0M34.3 762.6h0M33.8 755.1h0M36.6 752.5h0M34.9 755.5h0M37.8 765.3h0M37.0 761.3h0M36.5 754.1h0M32.7 758.2h0M31.8 754.2h0M36.4 763.2h0M35.7 764.3h0M36.8 763.2h0M35.6 752.4h0M35.5 757.4h0M35.8 757.3h0M34.1 763.6h0M35.9 758.6h0M35.4 761.2h0M37.4 767.3h0M35.4 759.0h0M32.0 759.9h0M36.7 759.1h0M33.8 765.0h0M34.7 757.6h0M37.1 757.3h0M36.6 757.5h0M35.7 772.2h0M36.3 763.8h0M36.0 760.1h0M32.4 759.1h0M35.6 761.2h0M35.9 762.8h0M38.4 766.8h0M37.9 768.2h0M36.9 757.3h0M31.8 758.4h0M36.7 756.8h0M37.8 761.7h0M35.7 766.4h0M35.5 753.2h0M33.8 758.4h0M31.8 754.6h0M32.5 753.2h0M37.8 762.8h0M34.9 761.1h0M34.9 764.7h0M36.1 750.7h0M32.2 757.1h0M33.6 750.9h0M33.4 762.8h0M33.8 751.8h0M36.8 758.7h0M35.6 756.1h0M37.8 761.1h0M30.4 760.9h0M32.6 753.9h0M31.3 758.3h0M34.2 762.3h0M33.6 752.2h0M36.4 758.2h0M37.8 757.4h0M34.6 759.8h0M31.6 754.7h0M34.8 754.0h0M37.3 756.5h0M37.8 758.7h0M35.9 760.5h0M34.2 758.2h0M33.5 755.1h0M32.8 765.8h0M33.7 758.9h0M36.5 765.4h0M33.0 754.1h0M38.0 757.0h0M32.8 757.0h0M35.4 753.0h0M36.0 761.4h0M35.7 762.7h0M34.4 758.8h0M33.7 758.6h0M35.6 759.6h0M38.1 761.0h0M32.7 766.3h0M31.8 756.4h0M32.9 762.5h0M34.2 757.8h0M33.5 757.8h0M34.0 761.3h0M33.2 757.1h0M34.3 763.6h0M30.4 756.2h0M34.2 766.2h0M35.8 764.1h0M34.3 762.2h0M35.8 760.9h0M33.6 766.8h0M34.4 767.1h0M34.6 756.6h0M34.8 757.1h0M35.1 759.5h0M34.2 753.5h0M36.2 764.5h0M33.4 755.9h0M33.5 756.5h0M36.7 759.6h0M37.7 762.3h0M32.2 758.9h0M37.3 754.7h0M33.3 761.2h0M37.0 764.0h0M36.9 757.9h0M32.7 757.5h0M34.2 755.9h0M35.4 762.9h0M34.1 766.8h0M35.6 759.3h0M33.4 764.0h0M33.6 762.5h0M36.9 764.7h0M34.3 759.0h0M35.7 760.7h0M34.8 764.0h0M36.1 764.3h0M36.2 760.8h0M36.5 762.8h0M31.2 758.6h0M35.5 754.1h0M34.0 757.9h0M36.3 764.9h0M35.5 759.3h0M33.9 756.8h0M37.4 759.1h0M35.0 761.3h0M32.6 760.3h0M33.2 763.3h0M34.4 758.9h0M31.6 758.6h0M36.4 764.9h0M34.4 760.3h0M37.2 757.9h0M36.7 760.3h0M34.6 764.9h0M36.4 765.1h0M32.9 757.8h0M33.7 755.6h0M37.1 757.4h0M34.0 761.0h0M33.2 762.3h0M35.2 750.6h0M33.0 758.5h0M36.0 760.4h0M35.2 764.4h0M34.1 751.8h0M33.5 757.6h0M33.4 765.9h0M33.8 760.8h0M35.3 761.9h0M31.6 750.0h0M33.0 759.2h0M35.5 756.2h0M32.7 758.7h0M36.4 759.9h0M36.2 760.4h0M33.9 760.2h0M34.7 754.9h0M44.9 744.6h0M55.1 741.6h0M98.6 699.8h0M105.9 686.9h0M43.7 750.0h0M58.5 738.6h0M96.1 702.9h0M42.7 746.9h0M51.8 740.9h0M59.5 744.5h0M45.8 747.6h0M90.6 704.5h0M76.9 725.0h0M41.7 747.7h0M79.3 724.1h0M88.2 710.6h0M75.5 726.1h0M96.3 701.0h0M104.6 695.2h0M91.6 706.8h0M41.7 752.7h0M79.3 722.8h0M42.6 750.5h0M92.0 709.9h0M62.5 736.9h0M89.4 710.0h0M100.6 697.7h0M76.1 721.7h0M60.4 736.6h0M85.5 715.3h0M102.6 693.7h0M40.1 747.7h0M66.2 734.9h0M84.6 715.6h0M80.3 716.3h0M97.2 700.2h0M42.5 749.9h0M39.1 755.9h0M101.1 696.0h0M88.9 711.2h0M46.3 750.7h0M90.1 708.8h0M103.1 689.1h0M71.8 730.9h0M71.6 732.0h0M50.4 745.6h0M98.5 699.0h0M38.3 753.4h0M41.1 750.6h0M95.3 703.6h0M56.8 740.6h0M48.1 747.1h0M101.0 700.1h0M46.3 750.2h0M97.6 698.7h0M63.7 734.1h0M106.1 690.7h0M66.3 730.9h0M69.8 732.2h0M86.4 709.0h0M62.8 743.2h0M32.6 750.2h0" stroke="#e8f078" stroke-width="1.60" stroke-linecap="round" stroke-opacity="0.8"/>
</g>
<rect x="24.4" y="687.4" width="80" height="7.2" fill="#fff" fill-opacity="0.8"/>
<text x="64.4" y="691" font-size="7.38" text-anchor="middle" dominant-baseline="central" fill="#e62a2a" textLength="79.11" lengthAdjust="spacingAndGlyphs" stroke="#e62a2a" stroke-width="0.07">Euclidean Distance: 0.86</text>
<rect x="16.3" y="686.3" width="96.2" height="112.4" fill="none" stroke="#d8d8d8" stroke-width="0.9"/>
<text x="64.4" y="681" font-size="8.53" text-anchor="middle" dominant-baseline="central" fill="#222" textLength="84.57" lengthAdjust="spacingAndGlyphs" stroke="#222" stroke-width="0.07">Embeddings of scDEAL</text>
<line x1="38.1" y1="798.7" x2="38.1" y2="800.7" stroke="#555" stroke-width="0.7"/>
<text x="38.1" y="805.1" font-size="7.0" text-anchor="middle" dominant-baseline="central" fill="#222" textLength="3.31" lengthAdjust="spacingAndGlyphs" stroke="#222" stroke-width="0.07">0</text>
<line x1="65.55" y1="798.7" x2="65.55" y2="800.7" stroke="#555" stroke-width="0.7"/>
<text x="65.55" y="805.1" font-size="7.0" text-anchor="middle" dominant-baseline="central" fill="#222" textLength="9.93" lengthAdjust="spacingAndGlyphs" stroke="#222" stroke-width="0.07">100</text>
<line x1="93" y1="798.7" x2="93" y2="800.7" stroke="#555" stroke-width="0.7"/>
<text x="93" y="805.1" font-size="7.0" text-anchor="middle" dominant-baseline="central" fill="#222" textLength="9.93" lengthAdjust="spacingAndGlyphs" stroke="#222" stroke-width="0.07">200</text>
<line x1="14.3" y1="687.06" x2="16.3" y2="687.06" stroke="#555" stroke-width="0.7"/>
<text x="12.7" y="687.06" font-size="7.0" text-anchor="end" dominant-baseline="central" fill="#222" textLength="9.93" lengthAdjust="spacingAndGlyphs" stroke="#222" stroke-width="0.07">100</text>
<line x1="14.3" y1="701.09" x2="16.3" y2="701.09" stroke="#555" stroke-width="0.7"/>
<text x="12.7" y="701.09" font-size="7.0" text-anchor="end" dominant-baseline="central" fill="#222" textLength="6.62" lengthAdjust="spacingAndGlyphs" stroke="#222" stroke-width="0.07">80</text>
<line x1="14.3" y1="715.12" x2="16.3" y2="715.12" stroke="#555" stroke-width="0.7"/>
<text x="12.7" y="715.12" font-size="7.0" text-anchor="end" dominant-baseline="central" fill="#222" textLength="6.62" lengthAdjust="spacingAndGlyphs" stroke="#222" stroke-width="0.07">60</text>
<line x1="14.3" y1="729.14" x2="16.3" y2="729.14" stroke="#555" stroke-width="0.7"/>
<text x="12.7" y="729.14" font-size="7.0" text-anchor="end" dominant-baseline="central" fill="#222" textLength="6.62" lengthAdjust="spacingAndGlyphs" stroke="#222" stroke-width="0.07">40</text>
<line x1="14.3" y1="743.17" x2="16.3" y2="743.17" stroke="#555" stroke-width="0.7"/>
<text x="12.7" y="743.17" font-size="7.0" text-anchor="end" dominant-baseline="central" fill="#222" textLength="6.62" lengthAdjust="spacingAndGlyphs" stroke="#222" stroke-width="0.07">20</text>
<line x1="14.3" y1="757.2" x2="16.3" y2="757.2" stroke="#555" stroke-width="0.7"/>
<text x="12.7" y="757.2" font-size="7.0" text-anchor="end" dominant-baseline="central" fill="#222" textLength="3.31" lengthAdjust="spacingAndGlyphs" stroke="#222" stroke-width="0.07">0</text>
<line x1="14.3" y1="771.23" x2="16.3" y2="771.23" stroke="#555" stroke-width="0.7"/>
<text x="12.7" y="771.23" font-size="7.0" text-anchor="end" dominant-baseline="central" fill="#222" textLength="10.97" lengthAdjust="spacingAndGlyphs" stroke="#222" stroke-width="0.07">−20</text>
<line x1="14.3" y1="785.26" x2="16.3" y2="785.26" stroke="#555" stroke-width="0.7"/>
<text x="12.7" y="785.26" font-size="7.0" text-anchor="end" dominant-baseline="central" fill="#222" textLength="10.97" lengthAdjust="spacingAndGlyphs" stroke="#222" stroke-width="0.07">−40</text>
<circle cx="124.8" cy="734.9" r="1.95" fill="#7f57a8"/>
<circle cx="124.8" cy="752" r="1.95" fill="#e8f078"/>
<text x="134" y="730.4" font-size="7.08" text-anchor="start" dominant-baseline="central" fill="#222" textLength="20.95" lengthAdjust="spacingAndGlyphs" stroke="#222" stroke-width="0.07">Source</text>
<text x="134" y="737.8" font-size="7.08" text-anchor="start" dominant-baseline="central" fill="#222" textLength="23.67" lengthAdjust="spacingAndGlyphs" stroke="#222" stroke-width="0.07">Domain</text>
<text x="134" y="747.5" font-size="7.08" text-anchor="start" dominant-baseline="central" fill="#222" textLength="18.87" lengthAdjust="spacingAndGlyphs" stroke="#222" stroke-width="0.07">Target</text>
<text x="134" y="754.9" font-size="7.08" text-anchor="start" dominant-baseline="central" fill="#222" textLength="23.67" lengthAdjust="spacingAndGlyphs" stroke="#222" stroke-width="0.07">Domain</text>
<clipPath id="cp1256"><rect x="186.3" y="688.4" width="97.2" height="112.2"/></clipPath>
<g clip-path="url(#cp1256)">
<path d="M195.5 695.4h0M200.6 694.5h0M196.0 696.8h0M200.2 696.1h0M192.7 695.0h0M200.3 694.9h0M196.0 694.8h0M197.4 694.6h0M193.9 695.0h0M195.3 695.5h0M195.3 695.7h0M196.6 695.8h0M198.8 694.7h0M192.9 696.5h0M201.9 695.9h0M195.7 695.6h0M198.7 695.3h0M194.6 694.9h0M195.0 695.9h0M202.5 694.6h0M198.5 694.8h0M194.2 696.7h0M196.7 694.5h0M195.6 694.5h0M192.5 694.8h0M201.7 694.6h0M203.1 697.7h0M198.7 694.7h0M202.7 694.7h0M197.7 694.2h0M198.8 695.3h0M197.9 695.5h0M192.4 694.7h0M192.6 694.3h0M201.7 694.8h0M197.4 695.2h0M196.5 694.8h0M201.8 696.0h0M194.8 694.6h0M195.9 694.8h0M196.2 695.2h0M194.1 694.2h0M198.2 695.1h0M203.0 694.4h0M200.4 694.5h0M198.5 694.3h0M193.6 694.9h0M199.3 694.6h0M201.0 695.7h0M193.3 694.4h0M201.6 703.0h0M197.8 701.5h0M192.8 698.7h0M202.1 706.5h0M194.0 699.1h0M197.0 707.1h0M202.0 699.2h0M195.5 701.8h0M199.4 705.1h0M197.9 704.8h0M200.7 706.7h0M196.4 708.8h0M198.0 708.7h0M195.2 700.2h0M197.4 705.3h0M196.8 708.0h0M194.2 698.2h0M193.0 699.9h0M199.5 701.7h0M199.9 707.8h0M200.4 741.1h0M197.0 747.1h0M199.1 706.4h0M201.0 716.0h0M210.1 718.8h0M203.7 731.8h0M196.0 710.8h0M200.8 720.4h0M213.1 728.3h0M200.5 711.4h0M193.9 718.0h0M198.7 721.1h0M196.9 710.6h0M203.2 753.8h0M211.4 741.0h0M193.9 713.1h0M193.6 748.7h0M196.3 737.5h0M215.7 756.2h0M216.0 744.8h0M201.9 716.1h0M212.6 753.0h0M208.6 735.0h0M193.6 704.5h0M201.7 721.4h0M210.0 746.7h0M198.6 738.4h0M213.4 713.5h0M207.7 740.9h0M199.3 740.3h0M201.1 734.3h0M201.5 741.2h0M210.2 711.2h0M213.2 751.7h0M205.9 750.5h0M213.3 731.8h0M191.8 714.8h0M208.2 753.7h0M212.8 756.8h0M213.7 704.4h0M202.5 726.7h0M201.2 733.5h0M212.1 716.1h0M201.7 713.6h0M199.5 716.3h0M199.3 713.7h0M198.1 731.4h0M196.0 756.3h0M201.7 755.8h0M195.0 739.1h0M210.4 739.7h0M192.5 736.5h0M202.0 746.3h0M199.9 733.7h0M204.3 726.3h0M219.2 784.0h0M207.3 768.2h0M203.0 756.3h0M211.5 776.3h0M202.4 753.6h0M203.1 763.6h0M212.3 784.2h0M210.5 785.6h0M216.0 781.7h0M199.1 746.3h0M207.2 779.9h0M203.8 753.2h0M216.6 790.3h0M213.0 784.0h0M213.7 783.1h0M216.4 788.5h0M210.0 769.3h0M206.0 760.2h0M213.3 786.8h0M203.2 753.4h0M216.0 783.2h0M208.1 772.6h0M204.8 760.5h0M213.4 785.7h0M203.2 759.6h0M210.1 771.7h0M199.3 753.1h0M216.1 789.0h0M207.2 769.2h0M219.3 792.8h0M215.0 785.3h0M209.3 782.2h0M211.1 778.0h0M208.0 762.3h0M213.8 782.2h0M205.4 760.4h0M204.1 758.2h0M207.2 772.8h0M212.2 787.7h0M206.6 754.6h0M216.9 786.8h0M213.7 780.3h0M202.5 756.3h0M211.0 773.7h0M205.7 757.5h0M207.4 755.0h0M209.9 766.8h0M213.1 777.3h0M208.5 772.0h0M200.6 752.2h0M214.6 790.6h0M202.8 755.4h0M211.5 775.0h0M205.7 769.9h0M204.4 764.2h0M206.9 762.9h0M206.3 759.4h0M209.7 779.7h0M218.9 787.5h0M202.7 757.2h0M201.1 756.5h0M220.6 788.7h0M205.2 754.5h0M201.7 753.2h0M207.8 769.3h0M214.8 783.6h0M206.3 767.5h0M221.1 789.9h0M208.1 765.9h0M204.8 767.7h0M231.2 790.9h0M228.2 787.7h0M234.4 782.4h0M231.4 794.7h0M237.1 783.9h0M219.8 785.2h0M234.0 789.9h0M233.8 786.1h0M237.1 783.0h0M232.4 787.7h0M230.4 789.2h0M238.5 783.2h0M222.2 782.7h0M227.3 783.2h0M230.4 784.8h0M226.7 787.2h0M232.7 787.3h0M238.7 789.5h0M230.0 793.1h0M231.4 789.7h0M239.4 785.0h0M226.9 785.9h0M242.7 788.6h0M236.8 784.8h0M234.9 795.4h0M236.3 786.1h0M226.4 791.2h0M231.2 788.6h0M244.8 788.7h0M231.3 788.4h0M220.1 789.7h0M222.0 787.2h0M215.5 792.3h0M234.5 796.3h0M220.4 783.7h0M222.2 787.7h0M234.9 792.0h0M219.4 781.5h0M228.2 785.6h0M226.6 786.2h0M222.3 793.3h0M224.4 790.3h0M227.6 789.1h0M235.9 789.9h0M239.8 790.4h0M237.6 782.4h0M246.0 795.8h0M245.9 794.9h0M243.5 787.8h0M235.2 791.6h0M239.8 784.9h0M228.2 790.2h0M239.2 783.5h0M238.5 789.3h0M232.5 783.9h0M239.0 783.1h0M233.6 790.6h0M234.8 785.9h0M228.4 785.9h0M226.0 786.7h0M227.8 779.1h0M241.8 786.6h0M222.3 792.7h0M237.9 788.3h0M234.9 794.1h0M220.9 787.2h0M230.9 793.1h0M226.3 784.5h0M229.2 785.4h0M245.3 786.3h0M233.5 790.1h0M242.0 793.6h0M224.0 787.8h0M221.1 783.7h0M227.7 785.5h0M230.1 788.7h0M232.6 795.7h0M224.1 789.6h0M249.7 784.4h0M238.1 791.9h0M239.4 782.6h0M222.1 792.1h0M230.5 791.7h0M232.9 785.6h0M232.4 787.3h0M235.7 784.6h0M227.4 790.4h0M241.8 789.1h0M226.1 786.6h0M229.8 787.2h0M232.0 785.1h0M239.6 791.1h0M223.1 781.2h0M227.2 794.0h0M217.8 787.9h0M227.5 795.2h0M225.1 792.0h0M240.2 786.8h0M232.4 792.9h0M231.1 785.0h0M233.7 783.4h0M233.1 784.9h0M236.0 790.0h0M242.8 786.3h0M238.8 792.1h0M224.0 788.5h0M226.2 785.2h0M235.6 782.8h0M237.0 792.3h0M239.8 790.4h0M226.8 787.5h0M232.4 783.5h0M243.7 788.6h0M235.1 789.8h0M229.2 782.3h0M236.0 785.9h0M226.3 780.8h0M231.1 790.4h0M232.3 785.0h0M238.3 781.8h0M224.2 789.5h0M244.5 778.5h0M227.6 788.1h0M220.5 791.1h0M225.6 788.1h0M223.3 784.0h0M232.0 788.8h0M239.6 788.8h0M222.9 787.6h0M249.3 787.3h0M236.5 788.5h0M230.8 785.7h0M227.9 788.8h0M237.4 786.1h0M237.8 781.6h0M224.9 789.7h0M233.7 786.5h0M217.8 786.0h0M220.2 784.6h0M239.0 796.9h0M236.4 786.9h0M227.7 783.9h0M248.0 785.7h0M224.0 793.6h0M223.4 791.9h0M241.1 786.6h0M232.3 784.2h0M232.6 787.6h0M226.0 790.3h0M232.7 792.5h0M220.6 778.5h0M209.6 774.1h0M213.3 769.4h0M217.5 783.0h0M218.5 778.1h0M216.9 791.1h0M210.9 769.3h0M207.3 773.9h0M219.9 769.6h0M209.1 789.3h0M212.2 791.1h0M215.6 774.7h0M216.5 770.1h0M211.5 792.3h0M209.5 770.2h0M209.1 789.8h0M216.6 776.0h0M219.8 770.5h0M219.2 768.0h0M207.2 766.7h0M210.7 790.2h0M219.6 784.6h0M209.0 777.2h0M218.5 783.9h0M218.9 766.2h0M214.5 786.4h0M211.2 788.1h0M213.2 781.9h0M211.1 781.7h0M210.7 769.2h0M219.8 780.8h0M208.6 784.7h0M216.5 765.9h0M217.5 790.9h0M211.9 790.9h0M214.8 781.9h0M213.2 784.9h0M208.3 771.3h0M211.8 790.8h0M209.8 791.4h0M219.2 788.0h0M220.1 766.1h0M208.7 771.1h0M210.0 773.2h0M220.5 780.0h0M220.7 762.2h0M231.7 777.0h0M229.8 767.6h0M226.2 772.4h0M240.5 762.2h0M226.2 765.6h0M232.2 754.7h0M227.3 756.7h0M219.2 759.7h0M234.3 785.2h0M232.7 783.0h0M240.1 765.9h0M218.9 759.6h0M222.4 783.2h0M230.4 757.2h0M234.7 757.1h0M234.6 771.9h0M220.8 773.6h0M238.0 784.8h0M216.9 753.0h0M215.0 765.9h0M239.7 767.1h0M235.5 784.6h0M235.3 763.7h0M232.4 775.8h0M231.8 758.5h0M238.3 782.9h0M239.5 760.3h0M230.0 759.5h0M235.6 766.0h0M238.7 754.6h0M237.3 777.8h0M225.5 752.9h0M230.5 779.6h0M237.2 779.4h0M241.6 718.2h0M241.2 732.3h0M239.4 732.6h0M216.9 714.3h0M240.8 707.5h0M218.5 722.4h0M233.4 732.2h0M235.1 729.7h0M238.9 722.2h0M226.7 724.6h0M226.3 725.3h0M234.2 731.6h0M267.7 715.1h0M273.0 704.3h0M267.7 710.0h0M271.2 707.1h0M271.5 747.9h0M275.5 742.7h0M277.3 722.5h0M278.0 715.4h0M273.1 719.7h0M268.1 749.2h0M270.6 724.9h0M278.6 754.6h0M270.7 749.8h0M277.6 703.0h0M274.3 742.2h0M277.7 735.6h0M275.1 708.3h0M271.6 742.5h0M268.3 701.0h0M267.9 706.8h0M279.1 730.6h0M269.1 714.6h0M269.9 729.4h0M271.6 712.3h0M276.7 718.7h0M273.8 711.5h0M269.7 743.2h0M269.6 743.9h0M273.1 746.7h0M278.9 751.0h0M279.0 708.4h0M274.3 724.1h0M277.3 735.8h0M277.5 729.7h0M277.4 724.7h0M279.6 718.9h0M275.4 741.4h0M279.8 751.4h0M267.8 734.2h0M279.6 739.8h0M268.3 736.3h0M276.9 708.6h0M268.4 730.6h0M272.8 745.0h0M269.3 736.2h0M272.2 719.5h0M275.6 719.0h0M272.7 744.9h0M268.8 747.1h0M276.6 743.9h0M273.3 740.7h0M270.7 711.3h0M277.2 723.5h0M275.2 717.7h0M277.3 755.1h0M272.7 702.4h0M267.1 699.3h0M275.3 706.6h0M271.0 710.4h0M274.5 703.6h0M274.2 695.7h0M266.9 708.0h0M271.3 699.6h0M272.9 709.1h0M274.3 702.3h0M278.6 703.1h0M272.3 706.9h0M271.2 701.9h0M276.2 705.5h0M273.2 697.4h0M274.0 701.8h0M270.3 707.4h0M267.1 711.2h0M274.8 698.1h0M272.8 710.4h0M273.9 698.6h0M273.1 699.7h0M273.5 710.6h0M270.9 705.6h0M280.7 701.4h0" stroke="#e2ee3c" stroke-width="1.60" stroke-linecap="round" stroke-opacity="0.8"/>
<path d="M248.1 738.6h0M249.5 741.9h0M248.5 741.1h0M251.1 732.8h0M252.9 741.4h0M250.6 743.2h0M245.5 739.6h0M250.7 740.2h0M251.4 736.2h0M251.2 740.6h0M244.7 731.7h0M247.4 736.6h0M250.4 741.5h0M254.5 736.9h0M248.8 741.8h0M245.9 745.6h0M250.6 741.9h0M247.5 737.6h0M247.8 737.0h0M246.9 742.3h0M251.7 743.0h0M250.7 737.6h0M248.9 747.4h0M244.8 744.9h0M244.9 736.0h0M246.2 745.5h0M247.3 740.4h0M243.7 737.2h0M251.1 742.6h0M251.3 746.9h0M247.2 740.7h0M249.1 734.7h0M247.8 744.5h0M249.5 739.2h0M250.2 741.4h0M249.4 742.5h0M250.6 742.9h0M247.0 734.7h0M246.5 739.9h0M250.6 741.4h0M242.8 744.9h0M246.0 706.4h0M253.1 710.9h0M248.4 760.2h0M251.0 729.6h0M252.5 731.1h0M242.5 728.4h0M243.5 702.0h0M242.5 734.4h0M243.7 725.5h0M242.5 695.7h0M250.5 705.9h0M246.9 740.9h0M247.3 763.6h0M251.0 726.9h0M250.0 743.4h0M242.6 718.0h0M252.9 736.8h0M247.2 746.8h0M244.9 712.4h0M249.0 695.2h0M249.9 752.7h0M245.3 717.3h0M246.6 715.2h0M250.5 709.7h0M249.8 730.0h0M248.5 746.5h0M244.5 706.0h0M250.8 724.4h0M252.3 758.8h0M249.8 705.5h0M249.4 703.0h0M243.5 697.7h0M245.7 715.5h0M254.6 725.6h0M245.6 695.6h0M245.3 714.3h0M249.6 728.6h0M252.1 699.5h0M254.4 709.8h0M252.7 763.2h0M246.8 725.3h0M248.1 698.8h0M253.9 731.1h0M254.0 740.1h0M252.3 755.8h0M254.9 733.1h0M254.7 747.1h0M245.5 745.4h0M245.7 759.0h0M262.2 766.5h0M255.4 774.7h0M254.6 768.2h0M243.0 773.6h0M246.9 773.6h0M253.3 750.5h0M251.9 753.7h0M261.0 750.5h0M262.9 752.0h0M246.3 757.3h0M251.3 770.5h0M245.4 778.8h0M259.5 776.3h0M258.7 771.7h0M258.4 762.6h0M248.0 753.2h0M260.3 764.7h0M258.0 761.9h0M251.4 763.1h0M246.5 750.5h0M260.0 757.9h0M261.1 755.1h0M254.1 775.1h0M243.4 766.3h0M246.5 768.0h0M244.2 757.6h0M251.5 773.4h0M262.5 770.3h0M254.3 761.4h0M243.5 773.2h0M267.3 760.6h0M245.9 751.8h0M265.7 761.6h0M243.1 769.7h0M252.2 777.6h0M257.6 774.0h0M259.3 775.3h0M265.3 774.4h0M243.0 755.2h0M248.2 782.1h0M265.0 782.6h0M258.0 782.3h0M265.3 790.2h0M262.1 781.6h0M260.9 783.4h0M258.7 788.7h0M263.3 788.1h0M261.0 787.2h0M257.5 782.3h0M260.2 788.7h0M259.2 787.3h0M257.8 784.5h0M259.6 784.8h0M257.9 791.1h0M257.8 786.7h0M256.6 784.6h0M259.6 784.4h0M259.4 784.7h0M257.4 791.4h0M262.4 789.5h0M263.8 790.0h0M262.1 790.4h0M255.3 782.5h0M259.9 784.2h0M261.1 793.6h0M261.8 783.8h0M264.5 781.8h0M261.8 787.9h0M260.8 791.7h0M262.8 785.0h0M261.6 790.3h0M262.5 789.5h0M264.4 789.7h0M258.9 788.7h0M257.4 790.7h0M266.7 786.3h0M261.4 790.7h0M261.1 787.6h0M260.8 792.8h0M260.2 794.2h0M259.9 790.7h0M258.7 788.8h0M263.1 783.3h0M260.6 791.4h0M265.1 792.6h0M258.8 788.4h0M258.3 782.9h0M261.7 783.8h0M259.6 784.6h0M260.0 788.2h0M261.4 786.3h0M262.3 788.4h0M255.9 788.8h0M258.0 784.8h0M259.4 793.3h0" stroke="#440154" stroke-width="1.60" stroke-linecap="round" stroke-opacity="0.8"/>
</g>
<rect x="186.3" y="688.4" width="97.2" height="112.2" fill="none" stroke="#d8d8d8" stroke-width="0.9"/>
<text x="234.9" y="683.1" font-size="8.53" text-anchor="middle" dominant-baseline="central" fill="#222" textLength="63.47" lengthAdjust="spacingAndGlyphs" stroke="#222" stroke-width="0.07">Scores of scDEAL</text>
<line x1="191.5" y1="800.6" x2="191.5" y2="802.6" stroke="#555" stroke-width="0.7"/>
<text x="191.5" y="807" font-size="7.0" text-anchor="middle" dominant-baseline="central" fill="#222" textLength="3.31" lengthAdjust="spacingAndGlyphs" stroke="#222" stroke-width="0.07">0</text>
<line x1="222.5" y1="800.6" x2="222.5" y2="802.6" stroke="#555" stroke-width="0.7"/>
<text x="222.5" y="807" font-size="7.0" text-anchor="middle" dominant-baseline="central" fill="#222" textLength="9.93" lengthAdjust="spacingAndGlyphs" stroke="#222" stroke-width="0.07">200</text>
<line x1="253.5" y1="800.6" x2="253.5" y2="802.6" stroke="#555" stroke-width="0.7"/>
<text x="253.5" y="807" font-size="7.0" text-anchor="middle" dominant-baseline="central" fill="#222" textLength="9.93" lengthAdjust="spacingAndGlyphs" stroke="#222" stroke-width="0.07">400</text>
<line x1="184.3" y1="694.2" x2="186.3" y2="694.2" stroke="#555" stroke-width="0.7"/>
<text x="182.7" y="694.2" font-size="7.0" text-anchor="end" dominant-baseline="central" fill="#222" textLength="8.27" lengthAdjust="spacingAndGlyphs" stroke="#222" stroke-width="0.07">1.0</text>
<line x1="184.3" y1="714.52" x2="186.3" y2="714.52" stroke="#555" stroke-width="0.7"/>
<text x="182.7" y="714.52" font-size="7.0" text-anchor="end" dominant-baseline="central" fill="#222" textLength="8.27" lengthAdjust="spacingAndGlyphs" stroke="#222" stroke-width="0.07">0.8</text>
<line x1="184.3" y1="734.84" x2="186.3" y2="734.84" stroke="#555" stroke-width="0.7"/>
<text x="182.7" y="734.84" font-size="7.0" text-anchor="end" dominant-baseline="central" fill="#222" textLength="8.27" lengthAdjust="spacingAndGlyphs" stroke="#222" stroke-width="0.07">0.6</text>
<line x1="184.3" y1="755.16" x2="186.3" y2="755.16" stroke="#555" stroke-width="0.7"/>
<text x="182.7" y="755.16" font-size="7.0" text-anchor="end" dominant-baseline="central" fill="#222" textLength="8.27" lengthAdjust="spacingAndGlyphs" stroke="#222" stroke-width="0.07">0.4</text>
<line x1="184.3" y1="775.48" x2="186.3" y2="775.48" stroke="#555" stroke-width="0.7"/>
<text x="182.7" y="775.48" font-size="7.0" text-anchor="end" dominant-baseline="central" fill="#222" textLength="8.27" lengthAdjust="spacingAndGlyphs" stroke="#222" stroke-width="0.07">0.2</text>
<line x1="184.3" y1="795.8" x2="186.3" y2="795.8" stroke="#555" stroke-width="0.7"/>
<text x="182.7" y="795.8" font-size="7.0" text-anchor="end" dominant-baseline="central" fill="#222" textLength="8.27" lengthAdjust="spacingAndGlyphs" stroke="#222" stroke-width="0.07">0.0</text>
<circle cx="296.1" cy="739.3" r="1.95" fill="#440154"/>
<circle cx="296.1" cy="749.3" r="1.95" fill="#e2ee3c"/>
<text x="307.2" y="739.6" font-size="7.08" text-anchor="start" dominant-baseline="central" fill="#222" textLength="28.16" lengthAdjust="spacingAndGlyphs" stroke="#222" stroke-width="0.07">Resistant</text>
<text x="307.2" y="749.6" font-size="7.08" text-anchor="start" dominant-baseline="central" fill="#222" textLength="27.81" lengthAdjust="spacingAndGlyphs" stroke="#222" stroke-width="0.07">Sensitive</text>
<clipPath id="cp1285"><rect x="357.1" y="688.4" width="98.2" height="112.7"/></clipPath>
<g clip-path="url(#cp1285)">
<path d="M400.7 788.3h0M426.3 746.7h0M433.3 769.3h0M412.3 770.5h0M417.6 779.3h0M435.9 747.4h0M414.2 783.4h0" stroke="#e8f078" stroke-width="1.60" stroke-linecap="round" stroke-opacity="0.8"/>
<path d="M370.5 730.6h0" stroke="#7f57a8" stroke-width="1.60" stroke-linecap="round" stroke-opacity="0.8"/>
<path d="M420.3 773.9h0M420.7 759.3h0M419.0 771.1h0M416.8 767.0h0" stroke="#e8f078" stroke-width="1.60" stroke-linecap="round" stroke-opacity="0.8"/>
<path d="M368.3 761.1h0" stroke="#7f57a8" stroke-width="1.60" stroke-linecap="round" stroke-opacity="0.8"/>
<path d="M393.6 791.2h0M441.3 794.2h0M447.3 745.5h0" stroke="#e8f078" stroke-width="1.60" stroke-linecap="round" stroke-opacity="0.8"/>
<path d="M371.7 784.6h0" stroke="#7f57a8" stroke-width="1.60" stroke-linecap="round" stroke-opacity="0.8"/>
<path d="M416.8 772.2h0" stroke="#e8f078" stroke-width="1.60" stroke-linecap="round" stroke-opacity="0.8"/>
<path d="M378.6 740.9h0" stroke="#7f57a8" stroke-width="1.60" stroke-linecap="round" stroke-opacity="0.8"/>
<path d="M448.8 768.7h0" stroke="#e8f078" stroke-width="1.60" stroke-linecap="round" stroke-opacity="0.8"/>
<path d="M375.3 752.4h0" stroke="#7f57a8" stroke-width="1.60" stroke-linecap="round" stroke-opacity="0.8"/>
<path d="M426.1 754.4h0M404.9 793.0h0M433.6 774.1h0M413.1 785.8h0M422.5 759.8h0M447.3 792.2h0" stroke="#e8f078" stroke-width="1.60" stroke-linecap="round" stroke-opacity="0.8"/>
<path d="M366.1 796.9h0M369.0 757.0h0" stroke="#7f57a8" stroke-width="1.60" stroke-linecap="round" stroke-opacity="0.8"/>
<path d="M419.9 771.7h0M416.9 754.5h0M413.8 781.9h0M427.1 737.7h0" stroke="#e8f078" stroke-width="1.60" stroke-linecap="round" stroke-opacity="0.8"/>
<path d="M363.1 769.3h0" stroke="#7f57a8" stroke-width="1.60" stroke-linecap="round" stroke-opacity="0.8"/>
<path d="M408.7 767.9h0M423.5 772.1h0" stroke="#e8f078" stroke-width="1.60" stroke-linecap="round" stroke-opacity="0.8"/>
<path d="M367.8 769.5h0" stroke="#7f57a8" stroke-width="1.60" stroke-linecap="round" stroke-opacity="0.8"/>
<path d="M405.9 769.9h0M406.8 787.7h0" stroke="#e8f078" stroke-width="1.60" stroke-linecap="round" stroke-opacity="0.8"/>
<path d="M368.1 741.2h0M371.7 776.3h0M373.5 761.5h0" stroke="#7f57a8" stroke-width="1.60" stroke-linecap="round" stroke-opacity="0.8"/>
<path d="M424.6 773.0h0M413.7 796.7h0" stroke="#e8f078" stroke-width="1.60" stroke-linecap="round" stroke-opacity="0.8"/>
<path d="M373.3 744.8h0" stroke="#7f57a8" stroke-width="1.60" stroke-linecap="round" stroke-opacity="0.8"/>
<path d="M425.7 755.0h0M393.6 789.0h0M411.1 767.4h0M422.8 790.5h0M429.0 752.8h0M419.0 777.8h0M424.8 775.5h0" stroke="#e8f078" stroke-width="1.60" stroke-linecap="round" stroke-opacity="0.8"/>
<path d="M375.3 795.1h0" stroke="#7f57a8" stroke-width="1.60" stroke-linecap="round" stroke-opacity="0.8"/>
<path d="M415.6 789.8h0M447.9 768.3h0" stroke="#e8f078" stroke-width="1.60" stroke-linecap="round" stroke-opacity="0.8"/>
<path d="M365.7 754.2h0M377.2 710.1h0" stroke="#7f57a8" stroke-width="1.60" stroke-linecap="round" stroke-opacity="0.8"/>
<path d="M395.4 787.4h0M409.2 774.6h0" stroke="#e8f078" stroke-width="1.60" stroke-linecap="round" stroke-opacity="0.8"/>
<path d="M381.7 757.7h0" stroke="#7f57a8" stroke-width="1.60" stroke-linecap="round" stroke-opacity="0.8"/>
<path d="M422.9 775.7h0M414.0 782.3h0M393.2 776.4h0M415.0 789.0h0M413.5 737.7h0M424.6 779.7h0M410.0 776.4h0" stroke="#e8f078" stroke-width="1.60" stroke-linecap="round" stroke-opacity="0.8"/>
<path d="M371.4 779.0h0" stroke="#7f57a8" stroke-width="1.60" stroke-linecap="round" stroke-opacity="0.8"/>
<path d="M403.8 787.6h0" stroke="#e8f078" stroke-width="1.60" stroke-linecap="round" stroke-opacity="0.8"/>
<path d="M367.2 780.6h0" stroke="#7f57a8" stroke-width="1.60" stroke-linecap="round" stroke-opacity="0.8"/>
<path d="M405.6 785.9h0" stroke="#e8f078" stroke-width="1.60" stroke-linecap="round" stroke-opacity="0.8"/>
<path d="M372.3 781.0h0M369.8 744.0h0" stroke="#7f57a8" stroke-width="1.60" stroke-linecap="round" stroke-opacity="0.8"/>
<path d="M442.3 763.6h0M437.3 750.3h0M416.5 768.7h0M430.7 769.5h0M400.1 798.0h0M406.4 794.3h0M405.6 794.5h0" stroke="#e8f078" stroke-width="1.60" stroke-linecap="round" stroke-opacity="0.8"/>
<path d="M361.5 748.6h0M375.4 742.0h0M365.7 782.6h0" stroke="#7f57a8" stroke-width="1.60" stroke-linecap="round" stroke-opacity="0.8"/>
<path d="M419.5 770.5h0" stroke="#e8f078" stroke-width="1.60" stroke-linecap="round" stroke-opacity="0.8"/>
<path d="M366.0 737.0h0" stroke="#7f57a8" stroke-width="1.60" stroke-linecap="round" stroke-opacity="0.8"/>
<path d="M431.2 734.1h0M432.2 768.1h0M413.3 770.7h0M425.2 771.9h0M421.1 768.8h0" stroke="#e8f078" stroke-width="1.60" stroke-linecap="round" stroke-opacity="0.8"/>
<path d="M376.9 735.2h0M375.2 783.7h0" stroke="#7f57a8" stroke-width="1.60" stroke-linecap="round" stroke-opacity="0.8"/>
<path d="M409.9 795.4h0" stroke="#e8f078" stroke-width="1.60" stroke-linecap="round" stroke-opacity="0.8"/>
<path d="M370.0 762.3h0" stroke="#7f57a8" stroke-width="1.60" stroke-linecap="round" stroke-opacity="0.8"/>
<path d="M440.3 754.0h0M409.9 789.6h0M409.4 792.3h0M439.8 759.2h0M409.5 785.5h0" stroke="#e8f078" stroke-width="1.60" stroke-linecap="round" stroke-opacity="0.8"/>
<path d="M376.3 772.6h0M381.5 755.1h0" stroke="#7f57a8" stroke-width="1.60" stroke-linecap="round" stroke-opacity="0.8"/>
<path d="M410.0 796.0h0M418.7 764.5h0" stroke="#e8f078" stroke-width="1.60" stroke-linecap="round" stroke-opacity="0.8"/>
<path d="M369.6 766.1h0M369.8 782.8h0M366.0 767.0h0M366.2 773.0h0" stroke="#7f57a8" stroke-width="1.60" stroke-linecap="round" stroke-opacity="0.8"/>
<path d="M413.5 767.7h0M428.8 742.5h0M403.2 806.8h0M442.3 760.6h0M425.5 770.0h0M394.1 776.4h0" stroke="#e8f078" stroke-width="1.60" stroke-linecap="round" stroke-opacity="0.8"/>
<path d="M370.6 764.0h0" stroke="#7f57a8" stroke-width="1.60" stroke-linecap="round" stroke-opacity="0.8"/>
<path d="M409.9 772.2h0M448.6 750.4h0M417.6 769.2h0M433.2 750.1h0" stroke="#e8f078" stroke-width="1.60" stroke-linecap="round" stroke-opacity="0.8"/>
<path d="M374.2 732.5h0" stroke="#7f57a8" stroke-width="1.60" stroke-linecap="round" stroke-opacity="0.8"/>
<path d="M427.4 739.9h0M423.1 774.7h0M424.8 763.9h0M408.7 807.1h0" stroke="#e8f078" stroke-width="1.60" stroke-linecap="round" stroke-opacity="0.8"/>
<path d="M371.4 747.8h0" stroke="#7f57a8" stroke-width="1.60" stroke-linecap="round" stroke-opacity="0.8"/>
<path d="M418.0 799.1h0M398.1 778.5h0M417.8 772.3h0M426.2 752.6h0" stroke="#e8f078" stroke-width="1.60" stroke-linecap="round" stroke-opacity="0.8"/>
<path d="M364.5 785.8h0" stroke="#7f57a8" stroke-width="1.60" stroke-linecap="round" stroke-opacity="0.8"/>
<path d="M420.4 771.9h0M443.0 737.3h0" stroke="#e8f078" stroke-width="1.60" stroke-linecap="round" stroke-opacity="0.8"/>
<path d="M362.4 754.0h0" stroke="#7f57a8" stroke-width="1.60" stroke-linecap="round" stroke-opacity="0.8"/>
<path d="M433.9 773.7h0" stroke="#e8f078" stroke-width="1.60" stroke-linecap="round" stroke-opacity="0.8"/>
<path d="M367.7 756.1h0" stroke="#7f57a8" stroke-width="1.60" stroke-linecap="round" stroke-opacity="0.8"/>
<path d="M414.1 768.2h0" stroke="#e8f078" stroke-width="1.60" stroke-linecap="round" stroke-opacity="0.8"/>
<path d="M360.6 782.4h0" stroke="#7f57a8" stroke-width="1.60" stroke-linecap="round" stroke-opacity="0.8"/>
<path d="M423.8 777.5h0" stroke="#e8f078" stroke-width="1.60" stroke-linecap="round" stroke-opacity="0.8"/>
<path d="M363.4 771.2h0" stroke="#7f57a8" stroke-width="1.60" stroke-linecap="round" stroke-opacity="0.8"/>
<path d="M431.4 775.5h0M406.4 757.0h0M396.0 800.1h0" stroke="#e8f078" stroke-width="1.60" stroke-linecap="round" stroke-opacity="0.8"/>
<path d="M368.3 765.8h0M366.7 785.3h0M368.3 776.3h0" stroke="#7f57a8" stroke-width="1.60" stroke-linecap="round" stroke-opacity="0.8"/>
<path d="M391.3 774.1h0M408.8 780.2h0M422.0 759.2h0" stroke="#e8f078" stroke-width="1.60" stroke-linecap="round" stroke-opacity="0.8"/>
<path d="M371.2 775.2h0M369.8 792.1h0" stroke="#7f57a8" stroke-width="1.60" stroke-linecap="round" stroke-opacity="0.8"/>
<path d="M415.4 800.7h0M415.4 789.3h0M443.6 765.8h0M416.9 773.5h0" stroke="#e8f078" stroke-width="1.60" stroke-linecap="round" stroke-opacity="0.8"/>
<path d="M373.1 782.6h0" stroke="#7f57a8" stroke-width="1.60" stroke-linecap="round" stroke-opacity="0.8"/>
<path d="M426.8 762.3h0M417.9 743.8h0M415.8 760.3h0" stroke="#e8f078" stroke-width="1.60" stroke-linecap="round" stroke-opacity="0.8"/>
<path d="M368.5 761.1h0" stroke="#7f57a8" stroke-width="1.60" stroke-linecap="round" stroke-opacity="0.8"/>
<path d="M427.9 766.6h0M398.4 753.0h0" stroke="#e8f078" stroke-width="1.60" stroke-linecap="round" stroke-opacity="0.8"/>
<path d="M366.8 783.3h0" stroke="#7f57a8" stroke-width="1.60" stroke-linecap="round" stroke-opacity="0.8"/>
<path d="M401.8 805.5h0" stroke="#e8f078" stroke-width="1.60" stroke-linecap="round" stroke-opacity="0.8"/>
<path d="M364.5 766.3h0" stroke="#7f57a8" stroke-width="1.60" stroke-linecap="round" stroke-opacity="0.8"/>
<path d="M401.0 794.0h0M400.7 791.1h0" stroke="#e8f078" stroke-width="1.60" stroke-linecap="round" stroke-opacity="0.8"/>
<path d="M368.9 794.2h0M365.4 778.1h0" stroke="#7f57a8" stroke-width="1.60" stroke-linecap="round" stroke-opacity="0.8"/>
<path d="M435.2 751.7h0" stroke="#e8f078" stroke-width="1.60" stroke-linecap="round" stroke-opacity="0.8"/>
<path d="M369.4 766.0h0M367.8 772.1h0" stroke="#7f57a8" stroke-width="1.60" stroke-linecap="round" stroke-opacity="0.8"/>
<path d="M427.7 772.2h0M425.3 781.4h0M429.5 761.3h0M412.4 796.8h0M401.2 788.9h0" stroke="#e8f078" stroke-width="1.60" stroke-linecap="round" stroke-opacity="0.8"/>
<path d="M363.0 787.9h0M376.8 776.7h0M364.3 763.4h0M369.0 768.2h0" stroke="#7f57a8" stroke-width="1.60" stroke-linecap="round" stroke-opacity="0.8"/>
<path d="M411.5 814.4h0M412.0 773.4h0M397.0 774.4h0M419.4 750.9h0M394.4 793.9h0" stroke="#e8f078" stroke-width="1.60" stroke-linecap="round" stroke-opacity="0.8"/>
<path d="M370.4 751.2h0" stroke="#7f57a8" stroke-width="1.60" stroke-linecap="round" stroke-opacity="0.8"/>
<path d="M431.9 768.4h0M416.3 778.0h0" stroke="#e8f078" stroke-width="1.60" stroke-linecap="round" stroke-opacity="0.8"/>
<path d="M367.5 793.9h0M372.6 763.3h0" stroke="#7f57a8" stroke-width="1.60" stroke-linecap="round" stroke-opacity="0.8"/>
<path d="M431.2 750.4h0M418.8 789.6h0M407.3 745.3h0M434.5 775.6h0M419.6 794.5h0" stroke="#e8f078" stroke-width="1.60" stroke-linecap="round" stroke-opacity="0.8"/>
<path d="M365.4 769.9h0" stroke="#7f57a8" stroke-width="1.60" stroke-linecap="round" stroke-opacity="0.8"/>
<path d="M390.0 759.3h0M415.7 787.8h0M422.8 768.1h0" stroke="#e8f078" stroke-width="1.60" stroke-linecap="round" stroke-opacity="0.8"/>
<path d="M368.4 792.3h0" stroke="#7f57a8" stroke-width="1.60" stroke-linecap="round" stroke-opacity="0.8"/>
<path d="M401.8 784.4h0M417.1 783.8h0" stroke="#e8f078" stroke-width="1.60" stroke-linecap="round" stroke-opacity="0.8"/>
<path d="M365.9 765.6h0M374.0 776.1h0M370.3 755.7h0" stroke="#7f57a8" stroke-width="1.60" stroke-linecap="round" stroke-opacity="0.8"/>
<path d="M428.7 783.5h0M405.4 791.7h0M419.1 752.5h0M436.8 772.6h0M417.0 772.2h0M410.1 783.6h0M422.2 737.0h0M414.9 782.9h0M432.5 766.0h0M433.8 748.3h0" stroke="#e8f078" stroke-width="1.60" stroke-linecap="round" stroke-opacity="0.8"/>
<path d="M373.9 773.1h0" stroke="#7f57a8" stroke-width="1.60" stroke-linecap="round" stroke-opacity="0.8"/>
<path d="M414.2 734.1h0" stroke="#e8f078" stroke-width="1.60" stroke-linecap="round" stroke-opacity="0.8"/>
<path d="M375.5 743.6h0" stroke="#7f57a8" stroke-width="1.60" stroke-linecap="round" stroke-opacity="0.8"/>
<path d="M427.0 756.4h0M423.5 777.2h0M446.1 754.1h0M422.4 755.0h0M405.1 774.5h0" stroke="#e8f078" stroke-width="1.60" stroke-linecap="round" stroke-opacity="0.8"/>
<path d="M365.0 791.9h0" stroke="#7f57a8" stroke-width="1.60" stroke-linecap="round" stroke-opacity="0.8"/>
<path d="M414.4 781.0h0M423.3 780.1h0M425.0 764.9h0M422.4 788.4h0M444.8 757.0h0" stroke="#e8f078" stroke-width="1.60" stroke-linecap="round" stroke-opacity="0.8"/>
<path d="M382.6 742.4h0M371.2 775.4h0M376.4 782.9h0M375.6 772.5h0" stroke="#7f57a8" stroke-width="1.60" stroke-linecap="round" stroke-opacity="0.8"/>
<path d="M448.4 771.3h0M431.6 758.9h0M420.9 781.7h0M427.5 759.1h0M411.3 789.9h0M413.8 792.7h0M410.7 780.8h0M440.8 728.1h0M408.3 780.6h0M412.6 755.7h0M428.5 755.0h0" stroke="#e8f078" stroke-width="1.60" stroke-linecap="round" stroke-opacity="0.8"/>
<path d="M370.8 776.6h0" stroke="#7f57a8" stroke-width="1.60" stroke-linecap="round" stroke-opacity="0.8"/>
<path d="M424.7 767.5h0" stroke="#e8f078" stroke-width="1.60" stroke-linecap="round" stroke-opacity="0.8"/>
<path d="M377.8 741.9h0" stroke="#7f57a8" stroke-width="1.60" stroke-linecap="round" stroke-opacity="0.8"/>
<path d="M397.8 802.5h0" stroke="#e8f078" stroke-width="1.60" stroke-linecap="round" stroke-opacity="0.8"/>
<path d="M380.8 755.0h0M371.1 744.6h0" stroke="#7f57a8" stroke-width="1.60" stroke-linecap="round" stroke-opacity="0.8"/>
<path d="M397.1 774.7h0" stroke="#e8f078" stroke-width="1.60" stroke-linecap="round" stroke-opacity="0.8"/>
<path d="M367.5 749.6h0" stroke="#7f57a8" stroke-width="1.60" stroke-linecap="round" stroke-opacity="0.8"/>
<path d="M411.9 779.4h0M419.5 782.0h0" stroke="#e8f078" stroke-width="1.60" stroke-linecap="round" stroke-opacity="0.8"/>
<path d="M379.0 745.5h0" stroke="#7f57a8" stroke-width="1.60" stroke-linecap="round" stroke-opacity="0.8"/>
<path d="M422.9 765.8h0" stroke="#e8f078" stroke-width="1.60" stroke-linecap="round" stroke-opacity="0.8"/>
<path d="M368.4 778.4h0M376.9 759.6h0M366.0 769.2h0" stroke="#7f57a8" stroke-width="1.60" stroke-linecap="round" stroke-opacity="0.8"/>
<path d="M420.2 800.8h0" stroke="#e8f078" stroke-width="1.60" stroke-linecap="round" stroke-opacity="0.8"/>
<path d="M377.1 762.7h0" stroke="#7f57a8" stroke-width="1.60" stroke-linecap="round" stroke-opacity="0.8"/>
<path d="M398.1 804.3h0" stroke="#e8f078" stroke-width="1.60" stroke-linecap="round" stroke-opacity="0.8"/>
<path d="M368.9 749.0h0" stroke="#7f57a8" stroke-width="1.60" stroke-linecap="round" stroke-opacity="0.8"/>
<path d="M420.2 762.9h0M400.2 789.2h0M435.6 770.8h0M416.4 770.1h0M422.6 757.9h0" stroke="#e8f078" stroke-width="1.60" stroke-linecap="round" stroke-opacity="0.8"/>
<path d="M365.2 778.7h0" stroke="#7f57a8" stroke-width="1.60" stroke-linecap="round" stroke-opacity="0.8"/>
<path d="M426.2 775.2h0" stroke="#e8f078" stroke-width="1.60" stroke-linecap="round" stroke-opacity="0.8"/>
<path d="M372.6 783.1h0" stroke="#7f57a8" stroke-width="1.60" stroke-linecap="round" stroke-opacity="0.8"/>
<path d="M429.6 743.3h0M428.5 791.8h0M402.6 773.1h0M416.9 775.8h0" stroke="#e8f078" stroke-width="1.60" stroke-linecap="round" stroke-opacity="0.8"/>
<path d="M364.9 794.8h0M368.6 767.8h0" stroke="#7f57a8" stroke-width="1.60" stroke-linecap="round" stroke-opacity="0.8"/>
<path d="M429.1 790.3h0M395.1 806.7h0M408.9 767.9h0M408.7 797.8h0M431.4 744.0h0" stroke="#e8f078" stroke-width="1.60" stroke-linecap="round" stroke-opacity="0.8"/>
<path d="M369.1 742.1h0" stroke="#7f57a8" stroke-width="1.60" stroke-linecap="round" stroke-opacity="0.8"/>
<path d="M407.7 809.5h0M435.7 747.1h0M424.3 781.1h0M410.4 785.8h0M420.9 767.0h0M416.2 757.5h0" stroke="#e8f078" stroke-width="1.60" stroke-linecap="round" stroke-opacity="0.8"/>
<path d="M381.2 759.6h0" stroke="#7f57a8" stroke-width="1.60" stroke-linecap="round" stroke-opacity="0.8"/>
<path d="M429.0 741.0h0" stroke="#e8f078" stroke-width="1.60" stroke-linecap="round" stroke-opacity="0.8"/>
<path d="M368.0 750.6h0" stroke="#7f57a8" stroke-width="1.60" stroke-linecap="round" stroke-opacity="0.8"/>
<path d="M407.3 783.6h0" stroke="#e8f078" stroke-width="1.60" stroke-linecap="round" stroke-opacity="0.8"/>
<path d="M369.8 772.5h0M373.8 754.1h0" stroke="#7f57a8" stroke-width="1.60" stroke-linecap="round" stroke-opacity="0.8"/>
<path d="M412.3 772.2h0" stroke="#e8f078" stroke-width="1.60" stroke-linecap="round" stroke-opacity="0.8"/>
<path d="M372.9 748.0h0" stroke="#7f57a8" stroke-width="1.60" stroke-linecap="round" stroke-opacity="0.8"/>
<path d="M422.0 771.3h0M402.3 769.6h0M431.7 780.7h0M401.9 808.0h0M423.6 752.9h0" stroke="#e8f078" stroke-width="1.60" stroke-linecap="round" stroke-opacity="0.8"/>
<path d="M362.8 785.4h0" stroke="#7f57a8" stroke-width="1.60" stroke-linecap="round" stroke-opacity="0.8"/>
<path d="M406.6 781.2h0M431.6 751.8h0M405.5 791.7h0M428.1 760.8h0" stroke="#e8f078" stroke-width="1.60" stroke-linecap="round" stroke-opacity="0.8"/>
<path d="M367.8 769.2h0" stroke="#7f57a8" stroke-width="1.60" stroke-linecap="round" stroke-opacity="0.8"/>
<path d="M415.8 754.2h0" stroke="#e8f078" stroke-width="1.60" stroke-linecap="round" stroke-opacity="0.8"/>
<path d="M365.4 752.3h0" stroke="#7f57a8" stroke-width="1.60" stroke-linecap="round" stroke-opacity="0.8"/>
<path d="M426.4 770.7h0" stroke="#e8f078" stroke-width="1.60" stroke-linecap="round" stroke-opacity="0.8"/>
<path d="M375.1 752.9h0" stroke="#7f57a8" stroke-width="1.60" stroke-linecap="round" stroke-opacity="0.8"/>
<path d="M423.3 764.0h0M423.4 787.2h0" stroke="#e8f078" stroke-width="1.60" stroke-linecap="round" stroke-opacity="0.8"/>
<path d="M372.1 773.9h0" stroke="#7f57a8" stroke-width="1.60" stroke-linecap="round" stroke-opacity="0.8"/>
<path d="M426.7 747.6h0M433.3 780.3h0M414.0 805.6h0M422.6 753.0h0M414.4 759.2h0M409.1 760.3h0M407.8 805.3h0" stroke="#e8f078" stroke-width="1.60" stroke-linecap="round" stroke-opacity="0.8"/>
<path d="M372.3 764.6h0" stroke="#7f57a8" stroke-width="1.60" stroke-linecap="round" stroke-opacity="0.8"/>
<path d="M403.2 789.3h0M448.7 731.3h0M446.0 735.5h0" stroke="#e8f078" stroke-width="1.60" stroke-linecap="round" stroke-opacity="0.8"/>
<path d="M369.4 770.0h0" stroke="#7f57a8" stroke-width="1.60" stroke-linecap="round" stroke-opacity="0.8"/>
<path d="M422.0 792.5h0M401.0 798.3h0M399.0 788.5h0" stroke="#e8f078" stroke-width="1.60" stroke-linecap="round" stroke-opacity="0.8"/>
<path d="M372.3 778.9h0M379.9 747.9h0" stroke="#7f57a8" stroke-width="1.60" stroke-linecap="round" stroke-opacity="0.8"/>
<path d="M426.4 790.2h0M434.2 776.7h0M430.4 748.7h0M405.2 803.8h0M421.5 772.4h0M427.0 777.1h0" stroke="#e8f078" stroke-width="1.60" stroke-linecap="round" stroke-opacity="0.8"/>
<path d="M368.7 758.1h0" stroke="#7f57a8" stroke-width="1.60" stroke-linecap="round" stroke-opacity="0.8"/>
<path d="M400.7 786.7h0M423.2 775.5h0M407.4 784.7h0" stroke="#e8f078" stroke-width="1.60" stroke-linecap="round" stroke-opacity="0.8"/>
<path d="M373.1 735.1h0" stroke="#7f57a8" stroke-width="1.60" stroke-linecap="round" stroke-opacity="0.8"/>
<path d="M412.5 801.3h0" stroke="#e8f078" stroke-width="1.60" stroke-linecap="round" stroke-opacity="0.8"/>
<path d="M370.2 715.7h0" stroke="#7f57a8" stroke-width="1.60" stroke-linecap="round" stroke-opacity="0.8"/>
<path d="M442.0 715.7h0" stroke="#e8f078" stroke-width="1.60" stroke-linecap="round" stroke-opacity="0.8"/>
<path d="M364.7 771.4h0" stroke="#7f57a8" stroke-width="1.60" stroke-linecap="round" stroke-opacity="0.8"/>
<path d="M428.7 751.7h0M413.1 817.9h0" stroke="#e8f078" stroke-width="1.60" stroke-linecap="round" stroke-opacity="0.8"/>
<path d="M370.8 760.9h0" stroke="#7f57a8" stroke-width="1.60" stroke-linecap="round" stroke-opacity="0.8"/>
<path d="M422.6 756.0h0M441.4 771.0h0" stroke="#e8f078" stroke-width="1.60" stroke-linecap="round" stroke-opacity="0.8"/>
<path d="M363.2 765.3h0M364.3 784.6h0" stroke="#7f57a8" stroke-width="1.60" stroke-linecap="round" stroke-opacity="0.8"/>
<path d="M423.0 760.7h0M416.1 754.0h0M415.0 801.3h0M411.3 796.3h0M417.1 761.0h0M413.8 767.1h0M428.2 774.3h0M430.4 775.2h0M409.8 775.9h0" stroke="#e8f078" stroke-width="1.60" stroke-linecap="round" stroke-opacity="0.8"/>
<path d="M367.9 772.8h0" stroke="#7f57a8" stroke-width="1.60" stroke-linecap="round" stroke-opacity="0.8"/>
<path d="M429.6 747.0h0" stroke="#e8f078" stroke-width="1.60" stroke-linecap="round" stroke-opacity="0.8"/>
<path d="M366.4 754.8h0" stroke="#7f57a8" stroke-width="1.60" stroke-linecap="round" stroke-opacity="0.8"/>
<path d="M410.1 744.6h0" stroke="#e8f078" stroke-width="1.60" stroke-linecap="round" stroke-opacity="0.8"/>
<path d="M364.4 775.8h0" stroke="#7f57a8" stroke-width="1.60" stroke-linecap="round" stroke-opacity="0.8"/>
<path d="M431.4 740.6h0" stroke="#e8f078" stroke-width="1.60" stroke-linecap="round" stroke-opacity="0.8"/>
<path d="M369.3 746.5h0M365.7 787.6h0M368.5 788.6h0" stroke="#7f57a8" stroke-width="1.60" stroke-linecap="round" stroke-opacity="0.8"/>
<path d="M416.1 738.5h0M413.1 773.7h0" stroke="#e8f078" stroke-width="1.60" stroke-linecap="round" stroke-opacity="0.8"/>
<path d="M375.3 770.9h0" stroke="#7f57a8" stroke-width="1.60" stroke-linecap="round" stroke-opacity="0.8"/>
<path d="M415.7 793.6h0M418.5 775.4h0M441.8 762.9h0" stroke="#e8f078" stroke-width="1.60" stroke-linecap="round" stroke-opacity="0.8"/>
<path d="M369.6 757.5h0" stroke="#7f57a8" stroke-width="1.60" stroke-linecap="round" stroke-opacity="0.8"/>
<path d="M412.1 796.8h0M433.6 755.8h0" stroke="#e8f078" stroke-width="1.60" stroke-linecap="round" stroke-opacity="0.8"/>
<path d="M370.2 751.0h0" stroke="#7f57a8" stroke-width="1.60" stroke-linecap="round" stroke-opacity="0.8"/>
<path d="M421.4 733.0h0M440.7 774.6h0M412.8 782.0h0M420.3 779.3h0M420.0 777.4h0" stroke="#e8f078" stroke-width="1.60" stroke-linecap="round" stroke-opacity="0.8"/>
<path d="M374.6 764.5h0M367.4 771.3h0M373.5 773.1h0" stroke="#7f57a8" stroke-width="1.60" stroke-linecap="round" stroke-opacity="0.8"/>
<path d="M433.6 773.0h0M406.2 780.7h0M409.2 740.7h0M427.6 767.8h0M417.8 785.3h0M396.9 796.2h0" stroke="#e8f078" stroke-width="1.60" stroke-linecap="round" stroke-opacity="0.8"/>
<path d="M371.3 768.2h0M374.6 769.0h0" stroke="#7f57a8" stroke-width="1.60" stroke-linecap="round" stroke-opacity="0.8"/>
<path d="M436.1 756.7h0M421.3 783.4h0" stroke="#e8f078" stroke-width="1.60" stroke-linecap="round" stroke-opacity="0.8"/>
<path d="M374.5 765.4h0M365.4 775.4h0" stroke="#7f57a8" stroke-width="1.60" stroke-linecap="round" stroke-opacity="0.8"/>
<path d="M422.7 773.8h0M429.0 765.0h0M432.9 775.9h0M408.1 800.6h0M410.8 782.7h0M419.3 728.4h0" stroke="#e8f078" stroke-width="1.60" stroke-linecap="round" stroke-opacity="0.8"/>
<path d="M371.2 751.5h0M369.3 783.3h0" stroke="#7f57a8" stroke-width="1.60" stroke-linecap="round" stroke-opacity="0.8"/>
<path d="M421.2 793.5h0" stroke="#e8f078" stroke-width="1.60" stroke-linecap="round" stroke-opacity="0.8"/>
<path d="M368.7 745.8h0" stroke="#7f57a8" stroke-width="1.60" stroke-linecap="round" stroke-opacity="0.8"/>
<path d="M404.1 773.4h0M405.6 765.5h0M414.9 780.9h0" stroke="#e8f078" stroke-width="1.60" stroke-linecap="round" stroke-opacity="0.8"/>
<path d="M364.0 793.7h0M374.9 786.2h0" stroke="#7f57a8" stroke-width="1.60" stroke-linecap="round" stroke-opacity="0.8"/>
<path d="M412.2 756.0h0M389.5 789.6h0M424.3 775.7h0M416.4 780.2h0M407.5 792.0h0" stroke="#e8f078" stroke-width="1.60" stroke-linecap="round" stroke-opacity="0.8"/>
<path d="M370.4 769.3h0" stroke="#7f57a8" stroke-width="1.60" stroke-linecap="round" stroke-opacity="0.8"/>
<path d="M413.5 800.2h0M430.4 772.0h0M427.5 770.5h0M386.2 795.5h0" stroke="#e8f078" stroke-width="1.60" stroke-linecap="round" stroke-opacity="0.8"/>
<path d="M374.5 761.3h0" stroke="#7f57a8" stroke-width="1.60" stroke-linecap="round" stroke-opacity="0.8"/>
<path d="M423.6 772.1h0" stroke="#e8f078" stroke-width="1.60" stroke-linecap="round" stroke-opacity="0.8"/>
<path d="M379.6 730.1h0M370.8 790.9h0M368.0 748.3h0M378.4 748.2h0M372.4 751.6h0M366.1 786.5h0M373.7 762.9h0" stroke="#7f57a8" stroke-width="1.60" stroke-linecap="round" stroke-opacity="0.8"/>
<path d="M430.5 759.2h0M425.0 772.7h0M427.1 782.7h0" stroke="#e8f078" stroke-width="1.60" stroke-linecap="round" stroke-opacity="0.8"/>
<path d="M365.9 782.4h0" stroke="#7f57a8" stroke-width="1.60" stroke-linecap="round" stroke-opacity="0.8"/>
<path d="M431.6 749.3h0M443.9 739.1h0M428.9 738.2h0M413.4 780.9h0" stroke="#e8f078" stroke-width="1.60" stroke-linecap="round" stroke-opacity="0.8"/>
<path d="M371.2 794.2h0" stroke="#7f57a8" stroke-width="1.60" stroke-linecap="round" stroke-opacity="0.8"/>
<path d="M429.9 767.0h0M398.0 792.3h0M437.1 773.0h0M424.0 787.5h0M421.9 768.2h0M425.9 791.3h0M449.0 725.0h0M441.3 734.3h0M422.9 767.0h0M408.7 783.6h0M416.0 775.7h0M412.7 782.7h0M399.3 793.1h0M442.4 765.3h0M424.8 768.7h0M435.2 769.3h0M419.1 780.7h0M421.1 748.3h0" stroke="#e8f078" stroke-width="1.60" stroke-linecap="round" stroke-opacity="0.8"/>
<path d="M372.7 764.0h0" stroke="#7f57a8" stroke-width="1.60" stroke-linecap="round" stroke-opacity="0.8"/>
<path d="M401.1 805.5h0" stroke="#e8f078" stroke-width="1.60" stroke-linecap="round" stroke-opacity="0.8"/>
<path d="M368.7 769.0h0" stroke="#7f57a8" stroke-width="1.60" stroke-linecap="round" stroke-opacity="0.8"/>
<path d="M418.8 783.3h0M414.5 791.5h0" stroke="#e8f078" stroke-width="1.60" stroke-linecap="round" stroke-opacity="0.8"/>
<path d="M365.7 782.6h0M365.7 770.2h0" stroke="#7f57a8" stroke-width="1.60" stroke-linecap="round" stroke-opacity="0.8"/>
<path d="M423.4 770.6h0M447.4 728.7h0M433.7 752.7h0M420.9 791.1h0M416.9 782.6h0M414.9 763.0h0M416.0 759.5h0M422.7 766.5h0M427.9 757.5h0M425.4 743.3h0M432.5 772.8h0M432.8 762.2h0M412.4 762.5h0M425.4 786.3h0M411.4 793.5h0M406.1 777.4h0M418.5 787.7h0M410.5 763.2h0M437.1 761.6h0M426.3 765.4h0" stroke="#e8f078" stroke-width="1.60" stroke-linecap="round" stroke-opacity="0.8"/>
<path d="M365.8 760.1h0" stroke="#7f57a8" stroke-width="1.60" stroke-linecap="round" stroke-opacity="0.8"/>
<path d="M445.6 737.8h0M422.8 708.2h0" stroke="#e8f078" stroke-width="1.60" stroke-linecap="round" stroke-opacity="0.8"/>
<path d="M370.8 786.6h0" stroke="#7f57a8" stroke-width="1.60" stroke-linecap="round" stroke-opacity="0.8"/>
<path d="M426.5 735.3h0M424.1 756.2h0M409.1 798.3h0M426.2 759.5h0M411.6 769.4h0M424.5 737.1h0M399.9 794.5h0M409.4 800.0h0M438.0 762.1h0" stroke="#e8f078" stroke-width="1.60" stroke-linecap="round" stroke-opacity="0.8"/>
<path d="M368.5 766.4h0" stroke="#7f57a8" stroke-width="1.60" stroke-linecap="round" stroke-opacity="0.8"/>
<path d="M428.6 746.2h0M431.8 747.3h0M410.1 794.8h0M421.3 799.1h0M430.7 782.1h0" stroke="#e8f078" stroke-width="1.60" stroke-linecap="round" stroke-opacity="0.8"/>
<path d="M369.9 766.6h0M369.0 755.5h0" stroke="#7f57a8" stroke-width="1.60" stroke-linecap="round" stroke-opacity="0.8"/>
<path d="M421.4 774.2h0M431.4 730.3h0M424.1 763.8h0M445.3 747.6h0M422.5 739.2h0M425.5 779.8h0" stroke="#e8f078" stroke-width="1.60" stroke-linecap="round" stroke-opacity="0.8"/>
<path d="M373.0 764.2h0M365.4 779.9h0M369.8 769.3h0M370.8 766.4h0M365.9 783.3h0M368.2 775.6h0M371.3 786.5h0M375.1 739.7h0" stroke="#7f57a8" stroke-width="1.60" stroke-linecap="round" stroke-opacity="0.8"/>
<path d="M431.6 765.3h0M438.0 733.8h0M388.2 797.3h0" stroke="#e8f078" stroke-width="1.60" stroke-linecap="round" stroke-opacity="0.8"/>
<path d="M363.2 773.1h0" stroke="#7f57a8" stroke-width="1.60" stroke-linecap="round" stroke-opacity="0.8"/>
<path d="M419.6 777.3h0M438.3 744.8h0" stroke="#e8f078" stroke-width="1.60" stroke-linecap="round" stroke-opacity="0.8"/>
<path d="M368.4 773.0h0" stroke="#7f57a8" stroke-width="1.60" stroke-linecap="round" stroke-opacity="0.8"/>
<path d="M420.7 779.1h0" stroke="#e8f078" stroke-width="1.60" stroke-linecap="round" stroke-opacity="0.8"/>
<path d="M369.4 765.7h0" stroke="#7f57a8" stroke-width="1.60" stroke-linecap="round" stroke-opacity="0.8"/>
<path d="M428.6 740.1h0M419.1 800.1h0M420.8 771.7h0M434.9 746.7h0M425.8 753.0h0M443.2 771.0h0M419.2 790.6h0M411.7 803.1h0" stroke="#e8f078" stroke-width="1.60" stroke-linecap="round" stroke-opacity="0.8"/>
<path d="M365.9 748.4h0" stroke="#7f57a8" stroke-width="1.60" stroke-linecap="round" stroke-opacity="0.8"/>
<path d="M433.9 767.4h0M428.4 757.5h0M430.1 773.2h0M410.7 806.8h0M396.4 798.5h0M416.7 767.2h0" stroke="#e8f078" stroke-width="1.60" stroke-linecap="round" stroke-opacity="0.8"/>
<path d="M375.2 786.2h0" stroke="#7f57a8" stroke-width="1.60" stroke-linecap="round" stroke-opacity="0.8"/>
<path d="M415.3 792.4h0M429.1 769.3h0" stroke="#e8f078" stroke-width="1.60" stroke-linecap="round" stroke-opacity="0.8"/>
<path d="M370.4 759.4h0" stroke="#7f57a8" stroke-width="1.60" stroke-linecap="round" stroke-opacity="0.8"/>
<path d="M411.5 778.5h0" stroke="#e8f078" stroke-width="1.60" stroke-linecap="round" stroke-opacity="0.8"/>
<path d="M368.5 771.9h0M370.8 742.8h0" stroke="#7f57a8" stroke-width="1.60" stroke-linecap="round" stroke-opacity="0.8"/>
<path d="M416.6 790.1h0M444.7 731.9h0M410.3 785.7h0M400.2 784.5h0M407.4 798.7h0M428.2 766.1h0" stroke="#e8f078" stroke-width="1.60" stroke-linecap="round" stroke-opacity="0.8"/>
<path d="M363.4 747.2h0" stroke="#7f57a8" stroke-width="1.60" stroke-linecap="round" stroke-opacity="0.8"/>
<path d="M404.2 776.6h0M408.2 781.2h0" stroke="#e8f078" stroke-width="1.60" stroke-linecap="round" stroke-opacity="0.8"/>
<path d="M371.8 763.6h0M368.0 757.4h0" stroke="#7f57a8" stroke-width="1.60" stroke-linecap="round" stroke-opacity="0.8"/>
<path d="M421.1 774.0h0M431.1 757.4h0M432.5 776.2h0M401.6 786.0h0" stroke="#e8f078" stroke-width="1.60" stroke-linecap="round" stroke-opacity="0.8"/>
<path d="M386.0 745.4h0M371.5 774.0h0" stroke="#7f57a8" stroke-width="1.60" stroke-linecap="round" stroke-opacity="0.8"/>
<path d="M415.3 780.8h0M426.7 782.8h0M417.8 750.3h0M432.4 762.2h0" stroke="#e8f078" stroke-width="1.60" stroke-linecap="round" stroke-opacity="0.8"/>
</g>
<rect x="366.2" y="689.8" width="80" height="7.2" fill="#fff" fill-opacity="0.8"/>
<text x="406.2" y="693.4" font-size="7.38" text-anchor="middle" dominant-baseline="central" fill="#e62a2a" textLength="83.16" lengthAdjust="spacingAndGlyphs" stroke="#e62a2a" stroke-width="0.07">Euclidean Distance: 14.53</text>
<rect x="357.1" y="688.4" width="98.2" height="112.7" fill="none" stroke="#d8d8d8" stroke-width="0.9"/>
<text x="406.2" y="683.1" font-size="8.53" text-anchor="middle" dominant-baseline="central" fill="#222" textLength="77.76" lengthAdjust="spacingAndGlyphs" stroke="#222" stroke-width="0.07">Embeddings of SCAD</text>
<line x1="372" y1="801.1" x2="372" y2="803.1" stroke="#555" stroke-width="0.7"/>
<text x="372" y="807.5" font-size="7.0" text-anchor="middle" dominant-baseline="central" fill="#222" textLength="10.97" lengthAdjust="spacingAndGlyphs" stroke="#222" stroke-width="0.07">−10</text>
<line x1="407" y1="801.1" x2="407" y2="803.1" stroke="#555" stroke-width="0.7"/>
<text x="407" y="807.5" font-size="7.0" text-anchor="middle" dominant-baseline="central" fill="#222" textLength="3.31" lengthAdjust="spacingAndGlyphs" stroke="#222" stroke-width="0.07">0</text>
<line x1="442" y1="801.1" x2="442" y2="803.1" stroke="#555" stroke-width="0.7"/>
<text x="442" y="807.5" font-size="7.0" text-anchor="middle" dominant-baseline="central" fill="#222" textLength="6.62" lengthAdjust="spacingAndGlyphs" stroke="#222" stroke-width="0.07">10</text>
<line x1="355.1" y1="695.2" x2="357.1" y2="695.2" stroke="#555" stroke-width="0.7"/>
<text x="353.5" y="695.2" font-size="7.0" text-anchor="end" dominant-baseline="central" fill="#222" textLength="6.62" lengthAdjust="spacingAndGlyphs" stroke="#222" stroke-width="0.07">20</text>
<line x1="355.1" y1="713.8" x2="357.1" y2="713.8" stroke="#555" stroke-width="0.7"/>
<text x="353.5" y="713.8" font-size="7.0" text-anchor="end" dominant-baseline="central" fill="#222" textLength="6.62" lengthAdjust="spacingAndGlyphs" stroke="#222" stroke-width="0.07">15</text>
<line x1="355.1" y1="732.4" x2="357.1" y2="732.4" stroke="#555" stroke-width="0.7"/>
<text x="353.5" y="732.4" font-size="7.0" text-anchor="end" dominant-baseline="central" fill="#222" textLength="6.62" lengthAdjust="spacingAndGlyphs" stroke="#222" stroke-width="0.07">10</text>
<line x1="355.1" y1="751" x2="357.1" y2="751" stroke="#555" stroke-width="0.7"/>
<text x="353.5" y="751" font-size="7.0" text-anchor="end" dominant-baseline="central" fill="#222" textLength="3.31" lengthAdjust="spacingAndGlyphs" stroke="#222" stroke-width="0.07">5</text>
<line x1="355.1" y1="769.6" x2="357.1" y2="769.6" stroke="#555" stroke-width="0.7"/>
<text x="353.5" y="769.6" font-size="7.0" text-anchor="end" dominant-baseline="central" fill="#222" textLength="3.31" lengthAdjust="spacingAndGlyphs" stroke="#222" stroke-width="0.07">0</text>
<line x1="355.1" y1="788.2" x2="357.1" y2="788.2" stroke="#555" stroke-width="0.7"/>
<text x="353.5" y="788.2" font-size="7.0" text-anchor="end" dominant-baseline="central" fill="#222" textLength="7.67" lengthAdjust="spacingAndGlyphs" stroke="#222" stroke-width="0.07">−5</text>
<circle cx="467.9" cy="736.7" r="1.95" fill="#7f57a8"/>
<circle cx="467.9" cy="753.3" r="1.95" fill="#e8f078"/>
<text x="476.3" y="732.2" font-size="7.08" text-anchor="start" dominant-baseline="central" fill="#222" textLength="20.95" lengthAdjust="spacingAndGlyphs" stroke="#222" stroke-width="0.07">Source</text>
<text x="476.3" y="739.6" font-size="7.08" text-anchor="start" dominant-baseline="central" fill="#222" textLength="23.67" lengthAdjust="spacingAndGlyphs" stroke="#222" stroke-width="0.07">Domain</text>
<text x="476.3" y="748.8" font-size="7.08" text-anchor="start" dominant-baseline="central" fill="#222" textLength="18.87" lengthAdjust="spacingAndGlyphs" stroke="#222" stroke-width="0.07">Target</text>
<text x="476.3" y="756.2" font-size="7.08" text-anchor="start" dominant-baseline="central" fill="#222" textLength="23.67" lengthAdjust="spacingAndGlyphs" stroke="#222" stroke-width="0.07">Domain</text>
<clipPath id="cp1545"><rect x="530.5" y="688.4" width="98.8" height="111.4"/></clipPath>
<g clip-path="url(#cp1545)">
<path d="M624.1 698.8h0M544.5 726.9h0M590.3 765.0h0M565.6 698.6h0M542.9 704.3h0M579.6 739.9h0M581.0 716.0h0M552.8 772.2h0M545.6 750.1h0M539.3 697.4h0M575.0 760.2h0M618.8 708.6h0M555.3 788.0h0M600.0 759.4h0M609.8 757.3h0M562.6 749.1h0M539.6 778.0h0M549.1 723.9h0M562.6 713.0h0M620.6 745.6h0M552.4 794.3h0M621.8 783.6h0M602.4 793.8h0M617.6 739.0h0M594.6 733.1h0M556.8 783.8h0M610.4 739.5h0M586.6 784.4h0M620.4 725.0h0M573.6 790.9h0M577.8 696.4h0M603.8 793.5h0M602.7 707.3h0M558.7 710.3h0M622.6 753.3h0M544.9 758.1h0M616.7 748.6h0M562.5 750.8h0M610.2 734.0h0M546.0 763.5h0M561.3 717.9h0M581.6 788.3h0M537.4 758.8h0M586.5 737.3h0M570.1 754.0h0M562.8 779.7h0M565.1 729.0h0M562.0 703.7h0M585.8 779.3h0M577.1 777.9h0M547.5 784.7h0M550.9 776.7h0M622.5 790.8h0M576.2 729.8h0M542.1 762.6h0M571.9 747.6h0M596.5 743.8h0M582.5 767.2h0M540.5 728.6h0M582.8 743.5h0M587.6 700.8h0M603.5 746.0h0M554.1 779.1h0M587.5 716.4h0M596.0 718.4h0M542.7 787.3h0M586.2 717.4h0M553.6 695.4h0M577.8 789.7h0M589.6 694.3h0M623.9 696.8h0M575.4 706.5h0M565.9 707.2h0M582.3 757.0h0M539.5 756.1h0M595.5 777.0h0M575.9 770.7h0M550.5 761.0h0M550.4 735.7h0M595.2 761.9h0M543.6 764.6h0M547.5 731.5h0M614.1 789.9h0M575.5 746.1h0M539.4 695.5h0M546.2 783.8h0M541.6 757.6h0M595.0 742.2h0M573.6 771.0h0M610.4 770.6h0M575.8 727.2h0M537.8 780.1h0M576.9 768.3h0M552.6 697.5h0M536.9 764.5h0M550.9 774.1h0M619.4 759.1h0M588.2 732.4h0M617.2 701.8h0M566.6 728.8h0M544.8 728.6h0M557.2 794.7h0M604.6 694.6h0M598.2 716.1h0M619.2 760.4h0M614.4 745.8h0M581.9 788.4h0M560.6 755.3h0M584.8 772.8h0M623.1 707.3h0M548.6 784.7h0M540.2 776.0h0M605.0 771.9h0M589.0 738.6h0M621.7 751.8h0M554.3 743.3h0M569.3 784.0h0M614.5 760.3h0M536.4 709.4h0M611.5 756.0h0M606.6 745.2h0M590.1 748.2h0M547.1 699.2h0M537.1 792.9h0M575.9 775.7h0M610.5 707.3h0M563.1 786.6h0M584.6 757.4h0M624.2 757.0h0M591.2 698.2h0M616.6 781.7h0M574.2 742.5h0M603.2 708.7h0M616.1 736.1h0M608.3 707.4h0M545.4 696.2h0M565.6 794.1h0M560.2 729.9h0M569.7 735.5h0M606.3 763.6h0M554.2 719.9h0M543.3 701.6h0M610.3 761.0h0M580.4 721.0h0M616.4 696.1h0M580.8 753.4h0M541.2 694.7h0M559.7 773.5h0M615.2 719.5h0M579.3 730.8h0M619.2 747.9h0M540.9 694.3h0M622.7 704.0h0M553.5 765.3h0M540.1 737.6h0M618.7 740.7h0M545.7 782.3h0M604.0 772.2h0M604.3 735.6h0M570.4 750.7h0M609.6 698.0h0M549.5 716.7h0M590.8 771.9h0M553.6 773.8h0M621.2 722.1h0M535.9 753.1h0M602.0 775.1h0M575.0 763.3h0M580.7 785.9h0M594.9 785.1h0M581.2 778.9h0M589.7 788.6h0M558.0 717.2h0M545.0 774.4h0M591.2 735.8h0M541.7 740.6h0M618.7 784.0h0M569.3 791.9h0M594.9 786.8h0M570.6 776.6h0M603.9 776.7h0M561.6 727.4h0M542.8 740.3h0M550.2 777.6h0M624.9 787.7h0M558.2 761.0h0M599.5 776.0h0M547.4 768.4h0M589.5 697.3h0M587.5 794.3h0M569.6 740.5h0M607.5 695.8h0M547.9 713.0h0M599.0 730.1h0M584.9 729.9h0M564.6 788.7h0M559.0 793.3h0M605.6 768.6h0M617.5 737.8h0M597.9 743.9h0M613.3 718.2h0M547.3 726.2h0M609.8 724.8h0M610.2 725.9h0M576.4 788.3h0M556.9 722.8h0M562.0 718.2h0M608.4 694.8h0M615.9 696.4h0M557.5 786.3h0M610.6 762.7h0M615.2 723.1h0M623.8 774.8h0M560.9 726.5h0M536.5 726.6h0M584.9 746.3h0M542.2 720.1h0M540.5 725.0h0M607.7 770.0h0M613.1 772.2h0M569.4 713.9h0M615.0 702.0h0M604.8 793.7h0M611.5 708.1h0M617.1 761.4h0M548.0 713.3h0M560.4 754.2h0M615.8 777.5h0M560.7 762.0h0M608.2 699.3h0M550.7 767.1h0M604.7 774.1h0M589.2 749.5h0M610.8 769.1h0M582.4 736.2h0M539.3 789.1h0M554.0 791.6h0M570.1 738.6h0M579.2 730.9h0M587.5 723.1h0M611.9 793.5h0M541.6 792.8h0M585.5 780.0h0M579.5 767.6h0M573.3 751.3h0M588.9 793.4h0M580.5 765.1h0M585.4 755.2h0M537.4 750.7h0M585.0 707.9h0M578.2 767.3h0M537.9 779.4h0M620.4 740.4h0M617.2 784.7h0M550.0 706.5h0M539.7 747.3h0M594.3 742.0h0M595.0 790.9h0M584.9 741.6h0M605.3 746.8h0M564.7 749.6h0M550.7 716.7h0M583.8 768.7h0M597.8 764.0h0M581.1 695.4h0M619.2 750.4h0M559.2 720.4h0M622.5 708.2h0M589.0 719.1h0M625.0 765.8h0M544.0 719.5h0M618.2 737.0h0M562.9 756.4h0M536.2 720.0h0M623.4 781.3h0M588.1 751.6h0M592.5 697.3h0M609.4 732.1h0M539.0 761.7h0M565.0 722.4h0M548.0 771.7h0M546.0 725.7h0M535.9 757.5h0M567.0 705.1h0M540.6 720.9h0M575.8 763.0h0M538.6 755.9h0M622.3 720.0h0M549.8 782.8h0M584.0 730.5h0M618.8 699.6h0M613.4 782.8h0M575.5 773.6h0M590.6 770.2h0M574.4 705.0h0M559.3 706.6h0M590.3 769.0h0M596.7 729.1h0M570.6 710.3h0M603.7 735.3h0M596.2 712.3h0M587.1 721.6h0M579.5 750.5h0M568.4 757.9h0M609.7 759.0h0M586.2 757.4h0M588.7 783.1h0M538.4 759.2h0M559.3 708.7h0M605.3 708.5h0M579.1 729.5h0M603.6 763.2h0M545.1 697.4h0M619.2 788.9h0M551.3 711.0h0M594.7 715.3h0M579.1 773.1h0M551.8 703.4h0M584.2 742.2h0M590.3 726.3h0M560.3 787.6h0M618.2 777.6h0M601.9 750.8h0M565.1 702.0h0M600.7 716.9h0M561.9 723.1h0M568.2 719.0h0M613.5 787.0h0M607.9 760.1h0M539.1 724.8h0M608.4 771.6h0M596.4 729.9h0M585.6 705.2h0M601.7 740.2h0M622.8 792.9h0M593.4 727.4h0M596.2 716.3h0M580.2 781.6h0M592.8 787.6h0M611.7 723.1h0M545.7 723.8h0M554.8 715.4h0M539.4 793.6h0M570.0 752.6h0M571.8 795.2h0M535.7 748.4h0M596.8 698.2h0M606.5 762.5h0M577.5 721.1h0M565.9 734.7h0M571.4 721.5h0M568.5 784.5h0M576.2 750.5h0M585.9 765.6h0M565.0 715.5h0M604.5 791.9h0M580.0 717.3h0M541.0 749.3h0M552.6 740.6h0M571.7 731.5h0M592.3 777.8h0M569.3 785.6h0M621.2 790.0h0M553.0 765.0h0M547.4 792.8h0M557.5 781.8h0M623.0 772.7h0M563.0 795.7h0M549.2 775.2h0M544.3 772.9h0M608.6 780.8h0M620.5 794.2h0M548.3 783.2h0M595.1 783.1h0M583.6 783.7h0M570.4 793.9h0M606.1 794.1h0M609.2 792.5h0M550.0 795.1h0M574.0 795.6h0M537.4 785.8h0M590.7 769.3h0M571.6 794.9h0M584.0 777.1h0M551.9 787.8h0M543.1 794.2h0M573.7 776.7h0M593.2 789.5h0M610.8 767.3h0M623.9 791.7h0M537.3 794.9h0M587.9 787.9h0M589.1 772.6h0M590.2 788.7h0M579.0 793.9h0M605.5 794.7h0M551.4 790.6h0M602.4 794.5h0M560.6 794.9h0M543.1 791.1h0M621.4 793.2h0M570.2 787.4h0M573.9 791.0h0M578.7 777.5h0M583.0 790.0h0M616.5 792.0h0M552.9 773.0h0M579.7 778.0h0M600.9 787.2h0M599.7 791.5h0M615.0 784.2h0M607.9 786.3h0M612.9 778.8h0M606.9 790.2h0M605.7 784.9h0M600.6 778.7h0M569.3 795.8h0M537.7 788.1h0M609.8 788.5h0M586.0 794.3h0M568.4 794.1h0M574.8 774.8h0M579.3 790.2h0M547.7 792.6h0M546.3 774.1h0M568.7 788.9h0M553.3 778.6h0M578.3 794.1h0M612.8 785.0h0M620.1 786.6h0M594.3 787.0h0M542.4 792.0h0M608.8 793.4h0M597.5 793.5h0M554.7 780.8h0M623.9 794.3h0M616.9 789.6h0M597.3 792.1h0M541.9 791.8h0M546.0 789.3h0M549.7 784.6h0M599.8 778.4h0M572.3 779.7h0M541.2 795.3h0M605.9 774.2h0M617.2 791.2h0M589.5 794.2h0M569.1 793.8h0M556.9 788.6h0M583.7 792.6h0M617.3 778.7h0M580.1 794.5h0M564.1 787.0h0M593.5 793.5h0M551.0 778.5h0M607.8 782.6h0M557.4 791.1h0M590.6 788.0h0M616.9 784.1h0M573.6 791.3h0M556.9 793.1h0M592.1 771.8h0M623.2 785.2h0M571.3 793.1h0M605.4 784.1h0M612.3 795.2h0M588.0 792.1h0M543.9 770.3h0M595.4 786.1h0M622.9 790.0h0M621.9 789.7h0M603.3 787.3h0M544.4 772.4h0M609.7 790.6h0M536.3 795.3h0M570.4 770.7h0M536.1 777.7h0M565.2 786.6h0M576.5 772.7h0M600.7 792.2h0M555.5 773.0h0M574.1 774.3h0M578.9 779.0h0M538.0 788.8h0M565.2 795.2h0M576.7 770.7h0M579.0 761.9h0M592.6 774.7h0M620.3 787.8h0M617.8 788.0h0M605.3 795.0h0M557.8 776.8h0M620.7 779.3h0M608.7 765.2h0M550.9 778.6h0M569.0 785.7h0M586.6 794.0h0M623.1 787.7h0M603.1 795.2h0M567.6 789.2h0M591.4 774.3h0M572.3 791.8h0M547.1 787.7h0M624.7 766.3h0M619.7 782.4h0M569.0 782.9h0M550.8 779.5h0M544.2 782.8h0M588.4 792.2h0M604.7 790.7h0M568.4 777.6h0M600.4 792.0h0M612.7 782.8h0M595.5 792.2h0M574.6 786.9h0M563.1 790.8h0M596.5 775.9h0M565.3 779.9h0M618.1 792.7h0M601.1 778.9h0M566.8 758.9h0M594.6 790.4h0M602.0 774.5h0M579.4 781.6h0M604.6 793.9h0M608.4 789.2h0M575.2 774.0h0M559.7 794.5h0M558.8 786.6h0M605.5 789.2h0" stroke="#e2ee3c" stroke-width="1.60" stroke-linecap="round" stroke-opacity="0.8"/>
<path d="M546.1 789.9h0M544.8 791.1h0M546.9 794.5h0M545.3 787.1h0M547.3 790.4h0M547.3 793.9h0M546.3 795.7h0M543.5 790.0h0M548.8 795.6h0M546.1 783.7h0M546.5 783.6h0M547.1 788.8h0M547.2 789.5h0M547.2 791.3h0M547.1 791.6h0M547.4 792.3h0M547.5 790.9h0M548.3 793.2h0M548.5 795.7h0M549.1 792.1h0M548.6 718.3h0M545.5 766.5h0M547.5 717.8h0M547.4 759.1h0M545.7 759.0h0M547.2 751.6h0M547.5 726.0h0M551.3 721.7h0M546.0 757.1h0M545.4 748.8h0M549.3 794.9h0M547.4 726.3h0M545.1 795.1h0M547.4 741.9h0M546.1 708.0h0M566.2 789.2h0M565.3 790.3h0M563.4 792.0h0M567.4 787.6h0M565.9 795.8h0M566.7 785.0h0M566.6 793.8h0M566.0 793.4h0M567.4 793.5h0M565.6 792.8h0M565.2 788.0h0M565.6 790.7h0M567.4 785.2h0M566.4 785.3h0M567.4 793.1h0M568.1 790.9h0M564.9 795.5h0M565.5 791.2h0M564.9 793.1h0M566.4 793.9h0M569.7 781.6h0M566.4 731.6h0M566.0 790.4h0M566.4 793.8h0M567.3 715.6h0M565.1 757.7h0M566.7 737.8h0M566.0 756.0h0M567.2 731.1h0M565.6 782.3h0M568.0 707.4h0M567.2 718.0h0M571.4 713.1h0M566.4 731.1h0M564.3 730.4h0M586.3 792.6h0M583.2 795.8h0M583.7 787.5h0M583.7 791.3h0M581.6 793.7h0M579.9 781.1h0M584.7 785.0h0M586.1 784.5h0M583.5 792.9h0M585.0 792.9h0M583.7 790.5h0M583.0 787.2h0M583.1 786.1h0M583.8 793.7h0M582.1 782.4h0M581.5 791.5h0M580.7 783.8h0M583.2 784.1h0M584.1 785.0h0M583.6 793.5h0M585.2 739.9h0M584.9 742.0h0M585.3 755.6h0M583.7 714.5h0M584.0 774.5h0M584.5 708.3h0M584.2 781.7h0M583.7 696.2h0M584.9 744.1h0M584.7 732.9h0M582.6 706.4h0M585.0 725.1h0M582.8 753.3h0M583.2 779.2h0M585.0 732.3h0M601.6 789.6h0M601.7 788.4h0M603.0 790.5h0M600.7 789.7h0M604.5 775.2h0M600.8 789.0h0M600.6 788.2h0M601.9 784.9h0M601.0 792.5h0M600.4 790.6h0M602.1 793.2h0M602.2 792.7h0M601.9 787.2h0M603.5 793.5h0M603.2 777.1h0M603.8 795.7h0M601.9 795.5h0M602.1 788.6h0M599.2 793.0h0M601.7 782.4h0M604.1 761.4h0M600.4 724.2h0M603.2 756.4h0M601.7 745.5h0M604.7 753.1h0M602.4 754.8h0M600.4 708.2h0M603.6 782.8h0M601.8 696.3h0M603.0 711.7h0M600.4 738.9h0M600.9 746.6h0M599.9 739.4h0M600.7 753.1h0M602.8 768.3h0M621.6 794.4h0M619.9 788.3h0M620.8 780.1h0M619.3 790.6h0M621.6 795.3h0M618.9 790.8h0M619.5 794.8h0M619.2 779.9h0M622.5 788.5h0M618.9 795.4h0M621.3 784.8h0M620.4 785.0h0M620.9 793.5h0M618.3 793.5h0M620.1 787.3h0M620.8 786.6h0M621.8 788.0h0M619.7 789.7h0M620.0 792.8h0M623.5 773.4h0M619.6 736.7h0M620.4 760.2h0M620.3 767.7h0M620.7 743.0h0M621.0 783.2h0M621.0 767.8h0M620.2 718.8h0M617.6 699.3h0M620.4 758.7h0M620.1 794.4h0M619.3 725.2h0M619.7 709.0h0M621.6 742.5h0M620.7 759.9h0M618.6 751.6h0" stroke="#440154" stroke-width="1.60" stroke-linecap="round" stroke-opacity="0.8"/>
</g>
<rect x="530.5" y="688.4" width="98.8" height="111.4" fill="none" stroke="#d8d8d8" stroke-width="0.9"/>
<text x="579.9" y="683.1" font-size="8.53" text-anchor="middle" dominant-baseline="central" fill="#222" textLength="56.66" lengthAdjust="spacingAndGlyphs" stroke="#222" stroke-width="0.07">Scores of SCAD</text>
<line x1="535.7" y1="799.8" x2="535.7" y2="801.8" stroke="#555" stroke-width="0.7"/>
<text x="535.7" y="806.2" font-size="7.0" text-anchor="middle" dominant-baseline="central" fill="#222" textLength="3.31" lengthAdjust="spacingAndGlyphs" stroke="#222" stroke-width="0.07">0</text>
<line x1="567.1" y1="799.8" x2="567.1" y2="801.8" stroke="#555" stroke-width="0.7"/>
<text x="567.1" y="806.2" font-size="7.0" text-anchor="middle" dominant-baseline="central" fill="#222" textLength="9.93" lengthAdjust="spacingAndGlyphs" stroke="#222" stroke-width="0.07">200</text>
<line x1="598.5" y1="799.8" x2="598.5" y2="801.8" stroke="#555" stroke-width="0.7"/>
<text x="598.5" y="806.2" font-size="7.0" text-anchor="middle" dominant-baseline="central" fill="#222" textLength="9.93" lengthAdjust="spacingAndGlyphs" stroke="#222" stroke-width="0.07">400</text>
<line x1="528.5" y1="694.2" x2="530.5" y2="694.2" stroke="#555" stroke-width="0.7"/>
<text x="526.9" y="694.2" font-size="7.0" text-anchor="end" dominant-baseline="central" fill="#222" textLength="8.27" lengthAdjust="spacingAndGlyphs" stroke="#222" stroke-width="0.07">1.0</text>
<line x1="528.5" y1="714.52" x2="530.5" y2="714.52" stroke="#555" stroke-width="0.7"/>
<text x="526.9" y="714.52" font-size="7.0" text-anchor="end" dominant-baseline="central" fill="#222" textLength="8.27" lengthAdjust="spacingAndGlyphs" stroke="#222" stroke-width="0.07">0.8</text>
<line x1="528.5" y1="734.84" x2="530.5" y2="734.84" stroke="#555" stroke-width="0.7"/>
<text x="526.9" y="734.84" font-size="7.0" text-anchor="end" dominant-baseline="central" fill="#222" textLength="8.27" lengthAdjust="spacingAndGlyphs" stroke="#222" stroke-width="0.07">0.6</text>
<line x1="528.5" y1="755.16" x2="530.5" y2="755.16" stroke="#555" stroke-width="0.7"/>
<text x="526.9" y="755.16" font-size="7.0" text-anchor="end" dominant-baseline="central" fill="#222" textLength="8.27" lengthAdjust="spacingAndGlyphs" stroke="#222" stroke-width="0.07">0.4</text>
<line x1="528.5" y1="775.48" x2="530.5" y2="775.48" stroke="#555" stroke-width="0.7"/>
<text x="526.9" y="775.48" font-size="7.0" text-anchor="end" dominant-baseline="central" fill="#222" textLength="8.27" lengthAdjust="spacingAndGlyphs" stroke="#222" stroke-width="0.07">0.2</text>
<line x1="528.5" y1="795.8" x2="530.5" y2="795.8" stroke="#555" stroke-width="0.7"/>
<text x="526.9" y="795.8" font-size="7.0" text-anchor="end" dominant-baseline="central" fill="#222" textLength="8.27" lengthAdjust="spacingAndGlyphs" stroke="#222" stroke-width="0.07">0.0</text>
<circle cx="641.6" cy="739.3" r="1.95" fill="#440154"/>
<circle cx="641.6" cy="749.3" r="1.95" fill="#e2ee3c"/>
<text x="653.5" y="739.6" font-size="7.08" text-anchor="start" dominant-baseline="central" fill="#222" textLength="28.16" lengthAdjust="spacingAndGlyphs" stroke="#222" stroke-width="0.07">Resistant</text>
<text x="653.5" y="749.6" font-size="7.08" text-anchor="start" dominant-baseline="central" fill="#222" textLength="27.81" lengthAdjust="spacingAndGlyphs" stroke="#222" stroke-width="0.07">Sensitive</text>
</svg></body></html>
